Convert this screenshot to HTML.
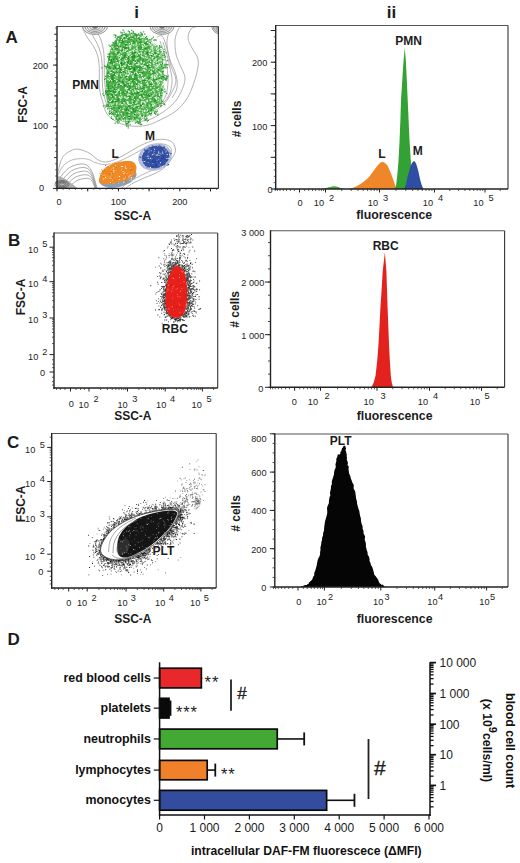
<!DOCTYPE html>
<html><head><meta charset="utf-8"><style>
html,body{margin:0;padding:0;background:#fff;}
svg{display:block;font-family:"Liberation Sans",sans-serif;}
</style></head><body>
<svg width="520" height="863" viewBox="0 0 520 863">
<rect width="520" height="863" fill="#fff"/>
<text x="136.50" y="17.70" font-size="17" font-weight="bold" text-anchor="middle" fill="#1c1c1c">i</text>
<text x="391.60" y="17.70" font-size="17" font-weight="bold" text-anchor="middle" fill="#1c1c1c">ii</text>
<text x="5.50" y="43.00" font-size="17" font-weight="bold" text-anchor="start" fill="#1c1c1c">A</text>
<text x="8.00" y="245.80" font-size="17" font-weight="bold" text-anchor="start" fill="#1c1c1c">B</text>
<text x="7.00" y="448.30" font-size="17" font-weight="bold" text-anchor="start" fill="#1c1c1c">C</text>
<text x="7.50" y="644.60" font-size="17" font-weight="bold" text-anchor="start" fill="#1c1c1c">D</text>
<path d="M82.0,26.5 C82.8,28.2 84.8,33.2 87.0,37.0 C89.2,40.8 93.0,44.7 95.0,49.0 C97.0,53.3 98.2,56.5 99.0,63.0 C99.8,69.5 98.9,81.7 99.5,88.0 C100.1,94.3 101.2,96.7 102.5,101.0 C103.8,105.3 104.4,110.4 107.0,114.0 C109.6,117.6 114.0,120.5 118.0,122.5 C122.0,124.5 126.3,125.5 131.0,126.0 C135.7,126.5 141.2,126.5 146.0,125.5 C150.8,124.5 155.0,122.4 160.0,120.0 C165.0,117.6 171.7,114.3 176.0,111.0 C180.3,107.7 183.3,103.8 186.0,100.0 C188.7,96.2 190.2,92.7 192.0,88.0 C193.8,83.3 196.0,76.8 197.0,72.0 C198.0,67.2 198.8,63.0 198.0,59.0 C197.2,55.0 193.7,51.5 192.0,48.0 C190.3,44.5 188.2,41.2 188.0,38.0 C187.8,34.8 189.5,30.9 191.0,29.0 C192.5,27.1 196.0,26.9 197.0,26.5" fill="none" stroke="#9a9a9a" stroke-width="0.75"/>
<path d="M88.0,26.5 C88.8,28.1 91.2,32.4 93.0,36.0 C94.8,39.6 97.5,43.7 99.0,48.0 C100.5,52.3 101.4,55.7 102.0,62.0 C102.6,68.3 102.0,79.8 102.5,86.0 C103.0,92.2 103.8,94.8 105.0,99.0 C106.2,103.2 107.5,107.8 110.0,111.0 C112.5,114.2 116.2,116.8 120.0,118.5 C123.8,120.2 128.3,121.2 133.0,121.5 C137.7,121.8 143.5,121.2 148.0,120.0 C152.5,118.8 155.8,116.7 160.0,114.0 C164.2,111.3 169.5,107.7 173.0,104.0 C176.5,100.3 179.0,96.3 181.0,92.0 C183.0,87.7 185.2,82.5 185.0,78.0 C184.8,73.5 181.5,69.0 180.0,65.0 C178.5,61.0 176.8,58.2 176.0,54.0 C175.2,49.8 174.7,44.0 175.0,40.0 C175.3,36.0 177.0,32.2 178.0,30.0 C179.0,27.8 180.5,27.1 181.0,26.5" fill="none" stroke="#9a9a9a" stroke-width="0.75"/>
<path d="M96.0,31.0 C96.8,32.5 99.7,36.0 101.0,40.0 C102.3,44.0 103.4,48.3 104.0,55.0 C104.6,61.7 104.0,73.0 104.5,80.0 C105.0,87.0 105.6,92.3 107.0,97.0 C108.4,101.7 110.2,105.2 113.0,108.0 C115.8,110.8 119.8,112.7 124.0,114.0 C128.2,115.3 133.3,116.3 138.0,116.0 C142.7,115.7 147.7,114.0 152.0,112.0 C156.3,110.0 160.7,107.3 164.0,104.0 C167.3,100.7 170.0,96.0 172.0,92.0 C174.0,88.0 176.2,84.3 176.0,80.0 C175.8,75.7 172.3,70.7 171.0,66.0 C169.7,61.3 168.7,56.3 168.0,52.0 C167.3,47.7 166.7,43.7 167.0,40.0 C167.3,36.3 169.5,31.7 170.0,30.0" fill="none" stroke="#9a9a9a" stroke-width="0.75"/>
<path d="M160.0,41.0 C160.7,43.0 162.8,48.5 164.0,53.0 C165.2,57.5 166.3,63.2 167.0,68.0 C167.7,72.8 168.2,77.5 168.0,82.0 C167.8,86.5 167.3,91.3 166.0,95.0 C164.7,98.7 162.7,101.5 160.0,104.0 C157.3,106.5 153.7,108.7 150.0,110.0 C146.3,111.3 140.0,111.7 138.0,112.0" fill="none" stroke="#9a9a9a" stroke-width="0.75"/>
<path d="M163.0,42.0 C163.7,44.2 165.8,50.7 167.0,55.0 C168.2,59.3 169.2,63.8 170.0,68.0 C170.8,72.2 172.0,75.8 172.0,80.0 C172.0,84.2 171.5,89.2 170.0,93.0 C168.5,96.8 166.0,100.2 163.0,103.0 C160.0,105.8 153.8,108.8 152.0,110.0" fill="none" stroke="#9a9a9a" stroke-width="0.75"/>
<path d="M157.0,37.0 C157.8,36.8 160.5,34.7 162.0,36.0 C163.5,37.3 164.7,41.0 166.0,45.0 C167.3,49.0 168.3,55.0 170.0,60.0 C171.7,65.0 174.8,70.3 176.0,75.0 C177.2,79.7 177.7,84.2 177.0,88.0 C176.3,91.8 172.8,96.3 172.0,98.0" fill="none" stroke="#9a9a9a" stroke-width="0.75"/>
<defs><clipPath id="cpA"><rect x="57" y="26.5" width="161.5" height="161.5"/></clipPath></defs>
<g clip-path="url(#cpA)">
<ellipse cx="95" cy="26.5" rx="12.5" ry="8.0" fill="#f0f0f0" stroke="#6f6f6f" stroke-width="0.7"/>
<ellipse cx="95" cy="26.5" rx="10.1" ry="6.5" fill="none" stroke="#6f6f6f" stroke-width="0.7"/>
<ellipse cx="95" cy="26.5" rx="7.8" ry="5.0" fill="none" stroke="#6f6f6f" stroke-width="0.7"/>
<ellipse cx="95" cy="26.5" rx="5.4" ry="3.4" fill="none" stroke="#6f6f6f" stroke-width="0.7"/>
<ellipse cx="95" cy="26.5" rx="3.0" ry="1.9" fill="none" stroke="#6f6f6f" stroke-width="0.7"/>
<ellipse cx="95" cy="26.5" rx="2.5" ry="2.0" fill="#777"/>
<ellipse cx="162" cy="26.5" rx="12.0" ry="8.0" fill="#f0f0f0" stroke="#6f6f6f" stroke-width="0.7"/>
<ellipse cx="162" cy="26.5" rx="9.7" ry="6.5" fill="none" stroke="#6f6f6f" stroke-width="0.7"/>
<ellipse cx="162" cy="26.5" rx="7.4" ry="5.0" fill="none" stroke="#6f6f6f" stroke-width="0.7"/>
<ellipse cx="162" cy="26.5" rx="5.2" ry="3.4" fill="none" stroke="#6f6f6f" stroke-width="0.7"/>
<ellipse cx="162" cy="26.5" rx="2.9" ry="1.9" fill="none" stroke="#6f6f6f" stroke-width="0.7"/>
<ellipse cx="162" cy="26.5" rx="2.4" ry="2.0" fill="#777"/>
<ellipse cx="219" cy="26.5" rx="7.0" ry="7.0" fill="#f0f0f0" stroke="#6f6f6f" stroke-width="0.7"/>
<ellipse cx="219" cy="26.5" rx="5.7" ry="5.7" fill="none" stroke="#6f6f6f" stroke-width="0.7"/>
<ellipse cx="219" cy="26.5" rx="4.3" ry="4.3" fill="none" stroke="#6f6f6f" stroke-width="0.7"/>
<ellipse cx="219" cy="26.5" rx="3.0" ry="3.0" fill="none" stroke="#6f6f6f" stroke-width="0.7"/>
<ellipse cx="219" cy="26.5" rx="1.7" ry="1.7" fill="none" stroke="#6f6f6f" stroke-width="0.7"/>
<ellipse cx="219" cy="26.5" rx="1.4" ry="1.8" fill="#777"/>
</g>
<path d="M57.0,176.0 C57.9,172.9 59.9,161.8 62.5,157.5 C65.1,153.2 69.6,151.3 72.5,150.0 C75.4,148.7 77.1,148.9 80.0,149.5 C82.9,150.1 87.1,151.8 90.0,153.5 C92.9,155.2 95.0,158.1 97.5,159.5 C100.0,160.9 102.1,162.0 105.0,162.0 C107.9,162.0 111.7,160.8 115.0,159.5 C118.3,158.2 121.7,156.3 125.0,154.5 C128.3,152.7 131.7,150.3 135.0,148.5 C138.3,146.7 141.7,144.9 145.0,143.5 C148.3,142.1 151.7,140.7 155.0,140.0 C158.3,139.3 162.1,139.1 165.0,139.5 C167.9,139.9 170.8,140.8 172.5,142.5 C174.2,144.2 175.5,147.5 175.5,150.0 C175.5,152.5 174.2,154.7 172.5,157.5 C170.8,160.3 167.9,164.3 165.0,167.0 C162.1,169.7 158.3,171.8 155.0,173.5 C151.7,175.2 147.9,176.2 145.0,177.5 C142.1,178.8 140.0,179.8 137.5,181.0 C135.0,182.2 131.9,183.8 130.0,185.0 C128.1,186.2 126.7,187.5 126.0,188.0" fill="none" stroke="#9a9a9a" stroke-width="0.75"/>
<path d="M57.0,177.0 C58.0,175.2 60.5,168.8 63.0,166.0 C65.5,163.2 68.7,161.2 72.0,160.0 C75.3,158.8 79.7,158.6 82.7,158.6 C85.7,158.6 88.0,159.3 90.0,160.0 C92.0,160.7 92.8,161.8 95.0,162.5 C97.2,163.2 100.2,164.3 103.0,164.5 C105.8,164.7 108.8,164.2 112.0,163.5 C115.2,162.8 118.7,161.4 122.0,160.0 C125.3,158.6 128.5,156.8 132.0,155.0 C135.5,153.2 139.5,150.7 143.0,149.0 C146.5,147.3 149.7,145.8 153.0,145.0 C156.3,144.2 160.2,143.7 163.0,144.0 C165.8,144.3 168.6,145.5 170.0,147.0 C171.4,148.5 172.0,150.7 171.5,153.0 C171.0,155.3 169.4,158.5 167.0,161.0 C164.6,163.5 160.5,166.0 157.0,168.0 C153.5,170.0 149.5,171.3 146.0,173.0 C142.5,174.7 139.2,176.3 136.0,178.0 C132.8,179.7 129.3,181.3 127.0,183.0 C124.7,184.7 122.8,187.2 122.0,188.0" fill="none" stroke="#9a9a9a" stroke-width="0.7"/>
<path d="M58.0,180.0 C59.9,177.9 65.3,170.2 69.6,167.5 C73.9,164.9 80.1,163.4 83.8,164.0 C87.5,164.6 89.5,167.2 91.7,171.2 C93.9,175.2 96.1,185.2 97.0,188.0" fill="none" stroke="#8a8a8a" stroke-width="0.7"/>
<path d="M61.0,181.5 C62.8,179.7 67.7,173.0 71.7,170.7 C75.7,168.3 81.4,167.1 84.8,167.6 C88.2,168.1 89.9,170.3 91.8,173.7 C93.8,177.1 95.7,185.6 96.5,188.0" fill="none" stroke="#8a8a8a" stroke-width="0.7"/>
<path d="M64.0,183.0 C65.6,181.5 70.2,175.8 73.8,173.8 C77.4,171.8 82.8,170.8 85.8,171.2 C88.8,171.6 90.2,173.4 91.9,176.2 C93.6,179.0 95.3,186.0 96.0,188.0" fill="none" stroke="#8a8a8a" stroke-width="0.7"/>
<path d="M67.0,184.5 C68.5,183.2 72.6,178.6 75.9,176.9 C79.2,175.3 84.1,174.5 86.8,174.8 C89.5,175.1 90.6,176.6 92.0,178.8 C93.5,181.0 94.9,186.5 95.5,188.0" fill="none" stroke="#8a8a8a" stroke-width="0.7"/>
<path d="M70.0,186.0 C71.3,185.0 75.0,181.3 78.0,180.1 C81.0,178.8 85.4,178.2 87.8,178.4 C90.2,178.6 90.9,179.7 92.1,181.3 C93.3,182.9 94.5,186.9 95.0,188.0" fill="none" stroke="#8a8a8a" stroke-width="0.7"/>
<path d="M57,176 C62,176 67,180 71,183 C74,185 76,187 77,188 L57,188Z" fill="#b0b0b0"/>
<ellipse cx="62" cy="184.5" rx="7.0" ry="4.0" fill="none" stroke="#666" stroke-width="0.8"/>
<ellipse cx="62" cy="184.5" rx="5.5" ry="3.2" fill="none" stroke="#666" stroke-width="0.8"/>
<ellipse cx="62" cy="184.5" rx="4.0" ry="2.4" fill="none" stroke="#666" stroke-width="0.8"/>
<ellipse cx="62" cy="184.5" rx="2.5" ry="1.6" fill="none" stroke="#666" stroke-width="0.8"/>
<defs><radialGradient id="gg" cx="0.45" cy="0.5" r="0.65"><stop offset="0" stop-color="#3aa83a"/><stop offset="0.7" stop-color="#55b553"/><stop offset="1" stop-color="#8fcc8c"/></radialGradient></defs>
<path d="M123.0,34.0 C125.5,33.2 129.2,33.4 132.0,33.5 C134.8,33.6 137.0,33.4 140.0,34.5 C143.0,35.6 147.0,37.9 150.0,40.0 C153.0,42.1 156.0,44.5 158.0,47.0 C160.0,49.5 161.1,52.0 162.0,55.0 C162.9,58.0 163.2,61.2 163.5,65.0 C163.8,68.8 164.0,73.5 164.0,78.0 C164.0,82.5 164.2,87.8 163.5,92.0 C162.8,96.2 161.6,99.8 160.0,103.0 C158.4,106.2 156.3,108.6 154.0,111.0 C151.7,113.4 148.7,115.8 146.0,117.5 C143.3,119.2 141.3,120.2 138.0,121.0 C134.7,121.8 129.5,122.3 126.0,122.0 C122.5,121.7 119.5,120.6 117.0,119.0 C114.5,117.4 112.6,115.0 111.0,112.5 C109.4,110.0 108.3,107.4 107.5,104.0 C106.7,100.6 106.2,96.3 106.0,92.0 C105.8,87.7 105.8,82.3 106.0,78.0 C106.2,73.7 106.5,69.8 107.0,66.0 C107.5,62.2 108.2,58.5 109.0,55.0 C109.8,51.5 110.7,47.8 112.0,45.0 C113.3,42.2 115.2,39.8 117.0,38.0 C118.8,36.2 120.5,34.8 123.0,34.0Z" fill="url(#gg)" stroke="none" stroke-width="1"/>
<path fill="#23962a" d="M132.0 83.1h1.2v1.2h-1.2zM108.5 89.5h1.2v1.2h-1.2zM117.2 55.0h1.2v1.2h-1.2zM140.1 53.6h1.2v1.2h-1.2zM149.7 43.0h1.2v1.2h-1.2zM125.8 94.7h1.2v1.2h-1.2zM109.0 90.5h1.2v1.2h-1.2zM134.8 88.1h1.2v1.2h-1.2zM131.7 89.6h1.2v1.2h-1.2zM127.4 83.9h1.2v1.2h-1.2zM117.2 114.7h1.2v1.2h-1.2zM128.8 105.5h1.2v1.2h-1.2zM161.7 73.7h1.2v1.2h-1.2zM163.0 74.0h1.2v1.2h-1.2zM147.1 102.4h1.2v1.2h-1.2zM116.8 48.2h1.2v1.2h-1.2zM141.9 36.4h1.2v1.2h-1.2zM128.7 85.1h1.2v1.2h-1.2zM111.7 72.2h1.2v1.2h-1.2zM141.3 90.5h1.2v1.2h-1.2zM152.2 80.4h1.2v1.2h-1.2zM126.9 91.8h1.2v1.2h-1.2zM139.0 76.1h1.2v1.2h-1.2zM122.8 98.4h1.2v1.2h-1.2zM140.9 114.9h1.2v1.2h-1.2zM140.3 105.0h1.2v1.2h-1.2zM157.2 59.2h1.2v1.2h-1.2zM116.0 94.4h1.2v1.2h-1.2zM123.6 68.7h1.2v1.2h-1.2zM129.2 37.8h1.2v1.2h-1.2zM116.7 44.8h1.2v1.2h-1.2zM141.9 45.7h1.2v1.2h-1.2zM138.7 55.6h1.2v1.2h-1.2zM141.3 42.4h1.2v1.2h-1.2zM146.5 64.8h1.2v1.2h-1.2zM112.6 101.3h1.2v1.2h-1.2zM123.9 36.1h1.2v1.2h-1.2zM149.4 86.6h1.2v1.2h-1.2zM123.0 107.0h1.2v1.2h-1.2zM136.9 35.2h1.2v1.2h-1.2zM107.3 72.7h1.2v1.2h-1.2zM122.3 42.1h1.2v1.2h-1.2zM133.8 68.2h1.2v1.2h-1.2zM127.8 38.7h1.2v1.2h-1.2zM119.9 112.7h1.2v1.2h-1.2zM146.7 93.0h1.2v1.2h-1.2zM111.4 76.8h1.2v1.2h-1.2zM133.7 54.9h1.2v1.2h-1.2zM120.9 66.1h1.2v1.2h-1.2zM147.0 104.5h1.2v1.2h-1.2zM146.6 70.0h1.2v1.2h-1.2zM126.1 81.1h1.2v1.2h-1.2zM124.9 44.0h1.2v1.2h-1.2zM134.0 69.6h1.2v1.2h-1.2zM162.0 75.8h1.2v1.2h-1.2zM108.1 85.8h1.2v1.2h-1.2zM128.2 116.6h1.2v1.2h-1.2zM111.5 99.7h1.2v1.2h-1.2zM115.2 42.9h1.2v1.2h-1.2zM120.0 63.0h1.2v1.2h-1.2zM139.9 57.5h1.2v1.2h-1.2zM127.2 86.2h1.2v1.2h-1.2zM160.2 92.7h1.2v1.2h-1.2zM127.3 58.4h1.2v1.2h-1.2zM128.5 58.8h1.2v1.2h-1.2zM117.6 38.9h1.2v1.2h-1.2zM119.6 56.1h1.2v1.2h-1.2zM107.0 89.1h1.2v1.2h-1.2zM138.1 110.5h1.2v1.2h-1.2zM127.4 105.7h1.2v1.2h-1.2zM130.8 88.4h1.2v1.2h-1.2zM134.4 72.5h1.2v1.2h-1.2zM111.5 102.1h1.2v1.2h-1.2zM154.0 87.6h1.2v1.2h-1.2zM125.4 51.1h1.2v1.2h-1.2zM139.6 117.2h1.2v1.2h-1.2zM139.1 42.1h1.2v1.2h-1.2zM127.0 64.2h1.2v1.2h-1.2zM154.6 72.1h1.2v1.2h-1.2zM113.9 61.7h1.2v1.2h-1.2zM134.0 114.1h1.2v1.2h-1.2zM113.1 74.6h1.2v1.2h-1.2zM126.1 113.2h1.2v1.2h-1.2zM114.1 78.3h1.2v1.2h-1.2zM121.6 40.0h1.2v1.2h-1.2zM144.3 94.8h1.2v1.2h-1.2zM120.7 84.4h1.2v1.2h-1.2zM118.5 108.1h1.2v1.2h-1.2zM137.0 51.0h1.2v1.2h-1.2zM152.8 85.4h1.2v1.2h-1.2zM151.6 91.2h1.2v1.2h-1.2zM132.2 75.0h1.2v1.2h-1.2zM121.0 83.7h1.2v1.2h-1.2zM124.3 116.8h1.2v1.2h-1.2zM145.1 57.9h1.2v1.2h-1.2zM107.6 85.2h1.2v1.2h-1.2zM123.9 106.5h1.2v1.2h-1.2zM141.3 60.7h1.2v1.2h-1.2zM117.4 72.6h1.2v1.2h-1.2zM149.9 113.4h1.2v1.2h-1.2zM138.9 66.6h1.2v1.2h-1.2zM114.1 64.8h1.2v1.2h-1.2zM115.5 67.6h1.2v1.2h-1.2zM137.0 42.9h1.2v1.2h-1.2zM121.8 103.0h1.2v1.2h-1.2zM117.1 72.0h1.2v1.2h-1.2zM135.2 47.6h1.2v1.2h-1.2zM154.7 100.3h1.2v1.2h-1.2zM151.7 85.9h1.2v1.2h-1.2zM121.7 109.8h1.2v1.2h-1.2zM153.2 78.0h1.2v1.2h-1.2zM107.7 94.9h1.2v1.2h-1.2zM128.7 38.2h1.2v1.2h-1.2zM132.3 35.2h1.2v1.2h-1.2zM159.6 56.1h1.2v1.2h-1.2zM111.0 89.9h1.2v1.2h-1.2zM149.5 112.7h1.2v1.2h-1.2zM141.6 63.5h1.2v1.2h-1.2zM131.0 36.5h1.2v1.2h-1.2zM126.7 36.8h1.2v1.2h-1.2zM136.5 69.7h1.2v1.2h-1.2zM111.8 78.9h1.2v1.2h-1.2zM116.6 58.5h1.2v1.2h-1.2zM107.5 72.1h1.2v1.2h-1.2zM131.3 42.6h1.2v1.2h-1.2zM133.2 63.2h1.2v1.2h-1.2zM134.6 98.9h1.2v1.2h-1.2zM125.4 36.2h1.2v1.2h-1.2zM150.9 113.1h1.2v1.2h-1.2zM143.8 86.8h1.2v1.2h-1.2zM121.1 40.3h1.2v1.2h-1.2zM142.2 82.0h1.2v1.2h-1.2zM109.6 93.8h1.2v1.2h-1.2zM133.8 98.6h1.2v1.2h-1.2zM116.4 76.7h1.2v1.2h-1.2zM131.6 81.1h1.2v1.2h-1.2zM120.4 68.7h1.2v1.2h-1.2zM134.5 87.2h1.2v1.2h-1.2zM131.8 72.5h1.2v1.2h-1.2zM158.5 96.6h1.2v1.2h-1.2zM128.8 64.4h1.2v1.2h-1.2zM119.0 80.1h1.2v1.2h-1.2zM137.8 99.2h1.2v1.2h-1.2zM121.7 103.7h1.2v1.2h-1.2zM131.9 93.8h1.2v1.2h-1.2zM136.0 34.6h1.2v1.2h-1.2zM117.1 98.9h1.2v1.2h-1.2zM137.7 120.6h1.2v1.2h-1.2zM111.6 94.9h1.2v1.2h-1.2zM151.2 80.4h1.2v1.2h-1.2zM127.6 61.1h1.2v1.2h-1.2zM141.8 60.7h1.2v1.2h-1.2zM158.9 77.5h1.2v1.2h-1.2zM136.6 72.6h1.2v1.2h-1.2zM122.5 102.8h1.2v1.2h-1.2zM150.2 68.9h1.2v1.2h-1.2zM146.8 80.3h1.2v1.2h-1.2zM112.1 113.1h1.2v1.2h-1.2zM124.9 119.2h1.2v1.2h-1.2zM120.3 85.1h1.2v1.2h-1.2zM148.2 78.0h1.2v1.2h-1.2zM106.3 81.2h1.2v1.2h-1.2zM107.9 86.8h1.2v1.2h-1.2zM156.4 60.5h1.2v1.2h-1.2zM151.3 104.2h1.2v1.2h-1.2zM163.2 75.5h1.2v1.2h-1.2zM163.0 67.0h1.2v1.2h-1.2zM115.1 94.2h1.2v1.2h-1.2zM134.7 54.3h1.2v1.2h-1.2zM116.2 66.3h1.2v1.2h-1.2zM110.0 80.5h1.2v1.2h-1.2zM113.1 73.2h1.2v1.2h-1.2zM143.7 91.1h1.2v1.2h-1.2zM110.6 91.1h1.2v1.2h-1.2zM134.0 117.0h1.2v1.2h-1.2zM134.7 110.8h1.2v1.2h-1.2zM111.9 95.5h1.2v1.2h-1.2zM120.7 118.4h1.2v1.2h-1.2zM140.4 66.6h1.2v1.2h-1.2zM136.3 70.7h1.2v1.2h-1.2zM159.0 50.9h1.2v1.2h-1.2zM148.4 94.5h1.2v1.2h-1.2zM144.3 63.5h1.2v1.2h-1.2zM153.4 79.1h1.2v1.2h-1.2zM126.2 53.9h1.2v1.2h-1.2zM148.5 95.7h1.2v1.2h-1.2zM108.0 74.9h1.2v1.2h-1.2zM119.7 48.5h1.2v1.2h-1.2zM148.9 78.2h1.2v1.2h-1.2zM115.3 96.6h1.2v1.2h-1.2zM137.3 79.6h1.2v1.2h-1.2zM108.6 106.2h1.2v1.2h-1.2zM162.0 67.9h1.2v1.2h-1.2zM160.9 78.1h1.2v1.2h-1.2zM123.8 61.0h1.2v1.2h-1.2zM118.3 80.6h1.2v1.2h-1.2zM132.8 94.5h1.2v1.2h-1.2zM118.8 93.0h1.2v1.2h-1.2zM142.3 52.1h1.2v1.2h-1.2zM158.5 55.8h1.2v1.2h-1.2zM115.4 92.3h1.2v1.2h-1.2zM126.6 108.9h1.2v1.2h-1.2zM116.3 87.8h1.2v1.2h-1.2zM134.5 70.9h1.2v1.2h-1.2zM161.2 75.6h1.2v1.2h-1.2zM123.0 59.7h1.2v1.2h-1.2zM135.0 103.4h1.2v1.2h-1.2zM138.0 113.6h1.2v1.2h-1.2zM124.0 85.1h1.2v1.2h-1.2zM128.0 64.5h1.2v1.2h-1.2zM120.8 49.9h1.2v1.2h-1.2zM124.9 105.3h1.2v1.2h-1.2zM114.6 55.8h1.2v1.2h-1.2zM150.9 72.0h1.2v1.2h-1.2zM133.4 59.0h1.2v1.2h-1.2zM125.5 68.2h1.2v1.2h-1.2zM133.8 37.3h1.2v1.2h-1.2zM142.8 67.1h1.2v1.2h-1.2zM131.2 118.5h1.2v1.2h-1.2zM119.4 71.4h1.2v1.2h-1.2zM132.2 55.9h1.2v1.2h-1.2zM111.4 108.4h1.2v1.2h-1.2zM137.8 98.9h1.2v1.2h-1.2zM114.6 84.8h1.2v1.2h-1.2zM125.0 71.9h1.2v1.2h-1.2zM131.0 38.7h1.2v1.2h-1.2zM150.1 52.4h1.2v1.2h-1.2zM143.2 62.6h1.2v1.2h-1.2zM111.1 108.3h1.2v1.2h-1.2zM142.6 65.8h1.2v1.2h-1.2zM142.9 59.3h1.2v1.2h-1.2zM112.3 92.3h1.2v1.2h-1.2zM107.7 83.8h1.2v1.2h-1.2zM146.8 44.9h1.2v1.2h-1.2zM111.3 61.5h1.2v1.2h-1.2zM130.9 82.5h1.2v1.2h-1.2zM147.5 99.2h1.2v1.2h-1.2zM121.4 47.5h1.2v1.2h-1.2zM123.7 114.9h1.2v1.2h-1.2zM121.0 78.0h1.2v1.2h-1.2zM143.3 70.4h1.2v1.2h-1.2zM131.0 38.2h1.2v1.2h-1.2zM133.2 95.0h1.2v1.2h-1.2zM155.2 78.4h1.2v1.2h-1.2zM115.4 40.6h1.2v1.2h-1.2zM127.9 88.7h1.2v1.2h-1.2zM146.3 88.7h1.2v1.2h-1.2zM145.6 53.7h1.2v1.2h-1.2zM146.1 41.1h1.2v1.2h-1.2zM132.6 91.3h1.2v1.2h-1.2zM126.8 72.9h1.2v1.2h-1.2zM146.0 64.6h1.2v1.2h-1.2zM141.5 107.7h1.2v1.2h-1.2zM152.7 89.6h1.2v1.2h-1.2zM117.7 83.7h1.2v1.2h-1.2zM144.2 117.9h1.2v1.2h-1.2zM143.6 116.6h1.2v1.2h-1.2zM137.9 54.5h1.2v1.2h-1.2zM117.3 46.5h1.2v1.2h-1.2zM122.6 80.0h1.2v1.2h-1.2zM129.8 37.5h1.2v1.2h-1.2zM152.4 87.7h1.2v1.2h-1.2zM111.0 101.3h1.2v1.2h-1.2zM135.2 98.5h1.2v1.2h-1.2zM126.2 111.6h1.2v1.2h-1.2zM139.9 41.6h1.2v1.2h-1.2zM120.7 51.1h1.2v1.2h-1.2zM129.2 104.0h1.2v1.2h-1.2zM122.0 50.1h1.2v1.2h-1.2zM157.0 85.7h1.2v1.2h-1.2zM108.7 66.0h1.2v1.2h-1.2zM128.7 97.1h1.2v1.2h-1.2zM132.9 69.0h1.2v1.2h-1.2zM154.1 98.9h1.2v1.2h-1.2zM117.7 106.2h1.2v1.2h-1.2zM125.0 51.9h1.2v1.2h-1.2zM129.6 34.9h1.2v1.2h-1.2zM114.4 102.5h1.2v1.2h-1.2zM123.3 37.8h1.2v1.2h-1.2zM140.5 38.9h1.2v1.2h-1.2zM118.8 65.7h1.2v1.2h-1.2zM132.3 39.3h1.2v1.2h-1.2z"/>
<path fill="#eefaec" d="M132.0 110.5h1.2v1.2h-1.2zM117.2 117.2h1.2v1.2h-1.2zM124.9 59.9h1.2v1.2h-1.2zM118.8 96.5h1.2v1.2h-1.2zM136.1 101.1h1.2v1.2h-1.2zM125.6 38.7h1.2v1.2h-1.2zM159.8 79.2h1.2v1.2h-1.2zM120.7 75.0h1.2v1.2h-1.2zM161.0 79.8h1.2v1.2h-1.2zM148.9 53.7h1.2v1.2h-1.2zM153.8 75.8h1.2v1.2h-1.2zM147.5 109.5h1.2v1.2h-1.2zM120.0 56.6h1.2v1.2h-1.2zM140.3 89.9h1.2v1.2h-1.2zM119.2 96.7h1.2v1.2h-1.2zM138.1 89.7h1.2v1.2h-1.2zM134.3 115.4h1.2v1.2h-1.2zM115.4 51.2h1.2v1.2h-1.2zM128.8 51.2h1.2v1.2h-1.2zM160.1 72.9h1.2v1.2h-1.2zM120.7 97.6h1.2v1.2h-1.2zM116.8 88.3h1.2v1.2h-1.2zM138.4 39.1h1.2v1.2h-1.2zM133.1 90.6h1.2v1.2h-1.2zM124.5 69.3h1.2v1.2h-1.2zM115.7 59.5h1.2v1.2h-1.2zM144.9 103.2h1.2v1.2h-1.2zM116.4 74.5h1.2v1.2h-1.2zM148.7 104.2h1.2v1.2h-1.2zM141.2 74.7h1.2v1.2h-1.2zM119.1 109.5h1.2v1.2h-1.2zM110.1 104.7h1.2v1.2h-1.2zM122.6 61.2h1.2v1.2h-1.2zM159.7 59.6h1.2v1.2h-1.2zM157.9 97.3h1.2v1.2h-1.2zM132.6 100.8h1.2v1.2h-1.2zM134.9 91.5h1.2v1.2h-1.2zM136.6 39.5h1.2v1.2h-1.2zM117.2 66.2h1.2v1.2h-1.2zM135.9 42.9h1.2v1.2h-1.2zM118.5 89.8h1.2v1.2h-1.2zM121.6 96.4h1.2v1.2h-1.2zM128.3 64.9h1.2v1.2h-1.2zM117.4 38.0h1.2v1.2h-1.2zM142.0 36.9h1.2v1.2h-1.2zM153.8 94.6h1.2v1.2h-1.2zM122.2 69.6h1.2v1.2h-1.2zM123.2 110.0h1.2v1.2h-1.2zM106.5 88.8h1.2v1.2h-1.2zM120.8 83.9h1.2v1.2h-1.2zM126.3 101.1h1.2v1.2h-1.2zM130.7 120.5h1.2v1.2h-1.2zM140.9 117.6h1.2v1.2h-1.2zM128.9 111.7h1.2v1.2h-1.2zM130.3 107.3h1.2v1.2h-1.2zM109.9 78.8h1.2v1.2h-1.2zM147.1 93.5h1.2v1.2h-1.2zM123.3 80.4h1.2v1.2h-1.2zM126.3 119.4h1.2v1.2h-1.2zM152.9 90.7h1.2v1.2h-1.2zM133.3 33.9h1.2v1.2h-1.2zM116.4 96.4h1.2v1.2h-1.2zM130.6 85.6h1.2v1.2h-1.2zM138.4 119.0h1.2v1.2h-1.2zM125.2 49.3h1.2v1.2h-1.2zM163.3 92.2h1.2v1.2h-1.2zM111.8 98.6h1.2v1.2h-1.2zM124.7 57.0h1.2v1.2h-1.2zM119.2 84.0h1.2v1.2h-1.2zM143.6 62.2h1.2v1.2h-1.2zM144.9 94.0h1.2v1.2h-1.2zM125.2 97.2h1.2v1.2h-1.2zM125.4 70.7h1.2v1.2h-1.2zM150.3 84.8h1.2v1.2h-1.2zM145.9 40.1h1.2v1.2h-1.2zM140.8 101.8h1.2v1.2h-1.2zM131.5 97.8h1.2v1.2h-1.2zM142.5 57.6h1.2v1.2h-1.2zM146.9 100.2h1.2v1.2h-1.2zM128.1 90.5h1.2v1.2h-1.2zM108.3 100.2h1.2v1.2h-1.2zM134.6 36.5h1.2v1.2h-1.2zM140.7 52.4h1.2v1.2h-1.2zM116.0 62.2h1.2v1.2h-1.2zM115.0 74.1h1.2v1.2h-1.2zM120.6 83.3h1.2v1.2h-1.2zM142.2 46.1h1.2v1.2h-1.2zM128.5 116.6h1.2v1.2h-1.2zM115.1 77.0h1.2v1.2h-1.2zM162.8 88.5h1.2v1.2h-1.2zM140.9 55.4h1.2v1.2h-1.2zM135.6 52.5h1.2v1.2h-1.2zM141.6 54.0h1.2v1.2h-1.2zM129.2 91.3h1.2v1.2h-1.2zM152.5 42.5h1.2v1.2h-1.2zM136.9 89.6h1.2v1.2h-1.2zM118.0 112.6h1.2v1.2h-1.2zM141.1 60.7h1.2v1.2h-1.2zM145.5 45.7h1.2v1.2h-1.2zM141.0 83.7h1.2v1.2h-1.2zM155.8 66.3h1.2v1.2h-1.2zM140.4 60.7h1.2v1.2h-1.2zM140.5 96.2h1.2v1.2h-1.2zM133.7 62.5h1.2v1.2h-1.2zM118.2 53.7h1.2v1.2h-1.2zM138.1 35.9h1.2v1.2h-1.2zM138.4 116.3h1.2v1.2h-1.2zM122.9 67.7h1.2v1.2h-1.2zM152.1 45.7h1.2v1.2h-1.2zM120.1 51.3h1.2v1.2h-1.2zM146.7 58.3h1.2v1.2h-1.2zM123.0 48.5h1.2v1.2h-1.2zM112.5 59.3h1.2v1.2h-1.2zM136.3 89.8h1.2v1.2h-1.2zM110.2 103.2h1.2v1.2h-1.2zM118.7 63.0h1.2v1.2h-1.2zM137.9 62.2h1.2v1.2h-1.2zM141.7 88.9h1.2v1.2h-1.2zM128.4 70.3h1.2v1.2h-1.2zM145.7 53.3h1.2v1.2h-1.2zM142.0 36.1h1.2v1.2h-1.2zM132.1 102.5h1.2v1.2h-1.2zM156.4 51.4h1.2v1.2h-1.2zM149.5 92.6h1.2v1.2h-1.2zM117.9 102.6h1.2v1.2h-1.2zM132.5 90.2h1.2v1.2h-1.2zM123.8 60.2h1.2v1.2h-1.2zM139.6 114.6h1.2v1.2h-1.2zM116.9 56.0h1.2v1.2h-1.2zM144.7 85.7h1.2v1.2h-1.2zM157.0 82.3h1.2v1.2h-1.2zM150.1 96.9h1.2v1.2h-1.2zM146.6 45.5h1.2v1.2h-1.2zM156.4 88.9h1.2v1.2h-1.2zM137.4 94.4h1.2v1.2h-1.2zM124.5 78.8h1.2v1.2h-1.2zM127.6 101.2h1.2v1.2h-1.2zM129.5 47.6h1.2v1.2h-1.2zM157.5 47.0h1.2v1.2h-1.2zM149.4 41.3h1.2v1.2h-1.2zM156.2 96.2h1.2v1.2h-1.2zM139.0 109.8h1.2v1.2h-1.2zM131.2 44.0h1.2v1.2h-1.2zM158.5 63.2h1.2v1.2h-1.2zM157.4 89.6h1.2v1.2h-1.2zM112.0 47.5h1.2v1.2h-1.2zM141.0 85.5h1.2v1.2h-1.2zM141.3 107.1h1.2v1.2h-1.2zM142.8 36.4h1.2v1.2h-1.2zM128.3 115.6h1.2v1.2h-1.2zM117.7 69.2h1.2v1.2h-1.2zM149.9 63.7h1.2v1.2h-1.2zM130.5 58.2h1.2v1.2h-1.2zM117.0 88.6h1.2v1.2h-1.2zM114.0 89.4h1.2v1.2h-1.2zM126.9 36.6h1.2v1.2h-1.2zM108.7 80.1h1.2v1.2h-1.2zM155.5 72.6h1.2v1.2h-1.2zM151.9 58.3h1.2v1.2h-1.2zM143.2 113.2h1.2v1.2h-1.2zM149.5 99.6h1.2v1.2h-1.2zM141.9 77.0h1.2v1.2h-1.2zM153.2 60.3h1.2v1.2h-1.2zM136.8 46.3h1.2v1.2h-1.2zM156.9 61.6h1.2v1.2h-1.2zM153.4 111.3h1.2v1.2h-1.2zM140.6 69.5h1.2v1.2h-1.2zM147.4 84.6h1.2v1.2h-1.2zM144.9 37.5h1.2v1.2h-1.2zM132.3 76.5h1.2v1.2h-1.2zM142.3 78.2h1.2v1.2h-1.2zM135.4 84.4h1.2v1.2h-1.2zM130.1 95.5h1.2v1.2h-1.2zM140.3 73.1h1.2v1.2h-1.2zM161.5 83.4h1.2v1.2h-1.2zM138.1 78.1h1.2v1.2h-1.2zM139.2 112.3h1.2v1.2h-1.2zM112.1 92.7h1.2v1.2h-1.2zM132.7 49.8h1.2v1.2h-1.2zM157.1 49.9h1.2v1.2h-1.2zM121.5 114.5h1.2v1.2h-1.2zM148.7 91.7h1.2v1.2h-1.2zM119.2 55.9h1.2v1.2h-1.2zM155.8 98.5h1.2v1.2h-1.2zM146.9 41.9h1.2v1.2h-1.2zM163.0 82.6h1.2v1.2h-1.2zM115.2 77.6h1.2v1.2h-1.2zM127.9 78.5h1.2v1.2h-1.2zM158.0 49.3h1.2v1.2h-1.2zM119.2 103.4h1.2v1.2h-1.2zM156.9 65.5h1.2v1.2h-1.2zM138.8 72.9h1.2v1.2h-1.2zM144.0 97.9h1.2v1.2h-1.2zM112.9 69.9h1.2v1.2h-1.2zM145.8 67.4h1.2v1.2h-1.2zM125.4 49.9h1.2v1.2h-1.2zM119.7 57.8h1.2v1.2h-1.2zM128.1 59.7h1.2v1.2h-1.2zM134.7 113.1h1.2v1.2h-1.2zM113.9 110.2h1.2v1.2h-1.2zM136.2 63.6h1.2v1.2h-1.2zM156.0 61.4h1.2v1.2h-1.2zM154.1 93.4h1.2v1.2h-1.2zM116.8 70.8h1.2v1.2h-1.2zM136.3 57.7h1.2v1.2h-1.2zM137.9 105.3h1.2v1.2h-1.2zM114.8 96.1h1.2v1.2h-1.2zM116.3 80.2h1.2v1.2h-1.2zM121.7 66.1h1.2v1.2h-1.2zM151.8 72.3h1.2v1.2h-1.2zM150.6 77.6h1.2v1.2h-1.2zM125.0 86.9h1.2v1.2h-1.2zM126.6 77.0h1.2v1.2h-1.2zM127.9 107.1h1.2v1.2h-1.2zM139.9 95.3h1.2v1.2h-1.2zM128.6 45.2h1.2v1.2h-1.2zM144.9 54.7h1.2v1.2h-1.2zM109.2 101.4h1.2v1.2h-1.2zM146.4 79.0h1.2v1.2h-1.2zM141.2 74.1h1.2v1.2h-1.2zM119.6 97.9h1.2v1.2h-1.2zM139.9 119.9h1.2v1.2h-1.2zM117.0 82.0h1.2v1.2h-1.2zM142.2 64.6h1.2v1.2h-1.2zM148.7 70.8h1.2v1.2h-1.2zM113.0 69.1h1.2v1.2h-1.2zM142.2 81.0h1.2v1.2h-1.2zM150.5 47.1h1.2v1.2h-1.2zM130.4 69.9h1.2v1.2h-1.2zM135.7 71.5h1.2v1.2h-1.2zM121.3 118.3h1.2v1.2h-1.2zM162.8 72.0h1.2v1.2h-1.2zM135.0 59.1h1.2v1.2h-1.2zM109.1 106.4h1.2v1.2h-1.2zM113.5 84.4h1.2v1.2h-1.2zM125.7 88.0h1.2v1.2h-1.2zM154.4 55.4h1.2v1.2h-1.2zM136.1 43.4h1.2v1.2h-1.2zM145.2 76.4h1.2v1.2h-1.2zM134.8 66.0h1.2v1.2h-1.2zM160.9 86.6h1.2v1.2h-1.2zM113.1 85.1h1.2v1.2h-1.2zM132.4 63.6h1.2v1.2h-1.2zM136.4 112.6h1.2v1.2h-1.2zM128.0 54.6h1.2v1.2h-1.2zM146.4 101.0h1.2v1.2h-1.2zM122.0 109.9h1.2v1.2h-1.2zM130.9 83.7h1.2v1.2h-1.2zM116.7 39.0h1.2v1.2h-1.2zM125.5 65.3h1.2v1.2h-1.2zM148.9 50.7h1.2v1.2h-1.2zM120.2 114.5h1.2v1.2h-1.2zM148.4 52.7h1.2v1.2h-1.2zM140.3 92.2h1.2v1.2h-1.2zM119.9 74.3h1.2v1.2h-1.2zM140.8 103.0h1.2v1.2h-1.2zM153.3 84.4h1.2v1.2h-1.2zM117.9 103.1h1.2v1.2h-1.2zM158.6 63.9h1.2v1.2h-1.2zM135.9 86.7h1.2v1.2h-1.2zM111.6 89.3h1.2v1.2h-1.2zM139.2 96.0h1.2v1.2h-1.2zM109.8 72.1h1.2v1.2h-1.2zM129.1 46.0h1.2v1.2h-1.2zM123.3 36.1h1.2v1.2h-1.2zM140.9 65.6h1.2v1.2h-1.2zM109.5 69.8h1.2v1.2h-1.2z"/>
<path fill="#b9e6b4" d="M143.1 104.7h1.2v1.2h-1.2zM147.9 60.3h1.2v1.2h-1.2zM130.1 40.7h1.2v1.2h-1.2zM129.5 54.2h1.2v1.2h-1.2zM126.9 84.2h1.2v1.2h-1.2zM140.6 116.9h1.2v1.2h-1.2zM134.9 53.5h1.2v1.2h-1.2zM158.6 66.8h1.2v1.2h-1.2zM121.2 46.7h1.2v1.2h-1.2zM143.7 68.7h1.2v1.2h-1.2zM136.4 109.5h1.2v1.2h-1.2zM149.3 42.4h1.2v1.2h-1.2zM110.0 84.0h1.2v1.2h-1.2zM162.3 84.0h1.2v1.2h-1.2zM121.6 68.1h1.2v1.2h-1.2zM149.5 53.2h1.2v1.2h-1.2zM152.6 89.1h1.2v1.2h-1.2zM130.5 65.3h1.2v1.2h-1.2zM158.7 51.3h1.2v1.2h-1.2zM131.2 105.7h1.2v1.2h-1.2zM149.2 79.0h1.2v1.2h-1.2zM144.4 105.8h1.2v1.2h-1.2zM114.4 50.0h1.2v1.2h-1.2zM140.9 51.8h1.2v1.2h-1.2zM138.0 107.0h1.2v1.2h-1.2zM141.6 45.6h1.2v1.2h-1.2zM144.9 87.6h1.2v1.2h-1.2zM139.7 95.8h1.2v1.2h-1.2zM121.7 101.3h1.2v1.2h-1.2zM123.9 76.0h1.2v1.2h-1.2zM134.8 71.4h1.2v1.2h-1.2zM113.1 59.9h1.2v1.2h-1.2zM132.6 117.7h1.2v1.2h-1.2zM162.8 88.8h1.2v1.2h-1.2zM120.7 64.6h1.2v1.2h-1.2zM130.3 81.6h1.2v1.2h-1.2zM128.0 111.5h1.2v1.2h-1.2zM150.3 75.9h1.2v1.2h-1.2zM143.8 66.8h1.2v1.2h-1.2zM156.6 102.2h1.2v1.2h-1.2zM135.5 105.1h1.2v1.2h-1.2zM148.2 42.0h1.2v1.2h-1.2zM137.6 75.9h1.2v1.2h-1.2zM131.4 108.5h1.2v1.2h-1.2zM121.0 52.2h1.2v1.2h-1.2zM162.6 81.1h1.2v1.2h-1.2zM118.1 67.1h1.2v1.2h-1.2zM154.3 64.9h1.2v1.2h-1.2zM157.9 97.2h1.2v1.2h-1.2zM146.9 99.5h1.2v1.2h-1.2zM151.7 49.6h1.2v1.2h-1.2zM109.5 64.8h1.2v1.2h-1.2zM145.1 78.4h1.2v1.2h-1.2zM151.3 103.1h1.2v1.2h-1.2zM123.5 77.3h1.2v1.2h-1.2zM111.1 111.7h1.2v1.2h-1.2zM137.3 109.1h1.2v1.2h-1.2zM116.5 63.2h1.2v1.2h-1.2zM124.3 95.9h1.2v1.2h-1.2zM147.3 83.8h1.2v1.2h-1.2zM152.6 51.3h1.2v1.2h-1.2zM110.8 64.3h1.2v1.2h-1.2zM145.4 57.6h1.2v1.2h-1.2zM134.1 56.4h1.2v1.2h-1.2zM150.5 96.4h1.2v1.2h-1.2zM152.8 52.7h1.2v1.2h-1.2zM138.8 43.5h1.2v1.2h-1.2zM155.7 68.9h1.2v1.2h-1.2zM140.3 79.9h1.2v1.2h-1.2zM152.6 62.0h1.2v1.2h-1.2zM115.4 52.6h1.2v1.2h-1.2zM149.0 93.9h1.2v1.2h-1.2zM122.9 34.9h1.2v1.2h-1.2zM123.4 82.6h1.2v1.2h-1.2zM116.1 89.9h1.2v1.2h-1.2zM158.0 59.9h1.2v1.2h-1.2zM124.4 36.0h1.2v1.2h-1.2zM150.9 79.9h1.2v1.2h-1.2zM130.6 75.3h1.2v1.2h-1.2zM153.1 96.9h1.2v1.2h-1.2zM144.7 93.2h1.2v1.2h-1.2zM154.9 108.9h1.2v1.2h-1.2zM126.2 81.0h1.2v1.2h-1.2zM133.3 87.2h1.2v1.2h-1.2zM126.3 54.1h1.2v1.2h-1.2zM156.5 74.6h1.2v1.2h-1.2zM145.5 89.4h1.2v1.2h-1.2zM111.6 54.6h1.2v1.2h-1.2zM149.9 111.5h1.2v1.2h-1.2zM152.2 92.0h1.2v1.2h-1.2zM137.6 55.4h1.2v1.2h-1.2zM156.4 81.7h1.2v1.2h-1.2zM160.9 65.7h1.2v1.2h-1.2zM122.0 73.4h1.2v1.2h-1.2zM151.3 72.3h1.2v1.2h-1.2zM149.5 83.7h1.2v1.2h-1.2zM106.5 77.9h1.2v1.2h-1.2zM134.8 90.9h1.2v1.2h-1.2zM122.9 75.6h1.2v1.2h-1.2zM151.0 91.1h1.2v1.2h-1.2zM131.1 73.5h1.2v1.2h-1.2zM149.7 59.2h1.2v1.2h-1.2zM125.3 80.4h1.2v1.2h-1.2zM116.4 105.8h1.2v1.2h-1.2zM157.7 78.4h1.2v1.2h-1.2zM152.0 59.6h1.2v1.2h-1.2zM109.8 88.9h1.2v1.2h-1.2zM159.7 55.5h1.2v1.2h-1.2zM134.3 79.7h1.2v1.2h-1.2zM147.8 62.1h1.2v1.2h-1.2zM113.9 85.0h1.2v1.2h-1.2zM156.9 52.0h1.2v1.2h-1.2zM129.8 120.0h1.2v1.2h-1.2zM131.2 43.6h1.2v1.2h-1.2zM136.8 98.7h1.2v1.2h-1.2zM142.2 40.3h1.2v1.2h-1.2zM163.3 87.9h1.2v1.2h-1.2zM126.1 44.6h1.2v1.2h-1.2zM155.9 93.5h1.2v1.2h-1.2zM139.0 70.5h1.2v1.2h-1.2zM118.4 71.7h1.2v1.2h-1.2zM126.1 42.5h1.2v1.2h-1.2zM146.6 60.5h1.2v1.2h-1.2zM122.6 108.1h1.2v1.2h-1.2zM150.5 43.7h1.2v1.2h-1.2zM150.9 51.9h1.2v1.2h-1.2zM136.3 100.7h1.2v1.2h-1.2zM141.7 92.2h1.2v1.2h-1.2zM122.7 65.3h1.2v1.2h-1.2zM145.9 45.8h1.2v1.2h-1.2zM139.3 105.0h1.2v1.2h-1.2zM153.3 89.4h1.2v1.2h-1.2zM117.8 45.5h1.2v1.2h-1.2zM122.5 36.3h1.2v1.2h-1.2zM140.9 85.4h1.2v1.2h-1.2zM116.2 73.6h1.2v1.2h-1.2zM135.5 81.0h1.2v1.2h-1.2zM115.3 87.9h1.2v1.2h-1.2zM153.0 94.3h1.2v1.2h-1.2zM115.8 77.6h1.2v1.2h-1.2zM125.5 117.6h1.2v1.2h-1.2zM142.1 101.0h1.2v1.2h-1.2zM156.3 59.4h1.2v1.2h-1.2zM122.6 119.6h1.2v1.2h-1.2zM150.4 80.5h1.2v1.2h-1.2zM143.3 116.5h1.2v1.2h-1.2zM124.8 63.6h1.2v1.2h-1.2zM154.4 74.8h1.2v1.2h-1.2zM124.9 70.9h1.2v1.2h-1.2zM139.3 69.2h1.2v1.2h-1.2zM136.7 68.6h1.2v1.2h-1.2zM163.6 88.9h1.2v1.2h-1.2zM109.4 58.7h1.2v1.2h-1.2zM148.8 96.8h1.2v1.2h-1.2zM160.7 72.2h1.2v1.2h-1.2zM126.0 88.9h1.2v1.2h-1.2zM146.8 74.5h1.2v1.2h-1.2zM142.2 38.9h1.2v1.2h-1.2zM143.1 62.8h1.2v1.2h-1.2zM134.0 89.0h1.2v1.2h-1.2zM131.3 34.5h1.2v1.2h-1.2zM150.3 53.8h1.2v1.2h-1.2zM145.6 55.1h1.2v1.2h-1.2zM138.9 120.5h1.2v1.2h-1.2zM157.3 77.8h1.2v1.2h-1.2zM128.9 62.3h1.2v1.2h-1.2zM132.7 101.4h1.2v1.2h-1.2zM157.0 106.9h1.2v1.2h-1.2zM124.3 60.1h1.2v1.2h-1.2zM151.9 111.3h1.2v1.2h-1.2zM144.2 46.5h1.2v1.2h-1.2zM139.6 77.8h1.2v1.2h-1.2zM132.1 94.3h1.2v1.2h-1.2zM135.2 50.0h1.2v1.2h-1.2zM131.4 84.8h1.2v1.2h-1.2zM126.5 80.1h1.2v1.2h-1.2zM125.9 87.3h1.2v1.2h-1.2zM149.7 99.8h1.2v1.2h-1.2zM141.1 100.4h1.2v1.2h-1.2zM151.7 78.3h1.2v1.2h-1.2zM124.8 82.7h1.2v1.2h-1.2zM127.8 86.1h1.2v1.2h-1.2zM154.3 48.1h1.2v1.2h-1.2zM135.8 42.2h1.2v1.2h-1.2zM150.3 99.7h1.2v1.2h-1.2zM119.7 102.5h1.2v1.2h-1.2zM126.6 66.4h1.2v1.2h-1.2zM154.0 91.4h1.2v1.2h-1.2zM159.8 99.6h1.2v1.2h-1.2zM131.5 119.4h1.2v1.2h-1.2zM129.1 35.3h1.2v1.2h-1.2zM112.4 50.1h1.2v1.2h-1.2zM138.3 75.6h1.2v1.2h-1.2zM119.1 43.2h1.2v1.2h-1.2zM131.5 105.9h1.2v1.2h-1.2zM127.0 103.0h1.2v1.2h-1.2zM123.5 60.6h1.2v1.2h-1.2zM146.7 64.4h1.2v1.2h-1.2zM138.7 93.2h1.2v1.2h-1.2zM136.3 111.2h1.2v1.2h-1.2zM154.0 81.9h1.2v1.2h-1.2zM147.0 108.9h1.2v1.2h-1.2zM114.5 105.9h1.2v1.2h-1.2zM141.9 98.0h1.2v1.2h-1.2zM106.0 87.0h1.2v1.2h-1.2zM113.9 75.9h1.2v1.2h-1.2zM146.4 57.9h1.2v1.2h-1.2zM156.6 85.3h1.2v1.2h-1.2zM140.9 52.2h1.2v1.2h-1.2zM143.3 58.0h1.2v1.2h-1.2zM118.9 52.9h1.2v1.2h-1.2zM159.0 55.4h1.2v1.2h-1.2zM112.3 46.1h1.2v1.2h-1.2zM146.7 81.4h1.2v1.2h-1.2zM119.8 64.0h1.2v1.2h-1.2zM129.7 58.2h1.2v1.2h-1.2zM126.3 105.1h1.2v1.2h-1.2zM141.3 55.3h1.2v1.2h-1.2zM142.9 91.0h1.2v1.2h-1.2zM161.6 90.2h1.2v1.2h-1.2zM150.0 81.6h1.2v1.2h-1.2zM139.6 83.8h1.2v1.2h-1.2zM142.6 64.7h1.2v1.2h-1.2zM126.4 110.6h1.2v1.2h-1.2zM133.1 45.0h1.2v1.2h-1.2zM127.8 120.3h1.2v1.2h-1.2zM115.7 89.2h1.2v1.2h-1.2zM147.3 44.7h1.2v1.2h-1.2zM115.0 68.5h1.2v1.2h-1.2zM138.9 79.1h1.2v1.2h-1.2zM157.7 61.0h1.2v1.2h-1.2zM133.4 90.8h1.2v1.2h-1.2zM156.6 46.1h1.2v1.2h-1.2zM152.8 105.9h1.2v1.2h-1.2zM136.7 56.1h1.2v1.2h-1.2zM110.4 110.7h1.2v1.2h-1.2zM145.4 80.6h1.2v1.2h-1.2zM125.3 43.0h1.2v1.2h-1.2zM115.7 85.6h1.2v1.2h-1.2zM145.9 108.0h1.2v1.2h-1.2zM130.1 52.8h1.2v1.2h-1.2zM143.0 118.4h1.2v1.2h-1.2zM143.4 53.7h1.2v1.2h-1.2zM127.9 121.7h1.2v1.2h-1.2zM135.7 70.0h1.2v1.2h-1.2zM138.2 112.0h1.2v1.2h-1.2zM154.2 109.9h1.2v1.2h-1.2zM128.3 121.0h1.2v1.2h-1.2zM153.8 54.3h1.2v1.2h-1.2zM148.8 96.7h1.2v1.2h-1.2zM121.3 56.0h1.2v1.2h-1.2zM142.4 45.3h1.2v1.2h-1.2zM117.3 73.0h1.2v1.2h-1.2zM163.1 86.1h1.2v1.2h-1.2zM116.8 77.4h1.2v1.2h-1.2zM130.2 40.5h1.2v1.2h-1.2zM129.0 41.6h1.2v1.2h-1.2zM149.8 93.9h1.2v1.2h-1.2zM126.5 57.5h1.2v1.2h-1.2z"/>
<path fill="#178a1c" d="M112.8 81.1h1.2v1.2h-1.2zM132.8 72.0h1.2v1.2h-1.2zM111.8 75.6h1.2v1.2h-1.2zM108.7 81.8h1.2v1.2h-1.2zM149.1 67.1h1.2v1.2h-1.2zM127.7 79.4h1.2v1.2h-1.2zM120.9 63.2h1.2v1.2h-1.2zM128.0 71.4h1.2v1.2h-1.2zM111.2 78.0h1.2v1.2h-1.2zM126.3 65.4h1.2v1.2h-1.2zM153.7 96.5h1.2v1.2h-1.2zM153.9 55.0h1.2v1.2h-1.2zM137.1 67.2h1.2v1.2h-1.2zM127.9 121.2h1.2v1.2h-1.2zM134.0 56.1h1.2v1.2h-1.2zM123.2 115.7h1.2v1.2h-1.2zM126.7 41.9h1.2v1.2h-1.2zM153.4 81.3h1.2v1.2h-1.2zM128.5 62.4h1.2v1.2h-1.2zM154.0 108.5h1.2v1.2h-1.2zM129.0 115.7h1.2v1.2h-1.2zM134.1 68.4h1.2v1.2h-1.2zM147.0 38.7h1.2v1.2h-1.2zM149.3 61.6h1.2v1.2h-1.2zM139.6 49.4h1.2v1.2h-1.2zM132.2 68.5h1.2v1.2h-1.2zM150.6 76.2h1.2v1.2h-1.2zM129.4 71.4h1.2v1.2h-1.2zM158.5 49.9h1.2v1.2h-1.2zM153.0 45.0h1.2v1.2h-1.2zM135.3 109.6h1.2v1.2h-1.2zM111.0 71.5h1.2v1.2h-1.2zM120.1 81.6h1.2v1.2h-1.2zM134.9 34.3h1.2v1.2h-1.2zM143.7 84.9h1.2v1.2h-1.2zM154.8 99.7h1.2v1.2h-1.2zM119.8 45.9h1.2v1.2h-1.2zM149.7 83.8h1.2v1.2h-1.2zM144.9 37.2h1.2v1.2h-1.2zM113.9 88.8h1.2v1.2h-1.2zM139.2 70.1h1.2v1.2h-1.2zM128.3 88.5h1.2v1.2h-1.2zM138.6 51.0h1.2v1.2h-1.2zM136.7 106.3h1.2v1.2h-1.2zM123.4 37.2h1.2v1.2h-1.2zM117.2 88.3h1.2v1.2h-1.2zM115.3 67.1h1.2v1.2h-1.2zM127.4 106.9h1.2v1.2h-1.2zM126.8 62.0h1.2v1.2h-1.2zM130.1 62.8h1.2v1.2h-1.2zM114.3 91.4h1.2v1.2h-1.2zM113.5 107.1h1.2v1.2h-1.2zM110.8 59.0h1.2v1.2h-1.2zM124.4 76.5h1.2v1.2h-1.2zM146.5 44.0h1.2v1.2h-1.2zM126.1 108.3h1.2v1.2h-1.2zM111.3 59.8h1.2v1.2h-1.2zM115.5 88.7h1.2v1.2h-1.2zM146.7 64.9h1.2v1.2h-1.2zM141.8 81.6h1.2v1.2h-1.2zM123.0 70.7h1.2v1.2h-1.2zM125.9 44.1h1.2v1.2h-1.2zM146.5 110.5h1.2v1.2h-1.2zM140.6 94.8h1.2v1.2h-1.2zM127.5 57.7h1.2v1.2h-1.2zM112.4 94.1h1.2v1.2h-1.2zM115.3 42.4h1.2v1.2h-1.2zM118.5 118.0h1.2v1.2h-1.2zM133.7 41.4h1.2v1.2h-1.2zM113.4 60.4h1.2v1.2h-1.2zM160.9 94.7h1.2v1.2h-1.2zM151.7 104.0h1.2v1.2h-1.2zM116.9 53.8h1.2v1.2h-1.2zM118.1 52.3h1.2v1.2h-1.2zM118.0 102.6h1.2v1.2h-1.2zM108.7 58.9h1.2v1.2h-1.2zM128.7 68.6h1.2v1.2h-1.2zM157.3 50.7h1.2v1.2h-1.2zM134.6 93.2h1.2v1.2h-1.2zM114.9 56.4h1.2v1.2h-1.2zM137.8 112.9h1.2v1.2h-1.2zM135.1 52.1h1.2v1.2h-1.2zM135.9 59.8h1.2v1.2h-1.2zM118.9 56.9h1.2v1.2h-1.2zM147.1 66.4h1.2v1.2h-1.2zM124.5 44.8h1.2v1.2h-1.2zM115.2 77.5h1.2v1.2h-1.2zM133.0 109.5h1.2v1.2h-1.2zM149.5 41.7h1.2v1.2h-1.2zM124.3 56.6h1.2v1.2h-1.2zM137.4 88.5h1.2v1.2h-1.2zM132.5 107.7h1.2v1.2h-1.2zM125.8 109.8h1.2v1.2h-1.2zM130.0 38.7h1.2v1.2h-1.2zM154.0 100.3h1.2v1.2h-1.2zM114.5 84.4h1.2v1.2h-1.2zM115.0 101.3h1.2v1.2h-1.2zM113.7 53.1h1.2v1.2h-1.2zM130.0 68.4h1.2v1.2h-1.2zM134.6 63.0h1.2v1.2h-1.2zM128.2 121.1h1.2v1.2h-1.2zM112.8 59.0h1.2v1.2h-1.2zM115.3 66.8h1.2v1.2h-1.2zM131.0 86.4h1.2v1.2h-1.2zM144.5 43.0h1.2v1.2h-1.2zM133.3 100.5h1.2v1.2h-1.2zM131.7 93.8h1.2v1.2h-1.2zM113.3 72.1h1.2v1.2h-1.2zM140.6 43.5h1.2v1.2h-1.2zM157.8 87.6h1.2v1.2h-1.2zM143.6 63.4h1.2v1.2h-1.2zM142.1 90.4h1.2v1.2h-1.2zM123.6 37.0h1.2v1.2h-1.2zM126.1 35.3h1.2v1.2h-1.2zM119.4 40.0h1.2v1.2h-1.2zM141.5 43.5h1.2v1.2h-1.2zM147.5 61.6h1.2v1.2h-1.2zM147.5 52.6h1.2v1.2h-1.2zM137.3 97.5h1.2v1.2h-1.2zM135.6 63.0h1.2v1.2h-1.2zM112.3 86.2h1.2v1.2h-1.2zM122.8 82.3h1.2v1.2h-1.2zM142.5 107.6h1.2v1.2h-1.2zM139.7 53.9h1.2v1.2h-1.2zM151.1 55.0h1.2v1.2h-1.2zM120.9 64.8h1.2v1.2h-1.2zM141.4 118.0h1.2v1.2h-1.2zM119.3 90.7h1.2v1.2h-1.2zM145.0 47.7h1.2v1.2h-1.2zM152.5 71.6h1.2v1.2h-1.2zM125.2 78.9h1.2v1.2h-1.2zM128.3 75.1h1.2v1.2h-1.2zM146.6 52.1h1.2v1.2h-1.2zM162.5 71.3h1.2v1.2h-1.2zM123.8 79.4h1.2v1.2h-1.2zM108.8 94.4h1.2v1.2h-1.2zM122.5 118.3h1.2v1.2h-1.2zM125.6 53.6h1.2v1.2h-1.2zM144.8 115.7h1.2v1.2h-1.2zM148.8 77.1h1.2v1.2h-1.2zM144.6 80.1h1.2v1.2h-1.2zM149.9 89.0h1.2v1.2h-1.2zM150.1 47.3h1.2v1.2h-1.2zM115.2 100.9h1.2v1.2h-1.2zM139.1 38.9h1.2v1.2h-1.2zM131.7 90.3h1.2v1.2h-1.2zM121.9 38.7h1.2v1.2h-1.2zM131.0 65.8h1.2v1.2h-1.2zM135.4 66.0h1.2v1.2h-1.2zM109.9 88.4h1.2v1.2h-1.2zM109.4 104.4h1.2v1.2h-1.2zM149.0 95.4h1.2v1.2h-1.2zM133.5 110.9h1.2v1.2h-1.2zM109.7 88.3h1.2v1.2h-1.2zM127.4 86.1h1.2v1.2h-1.2zM134.1 113.7h1.2v1.2h-1.2zM125.7 75.9h1.2v1.2h-1.2zM154.6 53.5h1.2v1.2h-1.2zM146.5 58.8h1.2v1.2h-1.2zM142.0 54.1h1.2v1.2h-1.2zM134.8 72.4h1.2v1.2h-1.2zM107.2 90.8h1.2v1.2h-1.2zM114.3 66.5h1.2v1.2h-1.2zM153.5 58.3h1.2v1.2h-1.2zM113.2 91.4h1.2v1.2h-1.2zM136.9 99.8h1.2v1.2h-1.2zM114.2 45.4h1.2v1.2h-1.2zM128.9 79.3h1.2v1.2h-1.2zM147.3 65.3h1.2v1.2h-1.2zM149.8 83.4h1.2v1.2h-1.2zM149.6 80.8h1.2v1.2h-1.2zM124.0 84.5h1.2v1.2h-1.2zM133.8 67.0h1.2v1.2h-1.2zM142.2 103.3h1.2v1.2h-1.2zM113.9 74.6h1.2v1.2h-1.2zM120.6 42.0h1.2v1.2h-1.2zM114.1 52.3h1.2v1.2h-1.2zM122.5 91.9h1.2v1.2h-1.2zM133.4 57.0h1.2v1.2h-1.2zM120.1 113.5h1.2v1.2h-1.2zM151.2 55.5h1.2v1.2h-1.2zM110.1 91.4h1.2v1.2h-1.2zM155.1 99.5h1.2v1.2h-1.2zM129.0 118.3h1.2v1.2h-1.2zM157.1 62.3h1.2v1.2h-1.2zM130.3 55.8h1.2v1.2h-1.2zM150.4 93.9h1.2v1.2h-1.2zM124.1 85.0h1.2v1.2h-1.2zM161.0 90.3h1.2v1.2h-1.2zM136.6 92.7h1.2v1.2h-1.2zM127.6 83.3h1.2v1.2h-1.2zM122.4 114.0h1.2v1.2h-1.2zM123.5 56.7h1.2v1.2h-1.2zM139.6 48.5h1.2v1.2h-1.2zM126.0 66.5h1.2v1.2h-1.2zM147.3 109.7h1.2v1.2h-1.2zM147.2 53.9h1.2v1.2h-1.2zM132.9 41.2h1.2v1.2h-1.2zM159.1 51.4h1.2v1.2h-1.2zM134.1 73.3h1.2v1.2h-1.2zM111.2 75.5h1.2v1.2h-1.2zM112.0 48.3h1.2v1.2h-1.2zM154.5 52.0h1.2v1.2h-1.2zM144.7 100.1h1.2v1.2h-1.2zM118.5 106.5h1.2v1.2h-1.2zM157.4 105.9h1.2v1.2h-1.2zM140.0 105.1h1.2v1.2h-1.2zM135.2 74.8h1.2v1.2h-1.2zM123.1 40.9h1.2v1.2h-1.2zM145.8 109.6h1.2v1.2h-1.2zM129.6 95.7h1.2v1.2h-1.2zM137.3 92.6h1.2v1.2h-1.2zM137.0 56.3h1.2v1.2h-1.2zM107.1 93.8h1.2v1.2h-1.2zM116.3 42.3h1.2v1.2h-1.2zM150.2 62.4h1.2v1.2h-1.2zM137.5 105.9h1.2v1.2h-1.2zM145.2 100.2h1.2v1.2h-1.2zM107.8 74.0h1.2v1.2h-1.2zM141.6 54.7h1.2v1.2h-1.2zM133.3 60.0h1.2v1.2h-1.2zM155.3 53.0h1.2v1.2h-1.2zM134.6 102.2h1.2v1.2h-1.2zM130.3 98.3h1.2v1.2h-1.2zM124.6 55.0h1.2v1.2h-1.2zM127.3 112.8h1.2v1.2h-1.2zM121.0 62.1h1.2v1.2h-1.2zM145.5 42.2h1.2v1.2h-1.2zM142.5 80.0h1.2v1.2h-1.2zM122.1 72.5h1.2v1.2h-1.2zM117.0 55.7h1.2v1.2h-1.2zM108.8 66.4h1.2v1.2h-1.2zM108.0 63.4h1.2v1.2h-1.2zM111.8 66.9h1.2v1.2h-1.2zM122.1 48.5h1.2v1.2h-1.2zM116.2 44.5h1.2v1.2h-1.2zM109.4 101.9h1.2v1.2h-1.2zM160.3 64.5h1.2v1.2h-1.2zM148.0 93.9h1.2v1.2h-1.2zM112.6 79.2h1.2v1.2h-1.2zM134.1 97.0h1.2v1.2h-1.2zM123.1 83.0h1.2v1.2h-1.2zM133.1 43.7h1.2v1.2h-1.2zM150.2 109.8h1.2v1.2h-1.2zM160.0 94.8h1.2v1.2h-1.2zM124.5 47.4h1.2v1.2h-1.2zM152.1 97.2h1.2v1.2h-1.2zM147.5 46.0h1.2v1.2h-1.2zM112.0 88.2h1.2v1.2h-1.2zM129.3 106.7h1.2v1.2h-1.2zM158.2 69.3h1.2v1.2h-1.2zM141.0 66.6h1.2v1.2h-1.2zM139.3 46.0h1.2v1.2h-1.2zM151.2 84.6h1.2v1.2h-1.2zM120.1 68.7h1.2v1.2h-1.2zM129.5 85.7h1.2v1.2h-1.2zM134.0 52.0h1.2v1.2h-1.2zM118.8 67.2h1.2v1.2h-1.2zM138.4 103.8h1.2v1.2h-1.2zM160.8 83.9h1.2v1.2h-1.2zM154.6 49.2h1.2v1.2h-1.2zM128.8 41.6h1.2v1.2h-1.2zM120.4 114.3h1.2v1.2h-1.2zM123.6 84.5h1.2v1.2h-1.2zM156.2 102.0h1.2v1.2h-1.2zM142.9 58.0h1.2v1.2h-1.2zM109.4 105.6h1.2v1.2h-1.2zM143.1 94.1h1.2v1.2h-1.2zM135.8 90.3h1.2v1.2h-1.2zM124.4 47.7h1.2v1.2h-1.2zM123.8 84.2h1.2v1.2h-1.2zM151.5 59.7h1.2v1.2h-1.2zM134.1 69.7h1.2v1.2h-1.2zM124.5 34.1h1.2v1.2h-1.2zM123.7 91.7h1.2v1.2h-1.2zM153.7 69.3h1.2v1.2h-1.2z"/>
<path fill="#ffffff" d="M142.2 45.6h1.2v1.2h-1.2zM118.5 58.4h1.2v1.2h-1.2zM122.0 37.2h1.2v1.2h-1.2zM151.0 42.0h1.2v1.2h-1.2zM146.6 67.1h1.2v1.2h-1.2zM133.9 98.9h1.2v1.2h-1.2zM145.1 66.3h1.2v1.2h-1.2zM132.4 74.0h1.2v1.2h-1.2zM123.2 39.2h1.2v1.2h-1.2zM117.0 43.5h1.2v1.2h-1.2zM132.1 37.9h1.2v1.2h-1.2zM146.1 57.1h1.2v1.2h-1.2zM118.7 44.1h1.2v1.2h-1.2zM116.4 75.2h1.2v1.2h-1.2zM148.8 43.1h1.2v1.2h-1.2zM132.7 91.6h1.2v1.2h-1.2zM137.3 104.5h1.2v1.2h-1.2zM151.6 76.3h1.2v1.2h-1.2zM139.5 49.7h1.2v1.2h-1.2zM142.3 117.1h1.2v1.2h-1.2zM153.0 42.7h1.2v1.2h-1.2zM114.2 78.7h1.2v1.2h-1.2zM117.2 42.1h1.2v1.2h-1.2zM135.1 91.7h1.2v1.2h-1.2zM136.0 81.6h1.2v1.2h-1.2zM121.0 113.4h1.2v1.2h-1.2zM150.0 88.6h1.2v1.2h-1.2zM127.4 97.0h1.2v1.2h-1.2zM132.7 96.5h1.2v1.2h-1.2zM116.7 61.9h1.2v1.2h-1.2zM155.5 48.3h1.2v1.2h-1.2zM120.3 83.8h1.2v1.2h-1.2zM124.5 79.4h1.2v1.2h-1.2zM115.9 112.9h1.2v1.2h-1.2zM135.1 58.5h1.2v1.2h-1.2zM129.5 64.9h1.2v1.2h-1.2zM157.5 50.0h1.2v1.2h-1.2zM127.0 87.9h1.2v1.2h-1.2zM133.1 61.3h1.2v1.2h-1.2zM120.7 55.0h1.2v1.2h-1.2zM158.6 71.2h1.2v1.2h-1.2zM138.2 83.0h1.2v1.2h-1.2zM155.7 98.4h1.2v1.2h-1.2zM134.7 59.6h1.2v1.2h-1.2zM112.9 63.6h1.2v1.2h-1.2zM143.0 78.0h1.2v1.2h-1.2zM127.3 81.3h1.2v1.2h-1.2zM136.7 73.0h1.2v1.2h-1.2zM134.3 120.4h1.2v1.2h-1.2zM108.5 77.2h1.2v1.2h-1.2zM153.4 45.1h1.2v1.2h-1.2zM150.1 86.9h1.2v1.2h-1.2zM158.1 93.1h1.2v1.2h-1.2zM126.4 74.2h1.2v1.2h-1.2zM152.1 42.1h1.2v1.2h-1.2zM152.2 54.0h1.2v1.2h-1.2zM162.7 83.8h1.2v1.2h-1.2zM126.2 71.0h1.2v1.2h-1.2zM137.9 68.2h1.2v1.2h-1.2zM149.5 65.7h1.2v1.2h-1.2zM141.1 65.3h1.2v1.2h-1.2zM144.1 65.7h1.2v1.2h-1.2zM131.1 42.0h1.2v1.2h-1.2zM125.8 69.2h1.2v1.2h-1.2zM139.1 63.4h1.2v1.2h-1.2zM129.7 44.9h1.2v1.2h-1.2zM128.3 114.6h1.2v1.2h-1.2zM140.9 84.4h1.2v1.2h-1.2zM158.9 93.2h1.2v1.2h-1.2zM163.6 87.9h1.2v1.2h-1.2zM143.6 36.7h1.2v1.2h-1.2zM121.4 72.2h1.2v1.2h-1.2zM154.5 59.2h1.2v1.2h-1.2zM119.0 61.5h1.2v1.2h-1.2zM140.3 70.0h1.2v1.2h-1.2zM149.8 111.9h1.2v1.2h-1.2zM142.7 69.2h1.2v1.2h-1.2zM150.3 71.3h1.2v1.2h-1.2zM112.5 103.6h1.2v1.2h-1.2zM139.3 119.7h1.2v1.2h-1.2zM119.5 47.5h1.2v1.2h-1.2zM137.7 85.2h1.2v1.2h-1.2zM121.7 58.5h1.2v1.2h-1.2zM126.1 119.8h1.2v1.2h-1.2zM153.5 44.1h1.2v1.2h-1.2zM150.0 60.7h1.2v1.2h-1.2zM128.0 91.3h1.2v1.2h-1.2zM139.0 53.2h1.2v1.2h-1.2zM155.2 44.7h1.2v1.2h-1.2zM153.1 69.1h1.2v1.2h-1.2zM128.1 75.1h1.2v1.2h-1.2zM127.8 96.8h1.2v1.2h-1.2zM158.8 82.5h1.2v1.2h-1.2zM141.3 78.4h1.2v1.2h-1.2zM137.4 64.4h1.2v1.2h-1.2zM146.3 110.5h1.2v1.2h-1.2zM131.6 87.3h1.2v1.2h-1.2zM161.1 59.2h1.2v1.2h-1.2zM131.2 55.0h1.2v1.2h-1.2zM111.8 106.1h1.2v1.2h-1.2zM124.4 91.8h1.2v1.2h-1.2zM116.4 66.2h1.2v1.2h-1.2zM149.3 62.7h1.2v1.2h-1.2zM128.8 83.5h1.2v1.2h-1.2zM126.3 72.3h1.2v1.2h-1.2zM155.6 107.9h1.2v1.2h-1.2zM163.6 69.1h1.2v1.2h-1.2zM144.8 40.3h1.2v1.2h-1.2zM156.6 107.4h1.2v1.2h-1.2zM132.7 114.4h1.2v1.2h-1.2zM116.1 80.4h1.2v1.2h-1.2zM119.7 107.6h1.2v1.2h-1.2zM154.7 77.2h1.2v1.2h-1.2zM126.7 48.7h1.2v1.2h-1.2zM140.5 36.8h1.2v1.2h-1.2zM120.8 38.9h1.2v1.2h-1.2zM111.7 110.1h1.2v1.2h-1.2zM135.4 44.6h1.2v1.2h-1.2zM150.9 75.6h1.2v1.2h-1.2zM156.9 73.5h1.2v1.2h-1.2zM108.9 70.5h1.2v1.2h-1.2zM142.1 118.8h1.2v1.2h-1.2zM109.9 100.7h1.2v1.2h-1.2zM133.1 50.7h1.2v1.2h-1.2zM117.1 82.2h1.2v1.2h-1.2zM120.0 91.2h1.2v1.2h-1.2zM151.8 85.1h1.2v1.2h-1.2zM158.1 92.8h1.2v1.2h-1.2zM130.9 109.7h1.2v1.2h-1.2zM122.2 84.5h1.2v1.2h-1.2zM142.5 66.8h1.2v1.2h-1.2zM157.0 65.4h1.2v1.2h-1.2zM132.6 120.5h1.2v1.2h-1.2zM144.2 110.5h1.2v1.2h-1.2zM135.6 47.5h1.2v1.2h-1.2zM117.8 89.0h1.2v1.2h-1.2zM130.4 103.9h1.2v1.2h-1.2zM152.3 102.4h1.2v1.2h-1.2zM155.7 47.6h1.2v1.2h-1.2zM145.2 117.5h1.2v1.2h-1.2zM126.4 45.9h1.2v1.2h-1.2zM161.7 69.4h1.2v1.2h-1.2zM122.8 47.9h1.2v1.2h-1.2zM125.0 74.5h1.2v1.2h-1.2zM127.9 103.7h1.2v1.2h-1.2zM154.2 104.0h1.2v1.2h-1.2zM120.5 48.3h1.2v1.2h-1.2zM141.6 87.2h1.2v1.2h-1.2zM125.1 60.8h1.2v1.2h-1.2zM126.1 58.1h1.2v1.2h-1.2zM121.9 119.7h1.2v1.2h-1.2zM138.3 52.7h1.2v1.2h-1.2zM120.1 110.1h1.2v1.2h-1.2zM158.3 92.0h1.2v1.2h-1.2zM122.9 45.2h1.2v1.2h-1.2zM140.3 98.4h1.2v1.2h-1.2zM161.4 84.4h1.2v1.2h-1.2zM144.1 70.0h1.2v1.2h-1.2zM120.6 79.4h1.2v1.2h-1.2zM117.0 41.1h1.2v1.2h-1.2zM123.9 35.4h1.2v1.2h-1.2zM139.3 96.6h1.2v1.2h-1.2zM136.3 119.3h1.2v1.2h-1.2zM145.5 100.0h1.2v1.2h-1.2zM143.7 101.6h1.2v1.2h-1.2zM159.1 72.1h1.2v1.2h-1.2zM131.5 69.3h1.2v1.2h-1.2zM123.9 115.7h1.2v1.2h-1.2zM113.9 63.1h1.2v1.2h-1.2zM128.6 103.9h1.2v1.2h-1.2zM124.2 119.4h1.2v1.2h-1.2zM143.9 101.9h1.2v1.2h-1.2zM122.9 116.7h1.2v1.2h-1.2zM144.2 109.7h1.2v1.2h-1.2zM142.0 105.2h1.2v1.2h-1.2zM144.3 102.0h1.2v1.2h-1.2zM133.7 72.6h1.2v1.2h-1.2zM148.7 97.0h1.2v1.2h-1.2zM135.1 102.6h1.2v1.2h-1.2zM140.3 115.6h1.2v1.2h-1.2zM114.4 99.7h1.2v1.2h-1.2zM115.2 93.1h1.2v1.2h-1.2zM109.1 60.9h1.2v1.2h-1.2zM141.0 62.1h1.2v1.2h-1.2zM117.2 54.7h1.2v1.2h-1.2zM114.4 63.2h1.2v1.2h-1.2zM116.3 92.2h1.2v1.2h-1.2zM149.5 40.0h1.2v1.2h-1.2zM152.0 74.5h1.2v1.2h-1.2zM128.8 43.1h1.2v1.2h-1.2zM146.9 63.8h1.2v1.2h-1.2zM154.0 91.3h1.2v1.2h-1.2zM155.4 97.6h1.2v1.2h-1.2zM124.6 50.8h1.2v1.2h-1.2zM149.7 44.5h1.2v1.2h-1.2zM156.4 80.0h1.2v1.2h-1.2zM131.2 73.1h1.2v1.2h-1.2zM121.0 75.8h1.2v1.2h-1.2zM109.0 74.9h1.2v1.2h-1.2zM145.2 88.7h1.2v1.2h-1.2zM135.1 90.0h1.2v1.2h-1.2zM118.6 58.8h1.2v1.2h-1.2zM110.9 99.9h1.2v1.2h-1.2zM152.2 82.5h1.2v1.2h-1.2zM114.4 70.2h1.2v1.2h-1.2zM127.0 102.3h1.2v1.2h-1.2zM146.4 55.4h1.2v1.2h-1.2zM141.0 75.1h1.2v1.2h-1.2zM154.5 96.9h1.2v1.2h-1.2zM153.9 76.6h1.2v1.2h-1.2zM126.3 98.0h1.2v1.2h-1.2zM109.9 109.1h1.2v1.2h-1.2zM107.4 78.9h1.2v1.2h-1.2zM136.3 72.0h1.2v1.2h-1.2zM147.0 82.8h1.2v1.2h-1.2zM128.7 72.4h1.2v1.2h-1.2zM146.8 109.8h1.2v1.2h-1.2zM128.8 81.2h1.2v1.2h-1.2zM160.9 74.4h1.2v1.2h-1.2zM154.7 66.2h1.2v1.2h-1.2zM124.6 88.0h1.2v1.2h-1.2zM152.9 104.9h1.2v1.2h-1.2zM144.1 77.0h1.2v1.2h-1.2zM120.9 75.4h1.2v1.2h-1.2zM159.4 71.9h1.2v1.2h-1.2zM127.0 75.1h1.2v1.2h-1.2zM129.5 56.1h1.2v1.2h-1.2zM151.9 81.3h1.2v1.2h-1.2zM134.7 62.1h1.2v1.2h-1.2zM124.4 65.7h1.2v1.2h-1.2zM143.7 44.5h1.2v1.2h-1.2zM150.3 47.6h1.2v1.2h-1.2zM142.1 47.3h1.2v1.2h-1.2zM163.2 81.3h1.2v1.2h-1.2zM121.0 71.1h1.2v1.2h-1.2zM139.7 84.6h1.2v1.2h-1.2zM129.3 51.0h1.2v1.2h-1.2zM155.4 59.2h1.2v1.2h-1.2zM132.0 75.9h1.2v1.2h-1.2zM138.0 77.7h1.2v1.2h-1.2zM110.9 80.1h1.2v1.2h-1.2zM111.0 111.8h1.2v1.2h-1.2zM150.6 70.6h1.2v1.2h-1.2zM153.3 62.7h1.2v1.2h-1.2zM135.3 91.3h1.2v1.2h-1.2zM151.0 53.8h1.2v1.2h-1.2zM123.5 106.7h1.2v1.2h-1.2zM157.6 67.3h1.2v1.2h-1.2zM157.6 84.2h1.2v1.2h-1.2zM147.6 111.5h1.2v1.2h-1.2zM142.1 47.7h1.2v1.2h-1.2zM113.3 99.2h1.2v1.2h-1.2zM119.4 99.8h1.2v1.2h-1.2zM142.3 98.9h1.2v1.2h-1.2zM123.4 45.0h1.2v1.2h-1.2zM115.0 62.5h1.2v1.2h-1.2zM132.0 76.4h1.2v1.2h-1.2zM137.4 51.2h1.2v1.2h-1.2zM113.1 94.4h1.2v1.2h-1.2zM153.5 103.4h1.2v1.2h-1.2zM131.8 82.7h1.2v1.2h-1.2zM141.2 98.3h1.2v1.2h-1.2zM130.4 50.5h1.2v1.2h-1.2zM130.2 88.8h1.2v1.2h-1.2z"/>
<path fill="#1e901f" d="M132.4 56.9h1.2v1.2h-1.2zM122.2 47.3h1.2v1.2h-1.2zM142.1 57.1h1.2v1.2h-1.2zM116.3 71.1h1.2v1.2h-1.2zM113.9 109.9h1.2v1.2h-1.2zM162.6 76.8h1.2v1.2h-1.2zM148.5 96.2h1.2v1.2h-1.2zM136.8 110.2h1.2v1.2h-1.2zM118.4 99.9h1.2v1.2h-1.2zM123.6 60.3h1.2v1.2h-1.2zM150.1 45.9h1.2v1.2h-1.2zM126.0 90.4h1.2v1.2h-1.2zM118.7 72.3h1.2v1.2h-1.2zM130.6 75.4h1.2v1.2h-1.2zM141.8 98.4h1.2v1.2h-1.2zM121.3 101.3h1.2v1.2h-1.2zM111.4 106.3h1.2v1.2h-1.2zM122.0 101.6h1.2v1.2h-1.2zM132.2 110.5h1.2v1.2h-1.2zM109.1 99.5h1.2v1.2h-1.2zM112.5 76.4h1.2v1.2h-1.2zM129.5 107.8h1.2v1.2h-1.2zM143.7 79.7h1.2v1.2h-1.2zM122.8 45.5h1.2v1.2h-1.2zM116.9 81.5h1.2v1.2h-1.2zM145.4 93.9h1.2v1.2h-1.2zM109.9 94.0h1.2v1.2h-1.2zM142.0 60.5h1.2v1.2h-1.2zM118.8 83.9h1.2v1.2h-1.2zM142.1 90.6h1.2v1.2h-1.2zM137.8 92.1h1.2v1.2h-1.2zM117.8 100.4h1.2v1.2h-1.2zM129.7 46.8h1.2v1.2h-1.2zM145.4 56.7h1.2v1.2h-1.2zM132.7 38.1h1.2v1.2h-1.2zM151.9 104.2h1.2v1.2h-1.2zM112.0 101.3h1.2v1.2h-1.2zM113.0 73.3h1.2v1.2h-1.2zM117.5 45.9h1.2v1.2h-1.2zM125.5 48.1h1.2v1.2h-1.2zM133.3 76.6h1.2v1.2h-1.2zM135.8 83.8h1.2v1.2h-1.2zM112.5 53.4h1.2v1.2h-1.2zM136.3 100.1h1.2v1.2h-1.2zM127.1 58.6h1.2v1.2h-1.2zM158.5 66.5h1.2v1.2h-1.2zM147.1 94.8h1.2v1.2h-1.2zM160.9 99.6h1.2v1.2h-1.2zM131.2 111.9h1.2v1.2h-1.2zM128.1 95.5h1.2v1.2h-1.2zM109.8 62.1h1.2v1.2h-1.2zM149.3 92.6h1.2v1.2h-1.2zM124.3 54.8h1.2v1.2h-1.2zM132.2 80.9h1.2v1.2h-1.2zM124.7 117.4h1.2v1.2h-1.2zM137.0 60.4h1.2v1.2h-1.2zM155.4 91.4h1.2v1.2h-1.2zM136.0 39.9h1.2v1.2h-1.2zM127.0 65.1h1.2v1.2h-1.2zM110.8 69.4h1.2v1.2h-1.2zM129.2 87.9h1.2v1.2h-1.2zM149.7 69.9h1.2v1.2h-1.2zM146.8 67.1h1.2v1.2h-1.2zM137.6 71.6h1.2v1.2h-1.2zM112.6 48.9h1.2v1.2h-1.2zM123.6 46.8h1.2v1.2h-1.2zM110.9 111.8h1.2v1.2h-1.2zM132.2 52.8h1.2v1.2h-1.2zM137.5 38.3h1.2v1.2h-1.2zM145.6 52.6h1.2v1.2h-1.2zM161.8 62.8h1.2v1.2h-1.2zM106.8 68.3h1.2v1.2h-1.2zM146.6 54.3h1.2v1.2h-1.2zM121.0 58.7h1.2v1.2h-1.2zM120.4 76.9h1.2v1.2h-1.2zM119.7 115.1h1.2v1.2h-1.2zM152.7 53.8h1.2v1.2h-1.2zM108.5 67.4h1.2v1.2h-1.2zM117.7 68.0h1.2v1.2h-1.2zM126.5 51.1h1.2v1.2h-1.2zM114.9 48.0h1.2v1.2h-1.2zM120.3 106.7h1.2v1.2h-1.2zM156.5 86.9h1.2v1.2h-1.2zM111.0 49.7h1.2v1.2h-1.2zM122.0 57.6h1.2v1.2h-1.2zM121.6 58.2h1.2v1.2h-1.2zM112.9 68.5h1.2v1.2h-1.2zM128.1 55.9h1.2v1.2h-1.2zM120.3 65.0h1.2v1.2h-1.2zM132.2 108.8h1.2v1.2h-1.2zM127.8 115.8h1.2v1.2h-1.2zM124.8 44.4h1.2v1.2h-1.2zM124.6 68.4h1.2v1.2h-1.2zM113.5 57.7h1.2v1.2h-1.2zM139.3 104.4h1.2v1.2h-1.2zM124.6 109.6h1.2v1.2h-1.2zM134.5 66.2h1.2v1.2h-1.2zM113.6 79.9h1.2v1.2h-1.2zM138.1 114.2h1.2v1.2h-1.2zM118.3 98.3h1.2v1.2h-1.2zM155.9 79.0h1.2v1.2h-1.2zM131.6 56.4h1.2v1.2h-1.2zM141.4 96.1h1.2v1.2h-1.2zM117.1 52.0h1.2v1.2h-1.2zM128.4 78.6h1.2v1.2h-1.2zM140.8 110.3h1.2v1.2h-1.2zM131.3 107.4h1.2v1.2h-1.2zM123.8 92.8h1.2v1.2h-1.2zM133.9 78.7h1.2v1.2h-1.2zM131.8 56.0h1.2v1.2h-1.2zM114.5 98.5h1.2v1.2h-1.2zM138.6 69.0h1.2v1.2h-1.2zM123.7 101.0h1.2v1.2h-1.2zM132.9 90.3h1.2v1.2h-1.2zM138.8 119.3h1.2v1.2h-1.2zM152.7 54.1h1.2v1.2h-1.2zM162.8 75.6h1.2v1.2h-1.2zM121.3 75.3h1.2v1.2h-1.2zM148.8 83.9h1.2v1.2h-1.2zM138.2 69.9h1.2v1.2h-1.2zM146.3 47.6h1.2v1.2h-1.2zM108.6 70.3h1.2v1.2h-1.2zM143.2 44.7h1.2v1.2h-1.2zM127.1 94.1h1.2v1.2h-1.2zM154.9 67.2h1.2v1.2h-1.2zM114.5 114.7h1.2v1.2h-1.2zM157.4 78.1h1.2v1.2h-1.2zM144.4 47.8h1.2v1.2h-1.2zM138.6 98.3h1.2v1.2h-1.2zM150.7 108.8h1.2v1.2h-1.2zM152.0 73.1h1.2v1.2h-1.2zM152.8 82.9h1.2v1.2h-1.2zM112.9 68.2h1.2v1.2h-1.2zM147.1 111.8h1.2v1.2h-1.2zM134.9 106.2h1.2v1.2h-1.2zM126.4 80.7h1.2v1.2h-1.2zM135.5 78.2h1.2v1.2h-1.2zM122.3 81.0h1.2v1.2h-1.2zM115.7 100.9h1.2v1.2h-1.2zM131.1 38.9h1.2v1.2h-1.2zM157.0 94.2h1.2v1.2h-1.2zM127.5 47.6h1.2v1.2h-1.2zM148.9 70.8h1.2v1.2h-1.2zM137.8 47.1h1.2v1.2h-1.2zM128.0 60.1h1.2v1.2h-1.2zM139.5 119.9h1.2v1.2h-1.2zM107.8 101.0h1.2v1.2h-1.2zM155.4 82.4h1.2v1.2h-1.2zM144.3 94.6h1.2v1.2h-1.2zM111.5 63.1h1.2v1.2h-1.2zM133.9 117.9h1.2v1.2h-1.2zM153.3 91.4h1.2v1.2h-1.2zM111.5 96.2h1.2v1.2h-1.2zM128.0 109.7h1.2v1.2h-1.2zM125.3 70.2h1.2v1.2h-1.2zM140.6 69.8h1.2v1.2h-1.2zM145.0 85.4h1.2v1.2h-1.2zM108.2 67.1h1.2v1.2h-1.2zM159.3 52.9h1.2v1.2h-1.2zM130.3 40.5h1.2v1.2h-1.2zM120.2 58.4h1.2v1.2h-1.2zM112.3 96.5h1.2v1.2h-1.2zM112.5 99.2h1.2v1.2h-1.2zM152.1 91.6h1.2v1.2h-1.2zM111.5 62.8h1.2v1.2h-1.2zM110.6 60.9h1.2v1.2h-1.2zM117.0 99.1h1.2v1.2h-1.2zM130.3 66.3h1.2v1.2h-1.2zM154.3 73.1h1.2v1.2h-1.2zM159.5 103.1h1.2v1.2h-1.2zM114.0 44.5h1.2v1.2h-1.2zM157.5 95.9h1.2v1.2h-1.2zM151.7 107.1h1.2v1.2h-1.2zM161.8 89.4h1.2v1.2h-1.2zM138.8 104.3h1.2v1.2h-1.2zM110.5 59.3h1.2v1.2h-1.2zM154.2 94.5h1.2v1.2h-1.2zM161.7 71.3h1.2v1.2h-1.2zM156.5 56.1h1.2v1.2h-1.2zM117.0 50.5h1.2v1.2h-1.2zM112.1 87.8h1.2v1.2h-1.2zM116.7 47.5h1.2v1.2h-1.2zM127.3 71.2h1.2v1.2h-1.2zM138.1 37.4h1.2v1.2h-1.2zM111.2 93.2h1.2v1.2h-1.2zM132.1 43.0h1.2v1.2h-1.2zM119.9 38.3h1.2v1.2h-1.2zM135.0 60.3h1.2v1.2h-1.2zM120.9 71.8h1.2v1.2h-1.2zM140.1 99.5h1.2v1.2h-1.2zM124.0 100.5h1.2v1.2h-1.2zM132.2 82.4h1.2v1.2h-1.2zM122.6 112.3h1.2v1.2h-1.2zM136.7 111.3h1.2v1.2h-1.2zM131.6 58.4h1.2v1.2h-1.2zM125.5 47.1h1.2v1.2h-1.2zM140.1 69.3h1.2v1.2h-1.2zM132.0 86.3h1.2v1.2h-1.2zM123.3 63.0h1.2v1.2h-1.2zM161.7 59.1h1.2v1.2h-1.2zM118.7 83.8h1.2v1.2h-1.2zM111.7 62.8h1.2v1.2h-1.2zM121.9 40.5h1.2v1.2h-1.2zM116.0 58.6h1.2v1.2h-1.2zM156.3 45.6h1.2v1.2h-1.2zM116.4 115.8h1.2v1.2h-1.2zM113.7 85.1h1.2v1.2h-1.2zM149.5 103.6h1.2v1.2h-1.2zM136.1 116.4h1.2v1.2h-1.2zM156.8 59.9h1.2v1.2h-1.2zM154.8 48.2h1.2v1.2h-1.2zM115.7 111.0h1.2v1.2h-1.2zM112.3 90.1h1.2v1.2h-1.2zM112.9 68.5h1.2v1.2h-1.2zM139.3 80.9h1.2v1.2h-1.2zM132.9 101.7h1.2v1.2h-1.2zM157.2 104.2h1.2v1.2h-1.2zM107.7 88.0h1.2v1.2h-1.2zM141.6 115.3h1.2v1.2h-1.2zM134.6 71.5h1.2v1.2h-1.2zM119.6 71.5h1.2v1.2h-1.2zM114.2 63.6h1.2v1.2h-1.2zM112.1 77.6h1.2v1.2h-1.2zM115.2 67.9h1.2v1.2h-1.2zM109.9 67.8h1.2v1.2h-1.2zM117.2 42.7h1.2v1.2h-1.2zM119.0 107.7h1.2v1.2h-1.2zM116.8 96.5h1.2v1.2h-1.2zM138.5 104.2h1.2v1.2h-1.2zM137.5 94.3h1.2v1.2h-1.2zM145.8 93.7h1.2v1.2h-1.2zM122.0 64.4h1.2v1.2h-1.2zM132.1 36.5h1.2v1.2h-1.2zM142.3 88.3h1.2v1.2h-1.2zM111.4 74.9h1.2v1.2h-1.2zM135.4 91.7h1.2v1.2h-1.2zM138.2 55.3h1.2v1.2h-1.2zM112.6 101.9h1.2v1.2h-1.2zM147.8 110.7h1.2v1.2h-1.2zM142.6 86.9h1.2v1.2h-1.2zM150.5 84.1h1.2v1.2h-1.2zM125.6 56.5h1.2v1.2h-1.2zM129.3 87.4h1.2v1.2h-1.2zM123.6 72.9h1.2v1.2h-1.2zM111.4 67.1h1.2v1.2h-1.2zM120.6 115.6h1.2v1.2h-1.2zM113.1 91.6h1.2v1.2h-1.2zM132.3 74.0h1.2v1.2h-1.2zM128.2 101.7h1.2v1.2h-1.2zM141.4 88.0h1.2v1.2h-1.2zM117.2 43.3h1.2v1.2h-1.2zM107.4 76.4h1.2v1.2h-1.2zM117.0 60.6h1.2v1.2h-1.2zM158.1 92.5h1.2v1.2h-1.2zM136.1 36.4h1.2v1.2h-1.2zM118.0 99.0h1.2v1.2h-1.2zM138.4 97.9h1.2v1.2h-1.2zM157.5 54.0h1.2v1.2h-1.2zM141.3 72.0h1.2v1.2h-1.2zM141.0 46.7h1.2v1.2h-1.2zM146.8 52.8h1.2v1.2h-1.2zM136.1 39.7h1.2v1.2h-1.2zM161.0 89.3h1.2v1.2h-1.2zM126.3 35.8h1.2v1.2h-1.2zM160.7 65.8h1.2v1.2h-1.2zM120.3 110.0h1.2v1.2h-1.2zM114.4 103.4h1.2v1.2h-1.2zM110.2 84.6h1.2v1.2h-1.2zM141.0 109.1h1.2v1.2h-1.2zM115.5 62.6h1.2v1.2h-1.2zM114.5 105.0h1.2v1.2h-1.2zM150.1 89.2h1.2v1.2h-1.2zM159.3 53.9h1.2v1.2h-1.2zM123.1 59.3h1.2v1.2h-1.2zM142.0 72.8h1.2v1.2h-1.2zM132.4 55.2h1.2v1.2h-1.2zM139.3 94.7h1.2v1.2h-1.2zM114.8 34.7h1.2v1.2h-1.2zM104.6 65.8h1.2v1.2h-1.2zM109.1 53.2h1.2v1.2h-1.2zM162.0 54.6h1.2v1.2h-1.2zM126.7 122.7h1.2v1.2h-1.2zM166.6 60.0h1.2v1.2h-1.2zM116.4 38.2h1.2v1.2h-1.2zM108.7 56.1h1.2v1.2h-1.2zM165.4 64.0h1.2v1.2h-1.2zM105.8 67.4h1.2v1.2h-1.2zM128.2 122.1h1.2v1.2h-1.2zM164.1 104.1h1.2v1.2h-1.2zM150.4 39.3h1.2v1.2h-1.2zM145.1 119.3h1.2v1.2h-1.2zM164.3 74.9h1.2v1.2h-1.2zM154.6 110.9h1.2v1.2h-1.2zM112.2 113.9h1.2v1.2h-1.2zM117.5 119.8h1.2v1.2h-1.2zM107.5 104.2h1.2v1.2h-1.2zM116.6 121.3h1.2v1.2h-1.2zM107.5 104.5h1.2v1.2h-1.2zM159.1 45.1h1.2v1.2h-1.2zM132.8 31.2h1.2v1.2h-1.2zM121.3 34.8h1.2v1.2h-1.2zM105.0 90.3h1.2v1.2h-1.2zM147.7 119.9h1.2v1.2h-1.2zM123.6 31.5h1.2v1.2h-1.2zM108.4 53.7h1.2v1.2h-1.2zM107.9 105.5h1.2v1.2h-1.2zM160.3 102.6h1.2v1.2h-1.2zM106.9 63.9h1.2v1.2h-1.2zM154.2 112.8h1.2v1.2h-1.2zM157.2 114.4h1.2v1.2h-1.2zM145.3 118.4h1.2v1.2h-1.2zM106.7 104.7h1.2v1.2h-1.2zM117.6 120.1h1.2v1.2h-1.2zM130.7 32.8h1.2v1.2h-1.2zM105.7 66.8h1.2v1.2h-1.2zM160.6 51.2h1.2v1.2h-1.2zM106.5 67.5h1.2v1.2h-1.2zM108.6 56.7h1.2v1.2h-1.2zM137.2 121.2h1.2v1.2h-1.2zM137.7 122.5h1.2v1.2h-1.2zM106.6 104.3h1.2v1.2h-1.2zM161.1 101.3h1.2v1.2h-1.2zM141.0 123.7h1.2v1.2h-1.2zM120.6 32.4h1.2v1.2h-1.2zM128.9 31.3h1.2v1.2h-1.2zM105.1 93.3h1.2v1.2h-1.2zM159.0 46.5h1.2v1.2h-1.2zM167.4 64.3h1.2v1.2h-1.2zM160.5 104.9h1.2v1.2h-1.2zM106.0 91.9h1.2v1.2h-1.2zM126.6 122.7h1.2v1.2h-1.2zM109.7 112.9h1.2v1.2h-1.2zM126.2 125.5h1.2v1.2h-1.2zM104.9 91.2h1.2v1.2h-1.2zM112.7 42.3h1.2v1.2h-1.2zM127.4 123.5h1.2v1.2h-1.2zM138.4 122.6h1.2v1.2h-1.2zM166.4 77.8h1.2v1.2h-1.2zM121.0 32.4h1.2v1.2h-1.2zM166.1 76.5h1.2v1.2h-1.2zM144.2 33.5h1.2v1.2h-1.2zM117.6 36.7h1.2v1.2h-1.2zM151.4 38.0h1.2v1.2h-1.2zM107.2 64.7h1.2v1.2h-1.2zM110.9 117.7h1.2v1.2h-1.2zM133.8 33.3h1.2v1.2h-1.2zM163.3 59.3h1.2v1.2h-1.2zM164.2 78.6h1.2v1.2h-1.2zM122.5 29.6h1.2v1.2h-1.2zM116.7 36.4h1.2v1.2h-1.2z"/>
<path fill="#d9f2d5" d="M134.2 94.4h1.2v1.2h-1.2zM130.0 66.7h1.2v1.2h-1.2zM141.3 84.7h1.2v1.2h-1.2zM155.5 66.9h1.2v1.2h-1.2zM142.6 42.8h1.2v1.2h-1.2zM157.7 48.0h1.2v1.2h-1.2zM154.7 54.2h1.2v1.2h-1.2zM112.6 72.9h1.2v1.2h-1.2zM159.6 65.2h1.2v1.2h-1.2zM150.8 80.7h1.2v1.2h-1.2zM130.6 34.3h1.2v1.2h-1.2zM151.0 71.9h1.2v1.2h-1.2zM157.9 87.7h1.2v1.2h-1.2zM127.3 69.4h1.2v1.2h-1.2zM137.4 111.3h1.2v1.2h-1.2zM152.3 49.1h1.2v1.2h-1.2zM113.1 48.2h1.2v1.2h-1.2zM128.2 70.7h1.2v1.2h-1.2zM122.5 51.1h1.2v1.2h-1.2zM141.0 101.6h1.2v1.2h-1.2zM148.4 58.5h1.2v1.2h-1.2zM132.3 49.9h1.2v1.2h-1.2zM143.3 101.1h1.2v1.2h-1.2zM126.0 62.5h1.2v1.2h-1.2zM131.5 100.5h1.2v1.2h-1.2zM110.0 106.9h1.2v1.2h-1.2zM130.1 70.1h1.2v1.2h-1.2zM133.8 105.4h1.2v1.2h-1.2zM137.9 120.0h1.2v1.2h-1.2zM152.0 104.3h1.2v1.2h-1.2zM113.3 102.6h1.2v1.2h-1.2zM138.0 63.8h1.2v1.2h-1.2zM120.5 113.1h1.2v1.2h-1.2zM111.3 68.7h1.2v1.2h-1.2zM158.0 65.3h1.2v1.2h-1.2zM154.6 67.9h1.2v1.2h-1.2zM156.0 63.9h1.2v1.2h-1.2zM143.4 95.9h1.2v1.2h-1.2zM148.1 49.3h1.2v1.2h-1.2zM140.6 52.3h1.2v1.2h-1.2zM137.3 70.4h1.2v1.2h-1.2zM150.2 80.4h1.2v1.2h-1.2zM130.3 38.1h1.2v1.2h-1.2zM128.4 53.2h1.2v1.2h-1.2zM123.5 73.0h1.2v1.2h-1.2zM155.7 80.8h1.2v1.2h-1.2zM116.5 102.5h1.2v1.2h-1.2zM126.3 121.9h1.2v1.2h-1.2zM120.4 40.7h1.2v1.2h-1.2zM118.7 54.2h1.2v1.2h-1.2zM126.8 94.5h1.2v1.2h-1.2zM149.9 56.0h1.2v1.2h-1.2zM127.4 93.3h1.2v1.2h-1.2zM128.0 94.2h1.2v1.2h-1.2zM159.3 59.8h1.2v1.2h-1.2zM119.7 48.5h1.2v1.2h-1.2zM119.5 115.6h1.2v1.2h-1.2zM122.9 50.2h1.2v1.2h-1.2zM128.8 35.9h1.2v1.2h-1.2zM145.3 70.0h1.2v1.2h-1.2zM110.5 54.4h1.2v1.2h-1.2zM138.4 104.2h1.2v1.2h-1.2zM132.9 76.5h1.2v1.2h-1.2zM162.6 92.2h1.2v1.2h-1.2zM144.2 52.0h1.2v1.2h-1.2zM110.5 92.1h1.2v1.2h-1.2zM108.1 74.0h1.2v1.2h-1.2zM136.1 85.3h1.2v1.2h-1.2zM154.2 77.8h1.2v1.2h-1.2zM155.6 61.5h1.2v1.2h-1.2zM139.6 109.3h1.2v1.2h-1.2zM153.8 54.7h1.2v1.2h-1.2zM160.4 73.4h1.2v1.2h-1.2zM128.2 107.4h1.2v1.2h-1.2zM136.7 63.9h1.2v1.2h-1.2zM117.6 56.3h1.2v1.2h-1.2zM116.5 50.7h1.2v1.2h-1.2zM149.8 50.0h1.2v1.2h-1.2zM131.4 35.2h1.2v1.2h-1.2zM130.3 45.7h1.2v1.2h-1.2zM153.8 60.7h1.2v1.2h-1.2zM117.8 38.1h1.2v1.2h-1.2zM141.4 109.7h1.2v1.2h-1.2zM151.3 68.2h1.2v1.2h-1.2zM161.8 90.9h1.2v1.2h-1.2zM127.8 63.9h1.2v1.2h-1.2zM118.3 88.5h1.2v1.2h-1.2zM136.0 60.4h1.2v1.2h-1.2zM115.7 102.2h1.2v1.2h-1.2zM120.7 95.6h1.2v1.2h-1.2zM146.2 88.3h1.2v1.2h-1.2zM145.1 50.0h1.2v1.2h-1.2zM121.4 78.0h1.2v1.2h-1.2zM158.1 52.1h1.2v1.2h-1.2zM152.3 51.6h1.2v1.2h-1.2zM129.8 47.0h1.2v1.2h-1.2zM126.5 55.7h1.2v1.2h-1.2zM140.7 81.8h1.2v1.2h-1.2zM141.4 53.6h1.2v1.2h-1.2zM163.4 83.0h1.2v1.2h-1.2zM159.6 53.5h1.2v1.2h-1.2zM106.9 68.2h1.2v1.2h-1.2zM131.5 83.9h1.2v1.2h-1.2zM158.9 75.9h1.2v1.2h-1.2zM116.9 90.8h1.2v1.2h-1.2zM119.4 82.3h1.2v1.2h-1.2zM119.6 60.3h1.2v1.2h-1.2zM120.0 93.8h1.2v1.2h-1.2zM116.9 42.2h1.2v1.2h-1.2zM123.6 65.3h1.2v1.2h-1.2zM141.2 43.3h1.2v1.2h-1.2zM148.9 105.6h1.2v1.2h-1.2zM128.7 53.8h1.2v1.2h-1.2zM108.1 63.5h1.2v1.2h-1.2zM157.7 99.9h1.2v1.2h-1.2zM148.5 80.0h1.2v1.2h-1.2zM161.4 94.1h1.2v1.2h-1.2zM137.5 35.8h1.2v1.2h-1.2zM125.9 38.7h1.2v1.2h-1.2zM141.8 111.6h1.2v1.2h-1.2zM146.0 82.9h1.2v1.2h-1.2zM139.6 79.2h1.2v1.2h-1.2zM133.2 44.1h1.2v1.2h-1.2zM123.1 101.9h1.2v1.2h-1.2zM135.7 64.3h1.2v1.2h-1.2zM115.0 97.2h1.2v1.2h-1.2zM131.8 90.3h1.2v1.2h-1.2zM148.7 69.6h1.2v1.2h-1.2zM120.3 112.9h1.2v1.2h-1.2zM140.5 61.5h1.2v1.2h-1.2zM139.5 115.0h1.2v1.2h-1.2zM153.6 87.1h1.2v1.2h-1.2zM129.5 109.3h1.2v1.2h-1.2zM151.9 95.2h1.2v1.2h-1.2zM140.3 37.4h1.2v1.2h-1.2zM138.1 87.5h1.2v1.2h-1.2zM114.7 114.9h1.2v1.2h-1.2zM162.5 74.5h1.2v1.2h-1.2zM136.6 99.6h1.2v1.2h-1.2zM122.0 104.0h1.2v1.2h-1.2zM145.7 116.7h1.2v1.2h-1.2zM130.5 79.9h1.2v1.2h-1.2zM109.3 94.8h1.2v1.2h-1.2zM123.8 120.0h1.2v1.2h-1.2zM127.3 51.8h1.2v1.2h-1.2zM134.4 71.8h1.2v1.2h-1.2zM153.1 64.4h1.2v1.2h-1.2zM152.5 90.0h1.2v1.2h-1.2zM143.7 44.3h1.2v1.2h-1.2zM119.8 57.5h1.2v1.2h-1.2zM126.4 59.7h1.2v1.2h-1.2zM160.7 62.7h1.2v1.2h-1.2zM132.3 65.1h1.2v1.2h-1.2zM116.3 84.6h1.2v1.2h-1.2zM146.6 113.6h1.2v1.2h-1.2zM111.0 71.9h1.2v1.2h-1.2zM123.7 102.5h1.2v1.2h-1.2zM127.1 53.6h1.2v1.2h-1.2zM138.4 97.4h1.2v1.2h-1.2zM143.0 115.7h1.2v1.2h-1.2zM123.8 59.3h1.2v1.2h-1.2zM134.6 105.6h1.2v1.2h-1.2zM128.1 71.8h1.2v1.2h-1.2zM157.3 50.3h1.2v1.2h-1.2zM135.3 54.3h1.2v1.2h-1.2zM112.1 88.4h1.2v1.2h-1.2zM108.9 104.6h1.2v1.2h-1.2zM110.6 95.9h1.2v1.2h-1.2zM156.4 76.4h1.2v1.2h-1.2zM122.8 69.8h1.2v1.2h-1.2zM141.8 43.1h1.2v1.2h-1.2zM144.8 56.8h1.2v1.2h-1.2zM143.2 95.1h1.2v1.2h-1.2zM124.5 59.7h1.2v1.2h-1.2zM120.2 66.1h1.2v1.2h-1.2zM138.5 86.1h1.2v1.2h-1.2zM152.5 43.1h1.2v1.2h-1.2zM147.3 84.3h1.2v1.2h-1.2zM155.5 57.9h1.2v1.2h-1.2zM117.1 65.7h1.2v1.2h-1.2zM158.6 79.5h1.2v1.2h-1.2zM143.2 62.6h1.2v1.2h-1.2zM136.2 47.5h1.2v1.2h-1.2zM156.7 64.4h1.2v1.2h-1.2zM158.3 60.0h1.2v1.2h-1.2zM136.5 49.9h1.2v1.2h-1.2zM141.6 70.4h1.2v1.2h-1.2zM150.4 68.1h1.2v1.2h-1.2zM126.1 89.7h1.2v1.2h-1.2zM143.5 110.6h1.2v1.2h-1.2zM134.3 94.7h1.2v1.2h-1.2zM110.9 50.1h1.2v1.2h-1.2zM155.8 75.2h1.2v1.2h-1.2zM115.9 103.8h1.2v1.2h-1.2zM138.0 90.8h1.2v1.2h-1.2zM124.5 104.2h1.2v1.2h-1.2zM132.5 74.7h1.2v1.2h-1.2zM142.5 107.3h1.2v1.2h-1.2zM157.6 80.7h1.2v1.2h-1.2zM136.5 50.9h1.2v1.2h-1.2zM133.6 48.7h1.2v1.2h-1.2zM159.0 94.8h1.2v1.2h-1.2zM151.9 46.8h1.2v1.2h-1.2zM119.7 73.2h1.2v1.2h-1.2zM143.8 44.8h1.2v1.2h-1.2zM137.9 99.5h1.2v1.2h-1.2zM108.4 69.4h1.2v1.2h-1.2zM152.6 56.8h1.2v1.2h-1.2zM120.0 65.2h1.2v1.2h-1.2zM111.0 104.4h1.2v1.2h-1.2zM120.9 104.0h1.2v1.2h-1.2zM143.3 89.9h1.2v1.2h-1.2zM137.4 57.1h1.2v1.2h-1.2zM151.6 48.0h1.2v1.2h-1.2zM132.5 38.4h1.2v1.2h-1.2zM136.8 54.2h1.2v1.2h-1.2zM157.3 81.4h1.2v1.2h-1.2zM152.0 42.5h1.2v1.2h-1.2zM155.0 70.2h1.2v1.2h-1.2zM152.0 105.1h1.2v1.2h-1.2zM156.0 53.9h1.2v1.2h-1.2zM150.6 45.5h1.2v1.2h-1.2zM151.6 57.3h1.2v1.2h-1.2zM123.0 102.0h1.2v1.2h-1.2zM139.8 96.5h1.2v1.2h-1.2zM144.9 81.0h1.2v1.2h-1.2zM116.6 46.8h1.2v1.2h-1.2zM147.7 39.0h1.2v1.2h-1.2zM141.1 56.1h1.2v1.2h-1.2zM138.3 113.3h1.2v1.2h-1.2zM140.6 54.9h1.2v1.2h-1.2zM141.5 50.0h1.2v1.2h-1.2zM134.4 120.8h1.2v1.2h-1.2zM152.7 83.2h1.2v1.2h-1.2zM142.3 56.6h1.2v1.2h-1.2zM128.1 73.9h1.2v1.2h-1.2zM144.8 117.1h1.2v1.2h-1.2zM142.9 57.1h1.2v1.2h-1.2zM152.0 77.1h1.2v1.2h-1.2zM140.3 64.8h1.2v1.2h-1.2zM119.4 42.9h1.2v1.2h-1.2zM155.6 48.6h1.2v1.2h-1.2zM150.5 90.9h1.2v1.2h-1.2zM134.8 89.9h1.2v1.2h-1.2zM131.0 42.7h1.2v1.2h-1.2zM161.8 84.9h1.2v1.2h-1.2zM154.4 73.9h1.2v1.2h-1.2zM111.5 66.5h1.2v1.2h-1.2zM136.3 102.0h1.2v1.2h-1.2zM141.0 117.6h1.2v1.2h-1.2zM136.6 48.6h1.2v1.2h-1.2zM133.4 106.7h1.2v1.2h-1.2zM129.3 73.3h1.2v1.2h-1.2zM129.4 72.2h1.2v1.2h-1.2zM110.3 57.8h1.2v1.2h-1.2zM152.1 51.9h1.2v1.2h-1.2zM114.6 52.0h1.2v1.2h-1.2zM158.9 55.0h1.2v1.2h-1.2zM147.1 112.8h1.2v1.2h-1.2zM137.0 36.8h1.2v1.2h-1.2zM124.0 96.8h1.2v1.2h-1.2zM129.1 94.0h1.2v1.2h-1.2zM126.4 52.0h1.2v1.2h-1.2zM128.0 102.3h1.2v1.2h-1.2zM132.3 119.4h1.2v1.2h-1.2zM154.0 108.9h1.2v1.2h-1.2zM137.5 73.9h1.2v1.2h-1.2z"/>
<path fill="#2e9a35" d="M164.7 66.6h1.2v1.2h-1.2zM103.2 95.0h1.2v1.2h-1.2zM140.3 32.4h1.2v1.2h-1.2zM166.5 64.0h1.2v1.2h-1.2zM155.2 113.8h1.2v1.2h-1.2zM109.7 45.7h1.2v1.2h-1.2zM140.3 31.7h1.2v1.2h-1.2zM102.1 93.3h1.2v1.2h-1.2zM108.3 55.7h1.2v1.2h-1.2zM102.8 105.4h1.2v1.2h-1.2zM114.6 122.5h1.2v1.2h-1.2zM126.6 122.7h1.2v1.2h-1.2zM125.5 33.4h1.2v1.2h-1.2zM160.9 46.6h1.2v1.2h-1.2zM106.8 104.9h1.2v1.2h-1.2zM113.5 34.2h1.2v1.2h-1.2zM160.9 102.8h1.2v1.2h-1.2zM113.2 42.6h1.2v1.2h-1.2zM105.0 75.8h1.2v1.2h-1.2zM128.0 125.4h1.2v1.2h-1.2zM125.2 122.3h1.2v1.2h-1.2zM152.7 36.6h1.2v1.2h-1.2zM141.2 33.7h1.2v1.2h-1.2zM125.6 123.7h1.2v1.2h-1.2zM145.3 119.1h1.2v1.2h-1.2zM116.8 38.2h1.2v1.2h-1.2zM127.7 30.6h1.2v1.2h-1.2zM154.0 111.8h1.2v1.2h-1.2zM125.2 122.4h1.2v1.2h-1.2zM108.9 111.3h1.2v1.2h-1.2zM164.1 77.0h1.2v1.2h-1.2zM154.3 112.9h1.2v1.2h-1.2zM118.1 119.6h1.2v1.2h-1.2zM107.3 53.4h1.2v1.2h-1.2zM138.0 122.5h1.2v1.2h-1.2zM162.2 100.8h1.2v1.2h-1.2zM167.6 75.5h1.2v1.2h-1.2zM125.7 123.0h1.2v1.2h-1.2zM134.8 122.3h1.2v1.2h-1.2zM115.6 117.7h1.2v1.2h-1.2zM117.3 119.4h1.2v1.2h-1.2zM164.4 65.3h1.2v1.2h-1.2zM111.4 44.4h1.2v1.2h-1.2zM163.8 55.0h1.2v1.2h-1.2zM112.3 118.7h1.2v1.2h-1.2zM163.9 54.8h1.2v1.2h-1.2zM111.2 113.5h1.2v1.2h-1.2zM107.0 108.3h1.2v1.2h-1.2zM109.0 111.0h1.2v1.2h-1.2zM163.8 53.4h1.2v1.2h-1.2zM165.4 80.1h1.2v1.2h-1.2zM164.6 78.2h1.2v1.2h-1.2zM166.2 92.9h1.2v1.2h-1.2zM124.5 33.8h1.2v1.2h-1.2zM166.4 75.9h1.2v1.2h-1.2zM118.7 121.2h1.2v1.2h-1.2zM142.0 34.3h1.2v1.2h-1.2zM127.6 127.2h1.2v1.2h-1.2zM154.0 112.0h1.2v1.2h-1.2zM109.1 113.6h1.2v1.2h-1.2zM115.4 118.6h1.2v1.2h-1.2zM115.3 34.7h1.2v1.2h-1.2zM108.1 57.9h1.2v1.2h-1.2zM104.0 78.7h1.2v1.2h-1.2zM153.3 39.5h1.2v1.2h-1.2zM137.5 122.0h1.2v1.2h-1.2zM106.1 65.7h1.2v1.2h-1.2zM108.4 44.4h1.2v1.2h-1.2zM101.3 67.2h1.2v1.2h-1.2zM103.9 65.4h1.2v1.2h-1.2zM149.1 39.1h1.2v1.2h-1.2zM155.5 39.5h1.2v1.2h-1.2zM141.4 33.0h1.2v1.2h-1.2zM165.8 77.9h1.2v1.2h-1.2zM163.1 51.1h1.2v1.2h-1.2zM146.4 118.0h1.2v1.2h-1.2zM138.1 33.3h1.2v1.2h-1.2zM109.0 113.1h1.2v1.2h-1.2zM119.3 36.4h1.2v1.2h-1.2zM163.4 103.1h1.2v1.2h-1.2zM146.0 117.6h1.2v1.2h-1.2zM166.6 67.0h1.2v1.2h-1.2zM158.7 47.3h1.2v1.2h-1.2zM154.4 39.2h1.2v1.2h-1.2zM164.4 90.8h1.2v1.2h-1.2zM164.9 78.7h1.2v1.2h-1.2zM165.6 52.2h1.2v1.2h-1.2zM144.0 119.4h1.2v1.2h-1.2zM146.5 37.8h1.2v1.2h-1.2zM146.6 120.5h1.2v1.2h-1.2zM146.0 36.1h1.2v1.2h-1.2zM122.4 34.0h1.2v1.2h-1.2zM164.2 56.9h1.2v1.2h-1.2zM132.5 31.4h1.2v1.2h-1.2zM116.5 118.9h1.2v1.2h-1.2zM139.7 121.7h1.2v1.2h-1.2zM106.9 56.2h1.2v1.2h-1.2zM131.2 29.8h1.2v1.2h-1.2zM156.7 110.5h1.2v1.2h-1.2zM141.6 33.9h1.2v1.2h-1.2zM132.7 32.6h1.2v1.2h-1.2z"/>
<path fill="#4aae4a" d="M106.4 105.1h1.2v1.2h-1.2zM117.5 36.1h1.2v1.2h-1.2zM155.2 112.4h1.2v1.2h-1.2zM165.9 79.0h1.2v1.2h-1.2zM148.7 39.0h1.2v1.2h-1.2zM163.9 64.2h1.2v1.2h-1.2zM108.5 112.5h1.2v1.2h-1.2zM126.4 125.1h1.2v1.2h-1.2zM156.3 111.1h1.2v1.2h-1.2zM165.4 75.2h1.2v1.2h-1.2zM105.8 68.1h1.2v1.2h-1.2zM105.7 105.8h1.2v1.2h-1.2zM139.0 122.1h1.2v1.2h-1.2zM104.4 104.8h1.2v1.2h-1.2zM137.5 121.8h1.2v1.2h-1.2zM107.5 105.7h1.2v1.2h-1.2zM121.8 32.3h1.2v1.2h-1.2zM162.5 56.4h1.2v1.2h-1.2zM116.7 120.0h1.2v1.2h-1.2zM111.0 116.2h1.2v1.2h-1.2zM164.8 65.4h1.2v1.2h-1.2zM138.9 121.1h1.2v1.2h-1.2zM160.9 101.5h1.2v1.2h-1.2zM111.3 44.7h1.2v1.2h-1.2zM106.6 105.5h1.2v1.2h-1.2zM163.9 51.0h1.2v1.2h-1.2zM114.7 36.7h1.2v1.2h-1.2zM138.1 121.5h1.2v1.2h-1.2zM164.9 67.2h1.2v1.2h-1.2zM138.6 122.8h1.2v1.2h-1.2zM135.7 121.8h1.2v1.2h-1.2zM107.0 105.7h1.2v1.2h-1.2zM163.9 64.6h1.2v1.2h-1.2zM138.6 123.4h1.2v1.2h-1.2zM164.5 63.8h1.2v1.2h-1.2zM166.0 75.4h1.2v1.2h-1.2zM105.1 106.6h1.2v1.2h-1.2zM109.1 45.4h1.2v1.2h-1.2zM112.4 41.9h1.2v1.2h-1.2zM160.2 49.2h1.2v1.2h-1.2zM163.2 54.7h1.2v1.2h-1.2zM155.9 111.5h1.2v1.2h-1.2zM162.5 52.7h1.2v1.2h-1.2zM111.3 44.4h1.2v1.2h-1.2zM105.4 89.7h1.2v1.2h-1.2zM164.4 91.5h1.2v1.2h-1.2zM120.2 31.5h1.2v1.2h-1.2zM134.6 33.0h1.2v1.2h-1.2zM129.6 123.8h1.2v1.2h-1.2zM150.3 114.8h1.2v1.2h-1.2zM140.3 34.1h1.2v1.2h-1.2zM163.9 67.1h1.2v1.2h-1.2zM160.4 103.0h1.2v1.2h-1.2zM164.3 91.4h1.2v1.2h-1.2zM164.9 55.8h1.2v1.2h-1.2zM158.6 48.0h1.2v1.2h-1.2zM164.1 88.5h1.2v1.2h-1.2zM163.6 48.7h1.2v1.2h-1.2zM143.0 31.3h1.2v1.2h-1.2zM160.0 105.7h1.2v1.2h-1.2zM115.2 35.6h1.2v1.2h-1.2zM129.0 32.2h1.2v1.2h-1.2zM108.9 113.7h1.2v1.2h-1.2zM157.3 113.4h1.2v1.2h-1.2zM112.4 114.1h1.2v1.2h-1.2zM140.1 124.1h1.2v1.2h-1.2zM158.7 46.5h1.2v1.2h-1.2zM140.0 123.6h1.2v1.2h-1.2zM111.6 113.8h1.2v1.2h-1.2zM107.1 63.4h1.2v1.2h-1.2zM105.9 77.6h1.2v1.2h-1.2zM161.1 102.8h1.2v1.2h-1.2zM159.6 46.6h1.2v1.2h-1.2zM164.6 63.4h1.2v1.2h-1.2zM153.8 112.5h1.2v1.2h-1.2zM105.0 78.1h1.2v1.2h-1.2zM159.6 46.8h1.2v1.2h-1.2zM105.9 67.0h1.2v1.2h-1.2zM117.3 122.8h1.2v1.2h-1.2z"/>
<ellipse cx="118" cy="177.5" rx="19" ry="9.5" fill="#8f9fb6" transform="rotate(-14 118 177.5)"/>
<path d="M99.0,179.0 C99.5,176.8 101.2,172.3 103.0,170.0 C104.8,167.7 107.3,166.3 110.0,165.0 C112.7,163.7 116.0,162.7 119.0,162.0 C122.0,161.3 125.5,160.9 128.0,161.0 C130.5,161.1 132.6,161.3 134.0,162.5 C135.4,163.7 136.5,165.9 136.5,168.0 C136.5,170.1 135.6,173.1 134.0,175.0 C132.4,176.9 129.8,178.2 127.0,179.5 C124.2,180.8 120.3,181.8 117.0,182.5 C113.7,183.2 109.8,183.9 107.0,184.0 C104.2,184.1 101.3,183.8 100.0,183.0 C98.7,182.2 98.5,181.2 99.0,179.0Z" fill="#f08a25" stroke="none" stroke-width="1"/>
<ellipse cx="155" cy="157" rx="17" ry="13.5" fill="#b3bdd6" transform="rotate(-15 155 157)"/>
<ellipse cx="155.5" cy="157" rx="14" ry="11" fill="#3552a6" transform="rotate(-15 155.5 157)"/>
<path fill="#1d3a8f" d="M156.3 164.9h1.0v1.0h-1.0zM154.5 159.4h1.0v1.0h-1.0zM147.6 156.7h1.0v1.0h-1.0zM154.2 152.7h1.0v1.0h-1.0zM154.1 151.5h1.0v1.0h-1.0zM139.4 156.6h1.0v1.0h-1.0zM170.4 153.1h1.0v1.0h-1.0zM162.8 156.3h1.0v1.0h-1.0zM144.3 148.8h1.0v1.0h-1.0zM163.4 154.4h1.0v1.0h-1.0zM159.3 144.8h1.0v1.0h-1.0zM146.5 166.4h1.0v1.0h-1.0zM158.5 156.3h1.0v1.0h-1.0zM155.4 164.0h1.0v1.0h-1.0zM157.8 160.7h1.0v1.0h-1.0zM153.4 161.2h1.0v1.0h-1.0zM153.1 154.4h1.0v1.0h-1.0zM147.0 160.6h1.0v1.0h-1.0zM144.5 158.9h1.0v1.0h-1.0zM164.2 158.4h1.0v1.0h-1.0zM161.6 158.6h1.0v1.0h-1.0zM152.7 162.0h1.0v1.0h-1.0zM149.5 161.1h1.0v1.0h-1.0zM152.1 160.2h1.0v1.0h-1.0zM166.0 159.9h1.0v1.0h-1.0zM161.2 157.5h1.0v1.0h-1.0zM162.7 154.6h1.0v1.0h-1.0zM163.5 146.6h1.0v1.0h-1.0zM155.3 165.5h1.0v1.0h-1.0zM154.9 161.3h1.0v1.0h-1.0zM168.5 152.6h1.0v1.0h-1.0zM148.8 147.2h1.0v1.0h-1.0zM160.8 153.5h1.0v1.0h-1.0zM160.2 160.3h1.0v1.0h-1.0zM164.1 158.6h1.0v1.0h-1.0zM166.6 164.5h1.0v1.0h-1.0zM168.1 163.9h1.0v1.0h-1.0zM152.2 165.9h1.0v1.0h-1.0zM167.5 164.5h1.0v1.0h-1.0z"/>
<path fill="#8fa0d0" d="M163.4 153.4h1.0v1.0h-1.0zM162.1 151.3h1.0v1.0h-1.0zM153.8 154.5h1.0v1.0h-1.0zM165.3 151.7h1.0v1.0h-1.0zM153.2 151.7h1.0v1.0h-1.0zM157.2 145.8h1.0v1.0h-1.0zM159.7 157.2h1.0v1.0h-1.0zM151.8 154.5h1.0v1.0h-1.0zM148.9 150.4h1.0v1.0h-1.0zM145.5 156.0h1.0v1.0h-1.0zM155.3 154.6h1.0v1.0h-1.0zM160.3 152.7h1.0v1.0h-1.0zM141.4 153.9h1.0v1.0h-1.0zM165.4 147.4h1.0v1.0h-1.0zM167.3 150.0h1.0v1.0h-1.0zM149.5 156.9h1.0v1.0h-1.0zM147.3 156.0h1.0v1.0h-1.0zM158.7 164.4h1.0v1.0h-1.0zM148.3 151.8h1.0v1.0h-1.0zM142.6 158.7h1.0v1.0h-1.0zM163.7 148.9h1.0v1.0h-1.0zM158.1 159.1h1.0v1.0h-1.0zM151.4 158.5h1.0v1.0h-1.0zM153.8 151.0h1.0v1.0h-1.0zM156.2 160.5h1.0v1.0h-1.0zM149.3 148.4h1.0v1.0h-1.0zM163.6 165.1h1.0v1.0h-1.0zM156.8 159.2h1.0v1.0h-1.0zM165.5 163.2h1.0v1.0h-1.0zM153.8 152.9h1.0v1.0h-1.0zM158.5 145.8h1.0v1.0h-1.0zM147.7 148.7h1.0v1.0h-1.0zM160.2 165.8h1.0v1.0h-1.0zM160.5 154.1h1.0v1.0h-1.0zM152.2 163.1h1.0v1.0h-1.0zM147.7 162.0h1.0v1.0h-1.0zM150.9 150.1h1.0v1.0h-1.0zM150.7 150.5h1.0v1.0h-1.0z"/>
<path fill="#2a4498" d="M143.8 149.8h1.0v1.0h-1.0zM155.2 161.6h1.0v1.0h-1.0zM145.7 155.0h1.0v1.0h-1.0zM143.3 158.7h1.0v1.0h-1.0zM152.1 145.5h1.0v1.0h-1.0zM149.3 157.2h1.0v1.0h-1.0zM158.1 146.0h1.0v1.0h-1.0zM154.7 159.8h1.0v1.0h-1.0zM166.9 162.6h1.0v1.0h-1.0zM157.9 155.5h1.0v1.0h-1.0zM145.3 150.8h1.0v1.0h-1.0zM169.7 154.0h1.0v1.0h-1.0zM145.2 164.9h1.0v1.0h-1.0zM165.9 160.2h1.0v1.0h-1.0zM159.0 152.9h1.0v1.0h-1.0zM155.9 161.1h1.0v1.0h-1.0zM148.3 160.1h1.0v1.0h-1.0zM157.1 158.9h1.0v1.0h-1.0zM152.2 161.1h1.0v1.0h-1.0zM156.8 155.0h1.0v1.0h-1.0zM157.9 154.5h1.0v1.0h-1.0zM152.4 155.9h1.0v1.0h-1.0zM145.0 150.7h1.0v1.0h-1.0zM153.3 155.0h1.0v1.0h-1.0zM144.9 161.5h1.0v1.0h-1.0zM154.2 154.2h1.0v1.0h-1.0zM164.2 163.5h1.0v1.0h-1.0zM160.2 148.0h1.0v1.0h-1.0zM145.3 155.6h1.0v1.0h-1.0zM159.8 157.5h1.0v1.0h-1.0zM150.1 151.5h1.0v1.0h-1.0zM140.8 152.7h1.0v1.0h-1.0zM139.8 157.0h1.0v1.0h-1.0zM164.2 146.8h1.0v1.0h-1.0zM150.8 147.6h1.0v1.0h-1.0zM160.4 163.3h1.0v1.0h-1.0zM163.9 153.2h1.0v1.0h-1.0zM150.1 155.0h1.0v1.0h-1.0zM156.2 153.3h1.0v1.0h-1.0zM143.2 158.1h1.0v1.0h-1.0zM162.7 157.2h1.0v1.0h-1.0zM152.7 159.1h1.0v1.0h-1.0zM158.3 155.0h1.0v1.0h-1.0zM152.2 151.6h1.0v1.0h-1.0z"/>
<path fill="#fff" d="M152.4 154.1h1.0v1.0h-1.0zM154.1 148.8h1.0v1.0h-1.0zM158.5 154.8h1.0v1.0h-1.0zM147.5 155.6h1.0v1.0h-1.0zM165.4 147.1h1.0v1.0h-1.0zM144.3 161.1h1.0v1.0h-1.0zM166.4 158.1h1.0v1.0h-1.0zM166.3 163.5h1.0v1.0h-1.0zM166.7 154.1h1.0v1.0h-1.0zM142.4 161.2h1.0v1.0h-1.0zM166.6 161.8h1.0v1.0h-1.0zM162.1 152.4h1.0v1.0h-1.0zM156.2 154.5h1.0v1.0h-1.0zM150.0 167.0h1.0v1.0h-1.0zM158.1 151.6h1.0v1.0h-1.0zM140.7 152.5h1.0v1.0h-1.0zM156.8 154.5h1.0v1.0h-1.0zM168.2 157.8h1.0v1.0h-1.0zM156.9 154.4h1.0v1.0h-1.0zM161.8 166.2h1.0v1.0h-1.0zM156.5 154.5h1.0v1.0h-1.0zM141.8 153.5h1.0v1.0h-1.0zM158.3 152.8h1.0v1.0h-1.0zM160.0 162.3h1.0v1.0h-1.0zM143.3 151.2h1.0v1.0h-1.0zM147.7 157.8h1.0v1.0h-1.0zM149.8 157.9h1.0v1.0h-1.0zM169.2 154.1h1.0v1.0h-1.0zM165.6 150.4h1.0v1.0h-1.0zM115.0 164.7h1.0v1.0h-1.0zM108.3 166.0h1.0v1.0h-1.0zM131.5 180.3h1.0v1.0h-1.0zM98.3 173.1h1.0v1.0h-1.0zM112.7 167.6h1.0v1.0h-1.0zM121.9 166.0h1.0v1.0h-1.0zM130.7 178.7h1.0v1.0h-1.0zM123.3 181.8h1.0v1.0h-1.0zM125.2 176.4h1.0v1.0h-1.0zM110.0 181.9h1.0v1.0h-1.0zM125.5 168.0h1.0v1.0h-1.0zM103.3 178.3h1.0v1.0h-1.0zM118.9 176.0h1.0v1.0h-1.0zM123.4 178.5h1.0v1.0h-1.0zM113.2 169.9h1.0v1.0h-1.0zM130.1 174.7h1.0v1.0h-1.0zM118.6 179.1h1.0v1.0h-1.0zM124.9 166.6h1.0v1.0h-1.0zM110.6 177.8h1.0v1.0h-1.0zM123.7 172.0h1.0v1.0h-1.0zM123.4 172.9h1.0v1.0h-1.0zM130.9 177.0h1.0v1.0h-1.0zM110.6 163.0h1.0v1.0h-1.0zM113.2 171.4h1.0v1.0h-1.0zM121.1 165.9h1.0v1.0h-1.0zM128.4 176.4h1.0v1.0h-1.0zM105.0 176.8h1.0v1.0h-1.0zM117.9 178.6h1.0v1.0h-1.0zM113.1 183.1h1.0v1.0h-1.0zM122.5 171.0h1.0v1.0h-1.0z"/>
<path fill="#e07818" d="M125.8 182.1h1.0v1.0h-1.0zM130.9 169.1h1.0v1.0h-1.0zM104.1 170.2h1.0v1.0h-1.0zM124.3 175.8h1.0v1.0h-1.0zM112.2 177.0h1.0v1.0h-1.0zM125.0 174.3h1.0v1.0h-1.0zM131.5 165.5h1.0v1.0h-1.0zM121.2 177.1h1.0v1.0h-1.0zM111.7 170.7h1.0v1.0h-1.0zM111.4 176.9h1.0v1.0h-1.0zM132.8 166.3h1.0v1.0h-1.0zM105.1 173.4h1.0v1.0h-1.0zM130.3 174.6h1.0v1.0h-1.0zM106.8 171.5h1.0v1.0h-1.0zM113.9 179.3h1.0v1.0h-1.0zM108.0 174.9h1.0v1.0h-1.0zM117.4 178.9h1.0v1.0h-1.0zM116.2 169.7h1.0v1.0h-1.0zM115.4 182.2h1.0v1.0h-1.0zM122.7 162.6h1.0v1.0h-1.0zM123.9 183.3h1.0v1.0h-1.0zM118.1 164.9h1.0v1.0h-1.0zM126.2 175.8h1.0v1.0h-1.0zM101.8 170.9h1.0v1.0h-1.0zM125.3 180.9h1.0v1.0h-1.0zM117.0 177.3h1.0v1.0h-1.0zM116.6 169.9h1.0v1.0h-1.0zM131.0 166.1h1.0v1.0h-1.0zM112.8 177.7h1.0v1.0h-1.0zM116.0 177.5h1.0v1.0h-1.0zM113.1 183.2h1.0v1.0h-1.0zM115.3 163.1h1.0v1.0h-1.0zM129.9 170.0h1.0v1.0h-1.0zM112.5 176.3h1.0v1.0h-1.0zM101.5 173.9h1.0v1.0h-1.0zM114.5 179.9h1.0v1.0h-1.0z"/>
<path fill="#f7b56a" d="M101.4 174.0h1.0v1.0h-1.0zM117.1 176.8h1.0v1.0h-1.0zM101.0 169.0h1.0v1.0h-1.0zM129.9 167.9h1.0v1.0h-1.0zM105.2 167.8h1.0v1.0h-1.0zM129.1 180.0h1.0v1.0h-1.0zM132.1 174.3h1.0v1.0h-1.0zM133.3 177.7h1.0v1.0h-1.0zM126.4 172.9h1.0v1.0h-1.0zM111.1 173.4h1.0v1.0h-1.0zM108.5 177.3h1.0v1.0h-1.0zM106.9 175.5h1.0v1.0h-1.0zM110.5 172.1h1.0v1.0h-1.0zM110.5 174.6h1.0v1.0h-1.0zM109.8 176.2h1.0v1.0h-1.0zM110.9 168.8h1.0v1.0h-1.0zM128.9 175.3h1.0v1.0h-1.0zM113.4 171.3h1.0v1.0h-1.0zM115.6 170.1h1.0v1.0h-1.0zM130.9 177.7h1.0v1.0h-1.0zM112.0 180.1h1.0v1.0h-1.0zM102.5 179.3h1.0v1.0h-1.0zM103.9 174.6h1.0v1.0h-1.0zM121.2 169.5h1.0v1.0h-1.0zM124.9 165.5h1.0v1.0h-1.0zM105.8 177.8h1.0v1.0h-1.0zM121.3 168.7h1.0v1.0h-1.0zM102.5 175.0h1.0v1.0h-1.0zM113.6 176.8h1.0v1.0h-1.0zM118.0 182.7h1.0v1.0h-1.0zM112.1 178.5h1.0v1.0h-1.0zM104.4 174.5h1.0v1.0h-1.0z"/>
<path fill="#d86c10" d="M109.0 172.9h1.0v1.0h-1.0zM102.0 170.6h1.0v1.0h-1.0zM110.4 171.1h1.0v1.0h-1.0zM110.6 182.4h1.0v1.0h-1.0zM105.0 164.9h1.0v1.0h-1.0zM112.3 173.0h1.0v1.0h-1.0zM114.6 164.3h1.0v1.0h-1.0zM116.0 167.2h1.0v1.0h-1.0zM125.3 179.9h1.0v1.0h-1.0zM129.9 169.0h1.0v1.0h-1.0zM118.0 178.1h1.0v1.0h-1.0zM109.9 173.5h1.0v1.0h-1.0zM111.4 178.8h1.0v1.0h-1.0zM123.5 171.8h1.0v1.0h-1.0zM126.3 177.0h1.0v1.0h-1.0zM103.4 175.9h1.0v1.0h-1.0zM100.5 175.1h1.0v1.0h-1.0zM99.5 172.7h1.0v1.0h-1.0zM122.3 170.0h1.0v1.0h-1.0zM107.7 165.9h1.0v1.0h-1.0zM131.6 169.1h1.0v1.0h-1.0zM133.6 175.3h1.0v1.0h-1.0z"/>
<line x1="57.00" y1="26.50" x2="218.40" y2="26.50" stroke="#555" stroke-width="1.1"/>
<line x1="218.40" y1="26.50" x2="218.40" y2="188.40" stroke="#333" stroke-width="1.1"/>
<line x1="57.00" y1="26.00" x2="57.00" y2="189.10" stroke="#222" stroke-width="1.4"/>
<line x1="56.30" y1="188.40" x2="218.40" y2="188.40" stroke="#222" stroke-width="1.4"/>
<line x1="55.20" y1="188.40" x2="57.00" y2="188.40" stroke="#333" stroke-width="0.8"/>
<line x1="55.20" y1="182.24" x2="57.00" y2="182.24" stroke="#333" stroke-width="0.8"/>
<line x1="55.20" y1="176.07" x2="57.00" y2="176.07" stroke="#333" stroke-width="0.8"/>
<line x1="55.20" y1="169.91" x2="57.00" y2="169.91" stroke="#333" stroke-width="0.8"/>
<line x1="55.20" y1="163.74" x2="57.00" y2="163.74" stroke="#333" stroke-width="0.8"/>
<line x1="55.20" y1="157.57" x2="57.00" y2="157.57" stroke="#333" stroke-width="0.8"/>
<line x1="55.20" y1="151.41" x2="57.00" y2="151.41" stroke="#333" stroke-width="0.8"/>
<line x1="55.20" y1="145.25" x2="57.00" y2="145.25" stroke="#333" stroke-width="0.8"/>
<line x1="55.20" y1="139.08" x2="57.00" y2="139.08" stroke="#333" stroke-width="0.8"/>
<line x1="55.20" y1="132.91" x2="57.00" y2="132.91" stroke="#333" stroke-width="0.8"/>
<line x1="55.20" y1="126.75" x2="57.00" y2="126.75" stroke="#333" stroke-width="0.8"/>
<line x1="55.20" y1="120.58" x2="57.00" y2="120.58" stroke="#333" stroke-width="0.8"/>
<line x1="55.20" y1="114.42" x2="57.00" y2="114.42" stroke="#333" stroke-width="0.8"/>
<line x1="55.20" y1="108.25" x2="57.00" y2="108.25" stroke="#333" stroke-width="0.8"/>
<line x1="55.20" y1="102.09" x2="57.00" y2="102.09" stroke="#333" stroke-width="0.8"/>
<line x1="55.20" y1="95.92" x2="57.00" y2="95.92" stroke="#333" stroke-width="0.8"/>
<line x1="55.20" y1="89.76" x2="57.00" y2="89.76" stroke="#333" stroke-width="0.8"/>
<line x1="55.20" y1="83.59" x2="57.00" y2="83.59" stroke="#333" stroke-width="0.8"/>
<line x1="55.20" y1="77.43" x2="57.00" y2="77.43" stroke="#333" stroke-width="0.8"/>
<line x1="55.20" y1="71.27" x2="57.00" y2="71.27" stroke="#333" stroke-width="0.8"/>
<line x1="55.20" y1="65.10" x2="57.00" y2="65.10" stroke="#333" stroke-width="0.8"/>
<line x1="55.20" y1="58.94" x2="57.00" y2="58.94" stroke="#333" stroke-width="0.8"/>
<line x1="55.20" y1="52.77" x2="57.00" y2="52.77" stroke="#333" stroke-width="0.8"/>
<line x1="55.20" y1="46.60" x2="57.00" y2="46.60" stroke="#333" stroke-width="0.8"/>
<line x1="55.20" y1="40.44" x2="57.00" y2="40.44" stroke="#333" stroke-width="0.8"/>
<line x1="55.20" y1="34.28" x2="57.00" y2="34.28" stroke="#333" stroke-width="0.8"/>
<line x1="55.20" y1="28.11" x2="57.00" y2="28.11" stroke="#333" stroke-width="0.8"/>
<line x1="53.00" y1="188.40" x2="57.00" y2="188.40" stroke="#222" stroke-width="1"/>
<line x1="53.00" y1="126.75" x2="57.00" y2="126.75" stroke="#222" stroke-width="1"/>
<line x1="53.00" y1="65.10" x2="57.00" y2="65.10" stroke="#222" stroke-width="1"/>
<line x1="54.00" y1="157.57" x2="57.00" y2="157.57" stroke="#333" stroke-width="0.9"/>
<line x1="54.00" y1="95.92" x2="57.00" y2="95.92" stroke="#333" stroke-width="0.9"/>
<line x1="54.00" y1="34.28" x2="57.00" y2="34.28" stroke="#333" stroke-width="0.9"/>
<line x1="57.00" y1="188.40" x2="57.00" y2="189.90" stroke="#333" stroke-width="0.8"/>
<line x1="63.14" y1="188.40" x2="63.14" y2="189.90" stroke="#333" stroke-width="0.8"/>
<line x1="69.28" y1="188.40" x2="69.28" y2="189.90" stroke="#333" stroke-width="0.8"/>
<line x1="75.42" y1="188.40" x2="75.42" y2="189.90" stroke="#333" stroke-width="0.8"/>
<line x1="81.56" y1="188.40" x2="81.56" y2="189.90" stroke="#333" stroke-width="0.8"/>
<line x1="87.70" y1="188.40" x2="87.70" y2="189.90" stroke="#333" stroke-width="0.8"/>
<line x1="93.84" y1="188.40" x2="93.84" y2="189.90" stroke="#333" stroke-width="0.8"/>
<line x1="99.98" y1="188.40" x2="99.98" y2="189.90" stroke="#333" stroke-width="0.8"/>
<line x1="106.12" y1="188.40" x2="106.12" y2="189.90" stroke="#333" stroke-width="0.8"/>
<line x1="112.26" y1="188.40" x2="112.26" y2="189.90" stroke="#333" stroke-width="0.8"/>
<line x1="118.40" y1="188.40" x2="118.40" y2="189.90" stroke="#333" stroke-width="0.8"/>
<line x1="124.54" y1="188.40" x2="124.54" y2="189.90" stroke="#333" stroke-width="0.8"/>
<line x1="130.68" y1="188.40" x2="130.68" y2="189.90" stroke="#333" stroke-width="0.8"/>
<line x1="136.82" y1="188.40" x2="136.82" y2="189.90" stroke="#333" stroke-width="0.8"/>
<line x1="142.96" y1="188.40" x2="142.96" y2="189.90" stroke="#333" stroke-width="0.8"/>
<line x1="149.10" y1="188.40" x2="149.10" y2="189.90" stroke="#333" stroke-width="0.8"/>
<line x1="155.24" y1="188.40" x2="155.24" y2="189.90" stroke="#333" stroke-width="0.8"/>
<line x1="161.38" y1="188.40" x2="161.38" y2="189.90" stroke="#333" stroke-width="0.8"/>
<line x1="167.52" y1="188.40" x2="167.52" y2="189.90" stroke="#333" stroke-width="0.8"/>
<line x1="173.66" y1="188.40" x2="173.66" y2="189.90" stroke="#333" stroke-width="0.8"/>
<line x1="179.80" y1="188.40" x2="179.80" y2="189.90" stroke="#333" stroke-width="0.8"/>
<line x1="185.94" y1="188.40" x2="185.94" y2="189.90" stroke="#333" stroke-width="0.8"/>
<line x1="192.08" y1="188.40" x2="192.08" y2="189.90" stroke="#333" stroke-width="0.8"/>
<line x1="198.22" y1="188.40" x2="198.22" y2="189.90" stroke="#333" stroke-width="0.8"/>
<line x1="204.36" y1="188.40" x2="204.36" y2="189.90" stroke="#333" stroke-width="0.8"/>
<line x1="210.50" y1="188.40" x2="210.50" y2="189.90" stroke="#333" stroke-width="0.8"/>
<line x1="216.64" y1="188.40" x2="216.64" y2="189.90" stroke="#333" stroke-width="0.8"/>
<line x1="57.00" y1="188.40" x2="57.00" y2="191.40" stroke="#222" stroke-width="1"/>
<line x1="87.70" y1="188.40" x2="87.70" y2="191.40" stroke="#222" stroke-width="1"/>
<line x1="118.40" y1="188.40" x2="118.40" y2="191.40" stroke="#222" stroke-width="1"/>
<line x1="149.10" y1="188.40" x2="149.10" y2="191.40" stroke="#222" stroke-width="1"/>
<line x1="179.80" y1="188.40" x2="179.80" y2="191.40" stroke="#222" stroke-width="1"/>
<line x1="210.50" y1="188.40" x2="210.50" y2="191.40" stroke="#222" stroke-width="1"/>
<text x="48.10" y="68.90" font-size="9.2" text-anchor="end" fill="#1c1c1c">200</text>
<text x="48.10" y="129.20" font-size="9.2" text-anchor="end" fill="#1c1c1c">100</text>
<text x="44.20" y="190.80" font-size="9.2" text-anchor="end" fill="#1c1c1c">0</text>
<text x="59.00" y="204.70" font-size="9.2" text-anchor="middle" fill="#1c1c1c">0</text>
<text x="118.40" y="204.70" font-size="9.2" text-anchor="middle" fill="#1c1c1c">100</text>
<text x="179.80" y="204.70" font-size="9.2" text-anchor="middle" fill="#1c1c1c">200</text>
<text x="26.60" y="104.50" font-size="12" font-weight="bold" text-anchor="middle" fill="#1c1c1c" transform="rotate(-90 26.6 104.5)">FSC-A</text>
<text x="132.60" y="219.70" font-size="12" font-weight="bold" text-anchor="middle" fill="#1c1c1c">SSC-A</text>
<text x="72.20" y="88.50" font-size="12" font-weight="bold" text-anchor="start" fill="#1c1c1c">PMN</text>
<text x="111.50" y="157.80" font-size="12" font-weight="bold" text-anchor="start" fill="#1c1c1c">L</text>
<text x="145.00" y="139.50" font-size="12" font-weight="bold" text-anchor="start" fill="#1c1c1c">M</text>
<path d="M345.0,189.0 C345.8,188.9 348.2,188.8 350.0,188.4 C351.8,188.0 354.0,187.4 356.0,186.5 C358.0,185.6 360.2,184.2 362.0,183.0 C363.8,181.8 365.4,180.5 367.0,179.0 C368.6,177.5 370.2,175.5 371.5,173.8 C372.8,172.1 373.8,170.5 375.0,169.0 C376.2,167.5 377.5,165.7 378.5,164.6 C379.5,163.5 380.2,162.7 381.0,162.3 C381.8,161.9 382.2,161.8 383.0,162.0 C383.8,162.2 384.7,162.8 385.5,163.5 C386.3,164.2 386.9,164.8 387.7,166.0 C388.4,167.2 389.2,169.2 390.0,171.0 C390.8,172.8 391.6,175.2 392.3,177.0 C393.0,178.8 393.5,180.5 394.0,182.0 C394.5,183.5 394.9,184.8 395.4,186.0 C395.9,187.2 396.7,188.5 397.0,189.0Z" fill="#f0862a" stroke="none" stroke-width="1"/>
<path d="M318.0,189.0 C319.0,188.9 322.0,188.7 324.0,188.4 C326.0,188.1 328.3,187.3 330.0,187.0 C331.7,186.7 332.7,186.3 334.0,186.3 C335.3,186.3 336.7,186.7 338.0,187.0 C339.3,187.3 340.3,188.1 342.0,188.4 C343.7,188.7 347.0,188.9 348.0,189.0Z" fill="#44a840" stroke="none" stroke-width="1"/>
<path d="M394.5,189 L396,186 L397.3,175 L398.5,161 L399.6,140 L400.4,120 L401,100 L402.3,80 L403.6,60 L404.8,48 L405.8,60 L406.8,80 L407.7,100 L408.6,120 L409.5,140 L410.8,161 L412,175 L413.5,186 L415,189Z" fill="#33a133" stroke="none" stroke-width="1"/>
<path d="M404.0,189.0 C404.3,188.2 405.4,186.0 406.0,184.0 C406.6,182.0 406.9,179.3 407.5,177.0 C408.1,174.7 408.8,172.2 409.5,170.0 C410.2,167.8 410.8,165.4 411.5,164.0 C412.2,162.6 413.1,161.4 413.8,161.3 C414.6,161.2 415.2,161.7 416.0,163.5 C416.8,165.3 417.8,169.1 418.5,172.0 C419.2,174.9 419.8,178.3 420.5,181.0 C421.2,183.7 422.3,186.7 423.0,188.0 C423.7,189.3 424.2,188.8 424.5,189.0Z" fill="#2f4ea3" stroke="none" stroke-width="1"/>
<line x1="275.70" y1="25.50" x2="508.00" y2="25.50" stroke="#555" stroke-width="1.1"/>
<line x1="508.00" y1="25.50" x2="508.00" y2="189.00" stroke="#333" stroke-width="1.1"/>
<line x1="275.70" y1="25.00" x2="275.70" y2="189.70" stroke="#222" stroke-width="1.4"/>
<line x1="275.00" y1="189.00" x2="508.00" y2="189.00" stroke="#222" stroke-width="1.4"/>
<line x1="273.70" y1="189.00" x2="275.70" y2="189.00" stroke="#333" stroke-width="0.8"/>
<line x1="273.70" y1="182.66" x2="275.70" y2="182.66" stroke="#333" stroke-width="0.8"/>
<line x1="273.70" y1="176.32" x2="275.70" y2="176.32" stroke="#333" stroke-width="0.8"/>
<line x1="273.70" y1="169.98" x2="275.70" y2="169.98" stroke="#333" stroke-width="0.8"/>
<line x1="273.70" y1="163.64" x2="275.70" y2="163.64" stroke="#333" stroke-width="0.8"/>
<line x1="273.70" y1="157.30" x2="275.70" y2="157.30" stroke="#333" stroke-width="0.8"/>
<line x1="273.70" y1="150.96" x2="275.70" y2="150.96" stroke="#333" stroke-width="0.8"/>
<line x1="273.70" y1="144.62" x2="275.70" y2="144.62" stroke="#333" stroke-width="0.8"/>
<line x1="273.70" y1="138.28" x2="275.70" y2="138.28" stroke="#333" stroke-width="0.8"/>
<line x1="273.70" y1="131.94" x2="275.70" y2="131.94" stroke="#333" stroke-width="0.8"/>
<line x1="273.70" y1="125.60" x2="275.70" y2="125.60" stroke="#333" stroke-width="0.8"/>
<line x1="273.70" y1="119.26" x2="275.70" y2="119.26" stroke="#333" stroke-width="0.8"/>
<line x1="273.70" y1="112.92" x2="275.70" y2="112.92" stroke="#333" stroke-width="0.8"/>
<line x1="273.70" y1="106.58" x2="275.70" y2="106.58" stroke="#333" stroke-width="0.8"/>
<line x1="273.70" y1="100.24" x2="275.70" y2="100.24" stroke="#333" stroke-width="0.8"/>
<line x1="273.70" y1="93.90" x2="275.70" y2="93.90" stroke="#333" stroke-width="0.8"/>
<line x1="273.70" y1="87.56" x2="275.70" y2="87.56" stroke="#333" stroke-width="0.8"/>
<line x1="273.70" y1="81.22" x2="275.70" y2="81.22" stroke="#333" stroke-width="0.8"/>
<line x1="273.70" y1="74.88" x2="275.70" y2="74.88" stroke="#333" stroke-width="0.8"/>
<line x1="273.70" y1="68.54" x2="275.70" y2="68.54" stroke="#333" stroke-width="0.8"/>
<line x1="273.70" y1="62.20" x2="275.70" y2="62.20" stroke="#333" stroke-width="0.8"/>
<line x1="273.70" y1="55.86" x2="275.70" y2="55.86" stroke="#333" stroke-width="0.8"/>
<line x1="273.70" y1="49.52" x2="275.70" y2="49.52" stroke="#333" stroke-width="0.8"/>
<line x1="273.70" y1="43.18" x2="275.70" y2="43.18" stroke="#333" stroke-width="0.8"/>
<line x1="273.70" y1="36.84" x2="275.70" y2="36.84" stroke="#333" stroke-width="0.8"/>
<line x1="273.70" y1="30.50" x2="275.70" y2="30.50" stroke="#333" stroke-width="0.8"/>
<line x1="270.70" y1="189.00" x2="275.70" y2="189.00" stroke="#222" stroke-width="1"/>
<line x1="270.70" y1="157.30" x2="275.70" y2="157.30" stroke="#222" stroke-width="1"/>
<line x1="270.70" y1="125.60" x2="275.70" y2="125.60" stroke="#222" stroke-width="1"/>
<line x1="270.70" y1="93.90" x2="275.70" y2="93.90" stroke="#222" stroke-width="1"/>
<line x1="270.70" y1="62.20" x2="275.70" y2="62.20" stroke="#222" stroke-width="1"/>
<line x1="270.70" y1="30.50" x2="275.70" y2="30.50" stroke="#222" stroke-width="1"/>
<text x="267.30" y="66.00" font-size="9.2" text-anchor="end" fill="#1c1c1c">200</text>
<text x="267.30" y="129.50" font-size="9.2" text-anchor="end" fill="#1c1c1c">100</text>
<text x="272.50" y="192.60" font-size="9.2" text-anchor="end" fill="#1c1c1c">0</text>
<line x1="299.50" y1="189.00" x2="299.50" y2="192.50" stroke="#222" stroke-width="1"/>
<line x1="325.50" y1="189.00" x2="325.50" y2="192.50" stroke="#222" stroke-width="1"/>
<line x1="379.50" y1="189.00" x2="379.50" y2="192.50" stroke="#222" stroke-width="1"/>
<line x1="434.50" y1="189.00" x2="434.50" y2="192.50" stroke="#222" stroke-width="1"/>
<line x1="485.00" y1="189.00" x2="485.00" y2="192.50" stroke="#222" stroke-width="1"/>
<line x1="341.76" y1="189.00" x2="341.76" y2="191.00" stroke="#333" stroke-width="0.8"/>
<line x1="351.26" y1="189.00" x2="351.26" y2="191.00" stroke="#333" stroke-width="0.8"/>
<line x1="358.01" y1="189.00" x2="358.01" y2="191.00" stroke="#333" stroke-width="0.8"/>
<line x1="363.24" y1="189.00" x2="363.24" y2="191.00" stroke="#333" stroke-width="0.8"/>
<line x1="367.52" y1="189.00" x2="367.52" y2="191.00" stroke="#333" stroke-width="0.8"/>
<line x1="371.14" y1="189.00" x2="371.14" y2="191.00" stroke="#333" stroke-width="0.8"/>
<line x1="374.27" y1="189.00" x2="374.27" y2="191.00" stroke="#333" stroke-width="0.8"/>
<line x1="377.03" y1="189.00" x2="377.03" y2="191.00" stroke="#333" stroke-width="0.8"/>
<line x1="396.06" y1="189.00" x2="396.06" y2="191.00" stroke="#333" stroke-width="0.8"/>
<line x1="405.74" y1="189.00" x2="405.74" y2="191.00" stroke="#333" stroke-width="0.8"/>
<line x1="412.61" y1="189.00" x2="412.61" y2="191.00" stroke="#333" stroke-width="0.8"/>
<line x1="417.94" y1="189.00" x2="417.94" y2="191.00" stroke="#333" stroke-width="0.8"/>
<line x1="422.30" y1="189.00" x2="422.30" y2="191.00" stroke="#333" stroke-width="0.8"/>
<line x1="425.98" y1="189.00" x2="425.98" y2="191.00" stroke="#333" stroke-width="0.8"/>
<line x1="429.17" y1="189.00" x2="429.17" y2="191.00" stroke="#333" stroke-width="0.8"/>
<line x1="431.98" y1="189.00" x2="431.98" y2="191.00" stroke="#333" stroke-width="0.8"/>
<line x1="449.70" y1="189.00" x2="449.70" y2="191.00" stroke="#333" stroke-width="0.8"/>
<line x1="458.59" y1="189.00" x2="458.59" y2="191.00" stroke="#333" stroke-width="0.8"/>
<line x1="464.90" y1="189.00" x2="464.90" y2="191.00" stroke="#333" stroke-width="0.8"/>
<line x1="469.80" y1="189.00" x2="469.80" y2="191.00" stroke="#333" stroke-width="0.8"/>
<line x1="473.80" y1="189.00" x2="473.80" y2="191.00" stroke="#333" stroke-width="0.8"/>
<line x1="477.18" y1="189.00" x2="477.18" y2="191.00" stroke="#333" stroke-width="0.8"/>
<line x1="480.11" y1="189.00" x2="480.11" y2="191.00" stroke="#333" stroke-width="0.8"/>
<line x1="482.69" y1="189.00" x2="482.69" y2="191.00" stroke="#333" stroke-width="0.8"/>
<line x1="500.20" y1="189.00" x2="500.20" y2="191.00" stroke="#333" stroke-width="0.8"/>
<line x1="304.70" y1="189.00" x2="304.70" y2="191.00" stroke="#333" stroke-width="0.8"/>
<line x1="308.60" y1="189.00" x2="308.60" y2="191.00" stroke="#333" stroke-width="0.8"/>
<line x1="312.50" y1="189.00" x2="312.50" y2="191.00" stroke="#333" stroke-width="0.8"/>
<line x1="315.62" y1="189.00" x2="315.62" y2="191.00" stroke="#333" stroke-width="0.8"/>
<line x1="319.00" y1="189.00" x2="319.00" y2="191.00" stroke="#333" stroke-width="0.8"/>
<line x1="321.60" y1="189.00" x2="321.60" y2="191.00" stroke="#333" stroke-width="0.8"/>
<line x1="323.68" y1="189.00" x2="323.68" y2="191.00" stroke="#333" stroke-width="0.8"/>
<line x1="294.30" y1="189.00" x2="294.30" y2="191.00" stroke="#333" stroke-width="0.8"/>
<line x1="290.40" y1="189.00" x2="290.40" y2="191.00" stroke="#333" stroke-width="0.8"/>
<line x1="286.50" y1="189.00" x2="286.50" y2="191.00" stroke="#333" stroke-width="0.8"/>
<line x1="283.38" y1="189.00" x2="283.38" y2="191.00" stroke="#333" stroke-width="0.8"/>
<line x1="280.00" y1="189.00" x2="280.00" y2="191.00" stroke="#333" stroke-width="0.8"/>
<line x1="277.40" y1="189.00" x2="277.40" y2="191.00" stroke="#333" stroke-width="0.8"/>
<line x1="275.32" y1="189.00" x2="275.32" y2="191.00" stroke="#333" stroke-width="0.8"/>
<text x="300.00" y="205.50" font-size="9.2" text-anchor="middle" fill="#1c1c1c">0</text>
<text x="324.00" y="205.50" font-size="9.2" text-anchor="end" fill="#1c1c1c">10</text>
<text x="329.00" y="201.20" font-size="9.2" text-anchor="start" fill="#1c1c1c">2</text>
<text x="378.00" y="205.50" font-size="9.2" text-anchor="end" fill="#1c1c1c">10</text>
<text x="383.00" y="201.20" font-size="9.2" text-anchor="start" fill="#1c1c1c">3</text>
<text x="433.00" y="205.50" font-size="9.2" text-anchor="end" fill="#1c1c1c">10</text>
<text x="438.00" y="201.20" font-size="9.2" text-anchor="start" fill="#1c1c1c">4</text>
<text x="483.50" y="205.50" font-size="9.2" text-anchor="end" fill="#1c1c1c">10</text>
<text x="488.50" y="201.20" font-size="9.2" text-anchor="start" fill="#1c1c1c">5</text>
<text x="241.30" y="119.00" font-size="12" font-weight="bold" text-anchor="middle" fill="#1c1c1c" transform="rotate(-90 241.3 119)"># cells</text>
<text x="394.20" y="219.00" font-size="12.3" font-weight="bold" text-anchor="middle" fill="#1c1c1c">fluorescence</text>
<text x="395.30" y="45.00" font-size="12" font-weight="bold" text-anchor="start" fill="#1c1c1c">PMN</text>
<text x="378.20" y="157.80" font-size="12" font-weight="bold" text-anchor="start" fill="#1c1c1c">L</text>
<text x="412.70" y="155.00" font-size="12" font-weight="bold" text-anchor="start" fill="#1c1c1c">M</text>
<path fill="#666" d="M161.7 308.8h1.0v1.0h-1.0zM187.2 307.2h1.0v1.0h-1.0zM193.6 280.4h1.0v1.0h-1.0zM188.0 268.0h1.0v1.0h-1.0zM187.0 306.2h1.0v1.0h-1.0zM188.6 302.3h1.0v1.0h-1.0zM163.5 289.6h1.0v1.0h-1.0zM163.3 287.6h1.0v1.0h-1.0zM158.4 305.4h1.0v1.0h-1.0zM165.3 304.6h1.0v1.0h-1.0zM167.9 311.6h1.0v1.0h-1.0zM165.5 298.0h1.0v1.0h-1.0zM187.9 293.0h1.0v1.0h-1.0zM171.6 318.3h1.0v1.0h-1.0zM165.7 312.1h1.0v1.0h-1.0zM195.1 261.9h1.0v1.0h-1.0zM173.6 266.4h1.0v1.0h-1.0zM186.6 284.9h1.0v1.0h-1.0zM190.6 302.9h1.0v1.0h-1.0zM173.0 267.1h1.0v1.0h-1.0zM175.2 264.9h1.0v1.0h-1.0zM159.9 277.8h1.0v1.0h-1.0zM187.7 279.2h1.0v1.0h-1.0zM188.7 287.2h1.0v1.0h-1.0zM163.6 303.8h1.0v1.0h-1.0zM160.0 273.2h1.0v1.0h-1.0zM166.0 271.4h1.0v1.0h-1.0zM193.4 310.0h1.0v1.0h-1.0zM182.3 319.9h1.0v1.0h-1.0zM176.8 265.6h1.0v1.0h-1.0zM168.7 274.8h1.0v1.0h-1.0zM177.3 265.9h1.0v1.0h-1.0zM177.9 318.0h1.0v1.0h-1.0zM188.1 283.3h1.0v1.0h-1.0zM189.6 279.9h1.0v1.0h-1.0zM166.6 279.5h1.0v1.0h-1.0zM165.3 292.7h1.0v1.0h-1.0zM183.2 316.1h1.0v1.0h-1.0zM187.1 294.8h1.0v1.0h-1.0zM189.4 298.0h1.0v1.0h-1.0zM171.2 266.4h1.0v1.0h-1.0zM162.7 273.8h1.0v1.0h-1.0zM164.7 294.4h1.0v1.0h-1.0zM192.9 287.2h1.0v1.0h-1.0zM166.3 308.5h1.0v1.0h-1.0zM190.4 291.3h1.0v1.0h-1.0zM186.2 260.0h1.0v1.0h-1.0zM162.0 299.6h1.0v1.0h-1.0zM187.3 290.7h1.0v1.0h-1.0zM189.5 309.7h1.0v1.0h-1.0zM186.4 270.7h1.0v1.0h-1.0zM176.7 261.5h1.0v1.0h-1.0zM170.7 316.5h1.0v1.0h-1.0zM165.8 287.8h1.0v1.0h-1.0zM161.4 307.4h1.0v1.0h-1.0zM157.7 291.0h1.0v1.0h-1.0zM188.3 280.5h1.0v1.0h-1.0zM186.4 307.5h1.0v1.0h-1.0zM159.3 316.4h1.0v1.0h-1.0zM167.8 273.3h1.0v1.0h-1.0zM188.3 294.7h1.0v1.0h-1.0zM193.5 286.2h1.0v1.0h-1.0zM170.6 264.6h1.0v1.0h-1.0zM189.4 260.1h1.0v1.0h-1.0zM175.7 265.2h1.0v1.0h-1.0zM163.0 295.7h1.0v1.0h-1.0zM164.6 309.7h1.0v1.0h-1.0zM186.6 311.0h1.0v1.0h-1.0zM182.4 316.1h1.0v1.0h-1.0zM191.6 276.8h1.0v1.0h-1.0zM183.5 316.6h1.0v1.0h-1.0zM187.0 298.5h1.0v1.0h-1.0zM186.1 312.0h1.0v1.0h-1.0zM192.9 288.5h1.0v1.0h-1.0zM182.6 315.9h1.0v1.0h-1.0zM164.3 291.0h1.0v1.0h-1.0zM170.4 265.3h1.0v1.0h-1.0zM161.6 310.3h1.0v1.0h-1.0zM164.2 285.9h1.0v1.0h-1.0zM166.0 309.5h1.0v1.0h-1.0zM165.1 281.3h1.0v1.0h-1.0zM174.0 265.4h1.0v1.0h-1.0zM186.5 264.2h1.0v1.0h-1.0zM189.3 264.4h1.0v1.0h-1.0zM168.1 264.9h1.0v1.0h-1.0zM187.1 300.3h1.0v1.0h-1.0zM196.0 258.3h1.0v1.0h-1.0zM163.6 286.3h1.0v1.0h-1.0zM187.2 289.7h1.0v1.0h-1.0zM166.6 286.9h1.0v1.0h-1.0zM174.6 321.1h1.0v1.0h-1.0zM186.1 270.8h1.0v1.0h-1.0zM191.1 308.7h1.0v1.0h-1.0zM189.6 280.9h1.0v1.0h-1.0zM167.3 278.4h1.0v1.0h-1.0zM168.8 263.5h1.0v1.0h-1.0zM159.2 290.6h1.0v1.0h-1.0zM191.3 273.3h1.0v1.0h-1.0zM184.4 268.3h1.0v1.0h-1.0zM165.4 284.6h1.0v1.0h-1.0zM191.0 302.5h1.0v1.0h-1.0zM182.4 269.2h1.0v1.0h-1.0zM184.3 272.3h1.0v1.0h-1.0zM173.5 266.6h1.0v1.0h-1.0zM195.4 311.1h1.0v1.0h-1.0zM179.6 266.6h1.0v1.0h-1.0zM167.3 315.2h1.0v1.0h-1.0zM176.6 318.5h1.0v1.0h-1.0zM164.9 295.4h1.0v1.0h-1.0zM165.7 274.7h1.0v1.0h-1.0zM189.7 281.3h1.0v1.0h-1.0zM187.4 298.0h1.0v1.0h-1.0zM183.8 313.3h1.0v1.0h-1.0zM161.1 310.3h1.0v1.0h-1.0zM164.6 263.8h1.0v1.0h-1.0zM163.4 287.4h1.0v1.0h-1.0zM161.6 322.7h1.0v1.0h-1.0zM187.9 306.9h1.0v1.0h-1.0zM192.3 299.5h1.0v1.0h-1.0zM190.7 291.7h1.0v1.0h-1.0zM165.7 316.4h1.0v1.0h-1.0zM187.8 295.1h1.0v1.0h-1.0zM172.4 263.0h1.0v1.0h-1.0zM192.9 316.0h1.0v1.0h-1.0zM189.9 278.7h1.0v1.0h-1.0zM155.2 293.6h1.0v1.0h-1.0zM162.7 271.1h1.0v1.0h-1.0zM170.0 273.6h1.0v1.0h-1.0zM172.4 262.0h1.0v1.0h-1.0zM163.0 296.5h1.0v1.0h-1.0zM168.2 313.2h1.0v1.0h-1.0zM189.5 292.2h1.0v1.0h-1.0zM187.4 279.8h1.0v1.0h-1.0zM157.9 298.2h1.0v1.0h-1.0zM187.1 312.6h1.0v1.0h-1.0zM171.0 268.5h1.0v1.0h-1.0zM192.0 288.4h1.0v1.0h-1.0zM183.5 316.6h1.0v1.0h-1.0zM189.4 316.1h1.0v1.0h-1.0zM192.4 303.4h1.0v1.0h-1.0zM163.5 290.3h1.0v1.0h-1.0zM161.0 312.8h1.0v1.0h-1.0zM169.5 274.6h1.0v1.0h-1.0zM167.1 282.1h1.0v1.0h-1.0zM192.0 304.3h1.0v1.0h-1.0zM189.1 297.1h1.0v1.0h-1.0zM168.2 276.4h1.0v1.0h-1.0zM189.5 268.7h1.0v1.0h-1.0zM179.3 257.3h1.0v1.0h-1.0zM178.5 265.1h1.0v1.0h-1.0zM187.7 287.8h1.0v1.0h-1.0zM186.2 271.6h1.0v1.0h-1.0zM171.1 265.2h1.0v1.0h-1.0zM193.6 276.4h1.0v1.0h-1.0zM178.8 263.6h1.0v1.0h-1.0zM191.6 305.9h1.0v1.0h-1.0zM165.3 300.5h1.0v1.0h-1.0zM157.9 301.0h1.0v1.0h-1.0zM182.2 315.0h1.0v1.0h-1.0zM161.5 296.2h1.0v1.0h-1.0zM163.0 295.1h1.0v1.0h-1.0zM186.9 282.4h1.0v1.0h-1.0zM191.6 303.6h1.0v1.0h-1.0zM159.3 302.4h1.0v1.0h-1.0zM163.6 304.6h1.0v1.0h-1.0zM186.7 261.0h1.0v1.0h-1.0zM161.8 270.4h1.0v1.0h-1.0zM189.7 295.6h1.0v1.0h-1.0zM193.2 295.9h1.0v1.0h-1.0zM188.1 290.5h1.0v1.0h-1.0zM188.6 289.3h1.0v1.0h-1.0zM186.5 265.2h1.0v1.0h-1.0zM189.4 301.7h1.0v1.0h-1.0zM182.1 266.4h1.0v1.0h-1.0zM164.4 302.5h1.0v1.0h-1.0zM162.5 293.3h1.0v1.0h-1.0zM185.7 312.9h1.0v1.0h-1.0zM163.3 295.7h1.0v1.0h-1.0zM164.6 308.7h1.0v1.0h-1.0zM187.7 292.8h1.0v1.0h-1.0zM187.2 292.9h1.0v1.0h-1.0zM168.3 276.7h1.0v1.0h-1.0zM167.3 282.8h1.0v1.0h-1.0zM165.1 276.4h1.0v1.0h-1.0zM173.8 318.8h1.0v1.0h-1.0zM194.2 298.4h1.0v1.0h-1.0zM183.5 268.1h1.0v1.0h-1.0zM192.1 282.7h1.0v1.0h-1.0zM169.9 319.3h1.0v1.0h-1.0zM187.9 287.2h1.0v1.0h-1.0zM187.4 277.8h1.0v1.0h-1.0zM186.8 281.8h1.0v1.0h-1.0zM190.9 280.1h1.0v1.0h-1.0zM187.0 302.1h1.0v1.0h-1.0zM188.7 312.4h1.0v1.0h-1.0zM190.3 292.1h1.0v1.0h-1.0zM186.5 280.3h1.0v1.0h-1.0zM162.3 296.1h1.0v1.0h-1.0zM171.7 255.4h1.0v1.0h-1.0zM171.3 267.3h1.0v1.0h-1.0zM170.4 265.4h1.0v1.0h-1.0zM176.6 247.5h1.0v1.0h-1.0zM165.4 258.8h1.0v1.0h-1.0zM166.1 257.3h1.0v1.0h-1.0zM172.5 266.1h1.0v1.0h-1.0zM187.3 254.5h1.0v1.0h-1.0zM171.8 251.8h1.0v1.0h-1.0zM167.7 267.5h1.0v1.0h-1.0zM190.8 238.2h1.0v1.0h-1.0zM179.2 258.6h1.0v1.0h-1.0zM182.5 236.8h1.0v1.0h-1.0zM172.1 253.9h1.0v1.0h-1.0zM178.1 246.3h1.0v1.0h-1.0zM171.2 243.5h1.0v1.0h-1.0zM178.8 238.8h1.0v1.0h-1.0zM177.9 237.6h1.0v1.0h-1.0zM189.7 242.3h1.0v1.0h-1.0zM180.6 255.4h1.0v1.0h-1.0zM164.4 254.8h1.0v1.0h-1.0zM171.0 239.5h1.0v1.0h-1.0zM180.1 234.7h1.0v1.0h-1.0zM168.0 265.7h1.0v1.0h-1.0zM176.3 239.0h1.0v1.0h-1.0zM169.8 241.4h1.0v1.0h-1.0zM189.5 235.3h1.0v1.0h-1.0zM173.8 259.7h1.0v1.0h-1.0zM170.0 263.8h1.0v1.0h-1.0zM173.7 259.6h1.0v1.0h-1.0zM182.1 235.0h1.0v1.0h-1.0zM176.3 247.6h1.0v1.0h-1.0zM169.5 267.4h1.0v1.0h-1.0zM168.5 267.8h1.0v1.0h-1.0zM160.3 262.8h1.0v1.0h-1.0zM167.5 246.3h1.0v1.0h-1.0zM179.6 255.1h1.0v1.0h-1.0zM171.3 243.5h1.0v1.0h-1.0zM178.2 235.3h1.0v1.0h-1.0zM181.6 248.5h1.0v1.0h-1.0zM185.8 245.8h1.0v1.0h-1.0zM192.2 239.4h1.0v1.0h-1.0zM175.5 245.7h1.0v1.0h-1.0zM187.9 241.2h1.0v1.0h-1.0zM163.1 258.3h1.0v1.0h-1.0zM181.8 267.1h1.0v1.0h-1.0zM186.5 235.9h1.0v1.0h-1.0zM166.9 264.4h1.0v1.0h-1.0zM171.0 258.7h1.0v1.0h-1.0zM172.7 259.6h1.0v1.0h-1.0zM165.9 255.6h1.0v1.0h-1.0zM189.9 237.5h1.0v1.0h-1.0zM169.9 261.5h1.0v1.0h-1.0zM169.6 263.8h1.0v1.0h-1.0zM178.8 239.4h1.0v1.0h-1.0zM178.3 239.4h1.0v1.0h-1.0zM174.6 258.1h1.0v1.0h-1.0zM185.1 243.0h1.0v1.0h-1.0zM173.6 268.0h1.0v1.0h-1.0zM175.9 254.5h1.0v1.0h-1.0zM182.8 266.0h1.0v1.0h-1.0zM185.3 237.7h1.0v1.0h-1.0zM183.2 246.4h1.0v1.0h-1.0zM183.2 241.3h1.0v1.0h-1.0z"/>
<path fill="#222" d="M165.9 288.4h1.0v1.0h-1.0zM162.6 303.1h1.0v1.0h-1.0zM183.9 268.1h1.0v1.0h-1.0zM187.5 278.8h1.0v1.0h-1.0zM188.6 295.0h1.0v1.0h-1.0zM187.5 303.1h1.0v1.0h-1.0zM167.3 269.7h1.0v1.0h-1.0zM168.7 278.5h1.0v1.0h-1.0zM178.8 265.1h1.0v1.0h-1.0zM187.8 274.5h1.0v1.0h-1.0zM189.8 296.4h1.0v1.0h-1.0zM189.2 301.8h1.0v1.0h-1.0zM165.3 299.3h1.0v1.0h-1.0zM162.2 304.3h1.0v1.0h-1.0zM194.5 296.0h1.0v1.0h-1.0zM166.2 285.6h1.0v1.0h-1.0zM188.8 286.3h1.0v1.0h-1.0zM179.5 319.0h1.0v1.0h-1.0zM185.3 274.7h1.0v1.0h-1.0zM187.8 294.8h1.0v1.0h-1.0zM166.0 283.8h1.0v1.0h-1.0zM166.0 312.4h1.0v1.0h-1.0zM181.9 261.6h1.0v1.0h-1.0zM182.7 319.6h1.0v1.0h-1.0zM184.0 269.8h1.0v1.0h-1.0zM164.3 307.7h1.0v1.0h-1.0zM188.8 281.7h1.0v1.0h-1.0zM190.8 311.5h1.0v1.0h-1.0zM175.4 264.1h1.0v1.0h-1.0zM169.4 268.7h1.0v1.0h-1.0zM177.7 318.2h1.0v1.0h-1.0zM170.3 271.1h1.0v1.0h-1.0zM193.0 298.4h1.0v1.0h-1.0zM172.0 265.7h1.0v1.0h-1.0zM186.3 278.7h1.0v1.0h-1.0zM166.1 311.0h1.0v1.0h-1.0zM168.5 268.4h1.0v1.0h-1.0zM189.6 283.2h1.0v1.0h-1.0zM168.6 277.5h1.0v1.0h-1.0zM194.7 315.7h1.0v1.0h-1.0zM176.7 257.9h1.0v1.0h-1.0zM186.6 316.6h1.0v1.0h-1.0zM189.1 284.9h1.0v1.0h-1.0zM183.9 315.4h1.0v1.0h-1.0zM191.5 288.0h1.0v1.0h-1.0zM188.8 274.4h1.0v1.0h-1.0zM166.4 285.3h1.0v1.0h-1.0zM185.2 311.9h1.0v1.0h-1.0zM188.6 288.1h1.0v1.0h-1.0zM172.0 265.9h1.0v1.0h-1.0zM183.8 267.0h1.0v1.0h-1.0zM185.8 308.7h1.0v1.0h-1.0zM183.7 320.1h1.0v1.0h-1.0zM178.0 320.1h1.0v1.0h-1.0zM187.7 265.7h1.0v1.0h-1.0zM192.2 297.5h1.0v1.0h-1.0zM191.8 294.8h1.0v1.0h-1.0zM188.1 304.7h1.0v1.0h-1.0zM168.1 277.1h1.0v1.0h-1.0zM187.8 299.3h1.0v1.0h-1.0zM196.4 289.0h1.0v1.0h-1.0zM178.8 266.8h1.0v1.0h-1.0zM166.1 288.8h1.0v1.0h-1.0zM163.6 300.0h1.0v1.0h-1.0zM186.1 315.3h1.0v1.0h-1.0zM169.8 262.2h1.0v1.0h-1.0zM169.0 315.2h1.0v1.0h-1.0zM161.3 281.9h1.0v1.0h-1.0zM169.4 265.1h1.0v1.0h-1.0zM186.1 280.0h1.0v1.0h-1.0zM184.7 270.5h1.0v1.0h-1.0zM164.3 319.5h1.0v1.0h-1.0zM175.2 262.4h1.0v1.0h-1.0zM163.3 304.4h1.0v1.0h-1.0zM166.5 312.5h1.0v1.0h-1.0zM190.4 262.3h1.0v1.0h-1.0zM169.5 275.9h1.0v1.0h-1.0zM189.2 268.4h1.0v1.0h-1.0zM174.7 318.3h1.0v1.0h-1.0zM174.9 318.9h1.0v1.0h-1.0zM192.6 284.9h1.0v1.0h-1.0zM182.8 313.9h1.0v1.0h-1.0zM178.3 265.9h1.0v1.0h-1.0zM188.5 294.6h1.0v1.0h-1.0zM183.9 262.3h1.0v1.0h-1.0zM189.6 295.2h1.0v1.0h-1.0zM182.9 269.2h1.0v1.0h-1.0zM196.7 293.9h1.0v1.0h-1.0zM185.6 311.2h1.0v1.0h-1.0zM184.0 265.0h1.0v1.0h-1.0zM179.0 319.4h1.0v1.0h-1.0zM178.5 318.2h1.0v1.0h-1.0zM194.0 310.8h1.0v1.0h-1.0zM166.5 315.7h1.0v1.0h-1.0zM171.2 266.3h1.0v1.0h-1.0zM160.8 292.7h1.0v1.0h-1.0zM188.3 272.5h1.0v1.0h-1.0zM171.7 317.1h1.0v1.0h-1.0zM188.6 294.7h1.0v1.0h-1.0zM167.9 278.5h1.0v1.0h-1.0zM187.5 310.6h1.0v1.0h-1.0zM167.5 311.7h1.0v1.0h-1.0zM170.6 272.1h1.0v1.0h-1.0zM188.7 316.5h1.0v1.0h-1.0zM175.1 319.7h1.0v1.0h-1.0zM175.6 319.3h1.0v1.0h-1.0zM184.1 271.0h1.0v1.0h-1.0zM185.7 315.4h1.0v1.0h-1.0zM167.6 272.7h1.0v1.0h-1.0zM186.3 265.7h1.0v1.0h-1.0zM183.5 266.3h1.0v1.0h-1.0zM161.0 288.1h1.0v1.0h-1.0zM185.5 267.5h1.0v1.0h-1.0zM187.1 299.0h1.0v1.0h-1.0zM187.2 276.3h1.0v1.0h-1.0zM199.9 308.2h1.0v1.0h-1.0zM171.5 257.7h1.0v1.0h-1.0zM198.6 296.2h1.0v1.0h-1.0zM188.1 270.1h1.0v1.0h-1.0zM170.0 268.2h1.0v1.0h-1.0zM177.3 262.5h1.0v1.0h-1.0zM165.1 289.1h1.0v1.0h-1.0zM164.9 295.7h1.0v1.0h-1.0zM188.2 308.4h1.0v1.0h-1.0zM159.6 289.2h1.0v1.0h-1.0zM186.0 315.8h1.0v1.0h-1.0zM186.2 277.8h1.0v1.0h-1.0zM168.3 264.5h1.0v1.0h-1.0zM177.4 319.7h1.0v1.0h-1.0zM171.0 318.1h1.0v1.0h-1.0zM189.7 306.1h1.0v1.0h-1.0zM163.7 278.4h1.0v1.0h-1.0zM150.3 285.2h1.0v1.0h-1.0zM163.9 286.2h1.0v1.0h-1.0zM166.2 319.4h1.0v1.0h-1.0zM158.9 309.0h1.0v1.0h-1.0zM191.7 301.4h1.0v1.0h-1.0zM165.7 312.7h1.0v1.0h-1.0zM189.6 275.8h1.0v1.0h-1.0zM170.6 268.7h1.0v1.0h-1.0zM174.3 264.8h1.0v1.0h-1.0zM185.4 313.5h1.0v1.0h-1.0zM187.6 286.9h1.0v1.0h-1.0zM191.7 263.8h1.0v1.0h-1.0zM176.0 318.5h1.0v1.0h-1.0zM161.3 294.1h1.0v1.0h-1.0zM166.0 307.1h1.0v1.0h-1.0zM170.6 267.7h1.0v1.0h-1.0zM165.8 276.8h1.0v1.0h-1.0zM162.3 308.2h1.0v1.0h-1.0zM188.7 295.5h1.0v1.0h-1.0zM165.1 302.9h1.0v1.0h-1.0zM177.3 263.2h1.0v1.0h-1.0zM187.2 314.5h1.0v1.0h-1.0zM189.7 308.7h1.0v1.0h-1.0zM187.0 273.4h1.0v1.0h-1.0zM158.3 309.2h1.0v1.0h-1.0zM190.0 263.0h1.0v1.0h-1.0zM173.0 265.4h1.0v1.0h-1.0zM164.0 297.0h1.0v1.0h-1.0zM186.4 279.8h1.0v1.0h-1.0zM164.8 294.4h1.0v1.0h-1.0zM179.9 318.3h1.0v1.0h-1.0zM187.1 310.1h1.0v1.0h-1.0zM164.8 303.2h1.0v1.0h-1.0zM187.1 257.2h1.0v1.0h-1.0zM187.5 277.4h1.0v1.0h-1.0zM166.3 280.3h1.0v1.0h-1.0zM159.3 275.6h1.0v1.0h-1.0zM186.6 271.0h1.0v1.0h-1.0zM172.9 265.0h1.0v1.0h-1.0zM195.7 312.2h1.0v1.0h-1.0zM188.6 287.3h1.0v1.0h-1.0zM170.5 273.0h1.0v1.0h-1.0zM179.8 319.3h1.0v1.0h-1.0zM167.5 274.2h1.0v1.0h-1.0zM165.6 305.3h1.0v1.0h-1.0zM178.1 266.2h1.0v1.0h-1.0zM187.1 294.3h1.0v1.0h-1.0zM175.2 259.3h1.0v1.0h-1.0zM185.3 274.2h1.0v1.0h-1.0zM168.9 275.7h1.0v1.0h-1.0zM172.5 317.0h1.0v1.0h-1.0zM165.1 290.1h1.0v1.0h-1.0zM171.6 318.0h1.0v1.0h-1.0zM164.3 301.5h1.0v1.0h-1.0zM165.2 284.9h1.0v1.0h-1.0zM165.2 288.7h1.0v1.0h-1.0zM190.6 290.8h1.0v1.0h-1.0z"/>
<path fill="#555" d="M182.3 265.1h1.0v1.0h-1.0zM168.1 264.0h1.0v1.0h-1.0zM175.7 263.5h1.0v1.0h-1.0zM161.1 287.9h1.0v1.0h-1.0zM165.6 281.9h1.0v1.0h-1.0zM191.4 290.4h1.0v1.0h-1.0zM180.2 257.3h1.0v1.0h-1.0zM191.3 294.2h1.0v1.0h-1.0zM166.0 313.2h1.0v1.0h-1.0zM186.4 278.8h1.0v1.0h-1.0zM187.2 287.5h1.0v1.0h-1.0zM172.5 265.6h1.0v1.0h-1.0zM192.9 304.1h1.0v1.0h-1.0zM164.7 272.9h1.0v1.0h-1.0zM186.4 306.0h1.0v1.0h-1.0zM157.1 276.1h1.0v1.0h-1.0zM167.4 272.2h1.0v1.0h-1.0zM186.7 304.6h1.0v1.0h-1.0zM157.7 283.8h1.0v1.0h-1.0zM187.4 264.7h1.0v1.0h-1.0zM163.3 288.2h1.0v1.0h-1.0zM188.0 280.8h1.0v1.0h-1.0zM160.1 301.1h1.0v1.0h-1.0zM194.4 291.5h1.0v1.0h-1.0zM165.7 304.5h1.0v1.0h-1.0zM188.8 267.5h1.0v1.0h-1.0zM175.7 318.1h1.0v1.0h-1.0zM188.0 312.5h1.0v1.0h-1.0zM195.1 301.5h1.0v1.0h-1.0zM167.8 278.3h1.0v1.0h-1.0zM167.8 275.2h1.0v1.0h-1.0zM196.3 283.0h1.0v1.0h-1.0zM173.7 262.0h1.0v1.0h-1.0zM192.7 314.8h1.0v1.0h-1.0zM165.1 291.0h1.0v1.0h-1.0zM188.9 302.8h1.0v1.0h-1.0zM188.6 280.2h1.0v1.0h-1.0zM182.2 268.0h1.0v1.0h-1.0zM179.4 320.1h1.0v1.0h-1.0zM186.9 307.3h1.0v1.0h-1.0zM187.7 264.9h1.0v1.0h-1.0zM180.7 264.4h1.0v1.0h-1.0zM162.5 269.8h1.0v1.0h-1.0zM162.8 295.2h1.0v1.0h-1.0zM190.0 283.9h1.0v1.0h-1.0zM183.0 314.6h1.0v1.0h-1.0zM195.0 295.9h1.0v1.0h-1.0zM165.1 296.2h1.0v1.0h-1.0zM186.0 308.2h1.0v1.0h-1.0zM186.0 279.8h1.0v1.0h-1.0zM188.4 302.6h1.0v1.0h-1.0zM164.6 302.0h1.0v1.0h-1.0zM167.6 313.7h1.0v1.0h-1.0zM173.9 319.3h1.0v1.0h-1.0zM183.5 317.1h1.0v1.0h-1.0zM165.0 295.5h1.0v1.0h-1.0zM178.9 317.1h1.0v1.0h-1.0zM187.4 282.3h1.0v1.0h-1.0zM187.6 304.4h1.0v1.0h-1.0zM187.1 290.3h1.0v1.0h-1.0zM187.3 298.3h1.0v1.0h-1.0zM166.2 283.9h1.0v1.0h-1.0zM165.1 290.8h1.0v1.0h-1.0zM188.6 269.0h1.0v1.0h-1.0zM187.3 298.4h1.0v1.0h-1.0zM180.2 266.9h1.0v1.0h-1.0zM164.5 309.6h1.0v1.0h-1.0zM163.3 305.1h1.0v1.0h-1.0zM192.3 315.0h1.0v1.0h-1.0zM197.2 305.3h1.0v1.0h-1.0zM187.0 278.0h1.0v1.0h-1.0zM187.2 298.3h1.0v1.0h-1.0zM187.1 308.1h1.0v1.0h-1.0zM190.0 309.3h1.0v1.0h-1.0zM173.6 265.9h1.0v1.0h-1.0zM172.0 265.9h1.0v1.0h-1.0zM193.3 289.1h1.0v1.0h-1.0zM189.7 290.1h1.0v1.0h-1.0zM162.3 302.2h1.0v1.0h-1.0zM187.1 289.3h1.0v1.0h-1.0zM175.5 263.9h1.0v1.0h-1.0zM184.9 266.3h1.0v1.0h-1.0zM187.8 273.4h1.0v1.0h-1.0zM188.8 282.3h1.0v1.0h-1.0zM179.5 264.3h1.0v1.0h-1.0zM188.6 298.0h1.0v1.0h-1.0zM170.7 270.2h1.0v1.0h-1.0zM156.5 303.0h1.0v1.0h-1.0zM179.2 264.2h1.0v1.0h-1.0zM160.9 302.1h1.0v1.0h-1.0zM186.7 274.4h1.0v1.0h-1.0zM165.6 284.5h1.0v1.0h-1.0zM191.1 308.1h1.0v1.0h-1.0zM189.3 285.0h1.0v1.0h-1.0zM193.3 270.6h1.0v1.0h-1.0zM155.9 300.2h1.0v1.0h-1.0zM161.8 286.5h1.0v1.0h-1.0zM165.3 275.7h1.0v1.0h-1.0zM191.4 288.2h1.0v1.0h-1.0zM188.9 310.9h1.0v1.0h-1.0zM188.7 283.2h1.0v1.0h-1.0zM186.6 278.7h1.0v1.0h-1.0zM169.8 271.9h1.0v1.0h-1.0zM165.6 310.2h1.0v1.0h-1.0zM187.1 275.7h1.0v1.0h-1.0zM187.4 298.9h1.0v1.0h-1.0zM188.4 299.3h1.0v1.0h-1.0zM171.6 258.3h1.0v1.0h-1.0zM163.2 294.9h1.0v1.0h-1.0zM186.6 263.3h1.0v1.0h-1.0zM165.9 290.2h1.0v1.0h-1.0zM170.5 316.3h1.0v1.0h-1.0zM160.6 272.5h1.0v1.0h-1.0zM188.2 292.9h1.0v1.0h-1.0zM164.1 280.1h1.0v1.0h-1.0zM186.0 308.1h1.0v1.0h-1.0zM189.5 303.0h1.0v1.0h-1.0zM187.8 284.0h1.0v1.0h-1.0zM187.5 272.5h1.0v1.0h-1.0zM184.5 266.7h1.0v1.0h-1.0zM177.7 262.3h1.0v1.0h-1.0zM166.6 310.1h1.0v1.0h-1.0zM183.2 262.9h1.0v1.0h-1.0zM161.2 298.3h1.0v1.0h-1.0zM182.7 314.3h1.0v1.0h-1.0zM164.3 299.1h1.0v1.0h-1.0zM165.6 302.1h1.0v1.0h-1.0zM190.4 305.4h1.0v1.0h-1.0zM188.5 276.5h1.0v1.0h-1.0zM168.6 260.9h1.0v1.0h-1.0zM193.5 305.9h1.0v1.0h-1.0zM168.1 276.5h1.0v1.0h-1.0zM163.3 287.7h1.0v1.0h-1.0zM187.6 295.3h1.0v1.0h-1.0zM164.8 293.3h1.0v1.0h-1.0zM179.3 261.9h1.0v1.0h-1.0zM165.9 305.3h1.0v1.0h-1.0zM183.8 270.7h1.0v1.0h-1.0zM161.2 304.7h1.0v1.0h-1.0zM195.4 294.6h1.0v1.0h-1.0zM186.9 269.1h1.0v1.0h-1.0zM181.3 267.4h1.0v1.0h-1.0zM189.8 297.8h1.0v1.0h-1.0zM193.0 279.0h1.0v1.0h-1.0zM186.3 313.0h1.0v1.0h-1.0zM189.2 298.6h1.0v1.0h-1.0zM182.4 315.5h1.0v1.0h-1.0zM179.7 256.4h1.0v1.0h-1.0zM161.2 309.1h1.0v1.0h-1.0zM165.3 294.2h1.0v1.0h-1.0zM187.2 275.0h1.0v1.0h-1.0zM191.0 283.2h1.0v1.0h-1.0zM189.1 285.9h1.0v1.0h-1.0zM166.2 278.0h1.0v1.0h-1.0zM184.5 312.3h1.0v1.0h-1.0zM165.9 306.8h1.0v1.0h-1.0zM172.5 267.5h1.0v1.0h-1.0zM168.0 321.2h1.0v1.0h-1.0zM189.0 275.6h1.0v1.0h-1.0zM185.9 273.3h1.0v1.0h-1.0zM177.0 260.4h1.0v1.0h-1.0zM186.7 280.8h1.0v1.0h-1.0zM185.2 316.6h1.0v1.0h-1.0zM194.8 303.5h1.0v1.0h-1.0zM176.0 263.1h1.0v1.0h-1.0zM182.3 266.6h1.0v1.0h-1.0zM187.1 308.1h1.0v1.0h-1.0zM190.4 301.3h1.0v1.0h-1.0zM189.3 293.3h1.0v1.0h-1.0zM163.1 305.7h1.0v1.0h-1.0zM168.7 276.0h1.0v1.0h-1.0zM187.5 296.6h1.0v1.0h-1.0zM191.8 313.1h1.0v1.0h-1.0zM187.9 306.8h1.0v1.0h-1.0zM168.4 314.4h1.0v1.0h-1.0zM185.8 273.8h1.0v1.0h-1.0zM192.9 298.4h1.0v1.0h-1.0zM166.0 287.5h1.0v1.0h-1.0zM189.7 288.9h1.0v1.0h-1.0zM166.3 310.1h1.0v1.0h-1.0zM189.7 284.8h1.0v1.0h-1.0zM168.6 278.2h1.0v1.0h-1.0zM165.2 292.3h1.0v1.0h-1.0zM156.4 292.1h1.0v1.0h-1.0zM181.7 265.4h1.0v1.0h-1.0zM185.4 314.9h1.0v1.0h-1.0zM159.7 278.3h1.0v1.0h-1.0z"/>
<path fill="#333" d="M187.6 311.0h1.0v1.0h-1.0zM166.2 289.1h1.0v1.0h-1.0zM189.5 282.6h1.0v1.0h-1.0zM196.1 291.1h1.0v1.0h-1.0zM188.2 270.5h1.0v1.0h-1.0zM168.8 275.9h1.0v1.0h-1.0zM193.9 307.6h1.0v1.0h-1.0zM175.6 266.2h1.0v1.0h-1.0zM162.2 300.9h1.0v1.0h-1.0zM182.7 315.4h1.0v1.0h-1.0zM180.6 319.0h1.0v1.0h-1.0zM178.5 260.8h1.0v1.0h-1.0zM164.9 300.5h1.0v1.0h-1.0zM164.3 306.3h1.0v1.0h-1.0zM189.4 285.7h1.0v1.0h-1.0zM189.7 285.9h1.0v1.0h-1.0zM162.5 278.7h1.0v1.0h-1.0zM189.8 289.5h1.0v1.0h-1.0zM165.5 288.5h1.0v1.0h-1.0zM188.1 313.6h1.0v1.0h-1.0zM173.5 264.1h1.0v1.0h-1.0zM173.5 321.4h1.0v1.0h-1.0zM189.1 302.3h1.0v1.0h-1.0zM166.6 286.6h1.0v1.0h-1.0zM183.3 268.9h1.0v1.0h-1.0zM184.9 312.4h1.0v1.0h-1.0zM164.6 299.6h1.0v1.0h-1.0zM191.0 276.6h1.0v1.0h-1.0zM177.4 318.0h1.0v1.0h-1.0zM186.9 277.8h1.0v1.0h-1.0zM174.4 263.6h1.0v1.0h-1.0zM155.0 309.5h1.0v1.0h-1.0zM166.8 312.9h1.0v1.0h-1.0zM174.3 318.8h1.0v1.0h-1.0zM185.5 269.2h1.0v1.0h-1.0zM171.9 270.2h1.0v1.0h-1.0zM162.3 286.0h1.0v1.0h-1.0zM186.0 312.8h1.0v1.0h-1.0zM165.1 306.8h1.0v1.0h-1.0zM163.8 307.3h1.0v1.0h-1.0zM194.1 289.8h1.0v1.0h-1.0zM178.4 266.6h1.0v1.0h-1.0zM176.7 320.3h1.0v1.0h-1.0zM167.5 269.1h1.0v1.0h-1.0zM190.9 304.9h1.0v1.0h-1.0zM182.5 269.2h1.0v1.0h-1.0zM189.4 280.8h1.0v1.0h-1.0zM185.3 260.4h1.0v1.0h-1.0zM166.3 285.5h1.0v1.0h-1.0zM164.7 307.2h1.0v1.0h-1.0zM184.6 312.4h1.0v1.0h-1.0zM179.4 257.5h1.0v1.0h-1.0zM190.1 307.2h1.0v1.0h-1.0zM187.9 302.0h1.0v1.0h-1.0zM167.6 281.6h1.0v1.0h-1.0zM160.3 267.4h1.0v1.0h-1.0zM194.8 276.4h1.0v1.0h-1.0zM190.2 303.5h1.0v1.0h-1.0zM199.1 280.6h1.0v1.0h-1.0zM189.5 288.0h1.0v1.0h-1.0zM164.6 308.6h1.0v1.0h-1.0zM183.3 269.5h1.0v1.0h-1.0zM168.0 261.9h1.0v1.0h-1.0zM164.6 292.9h1.0v1.0h-1.0zM163.5 297.2h1.0v1.0h-1.0zM163.4 277.4h1.0v1.0h-1.0zM193.0 292.0h1.0v1.0h-1.0zM160.1 276.8h1.0v1.0h-1.0zM195.4 299.1h1.0v1.0h-1.0zM173.2 317.1h1.0v1.0h-1.0zM164.0 294.5h1.0v1.0h-1.0zM166.9 278.6h1.0v1.0h-1.0zM164.3 282.1h1.0v1.0h-1.0zM164.2 274.3h1.0v1.0h-1.0zM160.0 306.7h1.0v1.0h-1.0zM168.7 315.2h1.0v1.0h-1.0zM184.1 313.6h1.0v1.0h-1.0zM191.7 305.5h1.0v1.0h-1.0zM163.8 303.3h1.0v1.0h-1.0zM191.7 293.4h1.0v1.0h-1.0zM169.8 269.6h1.0v1.0h-1.0zM189.0 273.6h1.0v1.0h-1.0zM193.2 282.1h1.0v1.0h-1.0zM190.3 299.9h1.0v1.0h-1.0zM164.8 316.5h1.0v1.0h-1.0zM190.1 266.5h1.0v1.0h-1.0zM187.5 277.6h1.0v1.0h-1.0zM163.7 295.3h1.0v1.0h-1.0zM165.6 294.2h1.0v1.0h-1.0zM170.0 271.3h1.0v1.0h-1.0zM163.7 293.6h1.0v1.0h-1.0zM177.4 321.3h1.0v1.0h-1.0zM188.9 303.4h1.0v1.0h-1.0zM190.1 308.6h1.0v1.0h-1.0zM189.6 282.3h1.0v1.0h-1.0zM189.5 293.1h1.0v1.0h-1.0zM163.6 311.7h1.0v1.0h-1.0zM171.4 267.9h1.0v1.0h-1.0zM157.1 281.7h1.0v1.0h-1.0zM185.5 259.8h1.0v1.0h-1.0zM164.4 279.9h1.0v1.0h-1.0zM164.0 308.5h1.0v1.0h-1.0zM165.9 271.1h1.0v1.0h-1.0zM193.4 285.4h1.0v1.0h-1.0zM194.3 286.3h1.0v1.0h-1.0zM180.4 316.8h1.0v1.0h-1.0zM167.0 309.4h1.0v1.0h-1.0zM164.0 299.9h1.0v1.0h-1.0zM161.0 304.9h1.0v1.0h-1.0zM162.8 278.1h1.0v1.0h-1.0zM187.0 302.5h1.0v1.0h-1.0zM163.7 300.7h1.0v1.0h-1.0zM187.1 295.4h1.0v1.0h-1.0zM170.3 263.2h1.0v1.0h-1.0zM177.6 318.1h1.0v1.0h-1.0zM166.4 288.6h1.0v1.0h-1.0zM163.3 300.9h1.0v1.0h-1.0zM192.6 293.2h1.0v1.0h-1.0zM188.7 304.9h1.0v1.0h-1.0zM170.2 316.8h1.0v1.0h-1.0zM187.5 280.2h1.0v1.0h-1.0zM168.7 274.7h1.0v1.0h-1.0zM165.6 287.6h1.0v1.0h-1.0zM168.3 271.6h1.0v1.0h-1.0zM177.6 317.6h1.0v1.0h-1.0zM168.9 268.0h1.0v1.0h-1.0zM189.7 275.2h1.0v1.0h-1.0zM163.4 298.4h1.0v1.0h-1.0zM164.0 314.1h1.0v1.0h-1.0zM192.4 286.3h1.0v1.0h-1.0zM160.4 295.9h1.0v1.0h-1.0zM191.9 293.1h1.0v1.0h-1.0zM193.1 299.5h1.0v1.0h-1.0zM186.2 312.4h1.0v1.0h-1.0zM190.5 289.1h1.0v1.0h-1.0zM165.7 300.8h1.0v1.0h-1.0zM164.7 317.1h1.0v1.0h-1.0zM178.1 265.1h1.0v1.0h-1.0zM179.3 320.6h1.0v1.0h-1.0zM174.4 318.8h1.0v1.0h-1.0zM177.0 261.8h1.0v1.0h-1.0zM168.6 270.4h1.0v1.0h-1.0zM162.8 286.4h1.0v1.0h-1.0zM198.5 309.0h1.0v1.0h-1.0zM192.5 270.8h1.0v1.0h-1.0zM186.4 305.5h1.0v1.0h-1.0zM164.8 306.6h1.0v1.0h-1.0zM187.5 299.3h1.0v1.0h-1.0zM188.1 297.4h1.0v1.0h-1.0zM163.2 298.2h1.0v1.0h-1.0zM164.3 269.2h1.0v1.0h-1.0zM176.5 317.6h1.0v1.0h-1.0zM184.2 314.2h1.0v1.0h-1.0zM170.8 318.3h1.0v1.0h-1.0zM168.6 315.5h1.0v1.0h-1.0zM157.3 314.4h1.0v1.0h-1.0zM186.7 308.7h1.0v1.0h-1.0zM186.3 279.6h1.0v1.0h-1.0zM177.1 245.0h1.0v1.0h-1.0zM171.9 250.1h1.0v1.0h-1.0zM176.9 243.0h1.0v1.0h-1.0zM184.3 241.5h1.0v1.0h-1.0zM187.2 240.0h1.0v1.0h-1.0zM174.1 239.8h1.0v1.0h-1.0zM187.3 237.1h1.0v1.0h-1.0zM183.5 242.5h1.0v1.0h-1.0zM176.2 236.0h1.0v1.0h-1.0zM185.4 239.0h1.0v1.0h-1.0zM179.6 252.5h1.0v1.0h-1.0zM189.7 239.2h1.0v1.0h-1.0zM166.8 266.8h1.0v1.0h-1.0zM186.2 242.4h1.0v1.0h-1.0zM174.7 263.1h1.0v1.0h-1.0zM188.5 242.4h1.0v1.0h-1.0zM183.6 253.0h1.0v1.0h-1.0zM163.3 264.5h1.0v1.0h-1.0zM177.7 248.7h1.0v1.0h-1.0zM183.1 249.5h1.0v1.0h-1.0zM180.1 243.2h1.0v1.0h-1.0zM194.1 250.5h1.0v1.0h-1.0zM175.8 260.3h1.0v1.0h-1.0zM185.9 242.5h1.0v1.0h-1.0zM185.8 243.1h1.0v1.0h-1.0zM192.3 246.6h1.0v1.0h-1.0zM182.5 242.9h1.0v1.0h-1.0zM175.1 261.7h1.0v1.0h-1.0zM160.0 267.4h1.0v1.0h-1.0zM185.8 243.6h1.0v1.0h-1.0zM179.7 242.8h1.0v1.0h-1.0zM170.6 254.5h1.0v1.0h-1.0zM174.9 243.0h1.0v1.0h-1.0zM176.5 241.3h1.0v1.0h-1.0zM178.9 260.3h1.0v1.0h-1.0zM182.2 239.6h1.0v1.0h-1.0zM168.6 243.5h1.0v1.0h-1.0zM180.1 253.1h1.0v1.0h-1.0zM185.3 264.2h1.0v1.0h-1.0zM164.4 265.7h1.0v1.0h-1.0zM176.7 260.1h1.0v1.0h-1.0zM169.1 243.7h1.0v1.0h-1.0zM171.2 252.8h1.0v1.0h-1.0zM167.6 265.9h1.0v1.0h-1.0zM172.1 263.5h1.0v1.0h-1.0zM172.7 249.0h1.0v1.0h-1.0zM183.3 241.4h1.0v1.0h-1.0zM173.3 249.7h1.0v1.0h-1.0zM169.6 261.7h1.0v1.0h-1.0zM172.4 254.9h1.0v1.0h-1.0zM185.9 235.4h1.0v1.0h-1.0zM169.6 260.4h1.0v1.0h-1.0zM190.4 242.2h1.0v1.0h-1.0zM172.4 258.7h1.0v1.0h-1.0zM177.7 249.6h1.0v1.0h-1.0zM191.0 234.0h1.0v1.0h-1.0zM177.2 261.3h1.0v1.0h-1.0zM173.8 244.4h1.0v1.0h-1.0zM190.2 241.4h1.0v1.0h-1.0zM178.6 236.2h1.0v1.0h-1.0zM169.2 262.6h1.0v1.0h-1.0zM178.0 250.9h1.0v1.0h-1.0zM181.0 250.1h1.0v1.0h-1.0zM177.2 249.5h1.0v1.0h-1.0zM182.8 239.4h1.0v1.0h-1.0zM188.6 235.2h1.0v1.0h-1.0z"/>
<path fill="#444" d="M162.9 298.1h1.0v1.0h-1.0zM190.7 302.4h1.0v1.0h-1.0zM164.1 301.3h1.0v1.0h-1.0zM169.2 276.8h1.0v1.0h-1.0zM188.2 270.0h1.0v1.0h-1.0zM188.1 313.7h1.0v1.0h-1.0zM191.4 296.0h1.0v1.0h-1.0zM165.9 270.4h1.0v1.0h-1.0zM184.8 315.9h1.0v1.0h-1.0zM164.3 304.0h1.0v1.0h-1.0zM165.1 278.8h1.0v1.0h-1.0zM190.8 282.9h1.0v1.0h-1.0zM167.1 312.2h1.0v1.0h-1.0zM190.0 290.4h1.0v1.0h-1.0zM165.8 285.9h1.0v1.0h-1.0zM165.6 283.0h1.0v1.0h-1.0zM180.3 317.5h1.0v1.0h-1.0zM172.0 268.2h1.0v1.0h-1.0zM194.4 271.2h1.0v1.0h-1.0zM184.6 270.1h1.0v1.0h-1.0zM168.2 272.6h1.0v1.0h-1.0zM167.7 281.3h1.0v1.0h-1.0zM195.7 282.7h1.0v1.0h-1.0zM191.3 288.8h1.0v1.0h-1.0zM163.6 314.3h1.0v1.0h-1.0zM164.1 280.6h1.0v1.0h-1.0zM191.2 291.7h1.0v1.0h-1.0zM173.1 321.4h1.0v1.0h-1.0zM166.8 284.3h1.0v1.0h-1.0zM199.1 289.3h1.0v1.0h-1.0zM185.8 276.4h1.0v1.0h-1.0zM172.5 269.3h1.0v1.0h-1.0zM163.2 296.9h1.0v1.0h-1.0zM185.1 314.8h1.0v1.0h-1.0zM166.3 280.6h1.0v1.0h-1.0zM179.2 264.8h1.0v1.0h-1.0zM168.6 314.1h1.0v1.0h-1.0zM168.9 276.7h1.0v1.0h-1.0zM186.7 279.2h1.0v1.0h-1.0zM170.1 262.2h1.0v1.0h-1.0zM164.8 295.7h1.0v1.0h-1.0zM168.7 269.5h1.0v1.0h-1.0zM192.0 267.3h1.0v1.0h-1.0zM191.9 301.3h1.0v1.0h-1.0zM188.8 274.4h1.0v1.0h-1.0zM168.6 265.5h1.0v1.0h-1.0zM187.0 257.8h1.0v1.0h-1.0zM165.4 295.1h1.0v1.0h-1.0zM189.6 284.7h1.0v1.0h-1.0zM188.3 265.0h1.0v1.0h-1.0zM162.5 294.8h1.0v1.0h-1.0zM187.3 273.1h1.0v1.0h-1.0zM179.9 320.3h1.0v1.0h-1.0zM173.4 318.0h1.0v1.0h-1.0zM186.4 279.5h1.0v1.0h-1.0zM188.3 305.7h1.0v1.0h-1.0zM190.8 286.1h1.0v1.0h-1.0zM163.7 289.6h1.0v1.0h-1.0zM170.8 271.7h1.0v1.0h-1.0zM187.6 288.1h1.0v1.0h-1.0zM159.1 272.2h1.0v1.0h-1.0zM183.5 316.3h1.0v1.0h-1.0zM195.8 288.4h1.0v1.0h-1.0zM167.4 276.6h1.0v1.0h-1.0zM188.5 266.6h1.0v1.0h-1.0zM188.1 307.9h1.0v1.0h-1.0zM186.5 274.5h1.0v1.0h-1.0zM188.2 297.0h1.0v1.0h-1.0zM163.6 293.9h1.0v1.0h-1.0zM188.3 275.9h1.0v1.0h-1.0zM174.4 264.1h1.0v1.0h-1.0zM182.0 319.0h1.0v1.0h-1.0zM195.3 289.6h1.0v1.0h-1.0zM175.4 318.0h1.0v1.0h-1.0zM189.3 300.7h1.0v1.0h-1.0zM160.8 276.5h1.0v1.0h-1.0zM188.9 295.7h1.0v1.0h-1.0zM164.9 289.1h1.0v1.0h-1.0zM189.9 306.8h1.0v1.0h-1.0zM196.8 288.7h1.0v1.0h-1.0zM167.4 279.0h1.0v1.0h-1.0zM182.4 265.2h1.0v1.0h-1.0zM165.9 279.3h1.0v1.0h-1.0zM169.1 272.0h1.0v1.0h-1.0zM188.8 298.1h1.0v1.0h-1.0zM198.6 298.7h1.0v1.0h-1.0zM187.0 282.4h1.0v1.0h-1.0zM163.3 289.0h1.0v1.0h-1.0zM187.4 291.3h1.0v1.0h-1.0zM168.3 313.9h1.0v1.0h-1.0zM188.2 291.8h1.0v1.0h-1.0zM163.0 286.1h1.0v1.0h-1.0zM163.3 307.1h1.0v1.0h-1.0zM167.8 312.5h1.0v1.0h-1.0zM170.8 317.3h1.0v1.0h-1.0zM188.2 272.4h1.0v1.0h-1.0zM177.2 265.6h1.0v1.0h-1.0zM188.8 303.9h1.0v1.0h-1.0zM184.7 313.9h1.0v1.0h-1.0zM193.3 288.8h1.0v1.0h-1.0zM187.8 276.7h1.0v1.0h-1.0zM186.3 277.3h1.0v1.0h-1.0zM163.7 306.0h1.0v1.0h-1.0zM178.1 263.8h1.0v1.0h-1.0zM162.8 294.5h1.0v1.0h-1.0zM190.8 291.7h1.0v1.0h-1.0zM190.3 280.6h1.0v1.0h-1.0zM171.4 268.4h1.0v1.0h-1.0zM166.4 286.7h1.0v1.0h-1.0zM168.0 276.8h1.0v1.0h-1.0zM184.6 311.4h1.0v1.0h-1.0zM182.4 266.6h1.0v1.0h-1.0zM190.4 286.1h1.0v1.0h-1.0zM190.5 291.3h1.0v1.0h-1.0zM190.5 297.5h1.0v1.0h-1.0zM188.0 292.7h1.0v1.0h-1.0zM193.6 300.4h1.0v1.0h-1.0zM185.6 314.8h1.0v1.0h-1.0zM187.9 285.5h1.0v1.0h-1.0zM178.9 257.7h1.0v1.0h-1.0zM187.1 283.7h1.0v1.0h-1.0zM167.4 272.6h1.0v1.0h-1.0zM179.1 266.6h1.0v1.0h-1.0zM172.7 267.6h1.0v1.0h-1.0zM187.5 291.6h1.0v1.0h-1.0zM161.6 297.1h1.0v1.0h-1.0zM186.1 275.3h1.0v1.0h-1.0zM189.1 276.6h1.0v1.0h-1.0zM167.6 271.8h1.0v1.0h-1.0zM162.3 291.7h1.0v1.0h-1.0zM188.3 314.2h1.0v1.0h-1.0zM185.3 311.8h1.0v1.0h-1.0zM185.4 269.5h1.0v1.0h-1.0zM192.3 303.2h1.0v1.0h-1.0zM161.9 299.7h1.0v1.0h-1.0zM163.8 305.8h1.0v1.0h-1.0zM190.8 297.3h1.0v1.0h-1.0zM188.0 284.6h1.0v1.0h-1.0zM166.4 284.1h1.0v1.0h-1.0zM187.6 288.9h1.0v1.0h-1.0zM192.4 310.9h1.0v1.0h-1.0zM172.0 267.7h1.0v1.0h-1.0zM192.6 301.1h1.0v1.0h-1.0zM189.2 309.7h1.0v1.0h-1.0zM171.9 263.0h1.0v1.0h-1.0zM159.7 299.6h1.0v1.0h-1.0zM172.3 269.2h1.0v1.0h-1.0zM165.7 312.8h1.0v1.0h-1.0zM163.1 294.1h1.0v1.0h-1.0zM169.9 267.4h1.0v1.0h-1.0zM199.3 308.6h1.0v1.0h-1.0zM181.7 265.2h1.0v1.0h-1.0zM164.4 290.2h1.0v1.0h-1.0zM187.3 304.2h1.0v1.0h-1.0zM188.1 284.8h1.0v1.0h-1.0zM161.7 286.3h1.0v1.0h-1.0zM186.9 301.3h1.0v1.0h-1.0zM191.8 288.1h1.0v1.0h-1.0zM190.0 277.1h1.0v1.0h-1.0zM182.2 264.7h1.0v1.0h-1.0zM161.3 286.1h1.0v1.0h-1.0zM171.9 270.3h1.0v1.0h-1.0zM179.4 258.8h1.0v1.0h-1.0zM180.3 317.4h1.0v1.0h-1.0zM175.8 319.6h1.0v1.0h-1.0zM164.0 306.9h1.0v1.0h-1.0zM169.8 272.6h1.0v1.0h-1.0zM163.2 291.2h1.0v1.0h-1.0zM172.3 264.7h1.0v1.0h-1.0zM187.8 236.3h1.0v1.0h-1.0zM168.0 264.1h1.0v1.0h-1.0zM171.0 247.9h1.0v1.0h-1.0zM175.2 267.1h1.0v1.0h-1.0zM186.7 242.3h1.0v1.0h-1.0zM163.9 250.1h1.0v1.0h-1.0zM188.5 251.6h1.0v1.0h-1.0zM182.7 246.2h1.0v1.0h-1.0zM184.6 247.1h1.0v1.0h-1.0zM169.4 267.9h1.0v1.0h-1.0zM176.1 262.5h1.0v1.0h-1.0zM169.0 244.1h1.0v1.0h-1.0zM181.3 260.0h1.0v1.0h-1.0zM172.8 262.0h1.0v1.0h-1.0zM183.9 253.9h1.0v1.0h-1.0zM187.5 238.9h1.0v1.0h-1.0zM168.3 266.0h1.0v1.0h-1.0zM176.5 239.6h1.0v1.0h-1.0zM178.1 234.2h1.0v1.0h-1.0zM179.2 241.2h1.0v1.0h-1.0zM181.3 265.7h1.0v1.0h-1.0zM171.3 267.3h1.0v1.0h-1.0zM175.1 256.6h1.0v1.0h-1.0zM188.6 235.9h1.0v1.0h-1.0zM166.0 265.1h1.0v1.0h-1.0zM169.9 261.8h1.0v1.0h-1.0zM177.8 241.0h1.0v1.0h-1.0zM185.5 235.9h1.0v1.0h-1.0zM186.9 235.1h1.0v1.0h-1.0zM175.5 239.0h1.0v1.0h-1.0zM184.3 239.0h1.0v1.0h-1.0zM172.9 266.5h1.0v1.0h-1.0zM176.1 235.3h1.0v1.0h-1.0zM179.5 246.4h1.0v1.0h-1.0zM169.6 260.8h1.0v1.0h-1.0zM167.5 266.0h1.0v1.0h-1.0zM170.8 264.2h1.0v1.0h-1.0zM186.4 236.7h1.0v1.0h-1.0zM175.6 266.3h1.0v1.0h-1.0zM189.4 249.8h1.0v1.0h-1.0zM168.6 255.0h1.0v1.0h-1.0zM177.4 249.1h1.0v1.0h-1.0zM170.8 241.5h1.0v1.0h-1.0zM158.3 257.3h1.0v1.0h-1.0zM176.8 246.4h1.0v1.0h-1.0zM166.5 262.3h1.0v1.0h-1.0zM177.4 265.9h1.0v1.0h-1.0zM181.8 239.8h1.0v1.0h-1.0zM168.0 264.6h1.0v1.0h-1.0zM182.4 246.7h1.0v1.0h-1.0zM158.7 265.4h1.0v1.0h-1.0zM184.7 257.3h1.0v1.0h-1.0zM168.8 267.4h1.0v1.0h-1.0zM182.5 235.3h1.0v1.0h-1.0zM170.4 242.5h1.0v1.0h-1.0zM169.5 265.0h1.0v1.0h-1.0zM181.2 243.1h1.0v1.0h-1.0zM183.2 241.5h1.0v1.0h-1.0zM179.0 257.5h1.0v1.0h-1.0zM182.4 239.8h1.0v1.0h-1.0zM166.6 267.7h1.0v1.0h-1.0zM182.1 243.1h1.0v1.0h-1.0zM176.7 235.2h1.0v1.0h-1.0z"/>
<path fill="#888" d="M189.0 235.9h1.0v1.0h-1.0zM184.1 246.1h1.0v1.0h-1.0zM179.8 242.9h1.0v1.0h-1.0zM170.5 241.9h1.0v1.0h-1.0zM182.9 252.9h1.0v1.0h-1.0zM166.8 247.5h1.0v1.0h-1.0zM178.5 266.2h1.0v1.0h-1.0zM185.3 240.5h1.0v1.0h-1.0zM168.7 253.2h1.0v1.0h-1.0zM171.1 254.3h1.0v1.0h-1.0zM175.2 265.4h1.0v1.0h-1.0zM176.2 245.8h1.0v1.0h-1.0zM167.7 262.5h1.0v1.0h-1.0zM181.5 235.6h1.0v1.0h-1.0zM166.9 264.4h1.0v1.0h-1.0zM177.1 250.2h1.0v1.0h-1.0zM173.4 238.0h1.0v1.0h-1.0zM182.3 238.2h1.0v1.0h-1.0zM170.3 260.0h1.0v1.0h-1.0zM174.7 258.0h1.0v1.0h-1.0zM177.2 249.5h1.0v1.0h-1.0zM172.2 264.3h1.0v1.0h-1.0zM179.2 250.7h1.0v1.0h-1.0zM163.8 261.9h1.0v1.0h-1.0zM172.3 257.8h1.0v1.0h-1.0zM163.9 253.2h1.0v1.0h-1.0zM182.0 239.9h1.0v1.0h-1.0zM162.9 250.6h1.0v1.0h-1.0zM179.4 237.0h1.0v1.0h-1.0zM186.4 237.1h1.0v1.0h-1.0zM182.5 247.9h1.0v1.0h-1.0zM164.0 260.7h1.0v1.0h-1.0zM155.0 266.8h1.0v1.0h-1.0zM183.4 256.2h1.0v1.0h-1.0zM182.4 261.4h1.0v1.0h-1.0zM177.8 242.1h1.0v1.0h-1.0zM168.5 264.3h1.0v1.0h-1.0zM170.4 260.8h1.0v1.0h-1.0zM163.7 263.8h1.0v1.0h-1.0zM161.1 263.8h1.0v1.0h-1.0zM173.3 243.7h1.0v1.0h-1.0zM178.3 240.2h1.0v1.0h-1.0zM182.9 235.7h1.0v1.0h-1.0zM176.9 252.4h1.0v1.0h-1.0zM173.5 253.7h1.0v1.0h-1.0zM188.4 246.7h1.0v1.0h-1.0zM168.7 256.8h1.0v1.0h-1.0zM186.5 241.8h1.0v1.0h-1.0zM164.3 259.8h1.0v1.0h-1.0zM171.3 254.8h1.0v1.0h-1.0zM175.2 243.5h1.0v1.0h-1.0zM179.1 254.5h1.0v1.0h-1.0zM179.4 246.7h1.0v1.0h-1.0zM171.7 254.6h1.0v1.0h-1.0zM187.1 239.3h1.0v1.0h-1.0zM177.8 239.5h1.0v1.0h-1.0zM190.3 239.3h1.0v1.0h-1.0zM170.4 265.0h1.0v1.0h-1.0zM172.2 262.5h1.0v1.0h-1.0zM182.1 254.7h1.0v1.0h-1.0zM183.2 238.3h1.0v1.0h-1.0zM170.8 262.2h1.0v1.0h-1.0z"/>
<path d="M177.0,266.0 C178.4,266.2 180.6,266.8 182.0,268.5 C183.4,270.2 184.7,272.8 185.5,276.0 C186.3,279.2 186.8,284.0 187.0,288.0 C187.2,292.0 187.2,296.3 187.0,300.0 C186.8,303.7 186.5,307.2 185.5,310.0 C184.5,312.8 182.8,315.2 181.0,316.5 C179.2,317.8 176.9,318.2 175.0,318.0 C173.1,317.8 171.0,316.8 169.5,315.0 C168.0,313.2 166.7,310.2 166.0,307.0 C165.3,303.8 165.3,299.8 165.5,296.0 C165.7,292.2 166.2,287.8 167.0,284.0 C167.8,280.2 169.4,275.8 170.5,273.0 C171.6,270.2 172.4,268.7 173.5,267.5 C174.6,266.3 175.6,265.8 177.0,266.0Z" fill="#e8201c" stroke="none" stroke-width="1"/>
<path fill="#ff8a80" d="M179.1 304.3h1.0v1.0h-1.0zM185.8 304.3h1.0v1.0h-1.0zM182.0 271.5h1.0v1.0h-1.0zM172.6 277.7h1.0v1.0h-1.0zM179.1 276.9h1.0v1.0h-1.0zM173.2 285.4h1.0v1.0h-1.0zM171.3 290.7h1.0v1.0h-1.0zM167.9 284.7h1.0v1.0h-1.0zM173.0 278.1h1.0v1.0h-1.0zM168.4 308.3h1.0v1.0h-1.0zM171.7 306.3h1.0v1.0h-1.0zM183.5 281.0h1.0v1.0h-1.0zM180.1 290.7h1.0v1.0h-1.0zM173.4 309.3h1.0v1.0h-1.0z"/>
<path fill="#f56a5a" d="M166.6 290.8h1.0v1.0h-1.0zM179.6 312.1h1.0v1.0h-1.0zM177.4 296.1h1.0v1.0h-1.0zM181.4 288.0h1.0v1.0h-1.0zM185.2 305.5h1.0v1.0h-1.0zM179.0 274.2h1.0v1.0h-1.0zM172.3 285.7h1.0v1.0h-1.0zM172.3 297.6h1.0v1.0h-1.0zM178.5 302.7h1.0v1.0h-1.0zM180.8 270.8h1.0v1.0h-1.0zM180.4 283.0h1.0v1.0h-1.0zM177.2 287.9h1.0v1.0h-1.0zM175.6 288.7h1.0v1.0h-1.0zM168.2 289.3h1.0v1.0h-1.0zM167.2 288.6h1.0v1.0h-1.0zM175.5 317.0h1.0v1.0h-1.0zM172.1 287.8h1.0v1.0h-1.0zM179.6 296.5h1.0v1.0h-1.0zM176.9 293.9h1.0v1.0h-1.0z"/>
<path fill="#c8100c" d="M173.8 310.6h1.0v1.0h-1.0zM170.1 315.3h1.0v1.0h-1.0zM185.7 280.9h1.0v1.0h-1.0zM172.5 308.1h1.0v1.0h-1.0zM180.6 277.1h1.0v1.0h-1.0zM185.9 285.5h1.0v1.0h-1.0zM166.4 306.6h1.0v1.0h-1.0zM173.9 309.2h1.0v1.0h-1.0zM181.9 313.6h1.0v1.0h-1.0zM181.7 307.1h1.0v1.0h-1.0zM173.6 275.3h1.0v1.0h-1.0zM185.4 294.7h1.0v1.0h-1.0zM179.2 303.3h1.0v1.0h-1.0zM181.6 284.8h1.0v1.0h-1.0zM186.6 299.3h1.0v1.0h-1.0zM177.8 274.5h1.0v1.0h-1.0zM186.5 290.2h1.0v1.0h-1.0zM180.5 283.6h1.0v1.0h-1.0zM186.2 298.7h1.0v1.0h-1.0zM184.2 276.8h1.0v1.0h-1.0zM173.6 306.5h1.0v1.0h-1.0zM180.6 300.5h1.0v1.0h-1.0zM173.6 302.5h1.0v1.0h-1.0zM181.0 314.9h1.0v1.0h-1.0zM176.0 305.9h1.0v1.0h-1.0zM179.6 307.1h1.0v1.0h-1.0zM171.8 284.9h1.0v1.0h-1.0zM175.4 285.8h1.0v1.0h-1.0zM170.2 285.7h1.0v1.0h-1.0z"/>
<line x1="54.00" y1="233.00" x2="217.70" y2="233.00" stroke="#555" stroke-width="1.1"/>
<line x1="217.70" y1="233.00" x2="217.70" y2="388.00" stroke="#333" stroke-width="1.1"/>
<line x1="54.00" y1="232.50" x2="54.00" y2="388.70" stroke="#222" stroke-width="1.4"/>
<line x1="53.30" y1="388.00" x2="217.70" y2="388.00" stroke="#222" stroke-width="1.4"/>
<line x1="52.00" y1="271.31" x2="54.00" y2="271.31" stroke="#333" stroke-width="0.8"/>
<line x1="52.00" y1="265.24" x2="54.00" y2="265.24" stroke="#333" stroke-width="0.8"/>
<line x1="52.00" y1="260.93" x2="54.00" y2="260.93" stroke="#333" stroke-width="0.8"/>
<line x1="52.00" y1="257.59" x2="54.00" y2="257.59" stroke="#333" stroke-width="0.8"/>
<line x1="52.00" y1="254.85" x2="54.00" y2="254.85" stroke="#333" stroke-width="0.8"/>
<line x1="52.00" y1="252.54" x2="54.00" y2="252.54" stroke="#333" stroke-width="0.8"/>
<line x1="52.00" y1="250.54" x2="54.00" y2="250.54" stroke="#333" stroke-width="0.8"/>
<line x1="52.00" y1="248.78" x2="54.00" y2="248.78" stroke="#333" stroke-width="0.8"/>
<line x1="52.00" y1="307.07" x2="54.00" y2="307.07" stroke="#333" stroke-width="0.8"/>
<line x1="52.00" y1="300.68" x2="54.00" y2="300.68" stroke="#333" stroke-width="0.8"/>
<line x1="52.00" y1="296.15" x2="54.00" y2="296.15" stroke="#333" stroke-width="0.8"/>
<line x1="52.00" y1="292.63" x2="54.00" y2="292.63" stroke="#333" stroke-width="0.8"/>
<line x1="52.00" y1="289.75" x2="54.00" y2="289.75" stroke="#333" stroke-width="0.8"/>
<line x1="52.00" y1="287.32" x2="54.00" y2="287.32" stroke="#333" stroke-width="0.8"/>
<line x1="52.00" y1="285.22" x2="54.00" y2="285.22" stroke="#333" stroke-width="0.8"/>
<line x1="52.00" y1="283.36" x2="54.00" y2="283.36" stroke="#333" stroke-width="0.8"/>
<line x1="52.00" y1="343.58" x2="54.00" y2="343.58" stroke="#333" stroke-width="0.8"/>
<line x1="52.00" y1="337.14" x2="54.00" y2="337.14" stroke="#333" stroke-width="0.8"/>
<line x1="52.00" y1="332.56" x2="54.00" y2="332.56" stroke="#333" stroke-width="0.8"/>
<line x1="52.00" y1="329.02" x2="54.00" y2="329.02" stroke="#333" stroke-width="0.8"/>
<line x1="52.00" y1="326.12" x2="54.00" y2="326.12" stroke="#333" stroke-width="0.8"/>
<line x1="52.00" y1="323.67" x2="54.00" y2="323.67" stroke="#333" stroke-width="0.8"/>
<line x1="52.00" y1="321.55" x2="54.00" y2="321.55" stroke="#333" stroke-width="0.8"/>
<line x1="52.00" y1="319.67" x2="54.00" y2="319.67" stroke="#333" stroke-width="0.8"/>
<line x1="52.00" y1="236.81" x2="54.00" y2="236.81" stroke="#333" stroke-width="0.8"/>
<line x1="52.00" y1="359.82" x2="54.00" y2="359.82" stroke="#333" stroke-width="0.8"/>
<line x1="52.00" y1="364.17" x2="54.00" y2="364.17" stroke="#333" stroke-width="0.8"/>
<line x1="52.00" y1="367.65" x2="54.00" y2="367.65" stroke="#333" stroke-width="0.8"/>
<line x1="52.00" y1="377.22" x2="54.00" y2="377.22" stroke="#333" stroke-width="0.8"/>
<line x1="52.00" y1="381.57" x2="54.00" y2="381.57" stroke="#333" stroke-width="0.8"/>
<line x1="52.00" y1="385.05" x2="54.00" y2="385.05" stroke="#333" stroke-width="0.8"/>
<line x1="49.50" y1="247.20" x2="54.00" y2="247.20" stroke="#222" stroke-width="1"/>
<line x1="49.50" y1="281.70" x2="54.00" y2="281.70" stroke="#222" stroke-width="1"/>
<line x1="49.50" y1="318.00" x2="54.00" y2="318.00" stroke="#222" stroke-width="1"/>
<line x1="49.50" y1="354.60" x2="54.00" y2="354.60" stroke="#222" stroke-width="1"/>
<line x1="49.50" y1="372.00" x2="54.00" y2="372.00" stroke="#222" stroke-width="1"/>
<text x="38.30" y="252.50" font-size="9.2" text-anchor="end" fill="#1c1c1c">10</text>
<text x="42.30" y="247.40" font-size="9.2" text-anchor="start" fill="#1c1c1c">5</text>
<text x="38.30" y="287.00" font-size="9.2" text-anchor="end" fill="#1c1c1c">10</text>
<text x="42.30" y="281.90" font-size="9.2" text-anchor="start" fill="#1c1c1c">4</text>
<text x="38.30" y="323.30" font-size="9.2" text-anchor="end" fill="#1c1c1c">10</text>
<text x="42.30" y="318.20" font-size="9.2" text-anchor="start" fill="#1c1c1c">3</text>
<text x="38.30" y="359.90" font-size="9.2" text-anchor="end" fill="#1c1c1c">10</text>
<text x="42.30" y="354.80" font-size="9.2" text-anchor="start" fill="#1c1c1c">2</text>
<text x="45.20" y="376.00" font-size="9.2" text-anchor="end" fill="#1c1c1c">0</text>
<line x1="100.59" y1="388.00" x2="100.59" y2="390.00" stroke="#333" stroke-width="0.8"/>
<line x1="107.37" y1="388.00" x2="107.37" y2="390.00" stroke="#333" stroke-width="0.8"/>
<line x1="112.18" y1="388.00" x2="112.18" y2="390.00" stroke="#333" stroke-width="0.8"/>
<line x1="115.91" y1="388.00" x2="115.91" y2="390.00" stroke="#333" stroke-width="0.8"/>
<line x1="118.96" y1="388.00" x2="118.96" y2="390.00" stroke="#333" stroke-width="0.8"/>
<line x1="121.54" y1="388.00" x2="121.54" y2="390.00" stroke="#333" stroke-width="0.8"/>
<line x1="123.77" y1="388.00" x2="123.77" y2="390.00" stroke="#333" stroke-width="0.8"/>
<line x1="125.74" y1="388.00" x2="125.74" y2="390.00" stroke="#333" stroke-width="0.8"/>
<line x1="138.85" y1="388.00" x2="138.85" y2="390.00" stroke="#333" stroke-width="0.8"/>
<line x1="145.49" y1="388.00" x2="145.49" y2="390.00" stroke="#333" stroke-width="0.8"/>
<line x1="150.20" y1="388.00" x2="150.20" y2="390.00" stroke="#333" stroke-width="0.8"/>
<line x1="153.85" y1="388.00" x2="153.85" y2="390.00" stroke="#333" stroke-width="0.8"/>
<line x1="156.84" y1="388.00" x2="156.84" y2="390.00" stroke="#333" stroke-width="0.8"/>
<line x1="159.36" y1="388.00" x2="159.36" y2="390.00" stroke="#333" stroke-width="0.8"/>
<line x1="161.55" y1="388.00" x2="161.55" y2="390.00" stroke="#333" stroke-width="0.8"/>
<line x1="163.47" y1="388.00" x2="163.47" y2="390.00" stroke="#333" stroke-width="0.8"/>
<line x1="176.40" y1="388.00" x2="176.40" y2="390.00" stroke="#333" stroke-width="0.8"/>
<line x1="182.95" y1="388.00" x2="182.95" y2="390.00" stroke="#333" stroke-width="0.8"/>
<line x1="187.60" y1="388.00" x2="187.60" y2="390.00" stroke="#333" stroke-width="0.8"/>
<line x1="191.20" y1="388.00" x2="191.20" y2="390.00" stroke="#333" stroke-width="0.8"/>
<line x1="194.15" y1="388.00" x2="194.15" y2="390.00" stroke="#333" stroke-width="0.8"/>
<line x1="196.64" y1="388.00" x2="196.64" y2="390.00" stroke="#333" stroke-width="0.8"/>
<line x1="198.79" y1="388.00" x2="198.79" y2="390.00" stroke="#333" stroke-width="0.8"/>
<line x1="200.70" y1="388.00" x2="200.70" y2="390.00" stroke="#333" stroke-width="0.8"/>
<line x1="213.60" y1="388.00" x2="213.60" y2="390.00" stroke="#333" stroke-width="0.8"/>
<line x1="76.05" y1="388.00" x2="76.05" y2="390.00" stroke="#333" stroke-width="0.8"/>
<line x1="80.67" y1="388.00" x2="80.67" y2="390.00" stroke="#333" stroke-width="0.8"/>
<line x1="84.38" y1="388.00" x2="84.38" y2="390.00" stroke="#333" stroke-width="0.8"/>
<line x1="64.95" y1="388.00" x2="64.95" y2="390.00" stroke="#333" stroke-width="0.8"/>
<line x1="60.33" y1="388.00" x2="60.33" y2="390.00" stroke="#333" stroke-width="0.8"/>
<line x1="56.62" y1="388.00" x2="56.62" y2="390.00" stroke="#333" stroke-width="0.8"/>
<line x1="70.50" y1="388.00" x2="70.50" y2="391.50" stroke="#222" stroke-width="1"/>
<line x1="89.00" y1="388.00" x2="89.00" y2="391.50" stroke="#222" stroke-width="1"/>
<line x1="127.50" y1="388.00" x2="127.50" y2="391.50" stroke="#222" stroke-width="1"/>
<line x1="165.20" y1="388.00" x2="165.20" y2="391.50" stroke="#222" stroke-width="1"/>
<line x1="202.40" y1="388.00" x2="202.40" y2="391.50" stroke="#222" stroke-width="1"/>
<text x="71.30" y="407.30" font-size="9.2" text-anchor="middle" fill="#1c1c1c">0</text>
<text x="88.80" y="407.50" font-size="9.2" text-anchor="end" fill="#1c1c1c">10</text>
<text x="93.50" y="402.00" font-size="9.2" text-anchor="start" fill="#1c1c1c">2</text>
<text x="127.70" y="407.50" font-size="9.2" text-anchor="end" fill="#1c1c1c">10</text>
<text x="132.30" y="402.00" font-size="9.2" text-anchor="start" fill="#1c1c1c">3</text>
<text x="166.30" y="407.50" font-size="9.2" text-anchor="end" fill="#1c1c1c">10</text>
<text x="170.00" y="402.00" font-size="9.2" text-anchor="start" fill="#1c1c1c">4</text>
<text x="201.80" y="407.50" font-size="9.2" text-anchor="end" fill="#1c1c1c">10</text>
<text x="206.40" y="402.00" font-size="9.2" text-anchor="start" fill="#1c1c1c">5</text>
<text x="25.30" y="296.90" font-size="12" font-weight="bold" text-anchor="middle" fill="#1c1c1c" transform="rotate(-90 25.3 296.9)">FSC-A</text>
<text x="132.80" y="420.20" font-size="12" font-weight="bold" text-anchor="middle" fill="#1c1c1c">SSC-A</text>
<text x="161.80" y="333.00" font-size="12" font-weight="bold" text-anchor="start" fill="#1c1c1c">RBC</text>
<path d="M371.5,387 L373.5,383 L375.5,376 L377.3,360 L378.5,344 L379.5,326 L380.4,307.7 L381.6,290 L382.7,271.4 L384.9,252.3 L386.4,271.4 L387,290 L387.6,307.7 L388.3,326 L389,344 L389.8,360 L390.8,376 L391.8,383 L393,387Z" fill="#e3211d" stroke="none" stroke-width="1"/>
<line x1="270.50" y1="230.70" x2="504.60" y2="230.70" stroke="#555" stroke-width="1.1"/>
<line x1="504.60" y1="230.70" x2="504.60" y2="387.30" stroke="#333" stroke-width="1.1"/>
<line x1="270.50" y1="230.20" x2="270.50" y2="388.00" stroke="#222" stroke-width="1.4"/>
<line x1="269.80" y1="387.30" x2="504.60" y2="387.30" stroke="#222" stroke-width="1.4"/>
<line x1="268.00" y1="387.30" x2="270.50" y2="387.30" stroke="#333" stroke-width="0.9"/>
<line x1="268.00" y1="374.14" x2="270.50" y2="374.14" stroke="#333" stroke-width="0.9"/>
<line x1="268.00" y1="360.99" x2="270.50" y2="360.99" stroke="#333" stroke-width="0.9"/>
<line x1="268.00" y1="347.83" x2="270.50" y2="347.83" stroke="#333" stroke-width="0.9"/>
<line x1="268.00" y1="334.67" x2="270.50" y2="334.67" stroke="#333" stroke-width="0.9"/>
<line x1="268.00" y1="321.51" x2="270.50" y2="321.51" stroke="#333" stroke-width="0.9"/>
<line x1="268.00" y1="308.36" x2="270.50" y2="308.36" stroke="#333" stroke-width="0.9"/>
<line x1="268.00" y1="295.20" x2="270.50" y2="295.20" stroke="#333" stroke-width="0.9"/>
<line x1="268.00" y1="282.04" x2="270.50" y2="282.04" stroke="#333" stroke-width="0.9"/>
<line x1="268.00" y1="268.88" x2="270.50" y2="268.88" stroke="#333" stroke-width="0.9"/>
<line x1="268.00" y1="255.72" x2="270.50" y2="255.72" stroke="#333" stroke-width="0.9"/>
<line x1="268.00" y1="242.57" x2="270.50" y2="242.57" stroke="#333" stroke-width="0.9"/>
<line x1="265.00" y1="387.30" x2="270.50" y2="387.30" stroke="#222" stroke-width="1"/>
<line x1="265.00" y1="334.67" x2="270.50" y2="334.67" stroke="#222" stroke-width="1"/>
<line x1="265.00" y1="282.04" x2="270.50" y2="282.04" stroke="#222" stroke-width="1"/>
<text x="264.30" y="286.24" font-size="9.2" text-anchor="end" fill="#1c1c1c">2 000</text>
<text x="264.30" y="338.87" font-size="9.2" text-anchor="end" fill="#1c1c1c">1 000</text>
<text x="264.30" y="236.40" font-size="9.2" text-anchor="end" fill="#1c1c1c">3 000</text>
<text x="263.30" y="391.70" font-size="9.2" text-anchor="end" fill="#1c1c1c">0</text>
<line x1="337.51" y1="387.30" x2="337.51" y2="389.30" stroke="#333" stroke-width="0.8"/>
<line x1="347.46" y1="387.30" x2="347.46" y2="389.30" stroke="#333" stroke-width="0.8"/>
<line x1="354.52" y1="387.30" x2="354.52" y2="389.30" stroke="#333" stroke-width="0.8"/>
<line x1="359.99" y1="387.30" x2="359.99" y2="389.30" stroke="#333" stroke-width="0.8"/>
<line x1="364.47" y1="387.30" x2="364.47" y2="389.30" stroke="#333" stroke-width="0.8"/>
<line x1="368.25" y1="387.30" x2="368.25" y2="389.30" stroke="#333" stroke-width="0.8"/>
<line x1="371.52" y1="387.30" x2="371.52" y2="389.30" stroke="#333" stroke-width="0.8"/>
<line x1="374.41" y1="387.30" x2="374.41" y2="389.30" stroke="#333" stroke-width="0.8"/>
<line x1="392.80" y1="387.30" x2="392.80" y2="389.30" stroke="#333" stroke-width="0.8"/>
<line x1="402.05" y1="387.30" x2="402.05" y2="389.30" stroke="#333" stroke-width="0.8"/>
<line x1="408.61" y1="387.30" x2="408.61" y2="389.30" stroke="#333" stroke-width="0.8"/>
<line x1="413.70" y1="387.30" x2="413.70" y2="389.30" stroke="#333" stroke-width="0.8"/>
<line x1="417.85" y1="387.30" x2="417.85" y2="389.30" stroke="#333" stroke-width="0.8"/>
<line x1="421.37" y1="387.30" x2="421.37" y2="389.30" stroke="#333" stroke-width="0.8"/>
<line x1="424.41" y1="387.30" x2="424.41" y2="389.30" stroke="#333" stroke-width="0.8"/>
<line x1="427.10" y1="387.30" x2="427.10" y2="389.30" stroke="#333" stroke-width="0.8"/>
<line x1="445.15" y1="387.30" x2="445.15" y2="389.30" stroke="#333" stroke-width="0.8"/>
<line x1="454.31" y1="387.30" x2="454.31" y2="389.30" stroke="#333" stroke-width="0.8"/>
<line x1="460.81" y1="387.30" x2="460.81" y2="389.30" stroke="#333" stroke-width="0.8"/>
<line x1="465.85" y1="387.30" x2="465.85" y2="389.30" stroke="#333" stroke-width="0.8"/>
<line x1="469.96" y1="387.30" x2="469.96" y2="389.30" stroke="#333" stroke-width="0.8"/>
<line x1="473.45" y1="387.30" x2="473.45" y2="389.30" stroke="#333" stroke-width="0.8"/>
<line x1="476.46" y1="387.30" x2="476.46" y2="389.30" stroke="#333" stroke-width="0.8"/>
<line x1="479.12" y1="387.30" x2="479.12" y2="389.30" stroke="#333" stroke-width="0.8"/>
<line x1="497.15" y1="387.30" x2="497.15" y2="389.30" stroke="#333" stroke-width="0.8"/>
<line x1="299.78" y1="387.30" x2="299.78" y2="389.30" stroke="#333" stroke-width="0.8"/>
<line x1="303.67" y1="387.30" x2="303.67" y2="389.30" stroke="#333" stroke-width="0.8"/>
<line x1="307.55" y1="387.30" x2="307.55" y2="389.30" stroke="#333" stroke-width="0.8"/>
<line x1="310.66" y1="387.30" x2="310.66" y2="389.30" stroke="#333" stroke-width="0.8"/>
<line x1="314.02" y1="387.30" x2="314.02" y2="389.30" stroke="#333" stroke-width="0.8"/>
<line x1="316.62" y1="387.30" x2="316.62" y2="389.30" stroke="#333" stroke-width="0.8"/>
<line x1="318.69" y1="387.30" x2="318.69" y2="389.30" stroke="#333" stroke-width="0.8"/>
<line x1="289.42" y1="387.30" x2="289.42" y2="389.30" stroke="#333" stroke-width="0.8"/>
<line x1="285.54" y1="387.30" x2="285.54" y2="389.30" stroke="#333" stroke-width="0.8"/>
<line x1="281.65" y1="387.30" x2="281.65" y2="389.30" stroke="#333" stroke-width="0.8"/>
<line x1="278.54" y1="387.30" x2="278.54" y2="389.30" stroke="#333" stroke-width="0.8"/>
<line x1="275.18" y1="387.30" x2="275.18" y2="389.30" stroke="#333" stroke-width="0.8"/>
<line x1="272.59" y1="387.30" x2="272.59" y2="389.30" stroke="#333" stroke-width="0.8"/>
<line x1="270.51" y1="387.30" x2="270.51" y2="389.30" stroke="#333" stroke-width="0.8"/>
<line x1="294.60" y1="387.30" x2="294.60" y2="390.80" stroke="#222" stroke-width="1"/>
<line x1="320.50" y1="387.30" x2="320.50" y2="390.80" stroke="#222" stroke-width="1"/>
<line x1="377.00" y1="387.30" x2="377.00" y2="390.80" stroke="#222" stroke-width="1"/>
<line x1="429.50" y1="387.30" x2="429.50" y2="390.80" stroke="#222" stroke-width="1"/>
<line x1="481.50" y1="387.30" x2="481.50" y2="390.80" stroke="#222" stroke-width="1"/>
<text x="294.20" y="404.60" font-size="9.2" text-anchor="middle" fill="#1c1c1c">0</text>
<text x="318.00" y="404.60" font-size="9.2" text-anchor="end" fill="#1c1c1c">10</text>
<text x="324.40" y="398.80" font-size="9.2" text-anchor="start" fill="#1c1c1c">2</text>
<text x="373.80" y="404.60" font-size="9.2" text-anchor="end" fill="#1c1c1c">10</text>
<text x="380.50" y="398.80" font-size="9.2" text-anchor="start" fill="#1c1c1c">3</text>
<text x="428.00" y="404.60" font-size="9.2" text-anchor="end" fill="#1c1c1c">10</text>
<text x="433.00" y="398.80" font-size="9.2" text-anchor="start" fill="#1c1c1c">4</text>
<text x="480.00" y="404.60" font-size="9.2" text-anchor="end" fill="#1c1c1c">10</text>
<text x="484.60" y="398.80" font-size="9.2" text-anchor="start" fill="#1c1c1c">5</text>
<text x="239.20" y="309.30" font-size="12" font-weight="bold" text-anchor="middle" fill="#1c1c1c" transform="rotate(-90 239.2 309.3)"># cells</text>
<text x="394.60" y="419.80" font-size="12.3" font-weight="bold" text-anchor="middle" fill="#1c1c1c">fluorescence</text>
<text x="372.70" y="249.60" font-size="12" font-weight="bold" text-anchor="start" fill="#1c1c1c">RBC</text>
<path fill="#333" d="M161.2 507.0h0.95v0.95h-0.95zM175.5 526.3h0.95v0.95h-0.95zM172.7 527.4h0.95v0.95h-0.95zM146.8 556.6h0.95v0.95h-0.95zM146.9 549.2h0.95v0.95h-0.95zM167.6 505.3h0.95v0.95h-0.95zM180.9 510.6h0.95v0.95h-0.95zM139.3 558.5h0.95v0.95h-0.95zM178.0 512.0h0.95v0.95h-0.95zM144.9 551.2h0.95v0.95h-0.95zM102.2 555.2h0.95v0.95h-0.95zM108.6 524.8h0.95v0.95h-0.95zM167.3 533.3h0.95v0.95h-0.95zM119.9 566.7h0.95v0.95h-0.95zM132.0 517.9h0.95v0.95h-0.95zM113.7 568.3h0.95v0.95h-0.95zM166.9 504.9h0.95v0.95h-0.95zM132.4 557.9h0.95v0.95h-0.95zM134.9 555.4h0.95v0.95h-0.95zM158.3 510.0h0.95v0.95h-0.95zM93.3 551.8h0.95v0.95h-0.95zM131.9 557.2h0.95v0.95h-0.95zM172.7 508.7h0.95v0.95h-0.95zM135.3 558.5h0.95v0.95h-0.95zM177.9 504.9h0.95v0.95h-0.95zM113.1 525.7h0.95v0.95h-0.95zM114.3 527.9h0.95v0.95h-0.95zM99.2 570.4h0.95v0.95h-0.95zM104.1 535.4h0.95v0.95h-0.95zM130.1 517.6h0.95v0.95h-0.95zM106.2 526.2h0.95v0.95h-0.95zM175.7 522.7h0.95v0.95h-0.95zM131.3 517.5h0.95v0.95h-0.95zM101.2 546.2h0.95v0.95h-0.95zM116.0 520.2h0.95v0.95h-0.95zM175.1 527.1h0.95v0.95h-0.95zM137.2 515.4h0.95v0.95h-0.95zM114.2 559.8h0.95v0.95h-0.95zM104.6 558.4h0.95v0.95h-0.95zM136.3 555.9h0.95v0.95h-0.95zM131.6 560.5h0.95v0.95h-0.95zM155.2 507.3h0.95v0.95h-0.95zM107.7 534.5h0.95v0.95h-0.95zM128.3 512.9h0.95v0.95h-0.95zM101.6 561.0h0.95v0.95h-0.95zM172.0 530.5h0.95v0.95h-0.95zM108.1 534.0h0.95v0.95h-0.95zM124.2 520.9h0.95v0.95h-0.95zM105.2 534.7h0.95v0.95h-0.95zM120.0 523.6h0.95v0.95h-0.95zM111.4 530.0h0.95v0.95h-0.95zM111.7 560.3h0.95v0.95h-0.95zM102.4 541.5h0.95v0.95h-0.95zM109.4 561.7h0.95v0.95h-0.95zM98.7 553.1h0.95v0.95h-0.95zM111.5 561.3h0.95v0.95h-0.95zM179.9 511.9h0.95v0.95h-0.95zM163.5 543.2h0.95v0.95h-0.95zM127.1 519.2h0.95v0.95h-0.95zM119.6 523.0h0.95v0.95h-0.95zM113.2 559.6h0.95v0.95h-0.95zM129.8 515.4h0.95v0.95h-0.95zM102.4 542.1h0.95v0.95h-0.95zM165.8 507.4h0.95v0.95h-0.95zM159.8 502.0h0.95v0.95h-0.95zM123.7 564.8h0.95v0.95h-0.95zM183.3 505.6h0.95v0.95h-0.95zM111.8 562.4h0.95v0.95h-0.95zM100.7 554.0h0.95v0.95h-0.95zM187.0 516.0h0.95v0.95h-0.95zM146.8 564.5h0.95v0.95h-0.95zM127.5 563.2h0.95v0.95h-0.95zM140.7 555.8h0.95v0.95h-0.95zM165.2 508.4h0.95v0.95h-0.95zM137.0 571.1h0.95v0.95h-0.95zM100.2 547.7h0.95v0.95h-0.95zM132.6 517.3h0.95v0.95h-0.95zM146.6 549.5h0.95v0.95h-0.95zM112.8 521.1h0.95v0.95h-0.95zM127.4 570.4h0.95v0.95h-0.95zM166.2 535.3h0.95v0.95h-0.95zM173.5 504.9h0.95v0.95h-0.95zM121.2 519.9h0.95v0.95h-0.95zM152.6 509.5h0.95v0.95h-0.95zM129.7 517.9h0.95v0.95h-0.95zM181.3 517.1h0.95v0.95h-0.95zM100.6 539.8h0.95v0.95h-0.95zM149.1 509.3h0.95v0.95h-0.95zM110.7 528.0h0.95v0.95h-0.95zM149.9 548.4h0.95v0.95h-0.95zM117.9 524.5h0.95v0.95h-0.95zM112.2 524.8h0.95v0.95h-0.95zM101.3 542.1h0.95v0.95h-0.95zM168.4 532.2h0.95v0.95h-0.95zM134.2 561.2h0.95v0.95h-0.95zM137.0 511.0h0.95v0.95h-0.95zM163.2 538.2h0.95v0.95h-0.95zM177.4 505.0h0.95v0.95h-0.95zM108.1 559.4h0.95v0.95h-0.95zM117.4 519.2h0.95v0.95h-0.95zM126.9 520.4h0.95v0.95h-0.95zM181.9 510.2h0.95v0.95h-0.95zM100.3 558.5h0.95v0.95h-0.95zM101.3 538.9h0.95v0.95h-0.95zM149.3 547.7h0.95v0.95h-0.95zM148.4 549.3h0.95v0.95h-0.95zM159.1 541.2h0.95v0.95h-0.95zM145.6 554.5h0.95v0.95h-0.95zM98.3 549.5h0.95v0.95h-0.95zM146.2 557.8h0.95v0.95h-0.95zM101.6 557.6h0.95v0.95h-0.95zM101.0 551.8h0.95v0.95h-0.95zM161.1 538.4h0.95v0.95h-0.95zM114.4 568.9h0.95v0.95h-0.95zM173.9 525.1h0.95v0.95h-0.95zM104.3 557.3h0.95v0.95h-0.95zM165.2 540.8h0.95v0.95h-0.95zM156.3 509.5h0.95v0.95h-0.95zM119.1 521.6h0.95v0.95h-0.95zM119.8 561.4h0.95v0.95h-0.95zM114.4 524.8h0.95v0.95h-0.95zM166.5 533.5h0.95v0.95h-0.95zM101.1 559.6h0.95v0.95h-0.95zM99.4 540.4h0.95v0.95h-0.95zM114.0 524.6h0.95v0.95h-0.95zM109.4 568.9h0.95v0.95h-0.95zM143.7 553.3h0.95v0.95h-0.95zM119.3 524.4h0.95v0.95h-0.95zM133.0 556.7h0.95v0.95h-0.95zM156.6 555.0h0.95v0.95h-0.95zM104.2 556.7h0.95v0.95h-0.95zM114.1 564.3h0.95v0.95h-0.95zM171.2 531.1h0.95v0.95h-0.95zM137.6 514.0h0.95v0.95h-0.95zM101.1 552.9h0.95v0.95h-0.95zM177.6 531.3h0.95v0.95h-0.95zM147.8 512.2h0.95v0.95h-0.95zM167.7 534.6h0.95v0.95h-0.95zM171.2 527.0h0.95v0.95h-0.95zM145.1 553.5h0.95v0.95h-0.95zM148.3 512.5h0.95v0.95h-0.95zM175.5 527.6h0.95v0.95h-0.95zM107.5 558.8h0.95v0.95h-0.95zM171.0 500.9h0.95v0.95h-0.95zM109.7 561.4h0.95v0.95h-0.95zM176.7 526.5h0.95v0.95h-0.95zM161.5 540.1h0.95v0.95h-0.95zM180.4 512.4h0.95v0.95h-0.95zM103.4 534.6h0.95v0.95h-0.95zM145.4 502.0h0.95v0.95h-0.95zM169.9 529.0h0.95v0.95h-0.95zM170.7 528.4h0.95v0.95h-0.95zM98.6 546.1h0.95v0.95h-0.95zM110.7 524.6h0.95v0.95h-0.95zM180.1 518.6h0.95v0.95h-0.95zM178.8 524.4h0.95v0.95h-0.95zM186.3 512.2h0.95v0.95h-0.95zM129.1 557.9h0.95v0.95h-0.95zM139.2 514.6h0.95v0.95h-0.95zM119.3 523.5h0.95v0.95h-0.95zM181.8 503.8h0.95v0.95h-0.95zM125.6 513.9h0.95v0.95h-0.95zM158.8 543.7h0.95v0.95h-0.95zM102.2 574.9h0.95v0.95h-0.95zM177.3 525.9h0.95v0.95h-0.95zM132.3 517.5h0.95v0.95h-0.95zM178.0 528.4h0.95v0.95h-0.95zM133.7 558.1h0.95v0.95h-0.95zM181.9 519.0h0.95v0.95h-0.95zM131.5 517.9h0.95v0.95h-0.95zM178.3 512.0h0.95v0.95h-0.95zM136.0 566.4h0.95v0.95h-0.95zM100.0 550.7h0.95v0.95h-0.95zM170.1 508.4h0.95v0.95h-0.95zM120.1 560.0h0.95v0.95h-0.95zM118.3 564.9h0.95v0.95h-0.95zM160.4 539.0h0.95v0.95h-0.95zM88.4 574.4h0.95v0.95h-0.95zM147.5 559.1h0.95v0.95h-0.95zM158.7 510.0h0.95v0.95h-0.95zM98.8 550.6h0.95v0.95h-0.95zM148.3 512.9h0.95v0.95h-0.95zM164.7 534.8h0.95v0.95h-0.95zM161.0 505.4h0.95v0.95h-0.95zM112.5 560.5h0.95v0.95h-0.95zM156.4 506.6h0.95v0.95h-0.95zM114.1 526.8h0.95v0.95h-0.95zM96.6 539.2h0.95v0.95h-0.95zM128.0 519.2h0.95v0.95h-0.95zM95.5 549.2h0.95v0.95h-0.95zM136.2 504.1h0.95v0.95h-0.95zM114.5 527.5h0.95v0.95h-0.95zM129.0 516.2h0.95v0.95h-0.95zM101.0 543.3h0.95v0.95h-0.95zM143.0 501.7h0.95v0.95h-0.95zM171.7 531.8h0.95v0.95h-0.95zM186.0 511.9h0.95v0.95h-0.95zM148.6 552.0h0.95v0.95h-0.95zM178.1 506.5h0.95v0.95h-0.95zM173.2 530.7h0.95v0.95h-0.95zM104.3 539.6h0.95v0.95h-0.95zM130.2 574.6h0.95v0.95h-0.95zM164.4 507.9h0.95v0.95h-0.95zM107.9 529.8h0.95v0.95h-0.95zM131.9 557.2h0.95v0.95h-0.95zM170.7 529.2h0.95v0.95h-0.95zM185.2 509.7h0.95v0.95h-0.95zM175.8 519.6h0.95v0.95h-0.95zM146.3 553.7h0.95v0.95h-0.95zM163.4 507.1h0.95v0.95h-0.95zM187.3 514.1h0.95v0.95h-0.95zM98.3 553.9h0.95v0.95h-0.95zM128.4 560.0h0.95v0.95h-0.95zM150.1 511.9h0.95v0.95h-0.95zM102.5 541.4h0.95v0.95h-0.95zM155.0 503.7h0.95v0.95h-0.95zM149.0 505.4h0.95v0.95h-0.95zM137.5 508.5h0.95v0.95h-0.95zM103.0 556.9h0.95v0.95h-0.95zM139.2 515.3h0.95v0.95h-0.95zM165.9 507.6h0.95v0.95h-0.95zM122.5 520.7h0.95v0.95h-0.95zM138.7 514.1h0.95v0.95h-0.95zM99.5 542.6h0.95v0.95h-0.95zM129.9 518.6h0.95v0.95h-0.95zM171.4 536.3h0.95v0.95h-0.95zM129.3 514.9h0.95v0.95h-0.95zM115.2 559.8h0.95v0.95h-0.95zM171.2 508.6h0.95v0.95h-0.95zM99.3 552.4h0.95v0.95h-0.95zM163.7 509.3h0.95v0.95h-0.95zM121.3 564.9h0.95v0.95h-0.95zM99.6 546.6h0.95v0.95h-0.95zM168.4 536.4h0.95v0.95h-0.95zM167.4 505.1h0.95v0.95h-0.95zM155.9 508.4h0.95v0.95h-0.95zM140.5 558.2h0.95v0.95h-0.95zM146.6 552.7h0.95v0.95h-0.95zM152.0 562.2h0.95v0.95h-0.95zM105.7 559.1h0.95v0.95h-0.95zM117.7 562.6h0.95v0.95h-0.95zM103.0 538.3h0.95v0.95h-0.95zM178.0 510.4h0.95v0.95h-0.95zM127.7 558.8h0.95v0.95h-0.95zM103.7 559.4h0.95v0.95h-0.95zM177.0 516.9h0.95v0.95h-0.95zM132.1 563.3h0.95v0.95h-0.95zM92.8 554.6h0.95v0.95h-0.95zM165.4 534.2h0.95v0.95h-0.95zM171.1 527.4h0.95v0.95h-0.95zM179.7 516.6h0.95v0.95h-0.95zM172.7 536.1h0.95v0.95h-0.95zM181.7 514.0h0.95v0.95h-0.95zM168.4 534.7h0.95v0.95h-0.95zM118.0 561.1h0.95v0.95h-0.95zM108.8 516.4h0.95v0.95h-0.95zM190.5 522.3h0.95v0.95h-0.95zM169.0 530.4h0.95v0.95h-0.95zM178.3 511.0h0.95v0.95h-0.95zM122.0 562.0h0.95v0.95h-0.95zM144.6 561.0h0.95v0.95h-0.95zM103.5 555.5h0.95v0.95h-0.95zM108.2 529.6h0.95v0.95h-0.95zM165.1 538.7h0.95v0.95h-0.95zM97.5 553.8h0.95v0.95h-0.95zM121.3 562.3h0.95v0.95h-0.95zM171.1 533.4h0.95v0.95h-0.95zM102.5 539.3h0.95v0.95h-0.95zM181.6 525.4h0.95v0.95h-0.95zM104.2 533.7h0.95v0.95h-0.95zM179.6 542.5h0.95v0.95h-0.95zM127.0 558.4h0.95v0.95h-0.95zM162.7 543.6h0.95v0.95h-0.95zM137.0 570.2h0.95v0.95h-0.95zM180.3 511.7h0.95v0.95h-0.95zM174.4 532.2h0.95v0.95h-0.95zM122.7 520.8h0.95v0.95h-0.95zM142.1 557.3h0.95v0.95h-0.95zM136.3 513.1h0.95v0.95h-0.95zM88.0 534.7h0.95v0.95h-0.95zM125.2 562.3h0.95v0.95h-0.95zM148.7 549.0h0.95v0.95h-0.95zM126.6 518.6h0.95v0.95h-0.95zM156.0 499.9h0.95v0.95h-0.95zM106.3 557.6h0.95v0.95h-0.95zM101.4 541.8h0.95v0.95h-0.95zM123.0 559.9h0.95v0.95h-0.95zM127.9 514.8h0.95v0.95h-0.95zM115.8 523.0h0.95v0.95h-0.95zM163.7 508.2h0.95v0.95h-0.95zM121.7 565.9h0.95v0.95h-0.95zM121.4 559.4h0.95v0.95h-0.95zM125.9 569.5h0.95v0.95h-0.95zM125.1 518.9h0.95v0.95h-0.95zM102.4 554.6h0.95v0.95h-0.95zM145.7 550.5h0.95v0.95h-0.95zM111.9 566.7h0.95v0.95h-0.95zM116.9 520.5h0.95v0.95h-0.95zM118.7 560.3h0.95v0.95h-0.95zM101.2 556.1h0.95v0.95h-0.95zM175.2 534.0h0.95v0.95h-0.95zM137.4 556.1h0.95v0.95h-0.95zM193.7 533.1h0.95v0.95h-0.95zM110.3 558.7h0.95v0.95h-0.95zM99.9 548.4h0.95v0.95h-0.95zM132.7 561.0h0.95v0.95h-0.95zM117.7 570.6h0.95v0.95h-0.95zM163.4 540.2h0.95v0.95h-0.95zM176.6 529.7h0.95v0.95h-0.95zM101.2 563.1h0.95v0.95h-0.95zM109.1 533.6h0.95v0.95h-0.95zM130.4 557.7h0.95v0.95h-0.95zM146.8 549.5h0.95v0.95h-0.95zM96.4 548.8h0.95v0.95h-0.95zM107.7 565.9h0.95v0.95h-0.95zM114.1 527.5h0.95v0.95h-0.95zM122.9 563.6h0.95v0.95h-0.95zM175.6 523.8h0.95v0.95h-0.95zM104.1 536.9h0.95v0.95h-0.95zM169.5 509.6h0.95v0.95h-0.95zM129.0 567.1h0.95v0.95h-0.95zM170.5 507.1h0.95v0.95h-0.95zM154.4 507.7h0.95v0.95h-0.95zM174.8 508.4h0.95v0.95h-0.95zM110.4 562.2h0.95v0.95h-0.95zM159.6 510.3h0.95v0.95h-0.95zM180.8 517.5h0.95v0.95h-0.95zM168.3 507.7h0.95v0.95h-0.95zM132.6 560.0h0.95v0.95h-0.95zM129.2 564.6h0.95v0.95h-0.95zM179.0 524.1h0.95v0.95h-0.95zM154.0 509.7h0.95v0.95h-0.95z"/>
<path fill="#999" d="M166.4 537.6h0.95v0.95h-0.95zM161.8 539.8h0.95v0.95h-0.95zM175.7 521.8h0.95v0.95h-0.95zM103.9 531.9h0.95v0.95h-0.95zM133.4 563.4h0.95v0.95h-0.95zM157.5 510.7h0.95v0.95h-0.95zM135.7 515.9h0.95v0.95h-0.95zM162.7 538.3h0.95v0.95h-0.95zM169.1 533.0h0.95v0.95h-0.95zM147.4 552.0h0.95v0.95h-0.95zM139.0 555.3h0.95v0.95h-0.95zM123.4 522.2h0.95v0.95h-0.95zM99.0 564.8h0.95v0.95h-0.95zM166.0 537.3h0.95v0.95h-0.95zM181.8 508.5h0.95v0.95h-0.95zM162.4 503.5h0.95v0.95h-0.95zM154.4 506.5h0.95v0.95h-0.95zM101.4 544.4h0.95v0.95h-0.95zM129.2 519.3h0.95v0.95h-0.95zM114.7 527.6h0.95v0.95h-0.95zM107.9 533.9h0.95v0.95h-0.95zM95.1 542.8h0.95v0.95h-0.95zM166.4 537.8h0.95v0.95h-0.95zM170.0 509.0h0.95v0.95h-0.95zM172.2 532.8h0.95v0.95h-0.95zM167.8 509.6h0.95v0.95h-0.95zM117.6 559.6h0.95v0.95h-0.95zM174.9 522.5h0.95v0.95h-0.95zM172.6 537.0h0.95v0.95h-0.95zM163.7 504.8h0.95v0.95h-0.95zM99.3 553.5h0.95v0.95h-0.95zM152.6 511.0h0.95v0.95h-0.95zM137.1 561.3h0.95v0.95h-0.95zM92.1 561.6h0.95v0.95h-0.95zM140.5 555.7h0.95v0.95h-0.95zM136.7 554.7h0.95v0.95h-0.95zM171.7 528.8h0.95v0.95h-0.95zM170.0 541.4h0.95v0.95h-0.95zM132.5 514.4h0.95v0.95h-0.95zM147.8 551.0h0.95v0.95h-0.95zM178.5 529.1h0.95v0.95h-0.95zM155.5 504.5h0.95v0.95h-0.95zM126.1 560.3h0.95v0.95h-0.95zM157.6 543.0h0.95v0.95h-0.95zM182.4 533.8h0.95v0.95h-0.95zM180.9 511.5h0.95v0.95h-0.95zM156.1 510.7h0.95v0.95h-0.95zM178.8 514.5h0.95v0.95h-0.95zM180.0 515.3h0.95v0.95h-0.95zM148.5 550.9h0.95v0.95h-0.95zM121.9 559.6h0.95v0.95h-0.95zM117.4 559.7h0.95v0.95h-0.95zM151.4 507.8h0.95v0.95h-0.95zM107.8 562.7h0.95v0.95h-0.95zM89.5 543.1h0.95v0.95h-0.95zM172.2 508.5h0.95v0.95h-0.95zM181.4 510.5h0.95v0.95h-0.95zM143.1 557.7h0.95v0.95h-0.95zM174.5 505.0h0.95v0.95h-0.95zM104.8 559.4h0.95v0.95h-0.95zM115.6 523.9h0.95v0.95h-0.95zM111.4 527.8h0.95v0.95h-0.95zM175.9 510.3h0.95v0.95h-0.95zM135.3 565.8h0.95v0.95h-0.95zM180.4 508.5h0.95v0.95h-0.95zM102.5 539.1h0.95v0.95h-0.95zM132.9 556.9h0.95v0.95h-0.95zM161.1 510.0h0.95v0.95h-0.95zM148.6 510.2h0.95v0.95h-0.95zM115.9 559.8h0.95v0.95h-0.95zM100.3 560.6h0.95v0.95h-0.95zM179.7 529.1h0.95v0.95h-0.95zM119.8 559.3h0.95v0.95h-0.95zM137.2 563.1h0.95v0.95h-0.95zM170.6 543.0h0.95v0.95h-0.95zM176.2 507.2h0.95v0.95h-0.95zM115.4 561.5h0.95v0.95h-0.95zM138.5 514.9h0.95v0.95h-0.95zM182.0 509.0h0.95v0.95h-0.95zM124.0 509.9h0.95v0.95h-0.95zM165.1 508.4h0.95v0.95h-0.95zM139.1 513.6h0.95v0.95h-0.95zM97.4 546.8h0.95v0.95h-0.95zM173.0 525.2h0.95v0.95h-0.95zM159.6 541.5h0.95v0.95h-0.95zM95.2 550.4h0.95v0.95h-0.95zM169.0 533.3h0.95v0.95h-0.95zM117.8 524.3h0.95v0.95h-0.95zM167.8 534.6h0.95v0.95h-0.95zM153.9 509.5h0.95v0.95h-0.95zM171.7 533.2h0.95v0.95h-0.95zM171.0 530.2h0.95v0.95h-0.95zM144.6 551.2h0.95v0.95h-0.95zM119.5 561.0h0.95v0.95h-0.95zM160.7 543.7h0.95v0.95h-0.95zM151.0 511.9h0.95v0.95h-0.95zM163.9 538.9h0.95v0.95h-0.95zM138.5 515.0h0.95v0.95h-0.95zM164.8 541.5h0.95v0.95h-0.95zM172.7 529.4h0.95v0.95h-0.95zM166.7 534.1h0.95v0.95h-0.95zM172.0 507.2h0.95v0.95h-0.95zM123.8 518.8h0.95v0.95h-0.95zM165.9 536.0h0.95v0.95h-0.95zM138.2 513.6h0.95v0.95h-0.95zM170.2 532.8h0.95v0.95h-0.95zM126.9 518.5h0.95v0.95h-0.95zM182.7 508.7h0.95v0.95h-0.95zM122.7 561.4h0.95v0.95h-0.95zM140.8 514.4h0.95v0.95h-0.95zM93.7 553.0h0.95v0.95h-0.95zM169.7 539.8h0.95v0.95h-0.95zM123.2 562.6h0.95v0.95h-0.95zM130.2 566.4h0.95v0.95h-0.95zM150.8 510.8h0.95v0.95h-0.95zM118.2 562.6h0.95v0.95h-0.95zM136.0 515.7h0.95v0.95h-0.95zM164.8 510.0h0.95v0.95h-0.95zM143.9 504.9h0.95v0.95h-0.95zM120.9 574.2h0.95v0.95h-0.95zM114.7 561.4h0.95v0.95h-0.95zM95.0 547.6h0.95v0.95h-0.95zM169.9 509.4h0.95v0.95h-0.95zM179.0 511.8h0.95v0.95h-0.95zM141.4 557.4h0.95v0.95h-0.95zM180.4 557.0h0.95v0.95h-0.95zM144.0 561.4h0.95v0.95h-0.95zM161.5 505.4h0.95v0.95h-0.95zM178.2 515.8h0.95v0.95h-0.95zM168.9 532.0h0.95v0.95h-0.95zM163.5 542.4h0.95v0.95h-0.95zM140.2 555.6h0.95v0.95h-0.95zM166.1 535.9h0.95v0.95h-0.95zM184.1 525.2h0.95v0.95h-0.95zM160.2 509.4h0.95v0.95h-0.95zM138.0 503.8h0.95v0.95h-0.95zM116.6 563.3h0.95v0.95h-0.95zM158.8 540.9h0.95v0.95h-0.95zM127.4 519.6h0.95v0.95h-0.95zM129.5 561.8h0.95v0.95h-0.95zM104.3 536.9h0.95v0.95h-0.95zM125.0 559.3h0.95v0.95h-0.95zM108.7 532.0h0.95v0.95h-0.95zM179.2 525.4h0.95v0.95h-0.95zM96.7 533.2h0.95v0.95h-0.95zM133.5 562.4h0.95v0.95h-0.95zM133.0 567.7h0.95v0.95h-0.95zM135.3 556.8h0.95v0.95h-0.95zM111.3 529.7h0.95v0.95h-0.95zM129.3 516.7h0.95v0.95h-0.95zM139.7 554.2h0.95v0.95h-0.95zM154.2 509.2h0.95v0.95h-0.95zM108.7 533.6h0.95v0.95h-0.95zM141.3 556.8h0.95v0.95h-0.95zM177.6 521.0h0.95v0.95h-0.95zM163.8 536.5h0.95v0.95h-0.95zM141.6 560.9h0.95v0.95h-0.95zM146.0 551.8h0.95v0.95h-0.95zM123.3 560.7h0.95v0.95h-0.95zM108.8 560.0h0.95v0.95h-0.95zM174.1 536.6h0.95v0.95h-0.95zM173.6 532.4h0.95v0.95h-0.95zM116.4 561.6h0.95v0.95h-0.95zM140.3 558.8h0.95v0.95h-0.95zM135.0 556.1h0.95v0.95h-0.95zM102.9 557.9h0.95v0.95h-0.95zM115.1 522.1h0.95v0.95h-0.95zM99.2 552.5h0.95v0.95h-0.95zM124.1 519.1h0.95v0.95h-0.95zM104.4 539.2h0.95v0.95h-0.95zM178.2 504.6h0.95v0.95h-0.95zM175.4 509.0h0.95v0.95h-0.95zM142.8 513.4h0.95v0.95h-0.95zM125.8 562.7h0.95v0.95h-0.95zM163.7 538.6h0.95v0.95h-0.95zM126.6 517.4h0.95v0.95h-0.95zM171.6 532.4h0.95v0.95h-0.95zM123.6 559.9h0.95v0.95h-0.95zM157.6 569.3h0.95v0.95h-0.95zM132.7 513.8h0.95v0.95h-0.95zM112.7 563.5h0.95v0.95h-0.95zM103.7 539.6h0.95v0.95h-0.95zM174.6 529.5h0.95v0.95h-0.95zM153.0 504.3h0.95v0.95h-0.95zM162.8 507.3h0.95v0.95h-0.95zM158.6 541.9h0.95v0.95h-0.95zM106.9 557.7h0.95v0.95h-0.95zM103.0 528.8h0.95v0.95h-0.95zM178.2 506.8h0.95v0.95h-0.95zM98.1 552.9h0.95v0.95h-0.95zM176.4 520.6h0.95v0.95h-0.95zM174.7 532.7h0.95v0.95h-0.95zM142.7 562.9h0.95v0.95h-0.95zM170.9 531.4h0.95v0.95h-0.95zM178.4 509.8h0.95v0.95h-0.95zM128.2 515.2h0.95v0.95h-0.95zM98.8 551.7h0.95v0.95h-0.95zM100.1 557.3h0.95v0.95h-0.95zM116.9 526.2h0.95v0.95h-0.95zM133.7 556.1h0.95v0.95h-0.95zM182.0 511.0h0.95v0.95h-0.95zM130.9 517.3h0.95v0.95h-0.95zM129.4 561.1h0.95v0.95h-0.95zM120.9 563.8h0.95v0.95h-0.95zM130.2 557.9h0.95v0.95h-0.95zM176.1 523.8h0.95v0.95h-0.95zM154.7 507.0h0.95v0.95h-0.95zM149.1 507.4h0.95v0.95h-0.95zM163.2 508.3h0.95v0.95h-0.95zM178.1 509.7h0.95v0.95h-0.95zM147.1 500.4h0.95v0.95h-0.95zM177.4 520.3h0.95v0.95h-0.95zM139.1 553.6h0.95v0.95h-0.95zM101.3 553.2h0.95v0.95h-0.95zM143.4 553.1h0.95v0.95h-0.95zM110.5 529.3h0.95v0.95h-0.95zM164.1 540.2h0.95v0.95h-0.95zM178.7 517.3h0.95v0.95h-0.95zM115.9 524.8h0.95v0.95h-0.95zM137.8 559.5h0.95v0.95h-0.95zM168.9 508.5h0.95v0.95h-0.95zM103.8 526.8h0.95v0.95h-0.95zM140.3 554.3h0.95v0.95h-0.95zM133.5 515.0h0.95v0.95h-0.95zM95.6 541.8h0.95v0.95h-0.95zM114.1 561.8h0.95v0.95h-0.95zM106.4 532.7h0.95v0.95h-0.95zM121.8 560.4h0.95v0.95h-0.95zM127.8 563.0h0.95v0.95h-0.95zM180.6 526.3h0.95v0.95h-0.95zM158.7 540.6h0.95v0.95h-0.95zM100.6 552.2h0.95v0.95h-0.95zM125.1 568.5h0.95v0.95h-0.95zM141.5 563.7h0.95v0.95h-0.95zM148.5 550.6h0.95v0.95h-0.95zM142.7 506.7h0.95v0.95h-0.95zM170.8 530.4h0.95v0.95h-0.95zM99.9 552.3h0.95v0.95h-0.95zM106.6 530.2h0.95v0.95h-0.95zM173.2 529.1h0.95v0.95h-0.95zM176.1 524.2h0.95v0.95h-0.95zM144.6 557.9h0.95v0.95h-0.95zM121.3 563.0h0.95v0.95h-0.95zM112.6 565.5h0.95v0.95h-0.95zM105.0 534.5h0.95v0.95h-0.95zM100.3 558.0h0.95v0.95h-0.95zM140.5 552.8h0.95v0.95h-0.95zM102.4 542.8h0.95v0.95h-0.95zM144.0 552.2h0.95v0.95h-0.95zM115.7 525.4h0.95v0.95h-0.95zM135.8 555.1h0.95v0.95h-0.95zM137.0 558.9h0.95v0.95h-0.95zM97.9 569.2h0.95v0.95h-0.95zM128.8 560.0h0.95v0.95h-0.95zM100.1 555.5h0.95v0.95h-0.95zM103.4 555.2h0.95v0.95h-0.95zM94.6 542.4h0.95v0.95h-0.95zM121.2 562.5h0.95v0.95h-0.95zM175.3 521.8h0.95v0.95h-0.95zM131.5 516.3h0.95v0.95h-0.95zM140.2 573.9h0.95v0.95h-0.95zM105.8 532.6h0.95v0.95h-0.95zM151.8 504.1h0.95v0.95h-0.95zM177.1 519.7h0.95v0.95h-0.95zM175.8 519.8h0.95v0.95h-0.95zM138.6 513.1h0.95v0.95h-0.95zM164.9 496.7h0.95v0.95h-0.95zM123.1 561.9h0.95v0.95h-0.95zM127.5 571.0h0.95v0.95h-0.95zM171.0 527.6h0.95v0.95h-0.95zM135.5 512.4h0.95v0.95h-0.95zM154.5 506.7h0.95v0.95h-0.95zM178.3 517.5h0.95v0.95h-0.95zM174.5 509.9h0.95v0.95h-0.95zM120.0 565.0h0.95v0.95h-0.95zM169.6 497.4h0.95v0.95h-0.95zM148.7 512.1h0.95v0.95h-0.95zM165.9 533.9h0.95v0.95h-0.95zM102.7 539.3h0.95v0.95h-0.95zM126.0 559.8h0.95v0.95h-0.95zM163.9 542.5h0.95v0.95h-0.95zM140.0 562.9h0.95v0.95h-0.95zM111.3 520.8h0.95v0.95h-0.95zM172.7 508.3h0.95v0.95h-0.95zM176.1 528.9h0.95v0.95h-0.95zM111.8 529.8h0.95v0.95h-0.95zM129.0 516.9h0.95v0.95h-0.95zM121.6 521.7h0.95v0.95h-0.95zM162.9 546.5h0.95v0.95h-0.95zM170.7 506.7h0.95v0.95h-0.95zM115.2 571.1h0.95v0.95h-0.95zM189.0 513.3h0.95v0.95h-0.95zM131.6 515.1h0.95v0.95h-0.95zM109.9 531.1h0.95v0.95h-0.95zM171.1 508.5h0.95v0.95h-0.95zM107.1 526.8h0.95v0.95h-0.95zM116.3 559.7h0.95v0.95h-0.95zM108.7 534.1h0.95v0.95h-0.95zM98.8 550.2h0.95v0.95h-0.95zM177.4 506.0h0.95v0.95h-0.95zM147.7 512.1h0.95v0.95h-0.95zM117.6 525.7h0.95v0.95h-0.95zM134.6 556.5h0.95v0.95h-0.95zM165.9 509.9h0.95v0.95h-0.95zM165.3 534.1h0.95v0.95h-0.95zM171.8 501.9h0.95v0.95h-0.95zM120.3 523.3h0.95v0.95h-0.95zM119.8 561.2h0.95v0.95h-0.95zM154.0 506.7h0.95v0.95h-0.95zM110.5 530.7h0.95v0.95h-0.95zM149.9 510.2h0.95v0.95h-0.95zM109.1 528.7h0.95v0.95h-0.95zM120.8 522.8h0.95v0.95h-0.95zM120.8 521.5h0.95v0.95h-0.95zM175.1 522.4h0.95v0.95h-0.95zM158.1 547.0h0.95v0.95h-0.95zM113.2 524.2h0.95v0.95h-0.95zM108.3 532.7h0.95v0.95h-0.95zM107.7 531.9h0.95v0.95h-0.95zM171.7 540.7h0.95v0.95h-0.95zM176.7 511.1h0.95v0.95h-0.95zM187.0 498.7h0.95v0.95h-0.95zM196.7 497.4h0.95v0.95h-0.95zM184.2 488.5h0.95v0.95h-0.95zM183.5 501.5h0.95v0.95h-0.95zM194.4 493.0h0.95v0.95h-0.95zM193.6 503.7h0.95v0.95h-0.95zM198.4 472.6h0.95v0.95h-0.95zM181.9 506.6h0.95v0.95h-0.95zM181.9 506.8h0.95v0.95h-0.95zM194.6 482.6h0.95v0.95h-0.95zM180.4 502.1h0.95v0.95h-0.95zM191.6 494.9h0.95v0.95h-0.95zM181.0 506.7h0.95v0.95h-0.95zM189.1 488.8h0.95v0.95h-0.95zM179.7 512.1h0.95v0.95h-0.95zM184.5 500.7h0.95v0.95h-0.95zM187.2 496.5h0.95v0.95h-0.95zM194.2 487.9h0.95v0.95h-0.95zM186.8 499.2h0.95v0.95h-0.95zM184.1 503.3h0.95v0.95h-0.95zM199.4 495.7h0.95v0.95h-0.95zM191.7 493.5h0.95v0.95h-0.95zM181.0 503.4h0.95v0.95h-0.95zM186.3 507.2h0.95v0.95h-0.95zM185.9 511.4h0.95v0.95h-0.95zM189.2 479.3h0.95v0.95h-0.95zM174.2 502.0h0.95v0.95h-0.95zM203.7 489.5h0.95v0.95h-0.95zM166.0 506.7h0.95v0.95h-0.95zM188.3 495.3h0.95v0.95h-0.95zM194.7 498.8h0.95v0.95h-0.95zM177.7 514.7h0.95v0.95h-0.95zM191.3 506.1h0.95v0.95h-0.95zM190.4 494.2h0.95v0.95h-0.95zM182.4 493.1h0.95v0.95h-0.95zM192.8 496.8h0.95v0.95h-0.95zM202.4 469.9h0.95v0.95h-0.95zM185.5 497.7h0.95v0.95h-0.95zM185.0 491.4h0.95v0.95h-0.95zM189.9 496.5h0.95v0.95h-0.95zM183.5 504.8h0.95v0.95h-0.95zM189.4 504.1h0.95v0.95h-0.95zM172.1 513.3h0.95v0.95h-0.95zM179.9 490.6h0.95v0.95h-0.95zM183.5 478.2h0.95v0.95h-0.95zM198.3 484.9h0.95v0.95h-0.95zM183.1 512.0h0.95v0.95h-0.95zM196.3 460.8h0.95v0.95h-0.95zM181.7 489.5h0.95v0.95h-0.95zM183.9 490.6h0.95v0.95h-0.95zM174.6 501.5h0.95v0.95h-0.95zM190.1 494.8h0.95v0.95h-0.95zM189.5 469.1h0.95v0.95h-0.95zM197.8 479.9h0.95v0.95h-0.95zM179.9 494.4h0.95v0.95h-0.95zM173.6 509.5h0.95v0.95h-0.95zM182.7 499.5h0.95v0.95h-0.95zM201.1 484.0h0.95v0.95h-0.95zM198.2 478.4h0.95v0.95h-0.95zM175.8 514.0h0.95v0.95h-0.95zM181.3 514.9h0.95v0.95h-0.95zM198.1 502.4h0.95v0.95h-0.95zM195.3 500.7h0.95v0.95h-0.95zM197.0 499.3h0.95v0.95h-0.95zM196.7 503.3h0.95v0.95h-0.95zM194.8 504.6h0.95v0.95h-0.95zM197.4 504.8h0.95v0.95h-0.95zM197.1 501.4h0.95v0.95h-0.95zM196.5 496.2h0.95v0.95h-0.95zM199.9 503.4h0.95v0.95h-0.95zM203.0 500.0h0.95v0.95h-0.95zM195.7 507.7h0.95v0.95h-0.95zM193.7 507.8h0.95v0.95h-0.95zM196.9 503.7h0.95v0.95h-0.95zM199.9 498.0h0.95v0.95h-0.95zM198.8 497.8h0.95v0.95h-0.95zM200.0 501.2h0.95v0.95h-0.95zM197.0 500.1h0.95v0.95h-0.95zM198.0 499.4h0.95v0.95h-0.95zM197.5 499.1h0.95v0.95h-0.95zM196.9 499.4h0.95v0.95h-0.95zM195.0 499.5h0.95v0.95h-0.95zM194.7 501.9h0.95v0.95h-0.95zM191.8 501.0h0.95v0.95h-0.95z"/>
<path fill="#777" d="M193.4 523.5h0.95v0.95h-0.95zM120.9 562.1h0.95v0.95h-0.95zM123.2 521.6h0.95v0.95h-0.95zM119.8 561.4h0.95v0.95h-0.95zM171.2 509.0h0.95v0.95h-0.95zM148.7 507.1h0.95v0.95h-0.95zM182.3 510.0h0.95v0.95h-0.95zM102.4 554.5h0.95v0.95h-0.95zM165.0 572.6h0.95v0.95h-0.95zM123.8 521.5h0.95v0.95h-0.95zM178.1 516.1h0.95v0.95h-0.95zM133.8 517.2h0.95v0.95h-0.95zM126.1 558.8h0.95v0.95h-0.95zM181.3 504.4h0.95v0.95h-0.95zM107.5 534.1h0.95v0.95h-0.95zM168.2 536.2h0.95v0.95h-0.95zM137.7 515.4h0.95v0.95h-0.95zM182.7 507.5h0.95v0.95h-0.95zM147.2 550.0h0.95v0.95h-0.95zM170.5 532.1h0.95v0.95h-0.95zM164.4 505.5h0.95v0.95h-0.95zM118.5 522.3h0.95v0.95h-0.95zM141.0 513.6h0.95v0.95h-0.95zM146.0 550.5h0.95v0.95h-0.95zM106.3 559.9h0.95v0.95h-0.95zM98.5 546.6h0.95v0.95h-0.95zM114.1 522.6h0.95v0.95h-0.95zM179.8 532.4h0.95v0.95h-0.95zM110.9 528.7h0.95v0.95h-0.95zM124.3 512.8h0.95v0.95h-0.95zM164.9 536.4h0.95v0.95h-0.95zM176.8 526.3h0.95v0.95h-0.95zM111.9 560.7h0.95v0.95h-0.95zM178.7 520.1h0.95v0.95h-0.95zM113.4 560.2h0.95v0.95h-0.95zM121.6 517.8h0.95v0.95h-0.95zM143.8 507.6h0.95v0.95h-0.95zM150.5 507.5h0.95v0.95h-0.95zM174.3 509.2h0.95v0.95h-0.95zM118.8 566.9h0.95v0.95h-0.95zM138.2 554.8h0.95v0.95h-0.95zM181.5 512.0h0.95v0.95h-0.95zM130.0 519.0h0.95v0.95h-0.95zM142.6 573.8h0.95v0.95h-0.95zM111.9 565.7h0.95v0.95h-0.95zM162.9 504.6h0.95v0.95h-0.95zM122.0 564.5h0.95v0.95h-0.95zM173.2 509.0h0.95v0.95h-0.95zM169.1 532.7h0.95v0.95h-0.95zM137.7 512.5h0.95v0.95h-0.95zM98.5 562.9h0.95v0.95h-0.95zM151.5 510.3h0.95v0.95h-0.95zM134.7 556.5h0.95v0.95h-0.95zM107.7 560.0h0.95v0.95h-0.95zM185.8 515.4h0.95v0.95h-0.95zM101.0 562.4h0.95v0.95h-0.95zM107.6 567.1h0.95v0.95h-0.95zM139.0 557.3h0.95v0.95h-0.95zM111.5 559.2h0.95v0.95h-0.95zM162.7 537.6h0.95v0.95h-0.95zM168.3 532.9h0.95v0.95h-0.95zM102.8 569.7h0.95v0.95h-0.95zM187.0 516.9h0.95v0.95h-0.95zM146.4 506.9h0.95v0.95h-0.95zM102.1 567.3h0.95v0.95h-0.95zM102.9 542.3h0.95v0.95h-0.95zM162.8 504.9h0.95v0.95h-0.95zM115.2 523.9h0.95v0.95h-0.95zM134.8 556.9h0.95v0.95h-0.95zM179.9 538.7h0.95v0.95h-0.95zM171.1 534.7h0.95v0.95h-0.95zM106.1 533.2h0.95v0.95h-0.95zM130.7 515.4h0.95v0.95h-0.95zM180.8 521.4h0.95v0.95h-0.95zM161.5 508.5h0.95v0.95h-0.95zM103.2 560.3h0.95v0.95h-0.95zM136.5 515.0h0.95v0.95h-0.95zM101.5 566.3h0.95v0.95h-0.95zM144.9 551.2h0.95v0.95h-0.95zM150.4 512.0h0.95v0.95h-0.95zM127.7 563.0h0.95v0.95h-0.95zM99.0 544.8h0.95v0.95h-0.95zM167.9 506.8h0.95v0.95h-0.95zM118.4 517.7h0.95v0.95h-0.95zM124.0 565.8h0.95v0.95h-0.95zM175.8 521.0h0.95v0.95h-0.95zM106.1 535.2h0.95v0.95h-0.95zM116.1 572.1h0.95v0.95h-0.95zM121.6 565.2h0.95v0.95h-0.95zM106.3 559.2h0.95v0.95h-0.95zM149.5 556.3h0.95v0.95h-0.95zM118.5 524.7h0.95v0.95h-0.95zM177.8 559.6h0.95v0.95h-0.95zM109.9 530.4h0.95v0.95h-0.95zM170.0 503.7h0.95v0.95h-0.95zM188.0 509.7h0.95v0.95h-0.95zM113.7 560.1h0.95v0.95h-0.95zM177.8 516.4h0.95v0.95h-0.95zM113.5 527.1h0.95v0.95h-0.95zM99.7 547.0h0.95v0.95h-0.95zM106.3 533.5h0.95v0.95h-0.95zM137.8 514.3h0.95v0.95h-0.95zM170.6 536.4h0.95v0.95h-0.95zM112.7 524.1h0.95v0.95h-0.95zM102.6 557.7h0.95v0.95h-0.95zM167.2 539.7h0.95v0.95h-0.95zM98.8 569.9h0.95v0.95h-0.95zM112.3 529.7h0.95v0.95h-0.95zM101.8 533.5h0.95v0.95h-0.95zM98.9 546.6h0.95v0.95h-0.95zM104.9 527.9h0.95v0.95h-0.95zM141.9 553.4h0.95v0.95h-0.95zM113.8 526.9h0.95v0.95h-0.95zM103.8 539.8h0.95v0.95h-0.95zM149.6 550.7h0.95v0.95h-0.95zM163.3 538.9h0.95v0.95h-0.95zM160.5 539.1h0.95v0.95h-0.95zM159.7 509.8h0.95v0.95h-0.95zM109.3 561.4h0.95v0.95h-0.95zM135.7 556.2h0.95v0.95h-0.95zM180.7 521.0h0.95v0.95h-0.95zM138.2 557.4h0.95v0.95h-0.95zM140.6 553.0h0.95v0.95h-0.95zM146.8 506.4h0.95v0.95h-0.95zM108.8 523.5h0.95v0.95h-0.95zM116.8 565.1h0.95v0.95h-0.95zM179.0 514.0h0.95v0.95h-0.95zM166.6 533.6h0.95v0.95h-0.95zM182.1 498.3h0.95v0.95h-0.95zM146.8 557.2h0.95v0.95h-0.95zM150.0 510.9h0.95v0.95h-0.95zM147.9 550.6h0.95v0.95h-0.95zM153.0 510.6h0.95v0.95h-0.95zM167.8 509.0h0.95v0.95h-0.95zM141.5 563.4h0.95v0.95h-0.95zM136.1 558.9h0.95v0.95h-0.95zM117.9 522.4h0.95v0.95h-0.95zM139.9 553.5h0.95v0.95h-0.95zM121.5 563.4h0.95v0.95h-0.95zM123.6 564.8h0.95v0.95h-0.95zM186.4 504.9h0.95v0.95h-0.95zM171.4 532.4h0.95v0.95h-0.95zM179.7 515.2h0.95v0.95h-0.95zM137.8 507.9h0.95v0.95h-0.95zM108.4 532.8h0.95v0.95h-0.95zM181.0 529.2h0.95v0.95h-0.95zM105.5 558.2h0.95v0.95h-0.95zM143.8 554.9h0.95v0.95h-0.95zM122.4 562.5h0.95v0.95h-0.95zM99.8 564.8h0.95v0.95h-0.95zM96.2 546.4h0.95v0.95h-0.95zM98.9 543.8h0.95v0.95h-0.95zM111.7 564.0h0.95v0.95h-0.95zM178.4 519.8h0.95v0.95h-0.95zM171.0 528.2h0.95v0.95h-0.95zM156.0 543.5h0.95v0.95h-0.95zM98.5 558.4h0.95v0.95h-0.95zM102.8 555.4h0.95v0.95h-0.95zM174.2 522.7h0.95v0.95h-0.95zM112.7 563.8h0.95v0.95h-0.95zM117.5 522.2h0.95v0.95h-0.95zM178.3 517.0h0.95v0.95h-0.95zM173.1 525.6h0.95v0.95h-0.95zM176.9 522.0h0.95v0.95h-0.95zM136.7 515.5h0.95v0.95h-0.95zM173.1 536.6h0.95v0.95h-0.95zM180.5 511.6h0.95v0.95h-0.95zM102.2 544.5h0.95v0.95h-0.95zM114.5 561.4h0.95v0.95h-0.95zM116.2 565.9h0.95v0.95h-0.95zM105.4 531.5h0.95v0.95h-0.95zM97.8 553.7h0.95v0.95h-0.95zM100.1 553.5h0.95v0.95h-0.95zM124.9 519.3h0.95v0.95h-0.95zM129.1 514.1h0.95v0.95h-0.95zM174.7 538.6h0.95v0.95h-0.95zM164.1 542.1h0.95v0.95h-0.95zM189.8 513.1h0.95v0.95h-0.95zM101.1 547.5h0.95v0.95h-0.95zM166.0 543.5h0.95v0.95h-0.95zM182.1 524.2h0.95v0.95h-0.95zM108.3 559.9h0.95v0.95h-0.95zM154.5 510.3h0.95v0.95h-0.95zM143.7 553.5h0.95v0.95h-0.95zM119.8 518.3h0.95v0.95h-0.95zM131.4 514.2h0.95v0.95h-0.95zM131.9 507.5h0.95v0.95h-0.95zM146.4 512.4h0.95v0.95h-0.95zM147.5 508.5h0.95v0.95h-0.95zM153.1 511.3h0.95v0.95h-0.95zM114.1 560.2h0.95v0.95h-0.95zM98.1 545.2h0.95v0.95h-0.95zM138.9 513.4h0.95v0.95h-0.95zM104.3 535.0h0.95v0.95h-0.95zM188.4 529.9h0.95v0.95h-0.95zM111.2 521.3h0.95v0.95h-0.95zM104.7 538.2h0.95v0.95h-0.95zM109.4 531.6h0.95v0.95h-0.95zM144.7 509.7h0.95v0.95h-0.95zM174.4 509.6h0.95v0.95h-0.95zM179.2 511.4h0.95v0.95h-0.95zM159.4 509.9h0.95v0.95h-0.95zM182.0 506.4h0.95v0.95h-0.95zM181.3 525.8h0.95v0.95h-0.95zM109.9 562.5h0.95v0.95h-0.95zM130.7 517.5h0.95v0.95h-0.95zM108.7 527.7h0.95v0.95h-0.95zM99.0 557.4h0.95v0.95h-0.95zM105.9 565.4h0.95v0.95h-0.95zM157.6 542.0h0.95v0.95h-0.95zM137.8 515.2h0.95v0.95h-0.95zM139.1 513.3h0.95v0.95h-0.95zM155.5 506.5h0.95v0.95h-0.95zM174.9 507.9h0.95v0.95h-0.95zM121.3 518.4h0.95v0.95h-0.95zM107.8 531.5h0.95v0.95h-0.95zM147.4 552.5h0.95v0.95h-0.95zM144.3 556.6h0.95v0.95h-0.95zM107.2 562.7h0.95v0.95h-0.95zM161.3 538.3h0.95v0.95h-0.95zM127.1 518.3h0.95v0.95h-0.95zM126.5 570.2h0.95v0.95h-0.95zM178.6 513.1h0.95v0.95h-0.95zM108.1 527.3h0.95v0.95h-0.95zM107.2 534.7h0.95v0.95h-0.95zM124.7 520.8h0.95v0.95h-0.95zM162.8 508.8h0.95v0.95h-0.95zM187.1 511.8h0.95v0.95h-0.95zM170.6 504.3h0.95v0.95h-0.95zM109.8 532.5h0.95v0.95h-0.95zM122.7 559.3h0.95v0.95h-0.95zM107.9 558.2h0.95v0.95h-0.95zM141.5 513.0h0.95v0.95h-0.95zM182.9 517.4h0.95v0.95h-0.95zM164.8 506.7h0.95v0.95h-0.95zM145.2 553.1h0.95v0.95h-0.95zM179.1 512.6h0.95v0.95h-0.95zM169.2 543.9h0.95v0.95h-0.95zM180.6 509.0h0.95v0.95h-0.95zM102.5 561.6h0.95v0.95h-0.95zM108.3 534.0h0.95v0.95h-0.95zM138.8 556.4h0.95v0.95h-0.95zM110.5 573.7h0.95v0.95h-0.95zM162.1 508.5h0.95v0.95h-0.95zM114.4 561.2h0.95v0.95h-0.95zM179.1 517.1h0.95v0.95h-0.95zM125.9 570.6h0.95v0.95h-0.95zM143.2 513.9h0.95v0.95h-0.95zM162.6 541.7h0.95v0.95h-0.95zM100.3 556.9h0.95v0.95h-0.95zM164.5 507.8h0.95v0.95h-0.95zM112.4 527.4h0.95v0.95h-0.95zM125.5 517.7h0.95v0.95h-0.95zM101.9 553.5h0.95v0.95h-0.95zM107.0 573.8h0.95v0.95h-0.95zM105.0 559.4h0.95v0.95h-0.95zM108.3 534.2h0.95v0.95h-0.95zM136.3 563.5h0.95v0.95h-0.95zM170.2 528.7h0.95v0.95h-0.95zM97.5 527.7h0.95v0.95h-0.95zM118.1 521.0h0.95v0.95h-0.95zM155.8 510.5h0.95v0.95h-0.95zM172.4 529.7h0.95v0.95h-0.95zM106.2 559.7h0.95v0.95h-0.95zM177.2 516.4h0.95v0.95h-0.95zM184.6 524.1h0.95v0.95h-0.95zM101.3 541.1h0.95v0.95h-0.95zM174.4 535.8h0.95v0.95h-0.95zM132.6 514.7h0.95v0.95h-0.95zM136.9 573.0h0.95v0.95h-0.95zM170.1 530.3h0.95v0.95h-0.95zM109.6 559.2h0.95v0.95h-0.95zM158.2 543.2h0.95v0.95h-0.95zM136.2 555.7h0.95v0.95h-0.95zM143.1 553.7h0.95v0.95h-0.95zM145.6 511.6h0.95v0.95h-0.95zM155.2 561.2h0.95v0.95h-0.95zM110.3 558.9h0.95v0.95h-0.95zM123.2 567.2h0.95v0.95h-0.95zM142.7 554.1h0.95v0.95h-0.95zM175.7 531.4h0.95v0.95h-0.95zM119.2 519.0h0.95v0.95h-0.95zM115.2 563.6h0.95v0.95h-0.95zM129.5 559.6h0.95v0.95h-0.95zM182.3 515.5h0.95v0.95h-0.95zM175.0 536.1h0.95v0.95h-0.95zM124.7 559.2h0.95v0.95h-0.95zM124.8 516.6h0.95v0.95h-0.95zM100.6 540.3h0.95v0.95h-0.95zM104.6 556.9h0.95v0.95h-0.95zM95.5 544.8h0.95v0.95h-0.95zM173.0 529.5h0.95v0.95h-0.95zM122.9 568.5h0.95v0.95h-0.95zM111.8 563.7h0.95v0.95h-0.95zM172.8 531.0h0.95v0.95h-0.95zM158.2 508.4h0.95v0.95h-0.95zM103.4 536.5h0.95v0.95h-0.95zM115.7 562.8h0.95v0.95h-0.95zM147.4 557.6h0.95v0.95h-0.95zM138.6 515.5h0.95v0.95h-0.95zM132.3 517.1h0.95v0.95h-0.95zM91.8 537.1h0.95v0.95h-0.95zM133.9 516.2h0.95v0.95h-0.95zM147.4 552.2h0.95v0.95h-0.95zM124.5 505.0h0.95v0.95h-0.95zM107.7 560.0h0.95v0.95h-0.95zM105.9 535.0h0.95v0.95h-0.95zM145.5 550.6h0.95v0.95h-0.95zM190.7 483.8h0.95v0.95h-0.95zM187.1 490.0h0.95v0.95h-0.95zM198.7 473.7h0.95v0.95h-0.95zM192.5 493.8h0.95v0.95h-0.95zM204.5 491.0h0.95v0.95h-0.95zM204.8 474.6h0.95v0.95h-0.95zM185.4 489.6h0.95v0.95h-0.95zM190.5 489.9h0.95v0.95h-0.95zM197.8 501.1h0.95v0.95h-0.95zM185.5 482.1h0.95v0.95h-0.95zM180.9 479.4h0.95v0.95h-0.95zM190.5 494.1h0.95v0.95h-0.95zM183.6 501.5h0.95v0.95h-0.95zM192.9 480.2h0.95v0.95h-0.95zM183.6 487.9h0.95v0.95h-0.95zM186.0 496.5h0.95v0.95h-0.95zM175.8 510.8h0.95v0.95h-0.95zM185.5 495.9h0.95v0.95h-0.95zM194.5 481.6h0.95v0.95h-0.95zM200.6 491.5h0.95v0.95h-0.95zM182.9 497.2h0.95v0.95h-0.95zM181.4 511.5h0.95v0.95h-0.95zM172.3 507.8h0.95v0.95h-0.95zM172.4 498.1h0.95v0.95h-0.95zM190.4 489.3h0.95v0.95h-0.95zM196.1 488.1h0.95v0.95h-0.95zM176.1 511.6h0.95v0.95h-0.95zM194.4 492.5h0.95v0.95h-0.95zM184.6 499.9h0.95v0.95h-0.95zM196.4 494.1h0.95v0.95h-0.95zM194.4 468.6h0.95v0.95h-0.95zM196.6 469.5h0.95v0.95h-0.95zM186.3 488.1h0.95v0.95h-0.95zM181.7 483.6h0.95v0.95h-0.95zM197.7 459.4h0.95v0.95h-0.95zM194.2 487.3h0.95v0.95h-0.95zM199.0 483.3h0.95v0.95h-0.95zM187.6 504.7h0.95v0.95h-0.95zM184.9 477.5h0.95v0.95h-0.95zM184.5 506.7h0.95v0.95h-0.95zM183.3 505.3h0.95v0.95h-0.95zM161.2 515.2h0.95v0.95h-0.95zM193.8 501.1h0.95v0.95h-0.95zM197.2 488.3h0.95v0.95h-0.95zM197.1 486.2h0.95v0.95h-0.95zM194.7 500.5h0.95v0.95h-0.95zM200.5 499.4h0.95v0.95h-0.95zM199.1 500.6h0.95v0.95h-0.95zM198.3 505.9h0.95v0.95h-0.95zM198.4 500.5h0.95v0.95h-0.95zM196.0 500.0h0.95v0.95h-0.95zM199.8 499.3h0.95v0.95h-0.95zM195.7 503.5h0.95v0.95h-0.95zM198.9 502.8h0.95v0.95h-0.95zM197.4 502.7h0.95v0.95h-0.95zM197.1 507.2h0.95v0.95h-0.95zM195.6 508.5h0.95v0.95h-0.95zM195.7 503.0h0.95v0.95h-0.95zM193.0 501.4h0.95v0.95h-0.95zM196.0 503.4h0.95v0.95h-0.95zM192.1 497.9h0.95v0.95h-0.95zM196.6 500.7h0.95v0.95h-0.95zM198.8 504.4h0.95v0.95h-0.95zM194.8 501.9h0.95v0.95h-0.95zM191.6 505.1h0.95v0.95h-0.95zM196.5 506.8h0.95v0.95h-0.95z"/>
<path fill="#444" d="M144.1 552.7h0.95v0.95h-0.95zM161.8 541.8h0.95v0.95h-0.95zM100.9 551.9h0.95v0.95h-0.95zM130.3 518.7h0.95v0.95h-0.95zM109.2 518.5h0.95v0.95h-0.95zM193.8 523.7h0.95v0.95h-0.95zM126.5 518.8h0.95v0.95h-0.95zM175.9 531.7h0.95v0.95h-0.95zM166.7 534.1h0.95v0.95h-0.95zM139.6 554.6h0.95v0.95h-0.95zM94.4 541.0h0.95v0.95h-0.95zM140.9 514.3h0.95v0.95h-0.95zM101.2 545.2h0.95v0.95h-0.95zM112.8 527.6h0.95v0.95h-0.95zM110.6 520.9h0.95v0.95h-0.95zM168.4 508.9h0.95v0.95h-0.95zM155.4 547.8h0.95v0.95h-0.95zM155.1 543.9h0.95v0.95h-0.95zM181.4 514.0h0.95v0.95h-0.95zM145.0 555.6h0.95v0.95h-0.95zM168.4 504.5h0.95v0.95h-0.95zM113.5 526.3h0.95v0.95h-0.95zM131.8 560.7h0.95v0.95h-0.95zM143.6 555.0h0.95v0.95h-0.95zM176.2 519.8h0.95v0.95h-0.95zM155.3 510.0h0.95v0.95h-0.95zM122.2 560.1h0.95v0.95h-0.95zM162.6 540.3h0.95v0.95h-0.95zM166.6 532.7h0.95v0.95h-0.95zM180.9 521.4h0.95v0.95h-0.95zM159.8 541.4h0.95v0.95h-0.95zM127.2 569.5h0.95v0.95h-0.95zM127.7 565.0h0.95v0.95h-0.95zM176.0 527.8h0.95v0.95h-0.95zM117.6 559.9h0.95v0.95h-0.95zM113.0 559.6h0.95v0.95h-0.95zM121.0 570.4h0.95v0.95h-0.95zM124.8 561.5h0.95v0.95h-0.95zM177.3 510.8h0.95v0.95h-0.95zM158.2 554.0h0.95v0.95h-0.95zM121.9 559.4h0.95v0.95h-0.95zM167.7 558.1h0.95v0.95h-0.95zM140.2 557.7h0.95v0.95h-0.95zM111.1 526.0h0.95v0.95h-0.95zM96.2 554.8h0.95v0.95h-0.95zM125.9 562.4h0.95v0.95h-0.95zM176.7 534.2h0.95v0.95h-0.95zM111.5 559.0h0.95v0.95h-0.95zM127.5 517.3h0.95v0.95h-0.95zM167.4 508.2h0.95v0.95h-0.95zM100.3 544.3h0.95v0.95h-0.95zM123.6 563.6h0.95v0.95h-0.95zM107.2 559.2h0.95v0.95h-0.95zM145.0 558.2h0.95v0.95h-0.95zM182.6 517.2h0.95v0.95h-0.95zM104.6 565.8h0.95v0.95h-0.95zM126.3 569.3h0.95v0.95h-0.95zM116.4 564.1h0.95v0.95h-0.95zM102.2 540.7h0.95v0.95h-0.95zM166.3 535.7h0.95v0.95h-0.95zM112.8 527.6h0.95v0.95h-0.95zM165.1 507.4h0.95v0.95h-0.95zM182.0 502.6h0.95v0.95h-0.95zM124.7 520.9h0.95v0.95h-0.95zM93.0 544.7h0.95v0.95h-0.95zM176.9 508.2h0.95v0.95h-0.95zM174.4 507.9h0.95v0.95h-0.95zM100.2 555.1h0.95v0.95h-0.95zM176.0 519.2h0.95v0.95h-0.95zM173.4 525.4h0.95v0.95h-0.95zM97.8 540.6h0.95v0.95h-0.95zM148.5 558.5h0.95v0.95h-0.95zM159.2 510.0h0.95v0.95h-0.95zM118.6 562.7h0.95v0.95h-0.95zM172.0 533.2h0.95v0.95h-0.95zM122.6 519.9h0.95v0.95h-0.95zM165.1 543.9h0.95v0.95h-0.95zM139.7 561.1h0.95v0.95h-0.95zM108.3 533.3h0.95v0.95h-0.95zM171.6 534.7h0.95v0.95h-0.95zM155.4 508.6h0.95v0.95h-0.95zM129.7 514.4h0.95v0.95h-0.95zM120.9 559.5h0.95v0.95h-0.95zM159.6 509.7h0.95v0.95h-0.95zM113.5 518.6h0.95v0.95h-0.95zM109.7 567.5h0.95v0.95h-0.95zM104.9 566.6h0.95v0.95h-0.95zM162.7 508.2h0.95v0.95h-0.95zM131.7 517.6h0.95v0.95h-0.95zM120.7 561.6h0.95v0.95h-0.95zM98.3 540.4h0.95v0.95h-0.95zM129.4 519.3h0.95v0.95h-0.95zM123.3 512.2h0.95v0.95h-0.95zM137.9 510.0h0.95v0.95h-0.95zM162.1 540.5h0.95v0.95h-0.95zM159.2 509.7h0.95v0.95h-0.95zM106.3 560.2h0.95v0.95h-0.95zM104.7 556.9h0.95v0.95h-0.95zM101.3 542.3h0.95v0.95h-0.95zM116.4 526.8h0.95v0.95h-0.95zM101.9 553.3h0.95v0.95h-0.95zM169.3 538.8h0.95v0.95h-0.95zM148.1 512.1h0.95v0.95h-0.95zM176.5 520.7h0.95v0.95h-0.95zM106.8 530.8h0.95v0.95h-0.95zM108.0 558.9h0.95v0.95h-0.95zM183.4 510.3h0.95v0.95h-0.95zM140.6 554.6h0.95v0.95h-0.95zM160.6 545.1h0.95v0.95h-0.95zM100.8 545.4h0.95v0.95h-0.95zM177.2 517.1h0.95v0.95h-0.95zM104.3 559.4h0.95v0.95h-0.95zM126.8 564.1h0.95v0.95h-0.95zM119.9 518.0h0.95v0.95h-0.95zM103.4 540.3h0.95v0.95h-0.95zM100.8 556.3h0.95v0.95h-0.95zM96.1 545.5h0.95v0.95h-0.95zM158.6 508.8h0.95v0.95h-0.95zM168.1 531.1h0.95v0.95h-0.95zM154.8 506.1h0.95v0.95h-0.95zM184.0 508.9h0.95v0.95h-0.95zM103.4 534.4h0.95v0.95h-0.95zM186.8 517.9h0.95v0.95h-0.95zM146.3 552.6h0.95v0.95h-0.95zM109.4 530.1h0.95v0.95h-0.95zM178.0 512.1h0.95v0.95h-0.95zM122.2 520.4h0.95v0.95h-0.95zM120.7 523.8h0.95v0.95h-0.95zM163.7 537.9h0.95v0.95h-0.95zM142.2 508.8h0.95v0.95h-0.95zM171.0 507.8h0.95v0.95h-0.95zM116.3 560.1h0.95v0.95h-0.95zM123.4 564.6h0.95v0.95h-0.95zM123.0 560.8h0.95v0.95h-0.95zM130.5 517.2h0.95v0.95h-0.95zM178.4 509.3h0.95v0.95h-0.95zM182.0 503.1h0.95v0.95h-0.95zM170.8 532.4h0.95v0.95h-0.95zM101.1 566.2h0.95v0.95h-0.95zM115.6 522.8h0.95v0.95h-0.95zM100.1 545.0h0.95v0.95h-0.95zM165.4 507.4h0.95v0.95h-0.95zM181.5 536.2h0.95v0.95h-0.95zM146.5 512.6h0.95v0.95h-0.95zM179.6 514.0h0.95v0.95h-0.95zM184.0 533.8h0.95v0.95h-0.95zM180.3 515.3h0.95v0.95h-0.95zM184.1 525.7h0.95v0.95h-0.95zM163.3 497.9h0.95v0.95h-0.95zM102.8 555.0h0.95v0.95h-0.95zM116.0 527.2h0.95v0.95h-0.95zM108.9 566.1h0.95v0.95h-0.95zM135.0 516.4h0.95v0.95h-0.95zM116.0 526.7h0.95v0.95h-0.95zM142.1 563.6h0.95v0.95h-0.95zM178.2 506.3h0.95v0.95h-0.95zM179.3 515.8h0.95v0.95h-0.95zM170.6 508.5h0.95v0.95h-0.95zM138.4 558.0h0.95v0.95h-0.95zM133.7 571.5h0.95v0.95h-0.95zM180.5 513.7h0.95v0.95h-0.95zM119.9 524.4h0.95v0.95h-0.95zM103.7 536.4h0.95v0.95h-0.95zM105.8 537.3h0.95v0.95h-0.95zM135.7 562.4h0.95v0.95h-0.95zM103.7 535.6h0.95v0.95h-0.95zM181.7 532.9h0.95v0.95h-0.95zM107.6 561.9h0.95v0.95h-0.95zM119.3 564.9h0.95v0.95h-0.95zM142.9 506.9h0.95v0.95h-0.95zM157.0 543.6h0.95v0.95h-0.95zM99.8 559.2h0.95v0.95h-0.95zM165.0 538.6h0.95v0.95h-0.95zM179.9 515.5h0.95v0.95h-0.95zM110.8 562.7h0.95v0.95h-0.95zM118.9 524.5h0.95v0.95h-0.95zM159.9 539.6h0.95v0.95h-0.95zM131.5 517.4h0.95v0.95h-0.95zM179.4 512.4h0.95v0.95h-0.95zM125.8 558.9h0.95v0.95h-0.95zM126.4 559.4h0.95v0.95h-0.95zM178.6 511.8h0.95v0.95h-0.95zM135.9 507.8h0.95v0.95h-0.95zM172.3 526.9h0.95v0.95h-0.95zM128.8 506.1h0.95v0.95h-0.95zM107.0 527.2h0.95v0.95h-0.95zM107.4 563.4h0.95v0.95h-0.95zM119.9 517.7h0.95v0.95h-0.95zM170.1 529.0h0.95v0.95h-0.95zM179.3 505.9h0.95v0.95h-0.95zM102.2 553.1h0.95v0.95h-0.95zM119.8 517.0h0.95v0.95h-0.95zM139.4 555.9h0.95v0.95h-0.95zM113.8 567.4h0.95v0.95h-0.95zM140.7 560.6h0.95v0.95h-0.95zM111.3 560.2h0.95v0.95h-0.95zM178.2 514.4h0.95v0.95h-0.95zM169.8 530.0h0.95v0.95h-0.95zM107.8 564.4h0.95v0.95h-0.95zM176.0 509.6h0.95v0.95h-0.95zM107.4 522.4h0.95v0.95h-0.95zM117.2 560.3h0.95v0.95h-0.95zM125.9 519.4h0.95v0.95h-0.95zM145.3 510.3h0.95v0.95h-0.95zM182.5 522.3h0.95v0.95h-0.95zM181.6 512.4h0.95v0.95h-0.95zM175.8 523.7h0.95v0.95h-0.95zM136.6 514.6h0.95v0.95h-0.95zM101.0 555.9h0.95v0.95h-0.95zM147.4 553.1h0.95v0.95h-0.95zM127.0 563.4h0.95v0.95h-0.95zM135.7 511.5h0.95v0.95h-0.95zM107.7 566.3h0.95v0.95h-0.95zM180.2 510.1h0.95v0.95h-0.95zM119.0 518.4h0.95v0.95h-0.95zM159.8 541.5h0.95v0.95h-0.95zM177.6 509.0h0.95v0.95h-0.95zM168.7 538.6h0.95v0.95h-0.95zM148.7 548.5h0.95v0.95h-0.95zM107.1 529.7h0.95v0.95h-0.95zM137.8 562.4h0.95v0.95h-0.95zM146.3 549.7h0.95v0.95h-0.95zM149.2 512.7h0.95v0.95h-0.95zM112.8 528.0h0.95v0.95h-0.95zM158.9 510.8h0.95v0.95h-0.95zM99.5 549.5h0.95v0.95h-0.95zM130.8 560.2h0.95v0.95h-0.95zM104.4 556.5h0.95v0.95h-0.95zM178.3 514.7h0.95v0.95h-0.95zM102.4 540.1h0.95v0.95h-0.95zM114.3 527.7h0.95v0.95h-0.95zM190.8 522.6h0.95v0.95h-0.95zM140.1 556.0h0.95v0.95h-0.95zM122.9 559.5h0.95v0.95h-0.95zM147.8 552.0h0.95v0.95h-0.95zM128.4 518.3h0.95v0.95h-0.95zM175.1 510.0h0.95v0.95h-0.95zM136.6 511.3h0.95v0.95h-0.95zM120.5 523.7h0.95v0.95h-0.95zM106.8 534.8h0.95v0.95h-0.95zM167.4 507.6h0.95v0.95h-0.95zM167.6 533.2h0.95v0.95h-0.95zM185.3 525.9h0.95v0.95h-0.95zM152.7 511.0h0.95v0.95h-0.95zM122.8 517.3h0.95v0.95h-0.95zM169.2 536.6h0.95v0.95h-0.95zM108.6 522.1h0.95v0.95h-0.95zM175.2 509.7h0.95v0.95h-0.95zM176.0 503.2h0.95v0.95h-0.95zM172.0 526.5h0.95v0.95h-0.95zM105.0 537.7h0.95v0.95h-0.95zM105.8 559.0h0.95v0.95h-0.95zM172.8 509.8h0.95v0.95h-0.95zM180.9 508.2h0.95v0.95h-0.95zM129.0 564.5h0.95v0.95h-0.95zM126.2 560.6h0.95v0.95h-0.95zM175.7 507.0h0.95v0.95h-0.95zM128.0 508.0h0.95v0.95h-0.95zM103.9 534.7h0.95v0.95h-0.95zM113.9 566.1h0.95v0.95h-0.95zM151.8 552.0h0.95v0.95h-0.95zM164.3 508.5h0.95v0.95h-0.95zM122.0 519.1h0.95v0.95h-0.95zM140.3 512.6h0.95v0.95h-0.95zM179.6 515.0h0.95v0.95h-0.95zM106.1 535.3h0.95v0.95h-0.95zM176.4 508.5h0.95v0.95h-0.95zM179.8 518.5h0.95v0.95h-0.95zM177.3 517.0h0.95v0.95h-0.95zM97.3 558.9h0.95v0.95h-0.95zM97.8 552.4h0.95v0.95h-0.95zM157.0 510.2h0.95v0.95h-0.95zM137.0 555.0h0.95v0.95h-0.95zM171.5 526.3h0.95v0.95h-0.95zM138.1 515.3h0.95v0.95h-0.95zM100.7 560.9h0.95v0.95h-0.95zM132.0 557.9h0.95v0.95h-0.95zM116.1 561.4h0.95v0.95h-0.95zM140.3 502.9h0.95v0.95h-0.95zM174.9 522.2h0.95v0.95h-0.95zM167.9 508.9h0.95v0.95h-0.95zM167.0 508.8h0.95v0.95h-0.95zM145.7 512.6h0.95v0.95h-0.95zM124.0 564.4h0.95v0.95h-0.95zM160.6 539.1h0.95v0.95h-0.95zM117.7 561.2h0.95v0.95h-0.95zM177.3 523.0h0.95v0.95h-0.95zM138.6 556.7h0.95v0.95h-0.95zM160.8 540.2h0.95v0.95h-0.95zM178.2 519.0h0.95v0.95h-0.95zM123.8 519.0h0.95v0.95h-0.95zM159.6 543.4h0.95v0.95h-0.95zM175.8 525.8h0.95v0.95h-0.95zM142.1 555.2h0.95v0.95h-0.95zM101.3 546.6h0.95v0.95h-0.95zM162.9 543.8h0.95v0.95h-0.95zM172.2 525.6h0.95v0.95h-0.95zM143.2 552.8h0.95v0.95h-0.95zM112.3 562.5h0.95v0.95h-0.95zM159.5 543.0h0.95v0.95h-0.95zM144.7 513.8h0.95v0.95h-0.95z"/>
<path fill="#555" d="M179.2 520.3h0.95v0.95h-0.95zM141.4 554.8h0.95v0.95h-0.95zM124.6 560.9h0.95v0.95h-0.95zM99.8 552.3h0.95v0.95h-0.95zM150.0 553.7h0.95v0.95h-0.95zM124.1 517.5h0.95v0.95h-0.95zM135.0 515.4h0.95v0.95h-0.95zM130.2 517.2h0.95v0.95h-0.95zM125.7 515.3h0.95v0.95h-0.95zM104.4 539.2h0.95v0.95h-0.95zM171.6 541.5h0.95v0.95h-0.95zM133.2 563.5h0.95v0.95h-0.95zM174.2 535.7h0.95v0.95h-0.95zM144.4 508.3h0.95v0.95h-0.95zM143.8 552.2h0.95v0.95h-0.95zM163.4 535.9h0.95v0.95h-0.95zM102.6 543.2h0.95v0.95h-0.95zM104.7 537.9h0.95v0.95h-0.95zM148.1 506.8h0.95v0.95h-0.95zM116.4 559.7h0.95v0.95h-0.95zM118.1 523.6h0.95v0.95h-0.95zM154.7 506.5h0.95v0.95h-0.95zM123.5 520.1h0.95v0.95h-0.95zM179.0 525.0h0.95v0.95h-0.95zM105.2 536.4h0.95v0.95h-0.95zM121.8 559.2h0.95v0.95h-0.95zM125.3 515.5h0.95v0.95h-0.95zM167.7 532.6h0.95v0.95h-0.95zM97.6 562.5h0.95v0.95h-0.95zM128.8 562.8h0.95v0.95h-0.95zM176.3 527.2h0.95v0.95h-0.95zM163.6 540.0h0.95v0.95h-0.95zM154.5 507.7h0.95v0.95h-0.95zM146.0 568.6h0.95v0.95h-0.95zM180.9 518.8h0.95v0.95h-0.95zM130.8 566.7h0.95v0.95h-0.95zM174.4 532.7h0.95v0.95h-0.95zM163.5 536.2h0.95v0.95h-0.95zM137.8 557.3h0.95v0.95h-0.95zM150.6 547.2h0.95v0.95h-0.95zM180.0 514.9h0.95v0.95h-0.95zM132.6 516.7h0.95v0.95h-0.95zM144.8 557.9h0.95v0.95h-0.95zM179.0 521.7h0.95v0.95h-0.95zM164.9 508.7h0.95v0.95h-0.95zM170.6 534.2h0.95v0.95h-0.95zM179.8 527.5h0.95v0.95h-0.95zM128.6 518.3h0.95v0.95h-0.95zM113.6 525.0h0.95v0.95h-0.95zM137.0 515.7h0.95v0.95h-0.95zM172.8 534.2h0.95v0.95h-0.95zM119.3 524.5h0.95v0.95h-0.95zM155.7 506.4h0.95v0.95h-0.95zM113.1 518.0h0.95v0.95h-0.95zM114.6 564.2h0.95v0.95h-0.95zM155.9 543.0h0.95v0.95h-0.95zM151.2 511.6h0.95v0.95h-0.95zM126.6 519.9h0.95v0.95h-0.95zM164.9 539.0h0.95v0.95h-0.95zM148.4 553.7h0.95v0.95h-0.95zM178.5 514.2h0.95v0.95h-0.95zM153.4 545.3h0.95v0.95h-0.95zM127.6 558.6h0.95v0.95h-0.95zM121.0 521.0h0.95v0.95h-0.95zM139.0 554.8h0.95v0.95h-0.95zM141.1 571.8h0.95v0.95h-0.95zM178.3 505.3h0.95v0.95h-0.95zM185.7 506.9h0.95v0.95h-0.95zM164.8 542.0h0.95v0.95h-0.95zM156.1 510.8h0.95v0.95h-0.95zM109.0 529.0h0.95v0.95h-0.95zM184.4 532.5h0.95v0.95h-0.95zM96.6 554.2h0.95v0.95h-0.95zM100.7 546.6h0.95v0.95h-0.95zM167.1 542.9h0.95v0.95h-0.95zM118.1 525.4h0.95v0.95h-0.95zM158.1 545.4h0.95v0.95h-0.95zM103.2 541.3h0.95v0.95h-0.95zM129.0 509.9h0.95v0.95h-0.95zM101.5 539.3h0.95v0.95h-0.95zM177.9 516.4h0.95v0.95h-0.95zM100.6 551.7h0.95v0.95h-0.95zM127.0 510.4h0.95v0.95h-0.95zM100.2 549.1h0.95v0.95h-0.95zM175.4 523.7h0.95v0.95h-0.95zM98.6 543.7h0.95v0.95h-0.95zM164.2 539.0h0.95v0.95h-0.95zM140.1 569.4h0.95v0.95h-0.95zM107.5 528.7h0.95v0.95h-0.95zM133.1 556.9h0.95v0.95h-0.95zM99.4 530.1h0.95v0.95h-0.95zM101.4 541.7h0.95v0.95h-0.95zM126.1 558.9h0.95v0.95h-0.95zM179.5 511.5h0.95v0.95h-0.95zM161.6 542.8h0.95v0.95h-0.95zM149.9 512.4h0.95v0.95h-0.95zM109.2 559.7h0.95v0.95h-0.95zM115.5 561.3h0.95v0.95h-0.95zM103.5 564.6h0.95v0.95h-0.95zM164.9 508.8h0.95v0.95h-0.95zM111.0 529.5h0.95v0.95h-0.95zM126.3 511.3h0.95v0.95h-0.95zM108.2 530.8h0.95v0.95h-0.95zM115.8 559.4h0.95v0.95h-0.95zM107.3 534.9h0.95v0.95h-0.95zM98.9 550.5h0.95v0.95h-0.95zM113.8 562.2h0.95v0.95h-0.95zM157.5 543.7h0.95v0.95h-0.95zM119.2 559.7h0.95v0.95h-0.95zM95.1 545.0h0.95v0.95h-0.95zM155.3 509.5h0.95v0.95h-0.95zM143.5 556.7h0.95v0.95h-0.95zM103.8 560.4h0.95v0.95h-0.95zM144.1 566.9h0.95v0.95h-0.95zM102.3 558.8h0.95v0.95h-0.95zM171.4 504.8h0.95v0.95h-0.95zM95.5 540.5h0.95v0.95h-0.95zM122.1 564.1h0.95v0.95h-0.95zM150.2 507.3h0.95v0.95h-0.95zM176.3 521.8h0.95v0.95h-0.95zM167.0 534.8h0.95v0.95h-0.95zM135.9 560.6h0.95v0.95h-0.95zM178.9 511.4h0.95v0.95h-0.95zM181.3 517.0h0.95v0.95h-0.95zM123.2 563.6h0.95v0.95h-0.95zM100.7 543.6h0.95v0.95h-0.95zM142.6 552.6h0.95v0.95h-0.95zM181.3 520.0h0.95v0.95h-0.95zM174.7 522.4h0.95v0.95h-0.95zM137.7 559.4h0.95v0.95h-0.95zM118.3 522.0h0.95v0.95h-0.95zM111.7 561.8h0.95v0.95h-0.95zM169.1 508.6h0.95v0.95h-0.95zM180.1 509.0h0.95v0.95h-0.95zM101.0 534.7h0.95v0.95h-0.95zM109.4 529.5h0.95v0.95h-0.95zM106.5 557.6h0.95v0.95h-0.95zM105.8 531.0h0.95v0.95h-0.95zM153.3 511.6h0.95v0.95h-0.95zM176.5 529.7h0.95v0.95h-0.95zM173.7 527.0h0.95v0.95h-0.95zM148.0 512.2h0.95v0.95h-0.95zM123.2 516.7h0.95v0.95h-0.95zM99.7 548.0h0.95v0.95h-0.95zM101.1 542.3h0.95v0.95h-0.95zM183.0 511.7h0.95v0.95h-0.95zM167.4 535.6h0.95v0.95h-0.95zM114.1 562.1h0.95v0.95h-0.95zM101.2 551.8h0.95v0.95h-0.95zM142.1 554.4h0.95v0.95h-0.95zM107.8 557.8h0.95v0.95h-0.95zM108.3 532.2h0.95v0.95h-0.95zM161.7 540.7h0.95v0.95h-0.95zM110.9 570.6h0.95v0.95h-0.95zM177.9 510.8h0.95v0.95h-0.95zM144.4 512.9h0.95v0.95h-0.95zM178.5 515.7h0.95v0.95h-0.95zM179.1 511.3h0.95v0.95h-0.95zM103.1 555.0h0.95v0.95h-0.95zM119.8 559.5h0.95v0.95h-0.95zM114.5 561.2h0.95v0.95h-0.95zM170.8 529.9h0.95v0.95h-0.95zM183.7 517.8h0.95v0.95h-0.95zM116.4 521.9h0.95v0.95h-0.95zM138.0 554.7h0.95v0.95h-0.95zM96.5 546.9h0.95v0.95h-0.95zM101.5 552.4h0.95v0.95h-0.95zM149.3 549.3h0.95v0.95h-0.95zM172.0 531.0h0.95v0.95h-0.95zM98.1 561.5h0.95v0.95h-0.95zM154.8 505.6h0.95v0.95h-0.95zM188.4 512.8h0.95v0.95h-0.95zM94.0 565.7h0.95v0.95h-0.95zM142.8 552.1h0.95v0.95h-0.95zM180.6 524.9h0.95v0.95h-0.95zM139.3 556.4h0.95v0.95h-0.95zM185.9 498.8h0.95v0.95h-0.95zM170.4 531.1h0.95v0.95h-0.95zM122.9 521.8h0.95v0.95h-0.95zM145.2 507.1h0.95v0.95h-0.95zM176.5 532.7h0.95v0.95h-0.95zM148.1 507.7h0.95v0.95h-0.95zM96.7 560.0h0.95v0.95h-0.95zM140.0 554.1h0.95v0.95h-0.95zM156.3 506.7h0.95v0.95h-0.95zM182.7 521.0h0.95v0.95h-0.95zM165.3 538.0h0.95v0.95h-0.95zM178.1 544.2h0.95v0.95h-0.95zM105.2 538.0h0.95v0.95h-0.95zM111.4 567.1h0.95v0.95h-0.95zM108.1 559.9h0.95v0.95h-0.95zM106.7 532.6h0.95v0.95h-0.95zM100.0 549.6h0.95v0.95h-0.95zM144.2 556.8h0.95v0.95h-0.95zM177.1 527.7h0.95v0.95h-0.95zM137.0 569.2h0.95v0.95h-0.95zM141.3 561.2h0.95v0.95h-0.95zM119.4 516.4h0.95v0.95h-0.95zM110.6 561.4h0.95v0.95h-0.95zM133.6 555.9h0.95v0.95h-0.95zM116.9 559.6h0.95v0.95h-0.95zM114.3 522.4h0.95v0.95h-0.95zM118.2 561.8h0.95v0.95h-0.95zM103.1 534.2h0.95v0.95h-0.95zM117.3 560.1h0.95v0.95h-0.95zM131.5 512.7h0.95v0.95h-0.95zM176.9 518.7h0.95v0.95h-0.95zM172.8 542.5h0.95v0.95h-0.95zM99.3 553.0h0.95v0.95h-0.95zM103.3 558.8h0.95v0.95h-0.95zM184.6 518.3h0.95v0.95h-0.95zM104.0 563.6h0.95v0.95h-0.95zM114.5 525.6h0.95v0.95h-0.95zM133.8 561.7h0.95v0.95h-0.95zM183.3 511.2h0.95v0.95h-0.95zM168.3 506.7h0.95v0.95h-0.95zM162.1 508.4h0.95v0.95h-0.95zM124.8 514.3h0.95v0.95h-0.95zM150.0 512.2h0.95v0.95h-0.95zM174.0 525.0h0.95v0.95h-0.95zM168.5 538.4h0.95v0.95h-0.95zM129.5 518.7h0.95v0.95h-0.95zM175.7 536.5h0.95v0.95h-0.95zM148.2 512.1h0.95v0.95h-0.95zM150.1 564.4h0.95v0.95h-0.95zM119.3 564.1h0.95v0.95h-0.95zM146.9 550.9h0.95v0.95h-0.95zM164.0 536.7h0.95v0.95h-0.95zM144.3 512.9h0.95v0.95h-0.95zM142.0 553.0h0.95v0.95h-0.95zM99.1 542.4h0.95v0.95h-0.95zM173.5 509.5h0.95v0.95h-0.95zM135.7 559.8h0.95v0.95h-0.95zM111.3 559.0h0.95v0.95h-0.95zM131.2 518.2h0.95v0.95h-0.95zM130.7 559.9h0.95v0.95h-0.95zM190.8 522.6h0.95v0.95h-0.95zM107.8 558.6h0.95v0.95h-0.95zM116.6 561.3h0.95v0.95h-0.95zM119.6 569.0h0.95v0.95h-0.95zM102.4 556.1h0.95v0.95h-0.95zM106.1 537.2h0.95v0.95h-0.95zM146.4 509.9h0.95v0.95h-0.95zM178.3 512.3h0.95v0.95h-0.95zM141.2 552.7h0.95v0.95h-0.95zM182.3 517.1h0.95v0.95h-0.95zM140.7 512.1h0.95v0.95h-0.95zM141.9 514.2h0.95v0.95h-0.95zM118.8 524.4h0.95v0.95h-0.95zM108.4 527.7h0.95v0.95h-0.95zM102.0 545.6h0.95v0.95h-0.95zM166.3 509.2h0.95v0.95h-0.95zM112.9 517.9h0.95v0.95h-0.95zM98.2 547.3h0.95v0.95h-0.95zM108.9 563.0h0.95v0.95h-0.95zM104.1 534.0h0.95v0.95h-0.95zM126.8 517.6h0.95v0.95h-0.95zM179.7 514.8h0.95v0.95h-0.95zM132.9 557.6h0.95v0.95h-0.95zM98.4 529.8h0.95v0.95h-0.95zM142.3 513.1h0.95v0.95h-0.95zM164.1 538.8h0.95v0.95h-0.95zM143.7 553.9h0.95v0.95h-0.95zM140.6 554.4h0.95v0.95h-0.95zM110.3 560.0h0.95v0.95h-0.95zM96.9 553.1h0.95v0.95h-0.95zM93.3 556.8h0.95v0.95h-0.95zM141.7 514.5h0.95v0.95h-0.95zM182.4 518.4h0.95v0.95h-0.95zM153.4 511.2h0.95v0.95h-0.95zM128.0 561.8h0.95v0.95h-0.95zM142.6 562.1h0.95v0.95h-0.95zM111.6 530.5h0.95v0.95h-0.95zM101.6 557.1h0.95v0.95h-0.95zM179.1 538.5h0.95v0.95h-0.95zM110.9 560.0h0.95v0.95h-0.95zM102.8 559.0h0.95v0.95h-0.95zM180.1 513.4h0.95v0.95h-0.95zM120.8 562.0h0.95v0.95h-0.95zM107.9 530.9h0.95v0.95h-0.95zM173.2 524.5h0.95v0.95h-0.95zM101.2 541.7h0.95v0.95h-0.95zM182.3 523.0h0.95v0.95h-0.95zM183.1 526.8h0.95v0.95h-0.95zM164.6 538.1h0.95v0.95h-0.95zM109.2 559.2h0.95v0.95h-0.95zM140.6 511.0h0.95v0.95h-0.95zM105.2 535.2h0.95v0.95h-0.95zM138.3 555.4h0.95v0.95h-0.95zM135.5 515.8h0.95v0.95h-0.95zM186.2 513.9h0.95v0.95h-0.95zM129.9 509.5h0.95v0.95h-0.95zM133.3 514.6h0.95v0.95h-0.95zM120.7 523.4h0.95v0.95h-0.95zM169.6 529.6h0.95v0.95h-0.95zM146.2 503.7h0.95v0.95h-0.95zM113.7 527.3h0.95v0.95h-0.95zM173.2 539.5h0.95v0.95h-0.95zM144.3 555.0h0.95v0.95h-0.95zM175.0 509.6h0.95v0.95h-0.95zM142.7 553.4h0.95v0.95h-0.95zM105.3 563.0h0.95v0.95h-0.95zM162.5 538.2h0.95v0.95h-0.95zM124.5 565.9h0.95v0.95h-0.95zM129.3 564.6h0.95v0.95h-0.95zM180.1 510.5h0.95v0.95h-0.95zM144.1 553.2h0.95v0.95h-0.95zM178.8 513.3h0.95v0.95h-0.95zM133.5 562.8h0.95v0.95h-0.95zM170.3 528.3h0.95v0.95h-0.95zM138.1 557.3h0.95v0.95h-0.95zM180.2 496.2h0.95v0.95h-0.95zM107.8 535.2h0.95v0.95h-0.95zM115.8 560.5h0.95v0.95h-0.95zM178.4 528.4h0.95v0.95h-0.95zM179.3 506.8h0.95v0.95h-0.95zM166.4 534.5h0.95v0.95h-0.95zM172.2 509.6h0.95v0.95h-0.95zM120.8 516.2h0.95v0.95h-0.95zM159.3 540.7h0.95v0.95h-0.95zM117.0 519.2h0.95v0.95h-0.95zM130.5 561.0h0.95v0.95h-0.95zM125.5 519.7h0.95v0.95h-0.95zM194.4 505.8h0.95v0.95h-0.95zM175.6 510.5h0.95v0.95h-0.95zM186.8 501.2h0.95v0.95h-0.95zM191.7 488.6h0.95v0.95h-0.95zM176.9 497.8h0.95v0.95h-0.95zM175.6 502.5h0.95v0.95h-0.95zM182.1 499.8h0.95v0.95h-0.95zM182.2 510.2h0.95v0.95h-0.95zM191.7 493.9h0.95v0.95h-0.95zM175.1 490.6h0.95v0.95h-0.95zM169.3 505.8h0.95v0.95h-0.95zM186.1 497.8h0.95v0.95h-0.95zM195.0 496.5h0.95v0.95h-0.95zM179.0 496.5h0.95v0.95h-0.95zM184.0 498.0h0.95v0.95h-0.95zM202.8 489.2h0.95v0.95h-0.95zM175.0 507.3h0.95v0.95h-0.95zM182.7 487.8h0.95v0.95h-0.95zM184.6 501.7h0.95v0.95h-0.95zM187.9 503.6h0.95v0.95h-0.95zM170.8 502.7h0.95v0.95h-0.95zM182.1 490.7h0.95v0.95h-0.95zM175.4 506.0h0.95v0.95h-0.95zM185.4 500.2h0.95v0.95h-0.95zM185.2 494.9h0.95v0.95h-0.95zM185.3 509.1h0.95v0.95h-0.95zM182.8 510.1h0.95v0.95h-0.95zM182.7 510.2h0.95v0.95h-0.95zM199.2 477.6h0.95v0.95h-0.95zM189.3 484.0h0.95v0.95h-0.95zM194.0 478.8h0.95v0.95h-0.95zM180.8 513.5h0.95v0.95h-0.95zM181.7 503.4h0.95v0.95h-0.95zM175.6 508.1h0.95v0.95h-0.95zM181.9 466.7h0.95v0.95h-0.95zM185.4 500.9h0.95v0.95h-0.95zM174.8 507.9h0.95v0.95h-0.95zM187.3 491.3h0.95v0.95h-0.95zM181.3 484.6h0.95v0.95h-0.95zM197.9 502.4h0.95v0.95h-0.95zM192.0 496.6h0.95v0.95h-0.95zM204.5 484.4h0.95v0.95h-0.95zM186.6 504.8h0.95v0.95h-0.95zM179.6 477.7h0.95v0.95h-0.95zM201.5 474.3h0.95v0.95h-0.95zM173.1 502.9h0.95v0.95h-0.95zM195.7 492.8h0.95v0.95h-0.95zM187.2 499.5h0.95v0.95h-0.95zM180.6 508.4h0.95v0.95h-0.95zM181.4 509.8h0.95v0.95h-0.95zM170.1 507.7h0.95v0.95h-0.95zM179.8 508.0h0.95v0.95h-0.95zM183.3 486.8h0.95v0.95h-0.95zM171.2 515.0h0.95v0.95h-0.95zM176.9 507.6h0.95v0.95h-0.95zM190.6 485.7h0.95v0.95h-0.95zM177.5 508.1h0.95v0.95h-0.95zM200.5 478.7h0.95v0.95h-0.95zM193.3 482.4h0.95v0.95h-0.95zM193.9 469.4h0.95v0.95h-0.95zM184.0 505.8h0.95v0.95h-0.95zM185.9 494.0h0.95v0.95h-0.95zM189.3 487.2h0.95v0.95h-0.95zM169.2 515.7h0.95v0.95h-0.95zM194.3 486.1h0.95v0.95h-0.95zM203.2 470.0h0.95v0.95h-0.95zM189.9 482.8h0.95v0.95h-0.95zM185.8 510.3h0.95v0.95h-0.95zM188.7 509.2h0.95v0.95h-0.95zM189.1 463.4h0.95v0.95h-0.95zM175.0 510.8h0.95v0.95h-0.95zM198.4 500.3h0.95v0.95h-0.95zM195.4 498.1h0.95v0.95h-0.95zM199.3 501.9h0.95v0.95h-0.95zM195.6 502.9h0.95v0.95h-0.95zM197.9 500.5h0.95v0.95h-0.95zM196.6 502.8h0.95v0.95h-0.95zM196.2 498.5h0.95v0.95h-0.95zM196.9 501.0h0.95v0.95h-0.95zM192.0 504.3h0.95v0.95h-0.95zM196.1 502.6h0.95v0.95h-0.95zM198.2 502.5h0.95v0.95h-0.95zM192.8 501.3h0.95v0.95h-0.95zM196.6 498.0h0.95v0.95h-0.95zM195.4 504.2h0.95v0.95h-0.95zM198.5 503.3h0.95v0.95h-0.95zM191.5 501.5h0.95v0.95h-0.95z"/>
<path fill="#111" d="M178.7 523.5h0.95v0.95h-0.95zM146.6 513.2h0.95v0.95h-0.95zM128.3 561.6h0.95v0.95h-0.95zM132.3 562.2h0.95v0.95h-0.95zM98.9 556.9h0.95v0.95h-0.95zM130.5 558.8h0.95v0.95h-0.95zM113.1 523.6h0.95v0.95h-0.95zM161.4 509.0h0.95v0.95h-0.95zM169.3 506.9h0.95v0.95h-0.95zM177.2 511.0h0.95v0.95h-0.95zM137.7 556.8h0.95v0.95h-0.95zM139.0 513.5h0.95v0.95h-0.95zM124.4 567.9h0.95v0.95h-0.95zM138.7 555.7h0.95v0.95h-0.95zM101.9 552.5h0.95v0.95h-0.95zM144.1 500.0h0.95v0.95h-0.95zM147.2 507.8h0.95v0.95h-0.95zM173.3 530.8h0.95v0.95h-0.95zM178.0 513.8h0.95v0.95h-0.95zM180.1 509.6h0.95v0.95h-0.95zM111.0 567.5h0.95v0.95h-0.95zM118.5 560.5h0.95v0.95h-0.95zM176.1 539.0h0.95v0.95h-0.95zM174.5 526.9h0.95v0.95h-0.95zM137.7 557.6h0.95v0.95h-0.95zM103.4 540.7h0.95v0.95h-0.95zM156.9 542.7h0.95v0.95h-0.95zM121.8 559.5h0.95v0.95h-0.95zM116.0 566.6h0.95v0.95h-0.95zM125.0 521.4h0.95v0.95h-0.95zM107.3 562.3h0.95v0.95h-0.95zM173.6 507.3h0.95v0.95h-0.95zM103.2 557.4h0.95v0.95h-0.95zM163.2 506.2h0.95v0.95h-0.95zM168.5 536.0h0.95v0.95h-0.95zM166.6 509.6h0.95v0.95h-0.95zM128.2 572.1h0.95v0.95h-0.95zM119.8 570.9h0.95v0.95h-0.95zM180.7 514.0h0.95v0.95h-0.95zM125.2 559.2h0.95v0.95h-0.95zM102.9 554.2h0.95v0.95h-0.95zM171.4 530.2h0.95v0.95h-0.95zM134.9 508.1h0.95v0.95h-0.95zM126.3 566.8h0.95v0.95h-0.95zM105.2 538.4h0.95v0.95h-0.95zM167.1 535.9h0.95v0.95h-0.95zM169.8 507.2h0.95v0.95h-0.95zM179.6 516.6h0.95v0.95h-0.95zM182.0 523.2h0.95v0.95h-0.95zM178.4 519.2h0.95v0.95h-0.95zM165.2 505.4h0.95v0.95h-0.95zM177.0 517.9h0.95v0.95h-0.95zM129.9 557.4h0.95v0.95h-0.95zM164.8 543.0h0.95v0.95h-0.95zM125.5 569.8h0.95v0.95h-0.95zM179.4 510.4h0.95v0.95h-0.95zM138.3 556.9h0.95v0.95h-0.95zM138.2 555.3h0.95v0.95h-0.95zM100.5 539.0h0.95v0.95h-0.95zM131.6 564.9h0.95v0.95h-0.95zM156.8 542.0h0.95v0.95h-0.95zM127.4 559.2h0.95v0.95h-0.95zM178.1 524.1h0.95v0.95h-0.95zM121.2 559.6h0.95v0.95h-0.95zM169.9 506.9h0.95v0.95h-0.95zM170.2 539.9h0.95v0.95h-0.95zM175.8 523.4h0.95v0.95h-0.95zM130.0 518.6h0.95v0.95h-0.95zM144.8 554.9h0.95v0.95h-0.95zM169.3 530.6h0.95v0.95h-0.95zM143.3 553.2h0.95v0.95h-0.95zM122.7 522.4h0.95v0.95h-0.95zM170.1 542.6h0.95v0.95h-0.95zM117.8 523.2h0.95v0.95h-0.95zM148.5 548.2h0.95v0.95h-0.95zM96.3 540.0h0.95v0.95h-0.95zM175.5 521.3h0.95v0.95h-0.95zM126.4 515.4h0.95v0.95h-0.95zM103.1 558.4h0.95v0.95h-0.95zM113.0 560.2h0.95v0.95h-0.95zM100.2 548.1h0.95v0.95h-0.95zM103.3 565.0h0.95v0.95h-0.95zM181.6 516.4h0.95v0.95h-0.95zM168.5 500.0h0.95v0.95h-0.95zM173.1 506.0h0.95v0.95h-0.95zM167.0 534.1h0.95v0.95h-0.95zM152.1 508.3h0.95v0.95h-0.95zM128.6 559.0h0.95v0.95h-0.95zM180.8 514.4h0.95v0.95h-0.95zM168.2 507.7h0.95v0.95h-0.95zM148.1 549.2h0.95v0.95h-0.95zM99.1 550.3h0.95v0.95h-0.95zM136.9 557.1h0.95v0.95h-0.95zM128.7 564.4h0.95v0.95h-0.95zM140.7 559.6h0.95v0.95h-0.95zM169.0 533.4h0.95v0.95h-0.95zM164.3 536.3h0.95v0.95h-0.95zM164.8 504.4h0.95v0.95h-0.95zM172.5 525.0h0.95v0.95h-0.95zM145.7 550.2h0.95v0.95h-0.95zM108.1 531.5h0.95v0.95h-0.95zM124.8 560.6h0.95v0.95h-0.95zM92.0 563.1h0.95v0.95h-0.95zM143.8 557.0h0.95v0.95h-0.95zM177.4 509.8h0.95v0.95h-0.95zM124.6 517.9h0.95v0.95h-0.95zM105.8 560.5h0.95v0.95h-0.95zM158.0 542.9h0.95v0.95h-0.95zM89.1 567.1h0.95v0.95h-0.95zM108.5 558.3h0.95v0.95h-0.95zM162.3 507.4h0.95v0.95h-0.95zM185.5 532.8h0.95v0.95h-0.95zM182.4 517.8h0.95v0.95h-0.95zM141.7 514.3h0.95v0.95h-0.95zM181.9 526.4h0.95v0.95h-0.95zM174.9 534.5h0.95v0.95h-0.95zM100.3 545.5h0.95v0.95h-0.95zM138.1 504.7h0.95v0.95h-0.95zM118.8 559.3h0.95v0.95h-0.95zM161.6 509.9h0.95v0.95h-0.95zM176.6 529.4h0.95v0.95h-0.95zM161.4 510.3h0.95v0.95h-0.95zM149.1 550.8h0.95v0.95h-0.95zM96.3 551.1h0.95v0.95h-0.95zM167.3 543.4h0.95v0.95h-0.95zM129.2 511.4h0.95v0.95h-0.95zM161.2 543.1h0.95v0.95h-0.95zM163.5 538.6h0.95v0.95h-0.95zM131.0 561.3h0.95v0.95h-0.95zM119.5 560.0h0.95v0.95h-0.95zM122.1 509.4h0.95v0.95h-0.95zM106.8 565.7h0.95v0.95h-0.95zM130.2 557.8h0.95v0.95h-0.95zM173.0 533.0h0.95v0.95h-0.95zM174.5 528.5h0.95v0.95h-0.95zM95.2 543.6h0.95v0.95h-0.95zM184.0 514.0h0.95v0.95h-0.95zM141.7 553.0h0.95v0.95h-0.95zM171.4 531.6h0.95v0.95h-0.95zM123.8 521.0h0.95v0.95h-0.95zM114.3 522.2h0.95v0.95h-0.95zM156.7 558.4h0.95v0.95h-0.95zM106.8 557.8h0.95v0.95h-0.95zM104.7 557.0h0.95v0.95h-0.95zM132.2 510.9h0.95v0.95h-0.95zM110.0 561.0h0.95v0.95h-0.95zM178.4 515.8h0.95v0.95h-0.95zM155.4 507.8h0.95v0.95h-0.95zM101.6 546.2h0.95v0.95h-0.95zM169.3 533.2h0.95v0.95h-0.95zM130.4 517.6h0.95v0.95h-0.95zM159.2 510.7h0.95v0.95h-0.95zM152.2 508.1h0.95v0.95h-0.95zM177.7 515.9h0.95v0.95h-0.95zM124.4 519.1h0.95v0.95h-0.95zM124.2 559.7h0.95v0.95h-0.95zM123.0 564.1h0.95v0.95h-0.95zM95.6 541.1h0.95v0.95h-0.95zM144.0 512.8h0.95v0.95h-0.95zM149.4 549.4h0.95v0.95h-0.95zM145.2 512.4h0.95v0.95h-0.95zM142.5 555.5h0.95v0.95h-0.95zM125.2 516.6h0.95v0.95h-0.95zM167.3 532.2h0.95v0.95h-0.95zM142.7 514.2h0.95v0.95h-0.95zM163.8 538.8h0.95v0.95h-0.95zM169.7 502.6h0.95v0.95h-0.95zM115.5 559.7h0.95v0.95h-0.95zM135.2 516.9h0.95v0.95h-0.95zM169.8 534.4h0.95v0.95h-0.95zM102.0 544.9h0.95v0.95h-0.95zM130.1 518.4h0.95v0.95h-0.95zM127.5 519.2h0.95v0.95h-0.95zM130.1 563.7h0.95v0.95h-0.95zM145.1 553.1h0.95v0.95h-0.95zM92.7 546.2h0.95v0.95h-0.95zM152.0 547.7h0.95v0.95h-0.95zM142.8 554.9h0.95v0.95h-0.95zM183.6 507.3h0.95v0.95h-0.95zM169.2 532.2h0.95v0.95h-0.95zM172.6 506.4h0.95v0.95h-0.95zM142.1 553.9h0.95v0.95h-0.95zM179.9 519.4h0.95v0.95h-0.95zM105.2 569.2h0.95v0.95h-0.95zM159.4 504.2h0.95v0.95h-0.95zM108.3 531.7h0.95v0.95h-0.95zM89.1 556.0h0.95v0.95h-0.95zM136.2 560.8h0.95v0.95h-0.95zM107.0 522.4h0.95v0.95h-0.95zM126.4 517.4h0.95v0.95h-0.95zM170.7 507.0h0.95v0.95h-0.95zM170.3 543.7h0.95v0.95h-0.95zM152.6 508.6h0.95v0.95h-0.95zM142.5 553.8h0.95v0.95h-0.95zM88.2 545.6h0.95v0.95h-0.95zM159.7 542.6h0.95v0.95h-0.95zM93.4 546.6h0.95v0.95h-0.95zM166.8 499.6h0.95v0.95h-0.95zM171.2 527.9h0.95v0.95h-0.95zM147.6 554.2h0.95v0.95h-0.95zM98.7 551.8h0.95v0.95h-0.95zM130.0 564.1h0.95v0.95h-0.95zM127.4 560.6h0.95v0.95h-0.95zM167.5 539.0h0.95v0.95h-0.95zM124.4 567.1h0.95v0.95h-0.95zM176.2 510.0h0.95v0.95h-0.95zM101.1 554.4h0.95v0.95h-0.95zM183.5 516.8h0.95v0.95h-0.95zM130.4 515.2h0.95v0.95h-0.95zM164.6 503.2h0.95v0.95h-0.95zM95.3 550.6h0.95v0.95h-0.95zM107.1 558.8h0.95v0.95h-0.95zM179.4 514.7h0.95v0.95h-0.95zM95.3 548.3h0.95v0.95h-0.95zM152.2 511.1h0.95v0.95h-0.95zM105.5 537.4h0.95v0.95h-0.95zM110.2 558.6h0.95v0.95h-0.95zM124.8 561.1h0.95v0.95h-0.95zM169.7 530.2h0.95v0.95h-0.95zM163.5 501.7h0.95v0.95h-0.95zM172.1 509.2h0.95v0.95h-0.95zM177.0 503.9h0.95v0.95h-0.95zM107.8 563.0h0.95v0.95h-0.95zM104.0 537.8h0.95v0.95h-0.95zM106.6 533.0h0.95v0.95h-0.95zM180.4 517.1h0.95v0.95h-0.95zM179.9 517.7h0.95v0.95h-0.95zM136.7 565.4h0.95v0.95h-0.95zM144.3 551.7h0.95v0.95h-0.95zM103.5 560.6h0.95v0.95h-0.95zM141.0 552.5h0.95v0.95h-0.95zM170.3 545.7h0.95v0.95h-0.95zM162.9 503.2h0.95v0.95h-0.95zM136.7 557.0h0.95v0.95h-0.95zM113.2 528.4h0.95v0.95h-0.95zM110.0 558.5h0.95v0.95h-0.95zM109.3 531.9h0.95v0.95h-0.95zM131.0 515.9h0.95v0.95h-0.95zM100.6 547.5h0.95v0.95h-0.95zM173.4 526.6h0.95v0.95h-0.95zM100.1 554.3h0.95v0.95h-0.95zM134.2 514.6h0.95v0.95h-0.95zM95.2 552.1h0.95v0.95h-0.95zM180.0 511.3h0.95v0.95h-0.95zM161.6 506.7h0.95v0.95h-0.95zM115.8 563.8h0.95v0.95h-0.95zM115.2 563.4h0.95v0.95h-0.95zM173.5 525.0h0.95v0.95h-0.95zM118.6 564.5h0.95v0.95h-0.95zM160.9 538.7h0.95v0.95h-0.95zM107.9 534.8h0.95v0.95h-0.95zM118.2 559.7h0.95v0.95h-0.95zM92.5 549.8h0.95v0.95h-0.95zM177.1 534.3h0.95v0.95h-0.95zM180.7 520.4h0.95v0.95h-0.95zM175.8 527.2h0.95v0.95h-0.95zM107.7 562.0h0.95v0.95h-0.95zM149.7 550.2h0.95v0.95h-0.95zM103.0 539.0h0.95v0.95h-0.95zM178.4 517.8h0.95v0.95h-0.95zM96.5 550.8h0.95v0.95h-0.95zM106.2 529.2h0.95v0.95h-0.95zM162.6 540.4h0.95v0.95h-0.95zM147.7 554.2h0.95v0.95h-0.95zM127.9 560.2h0.95v0.95h-0.95zM151.2 505.8h0.95v0.95h-0.95zM138.2 515.8h0.95v0.95h-0.95zM103.7 538.0h0.95v0.95h-0.95zM119.3 560.6h0.95v0.95h-0.95zM135.7 556.3h0.95v0.95h-0.95zM107.4 558.3h0.95v0.95h-0.95zM166.7 532.6h0.95v0.95h-0.95zM181.5 516.9h0.95v0.95h-0.95zM160.5 543.6h0.95v0.95h-0.95zM157.4 510.7h0.95v0.95h-0.95zM176.8 527.6h0.95v0.95h-0.95zM111.4 565.1h0.95v0.95h-0.95zM104.9 557.1h0.95v0.95h-0.95zM164.9 509.6h0.95v0.95h-0.95zM144.2 552.0h0.95v0.95h-0.95zM118.9 525.1h0.95v0.95h-0.95zM163.6 509.0h0.95v0.95h-0.95zM118.9 520.8h0.95v0.95h-0.95zM172.2 507.2h0.95v0.95h-0.95zM163.0 537.5h0.95v0.95h-0.95zM113.8 527.1h0.95v0.95h-0.95zM148.2 512.5h0.95v0.95h-0.95zM149.2 512.0h0.95v0.95h-0.95zM130.1 557.8h0.95v0.95h-0.95zM151.6 560.0h0.95v0.95h-0.95zM113.7 524.0h0.95v0.95h-0.95zM149.3 511.3h0.95v0.95h-0.95zM182.5 533.2h0.95v0.95h-0.95zM131.3 512.7h0.95v0.95h-0.95zM125.8 519.3h0.95v0.95h-0.95zM151.0 559.4h0.95v0.95h-0.95zM174.4 503.8h0.95v0.95h-0.95zM169.8 529.3h0.95v0.95h-0.95zM139.8 512.9h0.95v0.95h-0.95zM107.1 558.4h0.95v0.95h-0.95zM120.1 523.8h0.95v0.95h-0.95zM115.4 563.5h0.95v0.95h-0.95zM108.3 533.4h0.95v0.95h-0.95zM110.7 560.6h0.95v0.95h-0.95zM131.4 514.3h0.95v0.95h-0.95zM168.1 546.1h0.95v0.95h-0.95zM106.0 557.9h0.95v0.95h-0.95zM178.6 505.0h0.95v0.95h-0.95zM118.0 559.9h0.95v0.95h-0.95zM175.0 534.4h0.95v0.95h-0.95zM168.5 532.2h0.95v0.95h-0.95zM119.5 568.4h0.95v0.95h-0.95zM128.0 558.6h0.95v0.95h-0.95zM160.8 509.7h0.95v0.95h-0.95zM166.6 532.6h0.95v0.95h-0.95zM175.1 505.3h0.95v0.95h-0.95z"/>
<path fill="#aaa" d="M204.0 474.9h0.95v0.95h-0.95zM183.9 502.7h0.95v0.95h-0.95zM177.8 506.1h0.95v0.95h-0.95zM202.1 485.6h0.95v0.95h-0.95zM198.6 466.1h0.95v0.95h-0.95zM193.1 482.1h0.95v0.95h-0.95zM183.9 490.9h0.95v0.95h-0.95zM184.3 514.1h0.95v0.95h-0.95zM201.8 494.5h0.95v0.95h-0.95zM195.6 485.0h0.95v0.95h-0.95zM197.4 482.3h0.95v0.95h-0.95zM187.5 502.1h0.95v0.95h-0.95zM191.8 497.6h0.95v0.95h-0.95zM172.9 506.1h0.95v0.95h-0.95zM186.5 505.5h0.95v0.95h-0.95zM189.9 485.7h0.95v0.95h-0.95zM177.5 504.6h0.95v0.95h-0.95zM177.1 480.6h0.95v0.95h-0.95zM174.8 507.1h0.95v0.95h-0.95zM193.6 483.3h0.95v0.95h-0.95zM176.3 510.6h0.95v0.95h-0.95zM180.0 504.2h0.95v0.95h-0.95zM193.7 469.6h0.95v0.95h-0.95zM187.5 488.0h0.95v0.95h-0.95zM188.2 494.6h0.95v0.95h-0.95zM197.9 493.9h0.95v0.95h-0.95zM192.1 491.7h0.95v0.95h-0.95zM184.0 489.2h0.95v0.95h-0.95zM183.9 510.2h0.95v0.95h-0.95zM178.4 507.3h0.95v0.95h-0.95zM176.2 501.1h0.95v0.95h-0.95zM178.4 514.0h0.95v0.95h-0.95zM198.7 495.3h0.95v0.95h-0.95zM180.9 507.7h0.95v0.95h-0.95zM196.4 484.5h0.95v0.95h-0.95zM179.6 502.9h0.95v0.95h-0.95zM185.9 497.5h0.95v0.95h-0.95zM174.5 497.9h0.95v0.95h-0.95zM202.2 474.7h0.95v0.95h-0.95zM179.6 495.1h0.95v0.95h-0.95zM186.3 480.0h0.95v0.95h-0.95zM189.4 463.2h0.95v0.95h-0.95z"/>
<path d="M100.5,550.0 C100.5,547.3 102.1,543.3 104.0,540.0 C105.9,536.7 109.0,532.8 112.0,530.0 C115.0,527.2 118.7,525.0 122.0,523.0 C125.3,521.0 128.7,519.4 132.0,518.0 C135.3,516.6 138.7,515.5 142.0,514.5 C145.3,513.5 148.7,512.7 152.0,512.0 C155.3,511.3 158.8,510.7 162.0,510.3 C165.2,509.9 168.5,509.5 171.0,509.5 C173.5,509.5 175.8,509.7 177.0,510.5 C178.2,511.3 178.5,512.4 178.0,514.5 C177.5,516.6 175.8,520.1 174.0,523.0 C172.2,525.9 169.7,529.0 167.0,532.0 C164.3,535.0 161.2,538.2 158.0,541.0 C154.8,543.8 151.5,546.2 148.0,548.5 C144.5,550.8 140.8,552.8 137.0,554.5 C133.2,556.2 129.0,558.2 125.0,559.0 C121.0,559.8 116.5,560.0 113.0,559.5 C109.5,559.0 106.1,557.6 104.0,556.0 C101.9,554.4 100.5,552.7 100.5,550.0Z" fill="#fff" stroke="none" stroke-width="1"/>
<path d="M118.0,553.5 C117.3,551.5 117.1,547.9 117.3,545.0 C117.5,542.1 118.0,538.8 119.3,536.0 C120.6,533.2 122.8,530.3 125.0,528.0 C127.2,525.7 130.0,523.8 132.5,522.0 C135.0,520.2 137.1,518.8 140.0,517.5 C142.9,516.2 146.7,515.0 150.0,514.0 C153.3,513.0 156.7,512.4 160.0,511.8 C163.3,511.2 167.4,510.6 170.0,510.5 C172.6,510.4 174.6,510.8 175.8,511.5 C177.0,512.2 177.5,512.6 177.0,514.5 C176.5,516.4 174.8,520.1 173.0,523.0 C171.2,525.9 168.7,529.1 166.0,532.0 C163.3,534.9 160.2,537.8 157.0,540.5 C153.8,543.2 150.3,545.8 147.0,548.0 C143.7,550.2 140.2,552.0 137.0,553.5 C133.8,555.0 130.6,556.6 128.0,557.2 C125.4,557.8 123.2,557.6 121.5,557.0 C119.8,556.4 118.7,555.5 118.0,553.5Z" fill="#151515" stroke="none" stroke-width="1"/>
<ellipse cx="123" cy="547" rx="6" ry="9" fill="#666" opacity="0.3" transform="rotate(35 123 547)"/>
<path d="M100.5,550.0 C100.5,547.3 102.1,543.3 104.0,540.0 C105.9,536.7 109.0,532.8 112.0,530.0 C115.0,527.2 118.7,525.0 122.0,523.0 C125.3,521.0 128.7,519.4 132.0,518.0 C135.3,516.6 138.7,515.5 142.0,514.5 C145.3,513.5 148.7,512.7 152.0,512.0 C155.3,511.3 158.8,510.7 162.0,510.3 C165.2,509.9 168.5,509.5 171.0,509.5 C173.5,509.5 175.8,509.7 177.0,510.5 C178.2,511.3 178.5,512.4 178.0,514.5 C177.5,516.6 175.8,520.1 174.0,523.0 C172.2,525.9 169.7,529.0 167.0,532.0 C164.3,535.0 161.2,538.2 158.0,541.0 C154.8,543.8 151.5,546.2 148.0,548.5 C144.5,550.8 140.8,552.8 137.0,554.5 C133.2,556.2 129.0,558.2 125.0,559.0 C121.0,559.8 116.5,560.0 113.0,559.5 C109.5,559.0 106.1,557.6 104.0,556.0 C101.9,554.4 100.5,552.7 100.5,550.0Z" fill="none" stroke="#444" stroke-width="0.8"/>
<path fill="#666" d="M142.7 526.4h0.9v0.9h-0.9zM134.5 549.3h0.9v0.9h-0.9zM140.0 527.5h0.9v0.9h-0.9zM124.0 532.2h0.9v0.9h-0.9zM164.5 523.5h0.9v0.9h-0.9zM164.2 521.6h0.9v0.9h-0.9zM150.8 521.5h0.9v0.9h-0.9zM168.3 511.6h0.9v0.9h-0.9zM152.7 534.1h0.9v0.9h-0.9zM126.4 548.5h0.9v0.9h-0.9zM153.6 540.0h0.9v0.9h-0.9zM142.3 526.9h0.9v0.9h-0.9zM158.4 522.5h0.9v0.9h-0.9zM127.9 553.3h0.9v0.9h-0.9zM123.1 539.9h0.9v0.9h-0.9zM120.4 547.9h0.9v0.9h-0.9zM135.6 534.6h0.9v0.9h-0.9zM158.0 525.8h0.9v0.9h-0.9zM158.0 532.8h0.9v0.9h-0.9zM142.0 545.8h0.9v0.9h-0.9zM175.2 517.2h0.9v0.9h-0.9zM131.8 531.2h0.9v0.9h-0.9zM151.1 515.9h0.9v0.9h-0.9zM156.0 533.9h0.9v0.9h-0.9zM122.8 533.4h0.9v0.9h-0.9zM149.2 538.4h0.9v0.9h-0.9zM125.8 545.5h0.9v0.9h-0.9zM127.0 549.5h0.9v0.9h-0.9zM163.0 520.5h0.9v0.9h-0.9zM140.5 541.2h0.9v0.9h-0.9zM145.9 523.8h0.9v0.9h-0.9zM153.2 541.4h0.9v0.9h-0.9zM134.1 538.7h0.9v0.9h-0.9zM140.6 525.7h0.9v0.9h-0.9zM129.2 534.9h0.9v0.9h-0.9zM147.8 518.0h0.9v0.9h-0.9zM165.5 524.9h0.9v0.9h-0.9zM168.1 519.8h0.9v0.9h-0.9zM128.0 526.0h0.9v0.9h-0.9zM154.5 538.0h0.9v0.9h-0.9z"/>
<path fill="#444" d="M135.0 530.4h0.9v0.9h-0.9zM148.7 516.1h0.9v0.9h-0.9zM148.8 516.0h0.9v0.9h-0.9zM150.5 545.3h0.9v0.9h-0.9zM150.0 535.8h0.9v0.9h-0.9zM129.3 536.6h0.9v0.9h-0.9zM145.4 515.9h0.9v0.9h-0.9zM142.0 539.9h0.9v0.9h-0.9zM146.3 521.2h0.9v0.9h-0.9zM173.1 518.0h0.9v0.9h-0.9zM174.8 517.4h0.9v0.9h-0.9zM126.5 536.9h0.9v0.9h-0.9zM174.3 513.3h0.9v0.9h-0.9zM131.7 540.9h0.9v0.9h-0.9zM161.4 517.5h0.9v0.9h-0.9zM145.7 529.4h0.9v0.9h-0.9zM157.1 524.0h0.9v0.9h-0.9zM143.6 548.8h0.9v0.9h-0.9zM144.6 533.6h0.9v0.9h-0.9zM142.9 527.7h0.9v0.9h-0.9zM164.1 527.1h0.9v0.9h-0.9zM142.5 539.2h0.9v0.9h-0.9zM150.7 519.9h0.9v0.9h-0.9zM136.8 552.5h0.9v0.9h-0.9zM167.7 528.2h0.9v0.9h-0.9zM135.9 527.1h0.9v0.9h-0.9zM172.4 513.0h0.9v0.9h-0.9zM138.0 532.3h0.9v0.9h-0.9zM162.6 519.7h0.9v0.9h-0.9zM156.0 535.2h0.9v0.9h-0.9z"/>
<path fill="#aaa" d="M148.4 537.1h0.9v0.9h-0.9zM171.0 519.0h0.9v0.9h-0.9zM126.3 551.7h0.9v0.9h-0.9zM157.2 512.9h0.9v0.9h-0.9zM167.3 518.9h0.9v0.9h-0.9zM120.4 540.8h0.9v0.9h-0.9zM129.1 530.2h0.9v0.9h-0.9zM134.7 544.4h0.9v0.9h-0.9zM129.9 532.8h0.9v0.9h-0.9zM133.0 549.1h0.9v0.9h-0.9zM158.4 531.8h0.9v0.9h-0.9zM122.9 535.3h0.9v0.9h-0.9zM171.2 516.7h0.9v0.9h-0.9zM155.3 537.2h0.9v0.9h-0.9zM169.6 525.3h0.9v0.9h-0.9zM133.4 530.1h0.9v0.9h-0.9zM126.3 530.8h0.9v0.9h-0.9zM167.4 512.6h0.9v0.9h-0.9zM124.1 551.9h0.9v0.9h-0.9zM129.9 545.0h0.9v0.9h-0.9zM156.9 536.8h0.9v0.9h-0.9zM122.0 541.4h0.9v0.9h-0.9zM122.1 553.7h0.9v0.9h-0.9zM147.0 524.0h0.9v0.9h-0.9zM141.4 530.7h0.9v0.9h-0.9zM160.2 518.0h0.9v0.9h-0.9zM171.2 522.9h0.9v0.9h-0.9z"/>
<path fill="#888" d="M145.0 535.2h0.9v0.9h-0.9zM163.6 524.5h0.9v0.9h-0.9zM164.1 531.9h0.9v0.9h-0.9zM124.7 537.7h0.9v0.9h-0.9zM147.6 523.2h0.9v0.9h-0.9zM156.0 527.9h0.9v0.9h-0.9zM128.3 544.3h0.9v0.9h-0.9zM147.7 518.3h0.9v0.9h-0.9zM118.7 539.5h0.9v0.9h-0.9zM159.0 518.4h0.9v0.9h-0.9zM173.8 513.7h0.9v0.9h-0.9zM126.4 546.6h0.9v0.9h-0.9zM134.5 527.4h0.9v0.9h-0.9zM122.3 552.8h0.9v0.9h-0.9zM140.4 517.8h0.9v0.9h-0.9zM145.5 547.2h0.9v0.9h-0.9zM130.5 553.4h0.9v0.9h-0.9zM129.5 526.4h0.9v0.9h-0.9zM136.5 530.4h0.9v0.9h-0.9zM152.8 521.3h0.9v0.9h-0.9zM136.8 522.9h0.9v0.9h-0.9zM139.1 547.0h0.9v0.9h-0.9zM128.2 531.1h0.9v0.9h-0.9zM171.1 517.4h0.9v0.9h-0.9zM137.8 541.8h0.9v0.9h-0.9z"/>
<path d="M113.0,553.0 C113.2,551.3 113.1,546.2 114.0,543.0 C114.9,539.8 116.5,536.8 118.5,534.0 C120.5,531.2 122.9,528.8 126.0,526.5 C129.1,524.2 135.2,521.1 137.0,520.0" fill="none" stroke="#777" stroke-width="0.7"/>
<path d="M108.5,552.0 C108.8,550.2 108.8,544.5 110.0,541.0 C111.2,537.5 113.5,533.8 116.0,531.0 C118.5,528.2 121.7,526.2 125.0,524.0 C128.3,521.8 134.2,519.0 136.0,518.0" fill="none" stroke="#888" stroke-width="0.7"/>
<path d="M112.0,555.0 C112.8,555.5 114.7,557.5 117.0,558.0 C119.3,558.5 122.7,558.7 126.0,558.0 C129.3,557.3 135.2,554.7 137.0,554.0" fill="none" stroke="#777" stroke-width="0.7"/>
<line x1="51.70" y1="433.50" x2="216.20" y2="433.50" stroke="#555" stroke-width="1.1"/>
<line x1="216.20" y1="433.50" x2="216.20" y2="588.00" stroke="#333" stroke-width="1.1"/>
<line x1="51.70" y1="433.00" x2="51.70" y2="588.70" stroke="#222" stroke-width="1.4"/>
<line x1="51.00" y1="588.00" x2="216.20" y2="588.00" stroke="#222" stroke-width="1.4"/>
<line x1="49.70" y1="471.23" x2="51.70" y2="471.23" stroke="#333" stroke-width="0.8"/>
<line x1="49.70" y1="465.23" x2="51.70" y2="465.23" stroke="#333" stroke-width="0.8"/>
<line x1="49.70" y1="460.97" x2="51.70" y2="460.97" stroke="#333" stroke-width="0.8"/>
<line x1="49.70" y1="457.67" x2="51.70" y2="457.67" stroke="#333" stroke-width="0.8"/>
<line x1="49.70" y1="454.97" x2="51.70" y2="454.97" stroke="#333" stroke-width="0.8"/>
<line x1="49.70" y1="452.68" x2="51.70" y2="452.68" stroke="#333" stroke-width="0.8"/>
<line x1="49.70" y1="450.70" x2="51.70" y2="450.70" stroke="#333" stroke-width="0.8"/>
<line x1="49.70" y1="448.96" x2="51.70" y2="448.96" stroke="#333" stroke-width="0.8"/>
<line x1="49.70" y1="506.17" x2="51.70" y2="506.17" stroke="#333" stroke-width="0.8"/>
<line x1="49.70" y1="499.96" x2="51.70" y2="499.96" stroke="#333" stroke-width="0.8"/>
<line x1="49.70" y1="495.55" x2="51.70" y2="495.55" stroke="#333" stroke-width="0.8"/>
<line x1="49.70" y1="492.13" x2="51.70" y2="492.13" stroke="#333" stroke-width="0.8"/>
<line x1="49.70" y1="489.33" x2="51.70" y2="489.33" stroke="#333" stroke-width="0.8"/>
<line x1="49.70" y1="486.97" x2="51.70" y2="486.97" stroke="#333" stroke-width="0.8"/>
<line x1="49.70" y1="484.92" x2="51.70" y2="484.92" stroke="#333" stroke-width="0.8"/>
<line x1="49.70" y1="483.12" x2="51.70" y2="483.12" stroke="#333" stroke-width="0.8"/>
<line x1="49.70" y1="542.94" x2="51.70" y2="542.94" stroke="#333" stroke-width="0.8"/>
<line x1="49.70" y1="536.36" x2="51.70" y2="536.36" stroke="#333" stroke-width="0.8"/>
<line x1="49.70" y1="531.68" x2="51.70" y2="531.68" stroke="#333" stroke-width="0.8"/>
<line x1="49.70" y1="528.06" x2="51.70" y2="528.06" stroke="#333" stroke-width="0.8"/>
<line x1="49.70" y1="525.10" x2="51.70" y2="525.10" stroke="#333" stroke-width="0.8"/>
<line x1="49.70" y1="522.59" x2="51.70" y2="522.59" stroke="#333" stroke-width="0.8"/>
<line x1="49.70" y1="520.42" x2="51.70" y2="520.42" stroke="#333" stroke-width="0.8"/>
<line x1="49.70" y1="518.51" x2="51.70" y2="518.51" stroke="#333" stroke-width="0.8"/>
<line x1="49.70" y1="437.13" x2="51.70" y2="437.13" stroke="#333" stroke-width="0.8"/>
<line x1="49.70" y1="559.30" x2="51.70" y2="559.30" stroke="#333" stroke-width="0.8"/>
<line x1="49.70" y1="563.55" x2="51.70" y2="563.55" stroke="#333" stroke-width="0.8"/>
<line x1="49.70" y1="566.95" x2="51.70" y2="566.95" stroke="#333" stroke-width="0.8"/>
<line x1="49.70" y1="576.30" x2="51.70" y2="576.30" stroke="#333" stroke-width="0.8"/>
<line x1="49.70" y1="580.55" x2="51.70" y2="580.55" stroke="#333" stroke-width="0.8"/>
<line x1="49.70" y1="583.95" x2="51.70" y2="583.95" stroke="#333" stroke-width="0.8"/>
<line x1="47.20" y1="447.40" x2="51.70" y2="447.40" stroke="#222" stroke-width="1"/>
<line x1="47.20" y1="481.50" x2="51.70" y2="481.50" stroke="#222" stroke-width="1"/>
<line x1="47.20" y1="516.80" x2="51.70" y2="516.80" stroke="#222" stroke-width="1"/>
<line x1="47.20" y1="554.20" x2="51.70" y2="554.20" stroke="#222" stroke-width="1"/>
<line x1="47.20" y1="571.20" x2="51.70" y2="571.20" stroke="#222" stroke-width="1"/>
<text x="35.30" y="452.70" font-size="9.2" text-anchor="end" fill="#1c1c1c">10</text>
<text x="39.80" y="447.60" font-size="9.2" text-anchor="start" fill="#1c1c1c">5</text>
<text x="35.30" y="486.80" font-size="9.2" text-anchor="end" fill="#1c1c1c">10</text>
<text x="39.80" y="481.70" font-size="9.2" text-anchor="start" fill="#1c1c1c">4</text>
<text x="35.30" y="522.10" font-size="9.2" text-anchor="end" fill="#1c1c1c">10</text>
<text x="39.80" y="517.00" font-size="9.2" text-anchor="start" fill="#1c1c1c">3</text>
<text x="35.30" y="559.50" font-size="9.2" text-anchor="end" fill="#1c1c1c">10</text>
<text x="39.80" y="554.40" font-size="9.2" text-anchor="start" fill="#1c1c1c">2</text>
<text x="43.40" y="575.20" font-size="9.2" text-anchor="end" fill="#1c1c1c">0</text>
<line x1="98.91" y1="588.00" x2="98.91" y2="590.00" stroke="#333" stroke-width="0.8"/>
<line x1="105.76" y1="588.00" x2="105.76" y2="590.00" stroke="#333" stroke-width="0.8"/>
<line x1="110.62" y1="588.00" x2="110.62" y2="590.00" stroke="#333" stroke-width="0.8"/>
<line x1="114.39" y1="588.00" x2="114.39" y2="590.00" stroke="#333" stroke-width="0.8"/>
<line x1="117.47" y1="588.00" x2="117.47" y2="590.00" stroke="#333" stroke-width="0.8"/>
<line x1="120.07" y1="588.00" x2="120.07" y2="590.00" stroke="#333" stroke-width="0.8"/>
<line x1="122.33" y1="588.00" x2="122.33" y2="590.00" stroke="#333" stroke-width="0.8"/>
<line x1="124.32" y1="588.00" x2="124.32" y2="590.00" stroke="#333" stroke-width="0.8"/>
<line x1="137.42" y1="588.00" x2="137.42" y2="590.00" stroke="#333" stroke-width="0.8"/>
<line x1="144.04" y1="588.00" x2="144.04" y2="590.00" stroke="#333" stroke-width="0.8"/>
<line x1="148.74" y1="588.00" x2="148.74" y2="590.00" stroke="#333" stroke-width="0.8"/>
<line x1="152.38" y1="588.00" x2="152.38" y2="590.00" stroke="#333" stroke-width="0.8"/>
<line x1="155.36" y1="588.00" x2="155.36" y2="590.00" stroke="#333" stroke-width="0.8"/>
<line x1="157.88" y1="588.00" x2="157.88" y2="590.00" stroke="#333" stroke-width="0.8"/>
<line x1="160.06" y1="588.00" x2="160.06" y2="590.00" stroke="#333" stroke-width="0.8"/>
<line x1="161.98" y1="588.00" x2="161.98" y2="590.00" stroke="#333" stroke-width="0.8"/>
<line x1="174.90" y1="588.00" x2="174.90" y2="590.00" stroke="#333" stroke-width="0.8"/>
<line x1="181.45" y1="588.00" x2="181.45" y2="590.00" stroke="#333" stroke-width="0.8"/>
<line x1="186.10" y1="588.00" x2="186.10" y2="590.00" stroke="#333" stroke-width="0.8"/>
<line x1="189.70" y1="588.00" x2="189.70" y2="590.00" stroke="#333" stroke-width="0.8"/>
<line x1="192.65" y1="588.00" x2="192.65" y2="590.00" stroke="#333" stroke-width="0.8"/>
<line x1="195.14" y1="588.00" x2="195.14" y2="590.00" stroke="#333" stroke-width="0.8"/>
<line x1="197.29" y1="588.00" x2="197.29" y2="590.00" stroke="#333" stroke-width="0.8"/>
<line x1="199.20" y1="588.00" x2="199.20" y2="590.00" stroke="#333" stroke-width="0.8"/>
<line x1="212.10" y1="588.00" x2="212.10" y2="590.00" stroke="#333" stroke-width="0.8"/>
<line x1="74.25" y1="588.00" x2="74.25" y2="590.00" stroke="#333" stroke-width="0.8"/>
<line x1="78.88" y1="588.00" x2="78.88" y2="590.00" stroke="#333" stroke-width="0.8"/>
<line x1="82.58" y1="588.00" x2="82.58" y2="590.00" stroke="#333" stroke-width="0.8"/>
<line x1="63.15" y1="588.00" x2="63.15" y2="590.00" stroke="#333" stroke-width="0.8"/>
<line x1="58.53" y1="588.00" x2="58.53" y2="590.00" stroke="#333" stroke-width="0.8"/>
<line x1="54.83" y1="588.00" x2="54.83" y2="590.00" stroke="#333" stroke-width="0.8"/>
<line x1="68.70" y1="588.00" x2="68.70" y2="591.50" stroke="#222" stroke-width="1"/>
<line x1="87.20" y1="588.00" x2="87.20" y2="591.50" stroke="#222" stroke-width="1"/>
<line x1="126.10" y1="588.00" x2="126.10" y2="591.50" stroke="#222" stroke-width="1"/>
<line x1="163.70" y1="588.00" x2="163.70" y2="591.50" stroke="#222" stroke-width="1"/>
<line x1="200.90" y1="588.00" x2="200.90" y2="591.50" stroke="#222" stroke-width="1"/>
<text x="68.80" y="606.00" font-size="9.2" text-anchor="middle" fill="#1c1c1c">0</text>
<text x="87.20" y="606.00" font-size="9.2" text-anchor="end" fill="#1c1c1c">10</text>
<text x="91.60" y="601.30" font-size="9.2" text-anchor="start" fill="#1c1c1c">2</text>
<text x="127.50" y="606.00" font-size="9.2" text-anchor="end" fill="#1c1c1c">10</text>
<text x="130.80" y="601.30" font-size="9.2" text-anchor="start" fill="#1c1c1c">3</text>
<text x="165.30" y="606.00" font-size="9.2" text-anchor="end" fill="#1c1c1c">10</text>
<text x="168.80" y="601.30" font-size="9.2" text-anchor="start" fill="#1c1c1c">4</text>
<text x="200.30" y="606.00" font-size="9.2" text-anchor="end" fill="#1c1c1c">10</text>
<text x="203.80" y="601.30" font-size="9.2" text-anchor="start" fill="#1c1c1c">5</text>
<text x="25.20" y="503.80" font-size="12" font-weight="bold" text-anchor="middle" fill="#1c1c1c" transform="rotate(-90 25.2 503.8)">FSC-A</text>
<text x="132.80" y="623.00" font-size="12" font-weight="bold" text-anchor="middle" fill="#1c1c1c">SSC-A</text>
<text x="152.60" y="554.50" font-size="12" font-weight="bold" text-anchor="start" fill="#1c1c1c">PLT</text>
<path d="M298.0,587.0 L299.0,587.1 L300.7,587.2 L301.4,586.1 L303.0,586.4 L303.6,585.6 L305.3,585.1 L306.0,584.9 L307.0,585.0 L307.5,584.1 L308.9,583.7 L308.7,582.4 L310.0,582.0 L310.3,581.3 L311.9,580.0 L312.6,578.6 L313.0,577.0 L314.3,575.2 L314.2,573.1 L315.2,570.7 L316.0,568.0 L316.7,565.4 L317.1,562.9 L317.7,559.9 L318.5,558.0 L319.4,556.4 L320.1,554.2 L320.1,552.2 L320.5,549.7 L320.4,547.6 L321.2,544.3 L321.3,542.5 L322.0,540.0 L322.2,537.6 L323.1,535.2 L323.1,533.1 L324.0,530.8 L324.2,527.2 L324.6,524.2 L325.0,521.4 L326.0,518.0 L327.0,514.6 L327.3,512.2 L327.0,507.7 L328.0,505.0 L328.8,503.5 L329.0,500.5 L329.1,499.6 L329.6,497.0 L330.4,495.2 L329.9,493.1 L330.5,490.6 L331.0,488.0 L330.9,486.5 L331.9,483.9 L331.8,481.4 L332.5,479.0 L333.0,478.1 L333.1,477.4 L333.4,475.7 L334.0,475.0 L334.0,473.5 L334.3,471.1 L334.6,470.0 L335.5,468.0 L335.8,466.3 L335.4,464.4 L336.1,462.1 L336.5,461.0 L336.2,460.5 L336.5,458.2 L337.0,457.4 L337.5,456.0 L337.2,455.5 L337.8,455.5 L337.7,454.2 L338.5,454.0 L338.7,455.1 L339.0,454.7 L339.5,454.8 L339.5,455.5 L339.2,454.6 L340.5,454.1 L340.0,453.2 L340.5,452.0 L341.3,451.0 L341.4,450.5 L341.3,449.8 L342.0,449.5 L341.9,448.6 L342.0,448.1 L342.4,448.0 L343.2,447.0 L343.6,445.8 L344.2,445.7 L344.2,445.9 L344.5,445.4 L344.5,445.6 L344.9,445.9 L345.7,446.4 L345.5,447.5 L346.1,448.2 L345.7,449.6 L345.5,450.3 L346.3,452.0 L346.3,453.2 L347.1,455.3 L346.3,455.8 L347.0,457.0 L346.8,459.2 L347.2,461.0 L347.7,461.4 L347.9,463.7 L347.5,465.1 L348.8,466.8 L348.5,469.0 L348.8,471.0 L349.0,472.9 L349.3,474.1 L350.2,475.8 L350.4,476.5 L350.9,478.7 L351.4,479.7 L352.1,481.7 L352.5,482.7 L353.8,485.0 L353.6,488.5 L355.2,491.4 L355.6,494.2 L356.1,498.5 L356.8,500.7 L357.2,504.2 L358.4,508.6 L359.3,511.1 L360.0,515.4 L360.9,518.4 L361.0,521.0 L361.5,523.6 L362.6,526.2 L362.6,528.8 L363.5,530.8 L363.5,533.3 L365.1,536.4 L364.7,539.7 L365.5,542.0 L365.9,543.7 L365.9,546.6 L366.8,550.2 L367.5,552.0 L367.7,554.8 L368.9,556.4 L369.6,559.2 L369.5,561.0 L370.3,562.6 L371.1,565.5 L372.0,566.4 L372.8,568.8 L373.3,570.6 L373.8,572.5 L374.3,574.7 L375.5,576.0 L375.9,576.6 L377.1,578.2 L378.2,579.7 L378.5,581.0 L379.3,582.5 L379.7,583.4 L380.9,583.9 L381.5,585.0 L382.7,584.6 L383.2,585.2 L383.8,585.6 L384.0,586.6 L384.2,586.7 L386.0,586.4 L386.2,587.1 L387.0,587.0Z" fill="#050505" stroke="none" stroke-width="1"/>
<line x1="274.80" y1="434.00" x2="508.00" y2="434.00" stroke="#555" stroke-width="1.1"/>
<line x1="508.00" y1="434.00" x2="508.00" y2="587.00" stroke="#333" stroke-width="1.1"/>
<line x1="274.80" y1="433.50" x2="274.80" y2="587.70" stroke="#222" stroke-width="1.4"/>
<line x1="274.10" y1="587.00" x2="508.00" y2="587.00" stroke="#222" stroke-width="1.4"/>
<line x1="272.50" y1="587.00" x2="274.80" y2="587.00" stroke="#333" stroke-width="0.85"/>
<line x1="272.50" y1="577.42" x2="274.80" y2="577.42" stroke="#333" stroke-width="0.85"/>
<line x1="272.50" y1="567.85" x2="274.80" y2="567.85" stroke="#333" stroke-width="0.85"/>
<line x1="272.50" y1="558.27" x2="274.80" y2="558.27" stroke="#333" stroke-width="0.85"/>
<line x1="272.50" y1="548.70" x2="274.80" y2="548.70" stroke="#333" stroke-width="0.85"/>
<line x1="272.50" y1="539.12" x2="274.80" y2="539.12" stroke="#333" stroke-width="0.85"/>
<line x1="272.50" y1="529.55" x2="274.80" y2="529.55" stroke="#333" stroke-width="0.85"/>
<line x1="272.50" y1="519.98" x2="274.80" y2="519.98" stroke="#333" stroke-width="0.85"/>
<line x1="272.50" y1="510.40" x2="274.80" y2="510.40" stroke="#333" stroke-width="0.85"/>
<line x1="272.50" y1="500.82" x2="274.80" y2="500.82" stroke="#333" stroke-width="0.85"/>
<line x1="272.50" y1="491.25" x2="274.80" y2="491.25" stroke="#333" stroke-width="0.85"/>
<line x1="272.50" y1="481.68" x2="274.80" y2="481.68" stroke="#333" stroke-width="0.85"/>
<line x1="272.50" y1="472.10" x2="274.80" y2="472.10" stroke="#333" stroke-width="0.85"/>
<line x1="272.50" y1="462.52" x2="274.80" y2="462.52" stroke="#333" stroke-width="0.85"/>
<line x1="272.50" y1="452.95" x2="274.80" y2="452.95" stroke="#333" stroke-width="0.85"/>
<line x1="272.50" y1="443.38" x2="274.80" y2="443.38" stroke="#333" stroke-width="0.85"/>
<line x1="272.50" y1="433.80" x2="274.80" y2="433.80" stroke="#333" stroke-width="0.85"/>
<line x1="269.80" y1="587.00" x2="274.80" y2="587.00" stroke="#222" stroke-width="1"/>
<line x1="269.80" y1="548.70" x2="274.80" y2="548.70" stroke="#222" stroke-width="1"/>
<line x1="269.80" y1="510.40" x2="274.80" y2="510.40" stroke="#222" stroke-width="1"/>
<line x1="269.80" y1="472.10" x2="274.80" y2="472.10" stroke="#222" stroke-width="1"/>
<line x1="269.80" y1="433.80" x2="274.80" y2="433.80" stroke="#222" stroke-width="1"/>
<text x="266.60" y="476.00" font-size="9.2" text-anchor="end" fill="#1c1c1c">600</text>
<text x="266.60" y="514.30" font-size="9.2" text-anchor="end" fill="#1c1c1c">400</text>
<text x="266.60" y="552.60" font-size="9.2" text-anchor="end" fill="#1c1c1c">200</text>
<text x="266.60" y="441.80" font-size="9.2" text-anchor="end" fill="#1c1c1c">800</text>
<text x="266.40" y="590.90" font-size="9.2" text-anchor="end" fill="#1c1c1c">0</text>
<line x1="341.38" y1="587.00" x2="341.38" y2="589.00" stroke="#333" stroke-width="0.8"/>
<line x1="351.31" y1="587.00" x2="351.31" y2="589.00" stroke="#333" stroke-width="0.8"/>
<line x1="358.36" y1="587.00" x2="358.36" y2="589.00" stroke="#333" stroke-width="0.8"/>
<line x1="363.82" y1="587.00" x2="363.82" y2="589.00" stroke="#333" stroke-width="0.8"/>
<line x1="368.29" y1="587.00" x2="368.29" y2="589.00" stroke="#333" stroke-width="0.8"/>
<line x1="372.06" y1="587.00" x2="372.06" y2="589.00" stroke="#333" stroke-width="0.8"/>
<line x1="375.33" y1="587.00" x2="375.33" y2="589.00" stroke="#333" stroke-width="0.8"/>
<line x1="378.22" y1="587.00" x2="378.22" y2="589.00" stroke="#333" stroke-width="0.8"/>
<line x1="397.03" y1="587.00" x2="397.03" y2="589.00" stroke="#333" stroke-width="0.8"/>
<line x1="406.52" y1="587.00" x2="406.52" y2="589.00" stroke="#333" stroke-width="0.8"/>
<line x1="413.25" y1="587.00" x2="413.25" y2="589.00" stroke="#333" stroke-width="0.8"/>
<line x1="418.47" y1="587.00" x2="418.47" y2="589.00" stroke="#333" stroke-width="0.8"/>
<line x1="422.74" y1="587.00" x2="422.74" y2="589.00" stroke="#333" stroke-width="0.8"/>
<line x1="426.35" y1="587.00" x2="426.35" y2="589.00" stroke="#333" stroke-width="0.8"/>
<line x1="429.48" y1="587.00" x2="429.48" y2="589.00" stroke="#333" stroke-width="0.8"/>
<line x1="432.23" y1="587.00" x2="432.23" y2="589.00" stroke="#333" stroke-width="0.8"/>
<line x1="450.32" y1="587.00" x2="450.32" y2="589.00" stroke="#333" stroke-width="0.8"/>
<line x1="459.46" y1="587.00" x2="459.46" y2="589.00" stroke="#333" stroke-width="0.8"/>
<line x1="465.95" y1="587.00" x2="465.95" y2="589.00" stroke="#333" stroke-width="0.8"/>
<line x1="470.98" y1="587.00" x2="470.98" y2="589.00" stroke="#333" stroke-width="0.8"/>
<line x1="475.09" y1="587.00" x2="475.09" y2="589.00" stroke="#333" stroke-width="0.8"/>
<line x1="478.56" y1="587.00" x2="478.56" y2="589.00" stroke="#333" stroke-width="0.8"/>
<line x1="481.57" y1="587.00" x2="481.57" y2="589.00" stroke="#333" stroke-width="0.8"/>
<line x1="484.23" y1="587.00" x2="484.23" y2="589.00" stroke="#333" stroke-width="0.8"/>
<line x1="502.22" y1="587.00" x2="502.22" y2="589.00" stroke="#333" stroke-width="0.8"/>
<line x1="303.28" y1="587.00" x2="303.28" y2="589.00" stroke="#333" stroke-width="0.8"/>
<line x1="307.24" y1="587.00" x2="307.24" y2="589.00" stroke="#333" stroke-width="0.8"/>
<line x1="311.20" y1="587.00" x2="311.20" y2="589.00" stroke="#333" stroke-width="0.8"/>
<line x1="314.37" y1="587.00" x2="314.37" y2="589.00" stroke="#333" stroke-width="0.8"/>
<line x1="317.80" y1="587.00" x2="317.80" y2="589.00" stroke="#333" stroke-width="0.8"/>
<line x1="320.44" y1="587.00" x2="320.44" y2="589.00" stroke="#333" stroke-width="0.8"/>
<line x1="322.55" y1="587.00" x2="322.55" y2="589.00" stroke="#333" stroke-width="0.8"/>
<line x1="292.72" y1="587.00" x2="292.72" y2="589.00" stroke="#333" stroke-width="0.8"/>
<line x1="288.76" y1="587.00" x2="288.76" y2="589.00" stroke="#333" stroke-width="0.8"/>
<line x1="284.80" y1="587.00" x2="284.80" y2="589.00" stroke="#333" stroke-width="0.8"/>
<line x1="281.63" y1="587.00" x2="281.63" y2="589.00" stroke="#333" stroke-width="0.8"/>
<line x1="278.20" y1="587.00" x2="278.20" y2="589.00" stroke="#333" stroke-width="0.8"/>
<line x1="275.56" y1="587.00" x2="275.56" y2="589.00" stroke="#333" stroke-width="0.8"/>
<line x1="273.45" y1="587.00" x2="273.45" y2="589.00" stroke="#333" stroke-width="0.8"/>
<line x1="298.00" y1="587.00" x2="298.00" y2="590.50" stroke="#222" stroke-width="1"/>
<line x1="324.40" y1="587.00" x2="324.40" y2="590.50" stroke="#222" stroke-width="1"/>
<line x1="380.80" y1="587.00" x2="380.80" y2="590.50" stroke="#222" stroke-width="1"/>
<line x1="434.70" y1="587.00" x2="434.70" y2="590.50" stroke="#222" stroke-width="1"/>
<line x1="486.60" y1="587.00" x2="486.60" y2="590.50" stroke="#222" stroke-width="1"/>
<text x="298.80" y="604.50" font-size="9.2" text-anchor="middle" fill="#1c1c1c">0</text>
<text x="326.70" y="604.50" font-size="9.2" text-anchor="end" fill="#1c1c1c">10</text>
<text x="328.00" y="600.00" font-size="9.2" text-anchor="start" fill="#1c1c1c">2</text>
<text x="383.30" y="604.50" font-size="9.2" text-anchor="end" fill="#1c1c1c">10</text>
<text x="384.60" y="600.00" font-size="9.2" text-anchor="start" fill="#1c1c1c">3</text>
<text x="437.50" y="604.50" font-size="9.2" text-anchor="end" fill="#1c1c1c">10</text>
<text x="438.00" y="600.00" font-size="9.2" text-anchor="start" fill="#1c1c1c">4</text>
<text x="489.50" y="604.50" font-size="9.2" text-anchor="end" fill="#1c1c1c">10</text>
<text x="490.00" y="600.00" font-size="9.2" text-anchor="start" fill="#1c1c1c">5</text>
<text x="240.00" y="513.40" font-size="12" font-weight="bold" text-anchor="middle" fill="#1c1c1c" transform="rotate(-90 240 513.4)"># cells</text>
<text x="394.60" y="623.30" font-size="12.3" font-weight="bold" text-anchor="middle" fill="#1c1c1c">fluorescence</text>
<text x="329.80" y="445.20" font-size="12" font-weight="bold" text-anchor="start" fill="#1c1c1c">PLT</text>
<line x1="201.36" y1="678.05" x2="202.25" y2="678.05" stroke="#111" stroke-width="1.6"/>
<rect x="159.60" y="668.20" width="41.76" height="19.70" fill="#e8282a" stroke="#0a0a0a" stroke-width="1.7"/>
<line x1="153.80" y1="678.05" x2="159.60" y2="678.05" stroke="#111" stroke-width="1.2"/>
<text x="150.90" y="682.05" font-size="12.4" font-weight="bold" text-anchor="end" fill="#111">red blood cells</text>
<line x1="169.03" y1="708.15" x2="170.82" y2="708.15" stroke="#111" stroke-width="1.6"/>
<rect x="159.60" y="698.30" width="9.43" height="19.70" fill="#0a0a0a" stroke="#0a0a0a" stroke-width="1.7"/>
<line x1="153.80" y1="708.15" x2="159.60" y2="708.15" stroke="#111" stroke-width="1.2"/>
<text x="150.90" y="712.15" font-size="12.4" font-weight="bold" text-anchor="end" fill="#111">platelets</text>
<line x1="277.24" y1="738.95" x2="304.18" y2="738.95" stroke="#111" stroke-width="1.6"/>
<line x1="304.18" y1="732.45" x2="304.18" y2="745.45" stroke="#111" stroke-width="1.8"/>
<rect x="159.60" y="729.10" width="117.64" height="19.70" fill="#44a835" stroke="#0a0a0a" stroke-width="1.7"/>
<line x1="153.80" y1="738.95" x2="159.60" y2="738.95" stroke="#111" stroke-width="1.2"/>
<text x="150.90" y="742.95" font-size="12.4" font-weight="bold" text-anchor="end" fill="#111">neutrophils</text>
<line x1="207.19" y1="770.10" x2="215.28" y2="770.10" stroke="#111" stroke-width="1.6"/>
<line x1="215.28" y1="763.60" x2="215.28" y2="776.60" stroke="#111" stroke-width="1.8"/>
<rect x="159.60" y="760.40" width="47.59" height="19.40" fill="#f0812a" stroke="#0a0a0a" stroke-width="1.7"/>
<line x1="153.80" y1="770.10" x2="159.60" y2="770.10" stroke="#111" stroke-width="1.2"/>
<text x="150.90" y="774.10" font-size="12.4" font-weight="bold" text-anchor="end" fill="#111">lymphocytes</text>
<line x1="326.63" y1="800.30" x2="354.47" y2="800.30" stroke="#111" stroke-width="1.6"/>
<line x1="354.47" y1="793.80" x2="354.47" y2="806.80" stroke="#111" stroke-width="1.8"/>
<rect x="159.60" y="790.40" width="167.03" height="19.80" fill="#334c9e" stroke="#0a0a0a" stroke-width="1.7"/>
<line x1="153.80" y1="800.30" x2="159.60" y2="800.30" stroke="#111" stroke-width="1.2"/>
<text x="150.90" y="804.30" font-size="12.4" font-weight="bold" text-anchor="end" fill="#111">monocytes</text>
<line x1="170.30" y1="700.50" x2="170.30" y2="715.80" stroke="#0a0a0a" stroke-width="2.2"/>
<line x1="159.60" y1="662.30" x2="159.60" y2="816.00" stroke="#111" stroke-width="1.5"/>
<line x1="158.90" y1="815.00" x2="430.70" y2="815.00" stroke="#111" stroke-width="1.7"/>
<line x1="430.00" y1="662.30" x2="430.00" y2="816.00" stroke="#111" stroke-width="1.5"/>
<line x1="159.60" y1="815.00" x2="159.60" y2="819.50" stroke="#111" stroke-width="1.2"/>
<text x="159.60" y="831.80" font-size="12" text-anchor="middle" fill="#1a1a1a">0</text>
<line x1="204.50" y1="815.00" x2="204.50" y2="819.50" stroke="#111" stroke-width="1.2"/>
<text x="204.50" y="831.80" font-size="12" text-anchor="middle" fill="#1a1a1a">1 000</text>
<line x1="249.40" y1="815.00" x2="249.40" y2="819.50" stroke="#111" stroke-width="1.2"/>
<text x="249.40" y="831.80" font-size="12" text-anchor="middle" fill="#1a1a1a">2 000</text>
<line x1="294.30" y1="815.00" x2="294.30" y2="819.50" stroke="#111" stroke-width="1.2"/>
<text x="294.30" y="831.80" font-size="12" text-anchor="middle" fill="#1a1a1a">3 000</text>
<line x1="339.20" y1="815.00" x2="339.20" y2="819.50" stroke="#111" stroke-width="1.2"/>
<text x="339.20" y="831.80" font-size="12" text-anchor="middle" fill="#1a1a1a">4 000</text>
<line x1="384.10" y1="815.00" x2="384.10" y2="819.50" stroke="#111" stroke-width="1.2"/>
<text x="384.10" y="831.80" font-size="12" text-anchor="middle" fill="#1a1a1a">5 000</text>
<line x1="429.00" y1="815.00" x2="429.00" y2="819.50" stroke="#111" stroke-width="1.2"/>
<text x="429.00" y="831.80" font-size="12" text-anchor="middle" fill="#1a1a1a">6 000</text>
<line x1="430.00" y1="662.60" x2="436.00" y2="662.60" stroke="#111" stroke-width="1.7"/>
<text x="439.50" y="666.90" font-size="12" text-anchor="start" fill="#1a1a1a">10 000</text>
<line x1="430.00" y1="693.50" x2="436.00" y2="693.50" stroke="#111" stroke-width="1.7"/>
<text x="439.50" y="697.80" font-size="12" text-anchor="start" fill="#1a1a1a">1 000</text>
<line x1="430.00" y1="724.20" x2="436.00" y2="724.20" stroke="#111" stroke-width="1.7"/>
<text x="439.50" y="728.50" font-size="12" text-anchor="start" fill="#1a1a1a">100</text>
<line x1="430.00" y1="754.70" x2="436.00" y2="754.70" stroke="#111" stroke-width="1.7"/>
<text x="439.50" y="759.00" font-size="12" text-anchor="start" fill="#1a1a1a">10</text>
<line x1="430.00" y1="785.40" x2="436.00" y2="785.40" stroke="#111" stroke-width="1.7"/>
<text x="439.50" y="789.70" font-size="12" text-anchor="start" fill="#1a1a1a">1</text>
<line x1="430.00" y1="684.06" x2="433.60" y2="684.06" stroke="#111" stroke-width="1.3"/>
<line x1="430.00" y1="678.65" x2="433.60" y2="678.65" stroke="#111" stroke-width="1.3"/>
<line x1="430.00" y1="674.82" x2="433.60" y2="674.82" stroke="#111" stroke-width="1.3"/>
<line x1="430.00" y1="671.84" x2="433.60" y2="671.84" stroke="#111" stroke-width="1.3"/>
<line x1="430.00" y1="669.41" x2="433.60" y2="669.41" stroke="#111" stroke-width="1.3"/>
<line x1="430.00" y1="667.36" x2="433.60" y2="667.36" stroke="#111" stroke-width="1.3"/>
<line x1="430.00" y1="665.58" x2="433.60" y2="665.58" stroke="#111" stroke-width="1.3"/>
<line x1="430.00" y1="664.00" x2="433.60" y2="664.00" stroke="#111" stroke-width="1.3"/>
<line x1="430.00" y1="714.96" x2="433.60" y2="714.96" stroke="#111" stroke-width="1.3"/>
<line x1="430.00" y1="709.55" x2="433.60" y2="709.55" stroke="#111" stroke-width="1.3"/>
<line x1="430.00" y1="705.72" x2="433.60" y2="705.72" stroke="#111" stroke-width="1.3"/>
<line x1="430.00" y1="702.74" x2="433.60" y2="702.74" stroke="#111" stroke-width="1.3"/>
<line x1="430.00" y1="700.31" x2="433.60" y2="700.31" stroke="#111" stroke-width="1.3"/>
<line x1="430.00" y1="698.26" x2="433.60" y2="698.26" stroke="#111" stroke-width="1.3"/>
<line x1="430.00" y1="696.48" x2="433.60" y2="696.48" stroke="#111" stroke-width="1.3"/>
<line x1="430.00" y1="694.90" x2="433.60" y2="694.90" stroke="#111" stroke-width="1.3"/>
<line x1="430.00" y1="745.66" x2="433.60" y2="745.66" stroke="#111" stroke-width="1.3"/>
<line x1="430.00" y1="740.25" x2="433.60" y2="740.25" stroke="#111" stroke-width="1.3"/>
<line x1="430.00" y1="736.42" x2="433.60" y2="736.42" stroke="#111" stroke-width="1.3"/>
<line x1="430.00" y1="733.44" x2="433.60" y2="733.44" stroke="#111" stroke-width="1.3"/>
<line x1="430.00" y1="731.01" x2="433.60" y2="731.01" stroke="#111" stroke-width="1.3"/>
<line x1="430.00" y1="728.96" x2="433.60" y2="728.96" stroke="#111" stroke-width="1.3"/>
<line x1="430.00" y1="727.18" x2="433.60" y2="727.18" stroke="#111" stroke-width="1.3"/>
<line x1="430.00" y1="725.60" x2="433.60" y2="725.60" stroke="#111" stroke-width="1.3"/>
<line x1="430.00" y1="776.16" x2="433.60" y2="776.16" stroke="#111" stroke-width="1.3"/>
<line x1="430.00" y1="770.75" x2="433.60" y2="770.75" stroke="#111" stroke-width="1.3"/>
<line x1="430.00" y1="766.92" x2="433.60" y2="766.92" stroke="#111" stroke-width="1.3"/>
<line x1="430.00" y1="763.94" x2="433.60" y2="763.94" stroke="#111" stroke-width="1.3"/>
<line x1="430.00" y1="761.51" x2="433.60" y2="761.51" stroke="#111" stroke-width="1.3"/>
<line x1="430.00" y1="759.46" x2="433.60" y2="759.46" stroke="#111" stroke-width="1.3"/>
<line x1="430.00" y1="757.68" x2="433.60" y2="757.68" stroke="#111" stroke-width="1.3"/>
<line x1="430.00" y1="756.10" x2="433.60" y2="756.10" stroke="#111" stroke-width="1.3"/>
<line x1="430.00" y1="806.86" x2="433.60" y2="806.86" stroke="#111" stroke-width="1.3"/>
<line x1="430.00" y1="801.45" x2="433.60" y2="801.45" stroke="#111" stroke-width="1.3"/>
<line x1="430.00" y1="797.62" x2="433.60" y2="797.62" stroke="#111" stroke-width="1.3"/>
<line x1="430.00" y1="794.64" x2="433.60" y2="794.64" stroke="#111" stroke-width="1.3"/>
<line x1="430.00" y1="792.21" x2="433.60" y2="792.21" stroke="#111" stroke-width="1.3"/>
<line x1="430.00" y1="790.16" x2="433.60" y2="790.16" stroke="#111" stroke-width="1.3"/>
<line x1="430.00" y1="788.38" x2="433.60" y2="788.38" stroke="#111" stroke-width="1.3"/>
<line x1="430.00" y1="786.80" x2="433.60" y2="786.80" stroke="#111" stroke-width="1.3"/>
<text x="150.90" y="0.00" font-size="12" text-anchor="start" fill="#1c1c1c"></text>
<text x="204.60" y="688.30" font-size="16.5" text-anchor="start" fill="#222" letter-spacing="0.9">**</text>
<text x="175.90" y="718.00" font-size="16.5" text-anchor="start" fill="#222" letter-spacing="0.9">***</text>
<text x="220.90" y="779.50" font-size="16.5" text-anchor="start" fill="#222" letter-spacing="0.9">**</text>
<line x1="231.00" y1="679.60" x2="231.00" y2="710.80" stroke="#222" stroke-width="1.8"/>
<text x="237.20" y="699.40" font-size="17" text-anchor="start" fill="#222" stroke="#222" stroke-width="0.35">#</text>
<line x1="368.50" y1="739.00" x2="368.50" y2="799.00" stroke="#222" stroke-width="1.8"/>
<text x="374.00" y="775.20" font-size="21" text-anchor="start" fill="#222" stroke="#222" stroke-width="0.35">#</text>
<text x="505.60" y="740.60" font-size="12.4" font-weight="bold" text-anchor="middle" fill="#111" transform="rotate(90 505.6 740.6)">blood cell count</text>
<text x="483.3" y="740.5" font-size="12.3" font-weight="bold" text-anchor="middle" fill="#111" transform="rotate(90 483.3 740.5)">(x 10<tspan dy="-6" font-size="11">9</tspan><tspan dy="6">cells/ml)</tspan></text>
<text x="306.30" y="855.30" font-size="12.15" font-weight="bold" text-anchor="middle" fill="#111">intracellular DAF-FM fluorescece (ΔMFI)</text>
</svg>
</body></html>
